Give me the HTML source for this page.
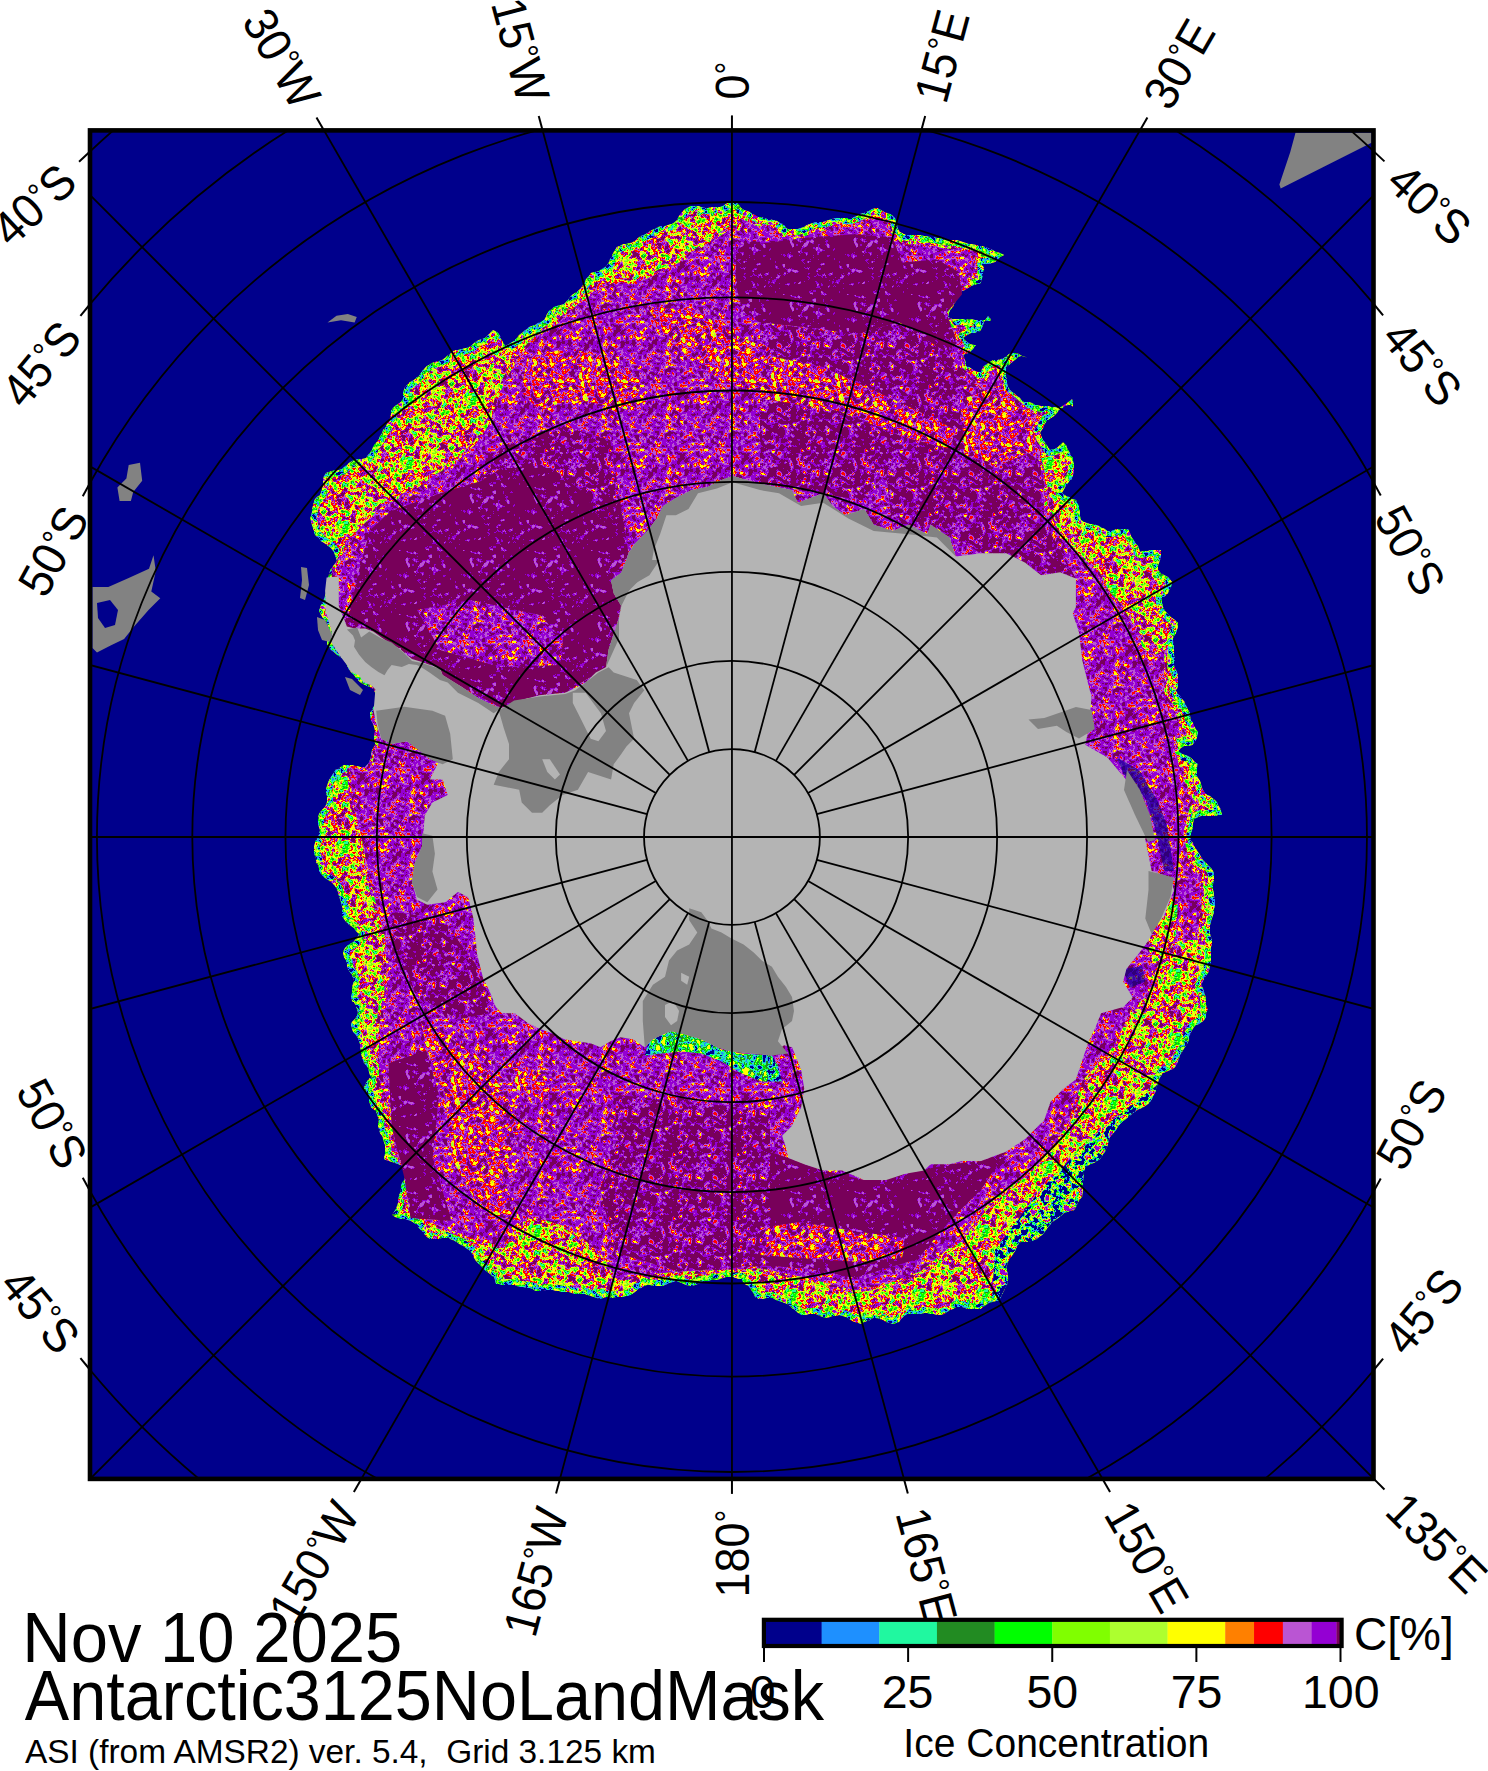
<!DOCTYPE html>
<html><head><meta charset="utf-8"><style>
html,body{margin:0;padding:0;background:#fff;}
svg{display:block;}
text{font-family:"Liberation Sans", sans-serif;}
</style></head><body>
<svg width="1488" height="1771" viewBox="0 0 1488 1771">
<defs><pattern id="tfo" width="64" height="64" patternUnits="userSpaceOnUse"><rect width="64" height="64" fill="rgb(0, 255, 0)"/><path fill="#00008c" d="M18 0h2v1h-2zM21 1h1v1h-1zM35 1h2v1h-2zM63 1h1v1h-1zM21 2h2v1h-2zM27 2h1v1h-1zM35 2h2v1h-2zM57 2h1v1h-1zM61 2h2v1h-2zM21 3h1v1h-1zM47 3h1v1h-1zM56 3h3v1h-3zM14 4h1v1h-1zM21 4h1v1h-1zM47 4h1v1h-1zM57 4h3v1h-3zM14 5h1v1h-1zM46 5h2v1h-2zM51 5h2v1h-2zM58 5h2v1h-2zM61 5h1v1h-1zM14 6h2v1h-2zM44 6h1v1h-1zM46 6h2v1h-2zM51 6h1v1h-1zM58 6h2v1h-2zM9 7h2v1h-2zM14 7h1v1h-1zM37 7h2v1h-2zM52 7h1v1h-1zM60 7h1v1h-1zM22 8h1v1h-1zM27 8h2v1h-2zM32 8h1v1h-1zM39 8h1v1h-1zM63 8h1v1h-1zM0 9h1v1h-1zM29 9h5v1h-5zM38 9h1v1h-1zM29 10h4v1h-4zM34 10h1v1h-1zM17 11h2v1h-2zM30 11h2v1h-2zM6 12h1v1h-1zM17 12h1v1h-1zM19 12h1v1h-1zM18 13h1v1h-1zM20 14h1v1h-1zM20 15h1v1h-1zM53 15h2v1h-2zM0 16h1v1h-1zM20 16h3v1h-3zM39 16h2v1h-2zM62 16h2v1h-2zM1 17h1v1h-1zM52 17h1v1h-1zM22 18h2v1h-2zM33 18h2v1h-2zM1 19h2v1h-2zM11 19h1v1h-1zM22 19h1v1h-1zM33 19h2v1h-2zM1 20h2v1h-2zM33 20h2v1h-2zM33 21h1v1h-1zM6 22h1v1h-1zM46 22h1v1h-1zM46 23h1v1h-1zM18 24h5v1h-5zM59 24h1v1h-1zM16 25h5v1h-5zM59 25h2v1h-2zM63 25h1v1h-1zM0 26h2v1h-2zM16 26h4v1h-4zM26 26h1v1h-1zM59 26h2v1h-2zM0 27h3v1h-3zM27 27h1v1h-1zM27 29h1v1h-1zM48 29h2v1h-2zM13 30h2v1h-2zM49 30h2v1h-2zM23 31h1v1h-1zM11 32h1v1h-1zM15 32h1v1h-1zM22 34h2v1h-2zM0 35h1v1h-1zM22 35h1v1h-1zM55 35h2v1h-2zM42 36h1v1h-1zM55 36h2v1h-2zM16 37h2v1h-2zM42 37h1v1h-1zM14 38h4v1h-4zM36 38h1v1h-1zM42 38h1v1h-1zM15 39h3v1h-3zM34 39h4v1h-4zM35 40h2v1h-2zM62 40h2v1h-2zM45 41h1v1h-1zM56 41h4v1h-4zM44 42h1v1h-1zM57 42h3v1h-3zM10 43h1v1h-1zM57 43h2v1h-2zM2 44h1v1h-1zM9 44h4v1h-4zM10 45h4v1h-4zM35 45h3v1h-3zM47 45h1v1h-1zM7 46h2v1h-2zM11 46h2v1h-2zM36 46h3v1h-3zM37 47h2v1h-2zM38 48h1v1h-1zM2 53h1v1h-1zM19 53h1v1h-1zM3 54h1v1h-1zM19 54h1v1h-1zM30 54h4v1h-4zM19 55h1v1h-1zM25 55h1v1h-1zM29 55h5v1h-5zM20 56h1v1h-1zM27 56h1v1h-1zM29 56h5v1h-5zM28 57h3v1h-3zM38 57h1v1h-1zM44 57h1v1h-1zM44 58h2v1h-2zM11 59h3v1h-3zM46 59h1v1h-1zM10 60h3v1h-3zM9 61h2v1h-2zM12 61h1v1h-1z"/><path fill="#1e90ff" d="M17 0h1v1h-1zM20 0h2v1h-2zM27 0h1v1h-1zM32 0h1v1h-1zM37 0h1v1h-1zM5 1h1v1h-1zM16 1h3v1h-3zM20 1h1v1h-1zM22 1h1v1h-1zM28 1h1v1h-1zM32 1h1v1h-1zM34 1h1v1h-1zM37 1h1v1h-1zM47 1h1v1h-1zM51 1h1v1h-1zM61 1h2v1h-2zM15 2h1v1h-1zM20 2h1v1h-1zM23 2h1v1h-1zM26 2h1v1h-1zM28 2h1v1h-1zM32 2h3v1h-3zM37 2h1v1h-1zM46 2h2v1h-2zM56 2h1v1h-1zM58 2h2v1h-2zM63 2h1v1h-1zM15 3h1v1h-1zM22 3h1v1h-1zM24 3h5v1h-5zM35 3h3v1h-3zM46 3h1v1h-1zM55 3h1v1h-1zM59 3h4v1h-4zM22 4h1v1h-1zM25 4h1v1h-1zM46 4h1v1h-1zM51 4h2v1h-2zM56 4h1v1h-1zM60 4h3v1h-3zM13 5h1v1h-1zM15 5h1v1h-1zM24 5h2v1h-2zM45 5h1v1h-1zM53 5h1v1h-1zM57 5h1v1h-1zM60 5h1v1h-1zM62 5h1v1h-1zM7 6h1v1h-1zM13 6h1v1h-1zM25 6h1v1h-1zM38 6h1v1h-1zM45 6h1v1h-1zM48 6h3v1h-3zM52 6h2v1h-2zM57 6h1v1h-1zM61 6h2v1h-2zM0 7h1v1h-1zM13 7h1v1h-1zM15 7h1v1h-1zM18 7h2v1h-2zM22 7h2v1h-2zM25 7h1v1h-1zM27 7h3v1h-3zM39 7h1v1h-1zM44 7h5v1h-5zM50 7h2v1h-2zM53 7h1v1h-1zM58 7h2v1h-2zM62 7h1v1h-1zM0 8h1v1h-1zM9 8h2v1h-2zM15 8h2v1h-2zM21 8h1v1h-1zM23 8h4v1h-4zM29 8h3v1h-3zM33 8h1v1h-1zM37 8h2v1h-2zM60 8h3v1h-3zM10 9h1v1h-1zM27 9h2v1h-2zM34 9h1v1h-1zM37 9h1v1h-1zM63 9h1v1h-1zM12 10h2v1h-2zM16 10h1v1h-1zM28 10h1v1h-1zM33 10h1v1h-1zM35 10h4v1h-4zM12 11h2v1h-2zM15 11h2v1h-2zM26 11h3v1h-3zM32 11h2v1h-2zM36 11h2v1h-2zM7 12h1v1h-1zM12 12h1v1h-1zM16 12h1v1h-1zM18 12h1v1h-1zM26 12h2v1h-2zM31 12h2v1h-2zM50 12h2v1h-2zM17 13h1v1h-1zM19 13h2v1h-2zM21 14h1v1h-1zM53 14h1v1h-1zM2 15h1v1h-1zM19 15h1v1h-1zM22 15h1v1h-1zM38 15h3v1h-3zM52 15h1v1h-1zM55 15h2v1h-2zM62 15h2v1h-2zM1 16h1v1h-1zM19 16h1v1h-1zM23 16h2v1h-2zM51 16h3v1h-3zM0 17h1v1h-1zM20 17h6v1h-6zM33 17h2v1h-2zM39 17h2v1h-2zM47 17h1v1h-1zM50 17h2v1h-2zM63 17h1v1h-1zM0 18h1v1h-1zM2 18h1v1h-1zM11 18h2v1h-2zM21 18h1v1h-1zM24 18h2v1h-2zM35 18h1v1h-1zM51 18h1v1h-1zM12 19h1v1h-1zM21 19h1v1h-1zM23 19h1v1h-1zM32 19h1v1h-1zM35 19h2v1h-2zM0 20h1v1h-1zM10 20h2v1h-2zM22 20h1v1h-1zM36 20h2v1h-2zM63 20h1v1h-1zM3 21h2v1h-2zM6 21h1v1h-1zM29 21h1v1h-1zM31 21h2v1h-2zM37 21h1v1h-1zM58 21h1v1h-1zM5 22h1v1h-1zM8 22h1v1h-1zM22 22h1v1h-1zM28 22h2v1h-2zM6 23h3v1h-3zM20 23h3v1h-3zM44 23h2v1h-2zM17 24h1v1h-1zM45 24h2v1h-2zM58 24h1v1h-1zM60 24h3v1h-3zM0 25h3v1h-3zM21 25h3v1h-3zM58 25h1v1h-1zM61 25h2v1h-2zM2 26h2v1h-2zM25 26h1v1h-1zM58 26h1v1h-1zM61 26h1v1h-1zM63 26h1v1h-1zM4 27h3v1h-3zM18 27h2v1h-2zM26 27h1v1h-1zM63 27h1v1h-1zM0 28h2v1h-2zM26 28h3v1h-3zM13 29h2v1h-2zM47 29h1v1h-1zM50 29h2v1h-2zM12 30h1v1h-1zM45 30h4v1h-4zM51 30h1v1h-1zM11 31h4v1h-4zM16 31h1v1h-1zM19 31h1v1h-1zM22 31h1v1h-1zM24 31h3v1h-3zM45 31h2v1h-2zM49 31h3v1h-3zM12 32h1v1h-1zM16 32h1v1h-1zM21 32h5v1h-5zM50 32h2v1h-2zM60 32h2v1h-2zM9 33h3v1h-3zM15 33h2v1h-2zM22 33h2v1h-2zM52 33h1v1h-1zM60 33h2v1h-2zM10 34h1v1h-1zM20 34h2v1h-2zM32 34h1v1h-1zM50 34h2v1h-2zM55 34h2v1h-2zM1 35h1v1h-1zM8 35h2v1h-2zM21 35h1v1h-1zM32 35h1v1h-1zM57 35h1v1h-1zM7 36h2v1h-2zM16 36h2v1h-2zM22 36h1v1h-1zM41 36h1v1h-1zM43 36h1v1h-1zM15 37h1v1h-1zM31 37h1v1h-1zM41 37h1v1h-1zM43 37h1v1h-1zM54 37h1v1h-1zM31 38h2v1h-2zM34 38h2v1h-2zM37 38h2v1h-2zM41 38h1v1h-1zM43 38h1v1h-1zM13 39h2v1h-2zM38 39h1v1h-1zM42 39h1v1h-1zM46 39h1v1h-1zM63 39h1v1h-1zM0 40h1v1h-1zM13 40h1v1h-1zM16 40h1v1h-1zM46 40h1v1h-1zM56 40h4v1h-4zM0 41h1v1h-1zM13 41h1v1h-1zM44 41h1v1h-1zM46 41h1v1h-1zM55 41h1v1h-1zM60 41h4v1h-4zM12 42h2v1h-2zM43 42h1v1h-1zM45 42h1v1h-1zM56 42h1v1h-1zM60 42h2v1h-2zM2 43h2v1h-2zM9 43h1v1h-1zM11 43h3v1h-3zM59 43h1v1h-1zM1 44h1v1h-1zM3 44h1v1h-1zM7 44h2v1h-2zM13 44h1v1h-1zM25 44h1v1h-1zM2 45h1v1h-1zM7 45h3v1h-3zM34 45h1v1h-1zM38 45h1v1h-1zM2 46h1v1h-1zM9 46h2v1h-2zM13 46h1v1h-1zM35 46h1v1h-1zM39 46h1v1h-1zM46 46h1v1h-1zM7 47h1v1h-1zM39 47h1v1h-1zM45 47h2v1h-2zM44 48h1v1h-1zM18 49h1v1h-1zM38 49h1v1h-1zM38 50h1v1h-1zM44 50h1v1h-1zM60 50h1v1h-1zM20 51h2v1h-2zM36 51h1v1h-1zM38 51h1v1h-1zM3 52h1v1h-1zM8 52h1v1h-1zM20 52h1v1h-1zM36 52h1v1h-1zM3 53h1v1h-1zM28 53h3v1h-3zM33 53h1v1h-1zM54 53h1v1h-1zM2 54h1v1h-1zM20 54h1v1h-1zM26 54h1v1h-1zM28 54h2v1h-2zM34 54h1v1h-1zM51 54h2v1h-2zM58 54h1v1h-1zM61 54h1v1h-1zM2 55h1v1h-1zM20 55h1v1h-1zM24 55h1v1h-1zM26 55h1v1h-1zM28 55h1v1h-1zM34 55h1v1h-1zM38 55h1v1h-1zM61 55h2v1h-2zM19 56h1v1h-1zM21 56h1v1h-1zM25 56h2v1h-2zM28 56h1v1h-1zM37 56h2v1h-2zM44 56h1v1h-1zM62 56h1v1h-1zM27 57h1v1h-1zM31 57h2v1h-2zM37 57h1v1h-1zM43 57h1v1h-1zM28 58h2v1h-2zM36 58h1v1h-1zM43 58h1v1h-1zM9 59h2v1h-2zM45 59h1v1h-1zM47 59h1v1h-1zM9 60h1v1h-1zM13 60h1v1h-1zM46 60h1v1h-1zM11 61h1v1h-1zM13 61h1v1h-1zM28 61h1v1h-1zM47 61h1v1h-1zM53 61h1v1h-1zM47 62h1v1h-1zM52 62h1v1h-1zM18 63h1v1h-1zM45 63h4v1h-4z"/><path fill="#20faa0" d="M4 0h2v1h-2zM16 0h1v1h-1zM26 0h1v1h-1zM28 0h1v1h-1zM31 0h1v1h-1zM36 0h1v1h-1zM44 0h4v1h-4zM62 0h2v1h-2zM0 1h1v1h-1zM4 1h1v1h-1zM8 1h1v1h-1zM19 1h1v1h-1zM26 1h2v1h-2zM30 1h2v1h-2zM33 1h1v1h-1zM38 1h1v1h-1zM46 1h1v1h-1zM52 1h1v1h-1zM59 1h2v1h-2zM0 2h1v1h-1zM9 2h1v1h-1zM16 2h2v1h-2zM25 2h1v1h-1zM29 2h1v1h-1zM31 2h1v1h-1zM38 2h1v1h-1zM55 2h1v1h-1zM60 2h1v1h-1zM14 3h1v1h-1zM16 3h1v1h-1zM20 3h1v1h-1zM23 3h1v1h-1zM29 3h1v1h-1zM34 3h1v1h-1zM48 3h1v1h-1zM53 3h1v1h-1zM63 3h1v1h-1zM15 4h1v1h-1zM20 4h1v1h-1zM23 4h2v1h-2zM26 4h1v1h-1zM29 4h1v1h-1zM45 4h1v1h-1zM48 4h1v1h-1zM53 4h1v1h-1zM21 5h1v1h-1zM44 5h1v1h-1zM50 5h1v1h-1zM8 6h5v1h-5zM16 6h1v1h-1zM21 6h2v1h-2zM24 6h1v1h-1zM29 6h1v1h-1zM36 6h2v1h-2zM60 6h1v1h-1zM7 7h2v1h-2zM11 7h2v1h-2zM16 7h2v1h-2zM21 7h1v1h-1zM24 7h1v1h-1zM26 7h1v1h-1zM30 7h1v1h-1zM40 7h1v1h-1zM43 7h1v1h-1zM49 7h1v1h-1zM61 7h1v1h-1zM63 7h1v1h-1zM1 8h1v1h-1zM8 8h1v1h-1zM11 8h3v1h-3zM17 8h3v1h-3zM34 8h1v1h-1zM40 8h1v1h-1zM48 8h1v1h-1zM52 8h2v1h-2zM59 8h1v1h-1zM1 9h1v1h-1zM9 9h1v1h-1zM11 9h1v1h-1zM14 9h3v1h-3zM18 9h1v1h-1zM23 9h2v1h-2zM35 9h2v1h-2zM39 9h2v1h-2zM52 9h1v1h-1zM61 9h2v1h-2zM1 10h1v1h-1zM11 10h1v1h-1zM14 10h1v1h-1zM17 10h2v1h-2zM52 10h1v1h-1zM7 11h1v1h-1zM11 11h1v1h-1zM14 11h1v1h-1zM19 11h1v1h-1zM25 11h1v1h-1zM29 11h1v1h-1zM34 11h2v1h-2zM49 11h4v1h-4zM11 12h1v1h-1zM13 12h3v1h-3zM20 12h1v1h-1zM25 12h1v1h-1zM28 12h1v1h-1zM30 12h1v1h-1zM35 12h2v1h-2zM49 12h1v1h-1zM52 12h1v1h-1zM2 13h1v1h-1zM6 13h3v1h-3zM11 13h3v1h-3zM16 13h1v1h-1zM26 13h2v1h-2zM31 13h1v1h-1zM36 13h2v1h-2zM50 13h2v1h-2zM53 13h1v1h-1zM62 13h1v1h-1zM2 14h2v1h-2zM12 14h1v1h-1zM17 14h3v1h-3zM22 14h1v1h-1zM36 14h1v1h-1zM51 14h2v1h-2zM54 14h1v1h-1zM62 14h1v1h-1zM0 15h2v1h-2zM12 15h1v1h-1zM21 15h1v1h-1zM37 15h1v1h-1zM51 15h1v1h-1zM61 15h1v1h-1zM3 16h2v1h-2zM25 16h1v1h-1zM32 16h1v1h-1zM38 16h1v1h-1zM41 16h1v1h-1zM47 16h1v1h-1zM54 16h2v1h-2zM61 16h1v1h-1zM19 17h1v1h-1zM46 17h1v1h-1zM53 17h1v1h-1zM1 18h1v1h-1zM3 18h1v1h-1zM20 18h1v1h-1zM26 18h1v1h-1zM36 18h1v1h-1zM46 18h2v1h-2zM52 18h1v1h-1zM0 19h1v1h-1zM3 19h1v1h-1zM20 19h1v1h-1zM24 19h3v1h-3zM37 19h1v1h-1zM47 19h2v1h-2zM3 20h1v1h-1zM12 20h1v1h-1zM21 20h1v1h-1zM25 20h1v1h-1zM32 20h1v1h-1zM35 20h1v1h-1zM38 20h1v1h-1zM58 20h1v1h-1zM1 21h2v1h-2zM5 21h1v1h-1zM7 21h6v1h-6zM20 21h3v1h-3zM26 21h2v1h-2zM30 21h1v1h-1zM34 21h1v1h-1zM46 21h2v1h-2zM62 21h1v1h-1zM2 22h1v1h-1zM4 22h1v1h-1zM7 22h1v1h-1zM21 22h1v1h-1zM33 22h1v1h-1zM45 22h1v1h-1zM47 22h1v1h-1zM58 22h1v1h-1zM63 22h1v1h-1zM4 23h2v1h-2zM13 23h1v1h-1zM47 23h1v1h-1zM0 24h1v1h-1zM6 24h2v1h-2zM16 24h1v1h-1zM44 24h1v1h-1zM56 24h1v1h-1zM63 24h1v1h-1zM4 25h2v1h-2zM7 25h1v1h-1zM15 25h1v1h-1zM37 25h1v1h-1zM4 26h4v1h-4zM9 26h1v1h-1zM20 26h1v1h-1zM24 26h1v1h-1zM27 26h2v1h-2zM35 26h3v1h-3zM56 26h2v1h-2zM62 26h1v1h-1zM3 27h1v1h-1zM7 27h3v1h-3zM25 27h1v1h-1zM28 27h2v1h-2zM36 27h1v1h-1zM38 27h2v1h-2zM56 27h1v1h-1zM61 27h1v1h-1zM2 28h1v1h-1zM4 28h2v1h-2zM13 28h1v1h-1zM38 28h1v1h-1zM40 28h1v1h-1zM45 28h6v1h-6zM63 28h1v1h-1zM12 29h1v1h-1zM26 29h1v1h-1zM28 29h2v1h-2zM45 29h2v1h-2zM11 30h1v1h-1zM18 30h1v1h-1zM23 30h2v1h-2zM26 30h3v1h-3zM52 30h1v1h-1zM15 31h1v1h-1zM17 31h2v1h-2zM20 31h2v1h-2zM27 31h1v1h-1zM47 31h2v1h-2zM52 31h1v1h-1zM60 31h1v1h-1zM13 32h1v1h-1zM17 32h3v1h-3zM26 32h1v1h-1zM45 32h1v1h-1zM52 32h1v1h-1zM59 32h1v1h-1zM17 33h1v1h-1zM21 33h1v1h-1zM24 33h2v1h-2zM32 33h2v1h-2zM50 33h2v1h-2zM53 33h1v1h-1zM59 33h1v1h-1zM63 33h1v1h-1zM0 34h1v1h-1zM8 34h2v1h-2zM11 34h1v1h-1zM15 34h2v1h-2zM24 34h1v1h-1zM31 34h1v1h-1zM33 34h1v1h-1zM35 34h1v1h-1zM52 34h3v1h-3zM57 34h1v1h-1zM59 34h1v1h-1zM61 34h1v1h-1zM63 34h1v1h-1zM18 35h2v1h-2zM23 35h1v1h-1zM31 35h1v1h-1zM33 35h1v1h-1zM42 35h2v1h-2zM1 36h1v1h-1zM6 36h1v1h-1zM9 36h1v1h-1zM15 36h1v1h-1zM18 36h1v1h-1zM23 36h1v1h-1zM29 36h4v1h-4zM54 36h1v1h-1zM57 36h1v1h-1zM0 37h1v1h-1zM8 37h1v1h-1zM18 37h1v1h-1zM28 37h3v1h-3zM32 37h1v1h-1zM44 37h3v1h-3zM55 37h1v1h-1zM0 38h1v1h-1zM13 38h1v1h-1zM18 38h1v1h-1zM29 38h2v1h-2zM33 38h1v1h-1zM63 38h1v1h-1zM0 39h1v1h-1zM18 39h1v1h-1zM33 39h1v1h-1zM41 39h1v1h-1zM43 39h1v1h-1zM45 39h1v1h-1zM62 39h1v1h-1zM14 40h1v1h-1zM17 40h1v1h-1zM34 40h1v1h-1zM37 40h1v1h-1zM45 40h1v1h-1zM47 40h1v1h-1zM55 40h1v1h-1zM60 40h2v1h-2zM12 41h1v1h-1zM47 41h1v1h-1zM0 42h1v1h-1zM4 42h2v1h-2zM11 42h1v1h-1zM46 42h2v1h-2zM55 42h1v1h-1zM0 43h2v1h-2zM4 43h1v1h-1zM8 43h1v1h-1zM14 43h1v1h-1zM31 43h1v1h-1zM45 43h2v1h-2zM56 43h1v1h-1zM60 43h1v1h-1zM14 44h3v1h-3zM31 44h1v1h-1zM36 44h2v1h-2zM54 44h1v1h-1zM58 44h1v1h-1zM1 45h1v1h-1zM3 45h1v1h-1zM14 45h1v1h-1zM24 45h3v1h-3zM31 45h1v1h-1zM39 45h1v1h-1zM46 45h1v1h-1zM3 46h4v1h-4zM29 46h2v1h-2zM33 46h2v1h-2zM45 46h1v1h-1zM47 46h2v1h-2zM63 46h1v1h-1zM4 47h1v1h-1zM6 47h1v1h-1zM8 47h4v1h-4zM30 47h1v1h-1zM36 47h1v1h-1zM44 47h1v1h-1zM48 47h1v1h-1zM51 47h2v1h-2zM3 48h1v1h-1zM7 48h1v1h-1zM18 48h1v1h-1zM26 48h1v1h-1zM28 48h1v1h-1zM37 48h1v1h-1zM45 48h1v1h-1zM51 48h1v1h-1zM26 49h4v1h-4zM43 49h3v1h-3zM20 50h1v1h-1zM26 50h1v1h-1zM28 50h1v1h-1zM37 50h1v1h-1zM39 50h2v1h-2zM43 50h1v1h-1zM45 50h1v1h-1zM61 50h1v1h-1zM22 51h1v1h-1zM28 51h1v1h-1zM33 51h3v1h-3zM37 51h1v1h-1zM1 52h2v1h-2zM4 52h1v1h-1zM7 52h1v1h-1zM19 52h1v1h-1zM28 52h2v1h-2zM34 52h2v1h-2zM37 52h1v1h-1zM39 52h1v1h-1zM4 53h2v1h-2zM7 53h1v1h-1zM20 53h1v1h-1zM27 53h1v1h-1zM31 53h1v1h-1zM35 53h3v1h-3zM45 53h1v1h-1zM51 53h1v1h-1zM58 53h2v1h-2zM61 53h2v1h-2zM4 54h1v1h-1zM18 54h1v1h-1zM24 54h2v1h-2zM35 54h1v1h-1zM37 54h1v1h-1zM53 54h2v1h-2zM59 54h2v1h-2zM62 54h1v1h-1zM3 55h1v1h-1zM18 55h1v1h-1zM27 55h1v1h-1zM35 55h3v1h-3zM44 55h2v1h-2zM52 55h2v1h-2zM17 56h1v1h-1zM24 56h1v1h-1zM36 56h1v1h-1zM53 56h1v1h-1zM61 56h1v1h-1zM12 57h1v1h-1zM19 57h3v1h-3zM39 57h1v1h-1zM45 57h1v1h-1zM47 57h1v1h-1zM53 57h1v1h-1zM62 57h1v1h-1zM10 58h2v1h-2zM21 58h1v1h-1zM27 58h1v1h-1zM30 58h1v1h-1zM37 58h1v1h-1zM40 58h1v1h-1zM46 58h2v1h-2zM53 58h2v1h-2zM14 59h1v1h-1zM27 59h2v1h-2zM44 59h1v1h-1zM53 59h1v1h-1zM26 60h3v1h-3zM47 60h1v1h-1zM53 60h1v1h-1zM59 60h1v1h-1zM5 61h1v1h-1zM7 61h1v1h-1zM27 61h1v1h-1zM46 61h1v1h-1zM52 61h1v1h-1zM5 62h2v1h-2zM27 62h2v1h-2zM39 62h1v1h-1zM45 62h2v1h-2zM48 62h1v1h-1zM51 62h1v1h-1zM4 63h1v1h-1zM6 63h1v1h-1zM17 63h1v1h-1zM19 63h1v1h-1zM27 63h1v1h-1zM31 63h2v1h-2zM37 63h3v1h-3z"/><path fill="#228b22" d="M6 0h1v1h-1zM22 0h1v1h-1zM30 0h1v1h-1zM35 0h1v1h-1zM48 0h1v1h-1zM60 0h2v1h-2zM6 1h1v1h-1zM45 1h1v1h-1zM58 1h1v1h-1zM14 2h1v1h-1zM18 2h1v1h-1zM45 2h1v1h-1zM51 2h2v1h-2zM30 3h4v1h-4zM38 3h1v1h-1zM52 3h1v1h-1zM54 3h1v1h-1zM13 4h1v1h-1zM34 4h1v1h-1zM63 4h1v1h-1zM12 5h1v1h-1zM26 5h1v1h-1zM30 5h1v1h-1zM43 5h1v1h-1zM48 5h1v1h-1zM56 5h1v1h-1zM63 5h1v1h-1zM6 6h1v1h-1zM23 6h1v1h-1zM26 6h1v1h-1zM43 6h1v1h-1zM63 6h1v1h-1zM20 7h1v1h-1zM54 7h1v1h-1zM7 8h1v1h-1zM14 8h1v1h-1zM36 8h1v1h-1zM47 8h1v1h-1zM58 8h1v1h-1zM17 9h1v1h-1zM22 9h1v1h-1zM26 9h1v1h-1zM53 9h1v1h-1zM0 10h1v1h-1zM10 10h1v1h-1zM15 10h1v1h-1zM27 10h1v1h-1zM39 10h1v1h-1zM51 10h1v1h-1zM53 10h1v1h-1zM6 11h1v1h-1zM5 12h1v1h-1zM8 12h1v1h-1zM29 12h1v1h-1zM37 12h1v1h-1zM1 13h1v1h-1zM3 13h1v1h-1zM32 13h1v1h-1zM52 13h1v1h-1zM0 14h2v1h-2zM13 14h1v1h-1zM31 14h1v1h-1zM35 14h1v1h-1zM37 14h1v1h-1zM39 14h1v1h-1zM55 14h1v1h-1zM61 14h1v1h-1zM63 14h1v1h-1zM3 15h1v1h-1zM13 15h1v1h-1zM33 15h3v1h-3zM2 16h1v1h-1zM33 16h2v1h-2zM2 17h1v1h-1zM31 17h2v1h-2zM35 17h1v1h-1zM38 17h1v1h-1zM32 18h1v1h-1zM48 18h1v1h-1zM53 18h1v1h-1zM10 19h1v1h-1zM19 20h2v1h-2zM46 20h2v1h-2zM59 20h1v1h-1zM0 21h1v1h-1zM28 21h1v1h-1zM36 21h1v1h-1zM56 21h2v1h-2zM63 21h1v1h-1zM3 22h1v1h-1zM9 22h1v1h-1zM12 22h2v1h-2zM20 22h1v1h-1zM27 22h1v1h-1zM30 22h1v1h-1zM32 22h1v1h-1zM55 22h1v1h-1zM14 23h1v1h-1zM19 23h1v1h-1zM28 23h1v1h-1zM63 23h1v1h-1zM4 24h2v1h-2zM8 24h1v1h-1zM12 24h1v1h-1zM23 24h1v1h-1zM57 24h1v1h-1zM3 25h1v1h-1zM6 25h1v1h-1zM8 25h1v1h-1zM26 25h1v1h-1zM41 25h1v1h-1zM44 25h2v1h-2zM57 25h1v1h-1zM8 26h1v1h-1zM22 26h2v1h-2zM29 26h1v1h-1zM39 26h3v1h-3zM45 26h1v1h-1zM37 27h1v1h-1zM41 27h2v1h-2zM60 27h1v1h-1zM7 28h1v1h-1zM14 28h1v1h-1zM19 28h1v1h-1zM29 28h1v1h-1zM33 29h1v1h-1zM41 29h1v1h-1zM15 30h2v1h-2zM19 30h1v1h-1zM25 30h1v1h-1zM29 30h2v1h-2zM35 31h2v1h-2zM59 31h1v1h-1zM61 31h1v1h-1zM14 32h1v1h-1zM20 32h1v1h-1zM49 32h1v1h-1zM20 33h1v1h-1zM56 33h3v1h-3zM62 33h1v1h-1zM1 34h1v1h-1zM58 34h1v1h-1zM7 35h1v1h-1zM15 35h1v1h-1zM20 35h1v1h-1zM41 35h1v1h-1zM49 35h3v1h-3zM0 36h1v1h-1zM46 36h2v1h-2zM1 37h1v1h-1zM7 37h1v1h-1zM14 37h1v1h-1zM19 37h1v1h-1zM35 37h1v1h-1zM47 37h1v1h-1zM56 37h1v1h-1zM20 38h1v1h-1zM39 38h1v1h-1zM44 38h2v1h-2zM47 38h1v1h-1zM30 39h3v1h-3zM39 39h1v1h-1zM44 39h1v1h-1zM33 40h1v1h-1zM43 40h1v1h-1zM36 41h1v1h-1zM43 41h1v1h-1zM1 42h1v1h-1zM10 42h1v1h-1zM42 42h1v1h-1zM62 42h1v1h-1zM5 43h2v1h-2zM30 43h1v1h-1zM43 43h1v1h-1zM55 43h1v1h-1zM0 44h1v1h-1zM24 44h1v1h-1zM32 44h1v1h-1zM47 44h2v1h-2zM57 44h1v1h-1zM59 44h1v1h-1zM0 45h1v1h-1zM6 45h1v1h-1zM29 45h2v1h-2zM33 45h1v1h-1zM45 45h1v1h-1zM31 46h1v1h-1zM5 47h1v1h-1zM32 47h1v1h-1zM43 47h1v1h-1zM47 47h1v1h-1zM50 47h1v1h-1zM6 48h1v1h-1zM8 48h1v1h-1zM17 48h1v1h-1zM31 48h1v1h-1zM43 48h1v1h-1zM46 48h1v1h-1zM3 49h1v1h-1zM17 49h1v1h-1zM39 49h1v1h-1zM62 49h1v1h-1zM18 50h1v1h-1zM21 50h1v1h-1zM33 50h1v1h-1zM42 50h1v1h-1zM46 50h1v1h-1zM62 50h1v1h-1zM8 51h1v1h-1zM19 51h1v1h-1zM27 51h1v1h-1zM39 51h2v1h-2zM44 51h2v1h-2zM60 51h2v1h-2zM0 52h1v1h-1zM5 52h1v1h-1zM21 52h1v1h-1zM38 52h1v1h-1zM40 52h1v1h-1zM44 52h1v1h-1zM50 52h2v1h-2zM54 52h1v1h-1zM1 53h1v1h-1zM6 53h1v1h-1zM8 53h1v1h-1zM25 53h1v1h-1zM32 53h1v1h-1zM34 53h1v1h-1zM40 53h1v1h-1zM50 53h1v1h-1zM52 53h2v1h-2zM55 53h1v1h-1zM60 53h1v1h-1zM6 54h1v1h-1zM21 54h1v1h-1zM27 54h1v1h-1zM36 54h1v1h-1zM38 54h1v1h-1zM44 54h2v1h-2zM50 54h1v1h-1zM11 55h1v1h-1zM21 55h1v1h-1zM39 55h1v1h-1zM54 55h1v1h-1zM60 55h1v1h-1zM2 56h1v1h-1zM18 56h1v1h-1zM22 56h1v1h-1zM34 56h2v1h-2zM43 56h1v1h-1zM54 56h1v1h-1zM9 58h1v1h-1zM12 58h1v1h-1zM26 58h1v1h-1zM31 58h1v1h-1zM38 58h1v1h-1zM48 58h1v1h-1zM20 59h2v1h-2zM29 59h1v1h-1zM35 59h2v1h-2zM41 59h2v1h-2zM48 59h1v1h-1zM7 60h2v1h-2zM14 60h1v1h-1zM21 60h1v1h-1zM41 60h1v1h-1zM52 60h1v1h-1zM29 61h1v1h-1zM45 61h1v1h-1zM56 61h1v1h-1zM60 61h1v1h-1zM7 62h5v1h-5zM22 62h1v1h-1zM38 62h1v1h-1zM5 63h1v1h-1zM8 63h2v1h-2zM52 63h1v1h-1z"/><path fill="#7fff00" d="M7 0h1v1h-1zM14 0h2v1h-2zM25 0h1v1h-1zM29 0h1v1h-1zM42 0h1v1h-1zM49 0h1v1h-1zM52 0h1v1h-1zM58 0h2v1h-2zM2 1h2v1h-2zM12 1h1v1h-1zM39 1h1v1h-1zM42 1h1v1h-1zM49 1h2v1h-2zM54 1h1v1h-1zM4 2h1v1h-1zM13 2h1v1h-1zM49 2h1v1h-1zM8 3h1v1h-1zM13 3h1v1h-1zM39 3h1v1h-1zM44 3h1v1h-1zM50 3h1v1h-1zM7 4h2v1h-2zM11 4h2v1h-2zM19 4h1v1h-1zM27 4h2v1h-2zM36 4h2v1h-2zM39 4h1v1h-1zM44 4h1v1h-1zM50 4h1v1h-1zM0 5h1v1h-1zM9 5h1v1h-1zM23 5h1v1h-1zM29 5h1v1h-1zM33 5h2v1h-2zM40 5h1v1h-1zM54 5h2v1h-2zM0 6h1v1h-1zM4 6h1v1h-1zM17 6h2v1h-2zM35 6h1v1h-1zM40 6h1v1h-1zM54 6h1v1h-1zM5 7h1v1h-1zM35 7h1v1h-1zM42 7h1v1h-1zM6 8h1v1h-1zM43 8h1v1h-1zM45 8h1v1h-1zM51 8h1v1h-1zM57 8h1v1h-1zM7 9h1v1h-1zM13 9h1v1h-1zM19 9h2v1h-2zM41 9h1v1h-1zM46 9h1v1h-1zM51 9h1v1h-1zM2 10h1v1h-1zM7 10h3v1h-3zM24 10h1v1h-1zM62 10h2v1h-2zM24 11h1v1h-1zM39 11h1v1h-1zM44 11h1v1h-1zM53 11h1v1h-1zM57 11h1v1h-1zM0 12h1v1h-1zM9 12h1v1h-1zM38 12h1v1h-1zM63 12h1v1h-1zM15 13h1v1h-1zM34 13h1v1h-1zM38 13h1v1h-1zM57 13h1v1h-1zM61 13h1v1h-1zM4 14h1v1h-1zM8 14h1v1h-1zM16 14h1v1h-1zM30 14h1v1h-1zM32 14h1v1h-1zM4 15h1v1h-1zM11 15h1v1h-1zM16 15h2v1h-2zM24 15h2v1h-2zM31 15h1v1h-1zM36 15h1v1h-1zM41 15h1v1h-1zM47 15h2v1h-2zM57 15h1v1h-1zM60 15h1v1h-1zM5 16h2v1h-2zM12 16h1v1h-1zM16 16h2v1h-2zM35 16h3v1h-3zM42 16h1v1h-1zM46 16h1v1h-1zM50 16h1v1h-1zM60 16h1v1h-1zM6 17h1v1h-1zM17 17h1v1h-1zM49 17h1v1h-1zM60 17h1v1h-1zM5 18h3v1h-3zM13 18h1v1h-1zM19 18h1v1h-1zM31 18h1v1h-1zM40 18h1v1h-1zM49 18h2v1h-2zM63 18h1v1h-1zM5 19h5v1h-5zM19 19h1v1h-1zM31 19h1v1h-1zM45 19h1v1h-1zM49 19h1v1h-1zM52 19h2v1h-2zM6 20h1v1h-1zM8 20h1v1h-1zM24 20h1v1h-1zM28 20h2v1h-2zM31 20h1v1h-1zM43 20h1v1h-1zM48 20h1v1h-1zM13 21h1v1h-1zM24 21h1v1h-1zM38 21h1v1h-1zM55 21h1v1h-1zM10 22h1v1h-1zM26 22h1v1h-1zM34 22h1v1h-1zM36 22h1v1h-1zM38 22h1v1h-1zM59 22h1v1h-1zM61 22h1v1h-1zM0 23h1v1h-1zM3 23h1v1h-1zM15 23h1v1h-1zM25 23h1v1h-1zM29 23h1v1h-1zM37 23h1v1h-1zM57 23h1v1h-1zM60 23h2v1h-2zM3 24h1v1h-1zM10 24h2v1h-2zM42 24h1v1h-1zM55 24h1v1h-1zM9 25h1v1h-1zM14 25h1v1h-1zM31 25h1v1h-1zM42 25h1v1h-1zM31 26h2v1h-2zM43 26h2v1h-2zM46 26h1v1h-1zM55 26h1v1h-1zM15 27h1v1h-1zM23 27h1v1h-1zM34 27h1v1h-1zM47 27h1v1h-1zM50 27h1v1h-1zM6 28h1v1h-1zM8 28h1v1h-1zM12 28h1v1h-1zM18 28h1v1h-1zM25 28h1v1h-1zM32 28h2v1h-2zM36 28h2v1h-2zM43 28h1v1h-1zM51 28h1v1h-1zM3 29h2v1h-2zM6 29h1v1h-1zM10 29h2v1h-2zM15 29h1v1h-1zM24 29h1v1h-1zM30 29h1v1h-1zM34 29h2v1h-2zM40 29h1v1h-1zM52 29h1v1h-1zM17 30h1v1h-1zM20 30h1v1h-1zM31 30h2v1h-2zM34 30h2v1h-2zM40 30h2v1h-2zM62 30h2v1h-2zM30 31h1v1h-1zM32 31h3v1h-3zM41 31h1v1h-1zM44 31h1v1h-1zM58 31h1v1h-1zM62 31h2v1h-2zM27 32h1v1h-1zM31 32h1v1h-1zM33 32h1v1h-1zM41 32h1v1h-1zM46 32h2v1h-2zM57 32h1v1h-1zM62 32h1v1h-1zM1 33h1v1h-1zM13 33h1v1h-1zM30 33h1v1h-1zM2 34h1v1h-1zM14 34h1v1h-1zM19 34h1v1h-1zM30 34h1v1h-1zM36 34h1v1h-1zM45 34h1v1h-1zM49 34h1v1h-1zM5 35h2v1h-2zM10 35h2v1h-2zM14 35h1v1h-1zM30 35h1v1h-1zM34 35h3v1h-3zM39 35h2v1h-2zM44 35h2v1h-2zM48 35h1v1h-1zM53 35h2v1h-2zM59 35h2v1h-2zM62 35h1v1h-1zM14 36h1v1h-1zM45 36h1v1h-1zM53 36h1v1h-1zM61 36h2v1h-2zM2 37h1v1h-1zM12 37h2v1h-2zM20 37h1v1h-1zM33 37h1v1h-1zM48 37h1v1h-1zM53 37h1v1h-1zM59 37h1v1h-1zM61 37h2v1h-2zM12 38h1v1h-1zM51 38h2v1h-2zM54 38h2v1h-2zM12 39h1v1h-1zM20 39h1v1h-1zM27 39h1v1h-1zM29 39h1v1h-1zM40 39h1v1h-1zM53 39h2v1h-2zM58 39h1v1h-1zM28 40h2v1h-2zM39 40h1v1h-1zM48 40h1v1h-1zM11 41h1v1h-1zM16 41h1v1h-1zM28 41h1v1h-1zM31 41h2v1h-2zM34 41h1v1h-1zM38 41h1v1h-1zM14 42h1v1h-1zM21 42h1v1h-1zM28 42h1v1h-1zM32 42h1v1h-1zM35 42h1v1h-1zM41 42h1v1h-1zM54 42h1v1h-1zM16 43h2v1h-2zM32 43h1v1h-1zM35 43h2v1h-2zM39 43h3v1h-3zM49 43h1v1h-1zM52 43h1v1h-1zM4 44h2v1h-2zM27 44h1v1h-1zM29 44h2v1h-2zM33 44h3v1h-3zM39 44h2v1h-2zM43 44h1v1h-1zM45 44h1v1h-1zM49 44h2v1h-2zM53 44h1v1h-1zM60 44h1v1h-1zM63 44h1v1h-1zM5 45h1v1h-1zM27 45h1v1h-1zM40 45h1v1h-1zM51 45h4v1h-4zM58 45h1v1h-1zM62 45h2v1h-2zM0 46h2v1h-2zM15 46h1v1h-1zM25 46h1v1h-1zM54 46h1v1h-1zM62 46h1v1h-1zM0 47h2v1h-2zM25 47h1v1h-1zM27 47h1v1h-1zM33 47h1v1h-1zM40 47h1v1h-1zM49 47h1v1h-1zM62 47h1v1h-1zM1 48h1v1h-1zM5 48h1v1h-1zM9 48h1v1h-1zM34 48h1v1h-1zM42 48h1v1h-1zM47 48h1v1h-1zM50 48h1v1h-1zM62 48h2v1h-2zM2 49h1v1h-1zM4 49h1v1h-1zM7 49h1v1h-1zM25 49h1v1h-1zM30 49h1v1h-1zM33 49h1v1h-1zM42 49h1v1h-1zM49 49h1v1h-1zM17 50h1v1h-1zM32 50h1v1h-1zM48 50h2v1h-2zM52 50h1v1h-1zM59 50h1v1h-1zM2 51h1v1h-1zM4 51h2v1h-2zM7 51h1v1h-1zM26 51h1v1h-1zM49 51h1v1h-1zM52 51h2v1h-2zM59 51h1v1h-1zM63 51h1v1h-1zM13 52h1v1h-1zM18 52h1v1h-1zM27 52h1v1h-1zM32 52h1v1h-1zM46 52h1v1h-1zM49 52h1v1h-1zM52 52h1v1h-1zM57 52h2v1h-2zM13 53h2v1h-2zM21 53h1v1h-1zM41 53h1v1h-1zM44 53h1v1h-1zM63 53h1v1h-1zM0 54h1v1h-1zM7 54h1v1h-1zM11 54h1v1h-1zM39 54h1v1h-1zM43 54h1v1h-1zM46 54h1v1h-1zM6 55h1v1h-1zM43 55h1v1h-1zM55 55h1v1h-1zM58 55h1v1h-1zM1 56h1v1h-1zM46 56h4v1h-4zM1 57h2v1h-2zM16 57h1v1h-1zM18 57h1v1h-1zM40 57h1v1h-1zM42 57h1v1h-1zM55 57h1v1h-1zM0 58h1v1h-1zM14 58h3v1h-3zM20 58h1v1h-1zM25 58h1v1h-1zM35 58h1v1h-1zM41 58h1v1h-1zM49 58h1v1h-1zM52 58h1v1h-1zM60 58h2v1h-2zM4 59h3v1h-3zM15 59h1v1h-1zM24 59h2v1h-2zM52 59h1v1h-1zM57 59h1v1h-1zM60 59h1v1h-1zM1 60h1v1h-1zM24 60h2v1h-2zM29 60h1v1h-1zM34 60h1v1h-1zM37 60h1v1h-1zM40 60h1v1h-1zM61 60h1v1h-1zM14 61h1v1h-1zM25 61h1v1h-1zM35 61h1v1h-1zM37 61h3v1h-3zM48 61h1v1h-1zM63 61h1v1h-1zM14 62h1v1h-1zM16 62h1v1h-1zM18 62h1v1h-1zM26 62h1v1h-1zM55 62h1v1h-1zM57 62h1v1h-1zM62 62h1v1h-1zM1 63h1v1h-1zM3 63h1v1h-1zM11 63h1v1h-1zM13 63h1v1h-1zM36 63h1v1h-1zM42 63h1v1h-1zM49 63h2v1h-2z"/><path fill="#adff2f" d="M10 0h1v1h-1zM12 0h1v1h-1zM34 0h1v1h-1zM43 0h1v1h-1zM53 0h1v1h-1zM55 0h3v1h-3zM7 1h1v1h-1zM24 1h1v1h-1zM55 1h1v1h-1zM1 2h3v1h-3zM6 2h2v1h-2zM10 2h3v1h-3zM40 2h1v1h-1zM4 3h1v1h-1zM6 3h2v1h-2zM9 3h1v1h-1zM18 3h1v1h-1zM40 3h4v1h-4zM0 4h1v1h-1zM9 4h2v1h-2zM17 4h1v1h-1zM40 4h1v1h-1zM43 4h1v1h-1zM49 4h1v1h-1zM16 5h1v1h-1zM20 5h1v1h-1zM28 5h1v1h-1zM32 5h1v1h-1zM42 5h1v1h-1zM19 6h1v1h-1zM27 6h1v1h-1zM31 6h2v1h-2zM34 6h1v1h-1zM55 6h1v1h-1zM1 7h1v1h-1zM4 7h1v1h-1zM33 7h1v1h-1zM41 7h1v1h-1zM56 7h1v1h-1zM2 8h1v1h-1zM42 8h1v1h-1zM49 8h2v1h-2zM2 9h1v1h-1zM6 9h1v1h-1zM21 9h1v1h-1zM45 9h1v1h-1zM50 9h1v1h-1zM58 9h1v1h-1zM6 10h1v1h-1zM23 10h1v1h-1zM44 10h1v1h-1zM47 10h1v1h-1zM58 10h1v1h-1zM0 11h2v1h-2zM8 11h2v1h-2zM43 11h1v1h-1zM45 11h1v1h-1zM47 11h1v1h-1zM54 11h1v1h-1zM58 11h1v1h-1zM61 11h3v1h-3zM1 12h3v1h-3zM10 12h1v1h-1zM43 12h1v1h-1zM46 12h1v1h-1zM54 12h5v1h-5zM61 12h1v1h-1zM9 13h1v1h-1zM23 13h1v1h-1zM28 13h2v1h-2zM33 13h1v1h-1zM39 13h1v1h-1zM48 13h1v1h-1zM56 13h1v1h-1zM58 13h1v1h-1zM9 14h1v1h-1zM14 14h1v1h-1zM24 14h3v1h-3zM29 14h1v1h-1zM40 14h1v1h-1zM48 14h1v1h-1zM57 14h1v1h-1zM59 14h2v1h-2zM7 15h1v1h-1zM14 15h1v1h-1zM29 15h1v1h-1zM49 15h1v1h-1zM58 15h2v1h-2zM13 16h2v1h-2zM29 16h1v1h-1zM57 16h3v1h-3zM7 17h1v1h-1zM16 17h1v1h-1zM29 17h1v1h-1zM36 17h1v1h-1zM42 17h1v1h-1zM44 17h1v1h-1zM55 17h1v1h-1zM59 17h1v1h-1zM61 17h1v1h-1zM10 18h1v1h-1zM17 18h2v1h-2zM27 18h1v1h-1zM30 18h1v1h-1zM41 18h1v1h-1zM44 18h1v1h-1zM59 18h2v1h-2zM62 18h1v1h-1zM13 19h1v1h-1zM28 19h1v1h-1zM30 19h1v1h-1zM39 19h1v1h-1zM57 19h1v1h-1zM59 19h1v1h-1zM63 19h1v1h-1zM30 20h1v1h-1zM44 20h1v1h-1zM60 20h2v1h-2zM18 21h1v1h-1zM25 21h1v1h-1zM44 21h1v1h-1zM60 21h1v1h-1zM0 22h2v1h-2zM15 22h1v1h-1zM35 22h1v1h-1zM60 22h1v1h-1zM10 23h1v1h-1zM16 23h1v1h-1zM18 23h1v1h-1zM24 23h1v1h-1zM26 23h1v1h-1zM30 23h5v1h-5zM36 23h1v1h-1zM38 23h1v1h-1zM24 24h2v1h-2zM29 24h2v1h-2zM33 24h1v1h-1zM38 24h1v1h-1zM40 24h2v1h-2zM10 25h3v1h-3zM29 25h2v1h-2zM32 25h1v1h-1zM34 25h2v1h-2zM43 25h1v1h-1zM47 25h1v1h-1zM11 26h1v1h-1zM33 26h1v1h-1zM54 26h1v1h-1zM10 27h1v1h-1zM12 27h2v1h-2zM30 27h2v1h-2zM33 27h1v1h-1zM49 27h1v1h-1zM51 27h1v1h-1zM55 27h1v1h-1zM10 28h1v1h-1zM15 28h2v1h-2zM20 28h1v1h-1zM24 28h1v1h-1zM30 28h1v1h-1zM34 28h2v1h-2zM58 28h1v1h-1zM62 28h1v1h-1zM0 29h3v1h-3zM5 29h1v1h-1zM7 29h1v1h-1zM9 29h1v1h-1zM17 29h1v1h-1zM20 29h1v1h-1zM31 29h1v1h-1zM36 29h3v1h-3zM42 29h2v1h-2zM53 29h1v1h-1zM63 29h1v1h-1zM5 30h1v1h-1zM10 30h1v1h-1zM21 30h1v1h-1zM36 30h1v1h-1zM42 30h2v1h-2zM59 30h1v1h-1zM61 30h1v1h-1zM6 31h1v1h-1zM10 31h1v1h-1zM29 31h1v1h-1zM31 31h1v1h-1zM43 31h1v1h-1zM0 32h1v1h-1zM28 32h2v1h-2zM43 32h1v1h-1zM48 32h1v1h-1zM54 32h1v1h-1zM56 32h1v1h-1zM2 33h1v1h-1zM29 33h1v1h-1zM34 33h1v1h-1zM37 33h1v1h-1zM46 33h1v1h-1zM49 33h1v1h-1zM3 34h2v1h-2zM7 34h1v1h-1zM13 34h1v1h-1zM25 34h1v1h-1zM29 34h1v1h-1zM37 34h2v1h-2zM40 34h1v1h-1zM42 34h1v1h-1zM44 34h1v1h-1zM12 35h2v1h-2zM24 35h1v1h-1zM47 35h1v1h-1zM3 36h1v1h-1zM5 36h1v1h-1zM24 36h1v1h-1zM27 36h1v1h-1zM33 36h5v1h-5zM39 36h1v1h-1zM50 36h1v1h-1zM59 36h1v1h-1zM3 37h1v1h-1zM10 37h1v1h-1zM23 37h1v1h-1zM27 37h1v1h-1zM52 37h1v1h-1zM58 37h1v1h-1zM1 38h1v1h-1zM8 38h3v1h-3zM21 38h1v1h-1zM48 38h1v1h-1zM56 38h1v1h-1zM58 38h1v1h-1zM61 38h1v1h-1zM1 39h1v1h-1zM19 39h1v1h-1zM28 39h1v1h-1zM48 39h1v1h-1zM51 39h2v1h-2zM57 39h1v1h-1zM59 39h2v1h-2zM5 40h1v1h-1zM32 40h1v1h-1zM38 40h1v1h-1zM53 40h1v1h-1zM3 41h1v1h-1zM10 41h1v1h-1zM14 41h2v1h-2zM37 41h1v1h-1zM40 41h2v1h-2zM15 42h3v1h-3zM22 42h1v1h-1zM26 42h2v1h-2zM33 42h1v1h-1zM36 42h1v1h-1zM39 42h2v1h-2zM49 42h1v1h-1zM53 42h1v1h-1zM21 43h1v1h-1zM23 43h2v1h-2zM27 43h3v1h-3zM34 43h1v1h-1zM51 43h1v1h-1zM23 44h1v1h-1zM28 44h1v1h-1zM41 44h1v1h-1zM44 44h1v1h-1zM61 44h2v1h-2zM17 45h1v1h-1zM23 45h1v1h-1zM28 45h1v1h-1zM42 45h3v1h-3zM56 45h2v1h-2zM59 45h1v1h-1zM61 45h1v1h-1zM16 46h1v1h-1zM26 46h2v1h-2zM41 46h1v1h-1zM53 46h1v1h-1zM55 46h1v1h-1zM57 46h1v1h-1zM16 47h1v1h-1zM18 47h1v1h-1zM24 47h1v1h-1zM41 47h2v1h-2zM53 47h1v1h-1zM55 47h1v1h-1zM57 47h1v1h-1zM11 48h1v1h-1zM16 48h1v1h-1zM33 48h1v1h-1zM35 48h1v1h-1zM40 48h1v1h-1zM49 48h1v1h-1zM61 48h1v1h-1zM5 49h2v1h-2zM9 49h1v1h-1zM16 49h1v1h-1zM20 49h3v1h-3zM31 49h1v1h-1zM34 49h1v1h-1zM36 49h1v1h-1zM40 49h2v1h-2zM48 49h1v1h-1zM50 49h3v1h-3zM60 49h1v1h-1zM63 49h1v1h-1zM4 50h1v1h-1zM7 50h3v1h-3zM23 50h1v1h-1zM25 50h1v1h-1zM31 50h1v1h-1zM51 50h1v1h-1zM56 50h1v1h-1zM63 50h1v1h-1zM6 51h1v1h-1zM15 51h1v1h-1zM18 51h1v1h-1zM23 51h1v1h-1zM25 51h1v1h-1zM30 51h1v1h-1zM47 51h2v1h-2zM54 51h1v1h-1zM57 51h2v1h-2zM10 52h1v1h-1zM12 52h1v1h-1zM14 52h1v1h-1zM22 52h1v1h-1zM25 52h1v1h-1zM42 52h1v1h-1zM56 52h1v1h-1zM10 53h3v1h-3zM24 53h1v1h-1zM46 53h1v1h-1zM49 53h1v1h-1zM56 53h1v1h-1zM8 54h3v1h-3zM12 54h5v1h-5zM23 54h1v1h-1zM0 55h1v1h-1zM7 55h1v1h-1zM12 55h1v1h-1zM46 55h1v1h-1zM49 55h2v1h-2zM56 55h1v1h-1zM0 56h1v1h-1zM6 56h2v1h-2zM23 56h1v1h-1zM40 56h1v1h-1zM42 56h1v1h-1zM51 56h1v1h-1zM55 56h1v1h-1zM0 57h1v1h-1zM3 57h1v1h-1zM7 57h2v1h-2zM13 57h1v1h-1zM15 57h1v1h-1zM34 57h2v1h-2zM50 57h1v1h-1zM17 58h2v1h-2zM23 58h1v1h-1zM33 58h1v1h-1zM62 58h2v1h-2zM34 59h1v1h-1zM38 59h1v1h-1zM49 59h1v1h-1zM56 59h1v1h-1zM58 59h1v1h-1zM61 59h1v1h-1zM0 60h1v1h-1zM4 60h1v1h-1zM15 60h1v1h-1zM39 60h1v1h-1zM42 60h1v1h-1zM44 60h1v1h-1zM49 60h1v1h-1zM51 60h1v1h-1zM56 60h1v1h-1zM62 60h2v1h-2zM1 61h3v1h-3zM15 61h1v1h-1zM23 61h1v1h-1zM30 61h1v1h-1zM34 61h1v1h-1zM44 61h1v1h-1zM49 61h1v1h-1zM61 61h2v1h-2zM1 62h4v1h-4zM15 62h1v1h-1zM19 62h2v1h-2zM23 62h1v1h-1zM30 62h2v1h-2zM35 62h2v1h-2zM41 62h2v1h-2zM44 62h1v1h-1zM50 62h1v1h-1zM58 62h1v1h-1zM60 62h2v1h-2zM2 63h1v1h-1zM12 63h1v1h-1zM14 63h2v1h-2zM20 63h1v1h-1zM23 63h1v1h-1zM25 63h1v1h-1zM35 63h1v1h-1zM43 63h1v1h-1zM53 63h5v1h-5zM60 63h3v1h-3z"/><path fill="#ffff00" d="M11 0h1v1h-1zM24 0h1v1h-1zM54 0h1v1h-1zM10 1h2v1h-2zM1 3h3v1h-3zM5 3h1v1h-1zM10 3h2v1h-2zM1 4h1v1h-1zM3 4h4v1h-4zM18 4h1v1h-1zM41 4h2v1h-2zM1 5h1v1h-1zM3 5h1v1h-1zM17 5h3v1h-3zM27 5h1v1h-1zM35 5h1v1h-1zM3 6h1v1h-1zM33 6h1v1h-1zM41 6h1v1h-1zM55 7h1v1h-1zM5 8h1v1h-1zM42 9h3v1h-3zM54 9h1v1h-1zM57 9h1v1h-1zM5 10h1v1h-1zM20 10h3v1h-3zM40 10h1v1h-1zM42 10h2v1h-2zM45 10h2v1h-2zM59 10h3v1h-3zM2 11h3v1h-3zM22 11h2v1h-2zM42 11h1v1h-1zM46 11h1v1h-1zM59 11h1v1h-1zM21 12h1v1h-1zM39 12h1v1h-1zM42 12h1v1h-1zM44 12h2v1h-2zM47 12h1v1h-1zM59 12h1v1h-1zM22 13h1v1h-1zM24 13h1v1h-1zM40 13h1v1h-1zM42 13h2v1h-2zM47 13h1v1h-1zM59 13h2v1h-2zM6 14h1v1h-1zM10 14h1v1h-1zM15 14h1v1h-1zM27 14h2v1h-2zM41 14h2v1h-2zM47 14h1v1h-1zM58 14h1v1h-1zM8 15h1v1h-1zM15 15h1v1h-1zM26 15h1v1h-1zM28 15h1v1h-1zM42 15h1v1h-1zM7 16h2v1h-2zM15 16h1v1h-1zM26 16h1v1h-1zM28 16h1v1h-1zM45 16h1v1h-1zM13 17h3v1h-3zM27 17h1v1h-1zM43 17h1v1h-1zM57 17h1v1h-1zM8 18h1v1h-1zM16 18h1v1h-1zM28 18h2v1h-2zM42 18h2v1h-2zM54 18h1v1h-1zM58 18h1v1h-1zM61 18h1v1h-1zM18 19h1v1h-1zM29 19h1v1h-1zM40 19h1v1h-1zM43 19h2v1h-2zM51 19h1v1h-1zM60 19h3v1h-3zM18 20h1v1h-1zM39 20h1v1h-1zM42 20h1v1h-1zM45 20h1v1h-1zM54 20h2v1h-2zM43 21h1v1h-1zM48 21h1v1h-1zM54 21h1v1h-1zM16 22h1v1h-1zM18 22h1v1h-1zM24 22h2v1h-2zM43 22h1v1h-1zM54 22h1v1h-1zM1 23h1v1h-1zM17 23h1v1h-1zM35 23h1v1h-1zM42 23h1v1h-1zM48 23h1v1h-1zM54 23h1v1h-1zM31 24h2v1h-2zM34 24h3v1h-3zM39 24h1v1h-1zM48 24h1v1h-1zM54 24h1v1h-1zM33 25h1v1h-1zM54 25h1v1h-1zM12 26h1v1h-1zM53 26h1v1h-1zM11 27h1v1h-1zM21 27h1v1h-1zM48 27h1v1h-1zM54 27h1v1h-1zM11 28h1v1h-1zM17 28h1v1h-1zM31 28h1v1h-1zM52 28h2v1h-2zM55 28h3v1h-3zM59 28h3v1h-3zM8 29h1v1h-1zM16 29h1v1h-1zM59 29h1v1h-1zM61 29h2v1h-2zM4 30h1v1h-1zM7 30h1v1h-1zM39 30h1v1h-1zM55 30h1v1h-1zM58 30h1v1h-1zM60 30h1v1h-1zM5 31h1v1h-1zM7 31h1v1h-1zM42 31h1v1h-1zM54 31h1v1h-1zM57 31h1v1h-1zM30 32h1v1h-1zM37 32h1v1h-1zM40 32h1v1h-1zM42 32h1v1h-1zM55 32h1v1h-1zM3 33h2v1h-2zM7 33h1v1h-1zM27 33h2v1h-2zM38 33h1v1h-1zM40 33h2v1h-2zM43 33h2v1h-2zM6 34h1v1h-1zM28 34h1v1h-1zM39 34h1v1h-1zM43 34h1v1h-1zM48 34h1v1h-1zM3 35h1v1h-1zM37 35h2v1h-2zM46 35h1v1h-1zM11 36h3v1h-3zM38 36h1v1h-1zM51 36h1v1h-1zM60 36h1v1h-1zM6 37h1v1h-1zM11 37h1v1h-1zM25 37h2v1h-2zM50 37h2v1h-2zM60 37h1v1h-1zM2 38h2v1h-2zM11 38h1v1h-1zM22 38h1v1h-1zM26 38h2v1h-2zM49 38h2v1h-2zM57 38h1v1h-1zM59 38h2v1h-2zM2 39h1v1h-1zM9 39h1v1h-1zM26 39h1v1h-1zM50 39h1v1h-1zM2 40h3v1h-3zM11 40h1v1h-1zM20 40h1v1h-1zM26 40h2v1h-2zM40 40h2v1h-2zM49 40h1v1h-1zM52 40h1v1h-1zM2 41h1v1h-1zM6 41h1v1h-1zM18 41h1v1h-1zM21 41h2v1h-2zM26 41h2v1h-2zM33 41h1v1h-1zM39 41h1v1h-1zM49 41h1v1h-1zM7 42h2v1h-2zM20 42h1v1h-1zM23 42h1v1h-1zM34 42h1v1h-1zM37 42h2v1h-2zM52 42h1v1h-1zM22 43h1v1h-1zM33 43h1v1h-1zM37 43h2v1h-2zM18 44h1v1h-1zM51 44h1v1h-1zM22 45h1v1h-1zM41 45h1v1h-1zM60 45h1v1h-1zM17 46h1v1h-1zM22 46h2v1h-2zM42 46h1v1h-1zM56 46h1v1h-1zM58 46h4v1h-4zM20 47h1v1h-1zM56 47h1v1h-1zM58 47h1v1h-1zM10 48h1v1h-1zM12 48h1v1h-1zM20 48h1v1h-1zM24 48h1v1h-1zM41 48h1v1h-1zM48 48h1v1h-1zM53 48h1v1h-1zM56 48h2v1h-2zM60 48h1v1h-1zM0 49h2v1h-2zM8 49h1v1h-1zM23 49h2v1h-2zM35 49h1v1h-1zM53 49h2v1h-2zM56 49h2v1h-2zM59 49h1v1h-1zM0 50h4v1h-4zM5 50h2v1h-2zM16 50h1v1h-1zM24 50h1v1h-1zM30 50h1v1h-1zM50 50h1v1h-1zM53 50h1v1h-1zM57 50h2v1h-2zM10 51h1v1h-1zM13 51h2v1h-2zM24 51h1v1h-1zM31 51h1v1h-1zM55 51h1v1h-1zM11 52h1v1h-1zM15 52h1v1h-1zM17 52h1v1h-1zM24 52h1v1h-1zM31 52h1v1h-1zM43 52h1v1h-1zM47 52h2v1h-2zM15 53h1v1h-1zM17 53h1v1h-1zM42 53h1v1h-1zM22 54h1v1h-1zM40 54h3v1h-3zM49 54h1v1h-1zM5 55h1v1h-1zM8 55h1v1h-1zM10 55h1v1h-1zM13 55h3v1h-3zM40 55h1v1h-1zM42 55h1v1h-1zM57 55h1v1h-1zM4 56h2v1h-2zM10 56h1v1h-1zM13 56h1v1h-1zM15 56h1v1h-1zM4 57h3v1h-3zM10 57h1v1h-1zM14 57h1v1h-1zM23 57h2v1h-2zM41 57h1v1h-1zM51 57h1v1h-1zM56 57h1v1h-1zM60 57h1v1h-1zM1 58h1v1h-1zM6 58h1v1h-1zM24 58h1v1h-1zM34 58h1v1h-1zM51 58h1v1h-1zM56 58h3v1h-3zM1 59h1v1h-1zM16 59h2v1h-2zM19 59h1v1h-1zM30 59h2v1h-2zM33 59h1v1h-1zM39 59h1v1h-1zM51 59h1v1h-1zM62 59h2v1h-2zM2 60h2v1h-2zM16 60h1v1h-1zM20 60h1v1h-1zM30 60h1v1h-1zM33 60h1v1h-1zM38 60h1v1h-1zM43 60h1v1h-1zM16 61h2v1h-2zM20 61h1v1h-1zM24 61h1v1h-1zM31 61h3v1h-3zM42 61h2v1h-2zM50 61h1v1h-1zM24 62h2v1h-2zM32 62h3v1h-3zM43 62h1v1h-1zM59 62h1v1h-1zM33 63h2v1h-2zM58 63h2v1h-2z"/><path fill="#ff0000" d="M12 3h1v1h-1zM2 4h1v1h-1zM41 5h1v1h-1zM1 6h1v1h-1zM2 7h2v1h-2zM3 9h1v1h-1zM3 10h2v1h-2zM54 10h1v1h-1zM21 11h1v1h-1zM55 11h2v1h-2zM60 11h1v1h-1zM23 12h1v1h-1zM60 12h1v1h-1zM44 13h1v1h-1zM5 14h1v1h-1zM46 14h1v1h-1zM5 15h2v1h-2zM43 15h1v1h-1zM46 15h1v1h-1zM11 16h1v1h-1zM43 16h2v1h-2zM8 17h1v1h-1zM28 17h1v1h-1zM56 17h1v1h-1zM58 17h1v1h-1zM14 18h2v1h-2zM41 19h2v1h-2zM50 19h1v1h-1zM54 19h1v1h-1zM14 20h1v1h-1zM49 20h1v1h-1zM53 20h1v1h-1zM15 21h1v1h-1zM39 21h1v1h-1zM53 21h1v1h-1zM48 22h1v1h-1zM53 22h1v1h-1zM50 23h2v1h-2zM48 25h1v1h-1zM47 26h1v1h-1zM51 26h2v1h-2zM22 27h1v1h-1zM52 27h1v1h-1zM21 28h1v1h-1zM23 28h1v1h-1zM54 28h1v1h-1zM21 29h2v1h-2zM54 29h1v1h-1zM58 29h1v1h-1zM6 30h1v1h-1zM54 30h1v1h-1zM57 30h1v1h-1zM0 31h1v1h-1zM8 31h2v1h-2zM37 31h1v1h-1zM40 31h1v1h-1zM55 31h2v1h-2zM6 32h1v1h-1zM8 32h1v1h-1zM5 33h2v1h-2zM42 33h1v1h-1zM47 33h2v1h-2zM5 34h1v1h-1zM26 34h2v1h-2zM41 34h1v1h-1zM46 34h1v1h-1zM4 35h1v1h-1zM25 35h1v1h-1zM4 36h1v1h-1zM52 36h1v1h-1zM4 37h1v1h-1zM24 37h1v1h-1zM49 37h1v1h-1zM4 38h1v1h-1zM23 38h1v1h-1zM5 39h1v1h-1zM8 39h1v1h-1zM10 39h2v1h-2zM21 39h1v1h-1zM49 39h1v1h-1zM10 40h1v1h-1zM19 40h1v1h-1zM21 40h2v1h-2zM25 40h1v1h-1zM50 40h2v1h-2zM8 41h2v1h-2zM19 41h2v1h-2zM53 41h1v1h-1zM18 42h1v1h-1zM24 42h2v1h-2zM50 42h1v1h-1zM18 43h1v1h-1zM20 43h1v1h-1zM20 44h3v1h-3zM14 47h2v1h-2zM19 47h1v1h-1zM23 47h1v1h-1zM54 47h1v1h-1zM59 47h1v1h-1zM61 47h1v1h-1zM0 48h1v1h-1zM54 48h2v1h-2zM58 48h1v1h-1zM10 49h1v1h-1zM58 49h1v1h-1zM10 50h1v1h-1zM15 50h1v1h-1zM54 50h2v1h-2zM11 51h2v1h-2zM16 51h2v1h-2zM56 51h1v1h-1zM16 52h1v1h-1zM23 52h1v1h-1zM16 53h1v1h-1zM22 53h2v1h-2zM43 53h1v1h-1zM47 54h1v1h-1zM47 55h2v1h-2zM56 56h4v1h-4zM9 57h1v1h-1zM57 57h1v1h-1zM2 58h3v1h-3zM50 58h1v1h-1zM59 58h1v1h-1zM32 59h1v1h-1zM50 59h1v1h-1zM50 60h1v1h-1zM18 61h1v1h-1zM24 63h1v1h-1z"/><path fill="#ba55d3" d="M2 5h1v1h-1zM2 6h1v1h-1zM3 8h2v1h-2zM55 8h2v1h-2zM4 9h2v1h-2zM41 10h1v1h-1zM55 10h1v1h-1zM57 10h1v1h-1zM40 11h1v1h-1zM22 12h1v1h-1zM40 12h1v1h-1zM41 13h1v1h-1zM45 13h2v1h-2zM43 14h1v1h-1zM9 15h2v1h-2zM27 15h1v1h-1zM10 16h1v1h-1zM27 16h1v1h-1zM10 17h1v1h-1zM9 18h1v1h-1zM56 18h2v1h-2zM14 19h4v1h-4zM55 19h2v1h-2zM52 20h1v1h-1zM17 21h1v1h-1zM42 21h1v1h-1zM50 21h1v1h-1zM17 22h1v1h-1zM42 22h1v1h-1zM49 22h1v1h-1zM51 22h1v1h-1zM39 23h3v1h-3zM48 26h1v1h-1zM50 26h1v1h-1zM53 27h1v1h-1zM55 29h3v1h-3zM60 29h1v1h-1zM0 30h1v1h-1zM3 30h1v1h-1zM8 30h2v1h-2zM37 30h2v1h-2zM56 30h1v1h-1zM4 31h1v1h-1zM1 32h1v1h-1zM3 32h3v1h-3zM7 32h1v1h-1zM39 33h1v1h-1zM47 34h1v1h-1zM26 35h2v1h-2zM25 36h2v1h-2zM5 37h1v1h-1zM5 38h1v1h-1zM7 38h1v1h-1zM24 38h2v1h-2zM3 39h2v1h-2zM7 39h1v1h-1zM6 40h1v1h-1zM9 40h1v1h-1zM23 41h1v1h-1zM25 41h1v1h-1zM50 41h1v1h-1zM52 41h1v1h-1zM19 42h1v1h-1zM51 42h1v1h-1zM19 43h1v1h-1zM18 45h1v1h-1zM21 45h1v1h-1zM18 46h2v1h-2zM21 46h1v1h-1zM21 47h2v1h-2zM60 47h1v1h-1zM14 48h2v1h-2zM21 48h3v1h-3zM59 48h1v1h-1zM12 49h1v1h-1zM15 49h1v1h-1zM55 49h1v1h-1zM12 50h1v1h-1zM14 50h1v1h-1zM47 53h2v1h-2zM48 54h1v1h-1zM41 55h1v1h-1zM8 56h2v1h-2zM14 56h1v1h-1zM41 56h1v1h-1zM58 57h1v1h-1zM5 58h1v1h-1zM2 59h2v1h-2zM18 59h1v1h-1zM17 60h2v1h-2zM32 60h1v1h-1zM19 61h1v1h-1z"/><path fill="#9400d3" d="M55 9h2v1h-2zM56 10h1v1h-1zM41 11h1v1h-1zM41 12h1v1h-1zM44 14h2v1h-2zM44 15h2v1h-2zM9 16h1v1h-1zM9 17h1v1h-1zM55 18h1v1h-1zM15 20h3v1h-3zM40 20h2v1h-2zM50 20h2v1h-2zM16 21h1v1h-1zM40 21h2v1h-2zM49 21h1v1h-1zM51 21h2v1h-2zM39 22h3v1h-3zM50 22h1v1h-1zM52 22h1v1h-1zM49 23h1v1h-1zM52 23h2v1h-2zM49 24h5v1h-5zM49 25h5v1h-5zM49 26h1v1h-1zM22 28h1v1h-1zM1 30h2v1h-2zM1 31h3v1h-3zM38 31h2v1h-2zM2 32h1v1h-1zM38 32h2v1h-2zM6 38h1v1h-1zM6 39h1v1h-1zM22 39h4v1h-4zM7 40h2v1h-2zM23 40h2v1h-2zM7 41h1v1h-1zM24 41h1v1h-1zM51 41h1v1h-1zM19 44h1v1h-1zM19 45h2v1h-2zM20 46h1v1h-1zM13 48h1v1h-1zM11 49h1v1h-1zM13 49h2v1h-2zM11 50h1v1h-1zM13 50h1v1h-1zM9 55h1v1h-1zM59 57h1v1h-1zM19 60h1v1h-1zM31 60h1v1h-1z"/></pattern>
<pattern id="tfy" width="64" height="64" patternUnits="userSpaceOnUse"><rect width="64" height="64" fill="rgb(255, 255, 0)"/><path fill="#20faa0" d="M38 0h1v1h-1zM27 1h1v1h-1zM27 2h1v1h-1zM14 3h1v1h-1zM27 3h1v1h-1zM19 8h1v1h-1zM18 9h2v1h-2zM26 9h2v1h-2zM18 10h2v1h-2zM24 10h4v1h-4zM18 11h1v1h-1zM24 11h4v1h-4zM24 14h1v1h-1zM3 15h1v1h-1zM23 15h2v1h-2zM23 17h1v1h-1zM60 19h2v1h-2zM59 20h3v1h-3zM8 21h1v1h-1zM59 21h2v1h-2zM8 22h1v1h-1zM20 22h3v1h-3zM58 22h2v1h-2zM21 23h1v1h-1zM14 27h1v1h-1zM49 32h1v1h-1zM47 33h3v1h-3zM32 34h1v1h-1zM48 34h1v1h-1zM23 35h2v1h-2zM32 35h2v1h-2zM23 36h4v1h-4zM33 36h1v1h-1zM23 37h1v1h-1zM25 37h2v1h-2zM15 39h1v1h-1zM44 45h1v1h-1zM28 47h1v1h-1zM28 48h3v1h-3zM29 49h3v1h-3zM47 55h1v1h-1zM53 55h2v1h-2zM47 56h2v1h-2zM54 56h3v1h-3zM8 57h1v1h-1zM55 57h1v1h-1zM42 60h1v1h-1zM4 62h1v1h-1zM3 63h1v1h-1z"/><path fill="#228b22" d="M1 0h2v1h-2zM4 0h1v1h-1zM3 1h1v1h-1zM46 2h1v1h-1zM28 3h1v1h-1zM28 10h1v1h-1zM17 11h1v1h-1zM28 11h1v1h-1zM17 12h1v1h-1zM25 12h3v1h-3zM34 12h1v1h-1zM33 13h2v1h-2zM1 16h2v1h-2zM23 16h2v1h-2zM23 18h1v1h-1zM24 19h1v1h-1zM26 19h1v1h-1zM8 20h1v1h-1zM23 20h1v1h-1zM9 21h1v1h-1zM21 21h1v1h-1zM58 21h1v1h-1zM61 21h1v1h-1zM7 22h1v1h-1zM8 23h1v1h-1zM16 23h2v1h-2zM19 23h1v1h-1zM22 23h1v1h-1zM58 23h1v1h-1zM12 26h1v1h-1zM59 26h1v1h-1zM12 27h2v1h-2zM59 29h1v1h-1zM62 29h1v1h-1zM58 30h2v1h-2zM44 31h1v1h-1zM48 32h1v1h-1zM31 33h1v1h-1zM46 33h1v1h-1zM31 34h1v1h-1zM33 34h1v1h-1zM47 34h1v1h-1zM12 35h1v1h-1zM25 35h1v1h-1zM31 35h1v1h-1zM22 36h1v1h-1zM27 36h1v1h-1zM34 36h1v1h-1zM22 37h1v1h-1zM24 37h1v1h-1zM27 37h1v1h-1zM55 37h1v1h-1zM22 38h1v1h-1zM55 38h1v1h-1zM43 44h2v1h-2zM29 47h1v1h-1zM36 54h1v1h-1zM46 55h1v1h-1zM55 55h1v1h-1zM53 56h1v1h-1zM9 57h1v1h-1zM41 60h1v1h-1zM54 61h1v1h-1zM22 62h1v1h-1zM53 62h2v1h-2zM2 63h1v1h-1zM4 63h1v1h-1zM21 63h4v1h-4z"/><path fill="#00ff00" d="M3 0h1v1h-1zM5 0h1v1h-1zM22 0h2v1h-2zM26 0h3v1h-3zM51 0h1v1h-1zM2 1h1v1h-1zM4 1h1v1h-1zM28 1h2v1h-2zM37 1h2v1h-2zM46 1h1v1h-1zM14 2h2v1h-2zM26 2h1v1h-1zM28 2h1v1h-1zM13 3h1v1h-1zM15 3h1v1h-1zM26 3h1v1h-1zM12 4h2v1h-2zM7 5h1v1h-1zM7 6h2v1h-2zM20 6h1v1h-1zM7 7h2v1h-2zM56 7h1v1h-1zM53 8h2v1h-2zM20 9h1v1h-1zM23 9h3v1h-3zM59 9h1v1h-1zM17 10h1v1h-1zM20 10h1v1h-1zM22 10h2v1h-2zM19 11h2v1h-2zM16 12h1v1h-1zM18 12h1v1h-1zM24 12h1v1h-1zM28 12h2v1h-2zM33 12h1v1h-1zM50 12h1v1h-1zM18 13h1v1h-1zM24 13h2v1h-2zM27 13h2v1h-2zM44 13h1v1h-1zM50 13h1v1h-1zM53 13h2v1h-2zM2 14h1v1h-1zM23 14h1v1h-1zM25 14h3v1h-3zM35 14h1v1h-1zM54 14h2v1h-2zM1 15h2v1h-2zM10 15h1v1h-1zM18 15h1v1h-1zM22 15h1v1h-1zM25 15h3v1h-3zM10 16h1v1h-1zM22 16h1v1h-1zM25 16h4v1h-4zM35 16h1v1h-1zM1 17h2v1h-2zM26 17h2v1h-2zM35 17h1v1h-1zM60 17h1v1h-1zM22 18h1v1h-1zM24 18h3v1h-3zM36 18h1v1h-1zM60 18h1v1h-1zM8 19h1v1h-1zM23 19h1v1h-1zM25 19h1v1h-1zM27 19h1v1h-1zM7 20h1v1h-1zM9 20h1v1h-1zM22 20h1v1h-1zM24 20h3v1h-3zM62 20h1v1h-1zM7 21h1v1h-1zM20 21h1v1h-1zM22 21h1v1h-1zM9 22h1v1h-1zM14 22h1v1h-1zM19 22h1v1h-1zM30 22h3v1h-3zM60 22h1v1h-1zM7 23h1v1h-1zM15 23h1v1h-1zM20 23h1v1h-1zM31 23h3v1h-3zM15 24h2v1h-2zM11 25h1v1h-1zM55 25h1v1h-1zM11 26h1v1h-1zM13 26h1v1h-1zM60 26h1v1h-1zM0 27h1v1h-1zM10 27h2v1h-2zM60 27h1v1h-1zM63 27h1v1h-1zM0 28h1v1h-1zM12 28h1v1h-1zM58 28h3v1h-3zM62 28h2v1h-2zM10 29h2v1h-2zM57 29h2v1h-2zM63 29h1v1h-1zM11 30h1v1h-1zM43 30h2v1h-2zM57 30h1v1h-1zM45 31h1v1h-1zM50 31h1v1h-1zM58 31h1v1h-1zM45 32h2v1h-2zM50 32h1v1h-1zM32 33h2v1h-2zM45 33h1v1h-1zM12 34h1v1h-1zM23 34h2v1h-2zM49 34h1v1h-1zM11 35h1v1h-1zM26 35h1v1h-1zM28 35h1v1h-1zM8 36h1v1h-1zM12 36h1v1h-1zM15 36h1v1h-1zM14 37h2v1h-2zM54 37h1v1h-1zM56 37h1v1h-1zM14 38h2v1h-2zM23 38h2v1h-2zM27 38h1v1h-1zM56 38h1v1h-1zM16 39h1v1h-1zM22 39h1v1h-1zM56 39h1v1h-1zM14 40h2v1h-2zM15 41h1v1h-1zM6 42h1v1h-1zM5 43h2v1h-2zM3 44h1v1h-1zM5 44h2v1h-2zM45 44h1v1h-1zM43 45h1v1h-1zM43 46h2v1h-2zM31 48h1v1h-1zM42 48h1v1h-1zM32 49h1v1h-1zM42 49h2v1h-2zM30 50h3v1h-3zM41 50h3v1h-3zM32 51h1v1h-1zM31 52h1v1h-1zM1 53h1v1h-1zM9 53h1v1h-1zM51 53h1v1h-1zM62 53h1v1h-1zM35 54h1v1h-1zM37 54h1v1h-1zM46 54h2v1h-2zM52 54h2v1h-2zM62 54h2v1h-2zM36 55h3v1h-3zM48 55h1v1h-1zM52 55h1v1h-1zM56 55h1v1h-1zM63 55h1v1h-1zM8 56h2v1h-2zM46 56h1v1h-1zM54 57h1v1h-1zM56 57h1v1h-1zM9 58h1v1h-1zM48 58h1v1h-1zM41 61h1v1h-1zM3 62h1v1h-1zM5 62h1v1h-1zM21 62h1v1h-1zM37 62h1v1h-1zM1 63h1v1h-1zM5 63h1v1h-1zM25 63h3v1h-3zM37 63h1v1h-1zM53 63h1v1h-1z"/><path fill="#7fff00" d="M21 0h1v1h-1zM24 0h2v1h-2zM37 0h1v1h-1zM39 0h1v1h-1zM42 0h1v1h-1zM50 0h1v1h-1zM52 0h1v1h-1zM39 1h1v1h-1zM50 1h2v1h-2zM38 2h1v1h-1zM45 2h1v1h-1zM50 2h1v1h-1zM59 2h1v1h-1zM16 3h1v1h-1zM46 3h1v1h-1zM51 3h1v1h-1zM58 3h2v1h-2zM37 4h1v1h-1zM51 4h2v1h-2zM6 5h1v1h-1zM13 5h1v1h-1zM20 5h1v1h-1zM37 5h1v1h-1zM48 5h4v1h-4zM9 6h1v1h-1zM19 6h1v1h-1zM56 6h1v1h-1zM6 7h1v1h-1zM19 7h2v1h-2zM50 7h1v1h-1zM54 7h1v1h-1zM57 7h1v1h-1zM9 8h1v1h-1zM20 8h1v1h-1zM36 8h1v1h-1zM49 8h1v1h-1zM55 8h2v1h-2zM21 9h1v1h-1zM48 9h1v1h-1zM54 9h1v1h-1zM58 9h1v1h-1zM60 9h1v1h-1zM21 10h1v1h-1zM36 10h1v1h-1zM40 10h1v1h-1zM16 11h1v1h-1zM21 11h2v1h-2zM29 11h1v1h-1zM47 11h1v1h-1zM30 12h1v1h-1zM32 12h1v1h-1zM35 12h2v1h-2zM49 12h1v1h-1zM51 12h2v1h-2zM54 12h2v1h-2zM16 13h2v1h-2zM19 13h1v1h-1zM23 13h1v1h-1zM26 13h1v1h-1zM29 13h1v1h-1zM35 13h1v1h-1zM45 13h2v1h-2zM55 13h1v1h-1zM3 14h1v1h-1zM16 14h3v1h-3zM28 14h1v1h-1zM33 14h2v1h-2zM44 14h1v1h-1zM4 15h1v1h-1zM9 15h1v1h-1zM11 15h1v1h-1zM17 15h1v1h-1zM29 15h1v1h-1zM35 15h1v1h-1zM54 15h2v1h-2zM0 16h1v1h-1zM3 16h2v1h-2zM11 16h1v1h-1zM17 16h3v1h-3zM29 16h1v1h-1zM59 16h1v1h-1zM10 17h1v1h-1zM19 17h2v1h-2zM22 17h1v1h-1zM24 17h1v1h-1zM34 17h1v1h-1zM40 17h1v1h-1zM10 18h1v1h-1zM19 18h1v1h-1zM21 18h1v1h-1zM27 18h1v1h-1zM34 18h2v1h-2zM6 19h1v1h-1zM9 19h2v1h-2zM21 19h2v1h-2zM35 19h1v1h-1zM37 19h1v1h-1zM59 19h1v1h-1zM62 19h1v1h-1zM6 20h1v1h-1zM10 20h1v1h-1zM20 20h1v1h-1zM27 20h1v1h-1zM47 20h1v1h-1zM13 21h3v1h-3zM23 21h1v1h-1zM31 21h1v1h-1zM36 21h1v1h-1zM57 21h1v1h-1zM62 21h1v1h-1zM23 22h1v1h-1zM37 22h1v1h-1zM57 22h1v1h-1zM9 23h1v1h-1zM14 23h1v1h-1zM38 23h1v1h-1zM59 23h1v1h-1zM17 24h1v1h-1zM19 24h3v1h-3zM31 24h2v1h-2zM12 25h1v1h-1zM16 25h1v1h-1zM54 25h1v1h-1zM59 25h1v1h-1zM61 26h1v1h-1zM1 27h1v1h-1zM15 27h1v1h-1zM48 27h1v1h-1zM59 27h1v1h-1zM61 27h2v1h-2zM10 28h1v1h-1zM13 28h4v1h-4zM48 28h1v1h-1zM61 28h1v1h-1zM0 29h1v1h-1zM9 29h1v1h-1zM12 29h1v1h-1zM32 29h1v1h-1zM43 29h1v1h-1zM48 29h1v1h-1zM56 29h1v1h-1zM60 29h2v1h-2zM0 30h1v1h-1zM10 30h1v1h-1zM42 30h1v1h-1zM47 30h1v1h-1zM60 30h2v1h-2zM10 31h1v1h-1zM33 31h2v1h-2zM46 31h4v1h-4zM51 31h1v1h-1zM57 31h1v1h-1zM11 32h1v1h-1zM32 32h2v1h-2zM37 32h2v1h-2zM44 32h1v1h-1zM47 32h1v1h-1zM51 32h1v1h-1zM30 33h1v1h-1zM8 34h1v1h-1zM13 34h1v1h-1zM30 34h1v1h-1zM46 34h1v1h-1zM7 35h2v1h-2zM13 35h2v1h-2zM22 35h1v1h-1zM27 35h1v1h-1zM30 35h1v1h-1zM34 35h2v1h-2zM48 35h1v1h-1zM11 36h1v1h-1zM13 36h2v1h-2zM28 36h1v1h-1zM32 36h1v1h-1zM35 36h1v1h-1zM54 36h2v1h-2zM62 36h1v1h-1zM28 37h1v1h-1zM33 37h3v1h-3zM53 37h1v1h-1zM25 38h2v1h-2zM57 38h1v1h-1zM14 39h1v1h-1zM21 39h1v1h-1zM16 40h1v1h-1zM22 40h1v1h-1zM14 41h1v1h-1zM16 41h1v1h-1zM37 41h1v1h-1zM57 41h1v1h-1zM2 42h2v1h-2zM5 42h1v1h-1zM7 42h1v1h-1zM16 42h1v1h-1zM31 42h1v1h-1zM35 42h1v1h-1zM49 42h1v1h-1zM58 42h2v1h-2zM2 43h1v1h-1zM7 43h1v1h-1zM49 43h1v1h-1zM1 45h2v1h-2zM1 46h1v1h-1zM28 46h1v1h-1zM1 47h2v1h-2zM30 47h1v1h-1zM35 47h1v1h-1zM42 47h2v1h-2zM27 48h1v1h-1zM32 48h1v1h-1zM41 48h1v1h-1zM43 48h1v1h-1zM28 49h1v1h-1zM41 49h1v1h-1zM47 49h1v1h-1zM29 50h1v1h-1zM50 50h1v1h-1zM0 51h1v1h-1zM30 51h2v1h-2zM0 52h2v1h-2zM59 52h5v1h-5zM0 53h1v1h-1zM36 53h2v1h-2zM50 53h1v1h-1zM0 54h1v1h-1zM9 54h1v1h-1zM38 54h1v1h-1zM45 54h1v1h-1zM48 54h1v1h-1zM51 54h1v1h-1zM54 54h1v1h-1zM57 54h1v1h-1zM61 54h1v1h-1zM35 55h1v1h-1zM57 55h1v1h-1zM57 56h1v1h-1zM7 57h1v1h-1zM10 57h1v1h-1zM46 57h4v1h-4zM53 57h1v1h-1zM8 58h1v1h-1zM17 58h1v1h-1zM22 58h1v1h-1zM49 58h1v1h-1zM53 58h2v1h-2zM41 59h2v1h-2zM11 60h1v1h-1zM43 60h1v1h-1zM54 60h1v1h-1zM4 61h1v1h-1zM42 61h1v1h-1zM53 61h1v1h-1zM2 62h1v1h-1zM23 62h1v1h-1zM25 62h1v1h-1zM27 62h1v1h-1zM6 63h1v1h-1zM28 63h1v1h-1zM38 63h1v1h-1zM52 63h1v1h-1z"/><path fill="#adff2f" d="M29 0h2v1h-2zM43 0h2v1h-2zM46 0h1v1h-1zM1 1h1v1h-1zM15 1h1v1h-1zM26 1h1v1h-1zM30 1h1v1h-1zM45 1h1v1h-1zM49 1h1v1h-1zM2 2h3v1h-3zM16 2h1v1h-1zM29 2h1v1h-1zM37 2h1v1h-1zM39 2h1v1h-1zM44 2h1v1h-1zM48 2h2v1h-2zM51 2h1v1h-1zM3 3h2v1h-2zM11 3h2v1h-2zM25 3h1v1h-1zM45 3h1v1h-1zM50 3h1v1h-1zM52 3h2v1h-2zM57 3h1v1h-1zM60 3h1v1h-1zM11 4h1v1h-1zM14 4h1v1h-1zM26 4h1v1h-1zM43 4h2v1h-2zM46 4h1v1h-1zM48 4h3v1h-3zM53 4h2v1h-2zM56 4h1v1h-1zM5 5h1v1h-1zM9 5h1v1h-1zM12 5h1v1h-1zM19 5h1v1h-1zM21 5h1v1h-1zM36 5h1v1h-1zM55 5h1v1h-1zM5 6h2v1h-2zM36 6h1v1h-1zM38 6h1v1h-1zM49 6h1v1h-1zM55 6h1v1h-1zM9 7h1v1h-1zM36 7h1v1h-1zM48 7h2v1h-2zM58 7h1v1h-1zM6 8h1v1h-1zM8 8h1v1h-1zM18 8h1v1h-1zM25 8h1v1h-1zM27 8h2v1h-2zM48 8h1v1h-1zM50 8h3v1h-3zM57 8h4v1h-4zM17 9h1v1h-1zM22 9h1v1h-1zM28 9h1v1h-1zM40 9h1v1h-1zM49 9h2v1h-2zM53 9h1v1h-1zM55 9h2v1h-2zM12 10h1v1h-1zM16 10h1v1h-1zM29 10h1v1h-1zM41 10h1v1h-1zM49 10h1v1h-1zM55 10h1v1h-1zM23 11h1v1h-1zM31 11h1v1h-1zM33 11h1v1h-1zM36 11h3v1h-3zM40 11h1v1h-1zM46 11h1v1h-1zM49 11h2v1h-2zM54 11h2v1h-2zM19 12h1v1h-1zM23 12h1v1h-1zM37 12h1v1h-1zM40 12h1v1h-1zM45 12h2v1h-2zM48 12h1v1h-1zM53 12h1v1h-1zM56 12h1v1h-1zM7 13h1v1h-1zM20 13h1v1h-1zM22 13h1v1h-1zM32 13h1v1h-1zM36 13h1v1h-1zM43 13h1v1h-1zM48 13h2v1h-2zM51 13h2v1h-2zM56 13h1v1h-1zM1 14h1v1h-1zM4 14h1v1h-1zM7 14h2v1h-2zM10 14h2v1h-2zM22 14h1v1h-1zM29 14h1v1h-1zM36 14h1v1h-1zM43 14h1v1h-1zM49 14h1v1h-1zM53 14h1v1h-1zM7 15h2v1h-2zM13 15h1v1h-1zM28 15h1v1h-1zM34 15h1v1h-1zM36 15h1v1h-1zM53 15h1v1h-1zM58 15h3v1h-3zM9 16h1v1h-1zM21 16h1v1h-1zM30 16h1v1h-1zM36 16h1v1h-1zM54 16h2v1h-2zM60 16h1v1h-1zM0 17h1v1h-1zM18 17h1v1h-1zM21 17h1v1h-1zM25 17h1v1h-1zM28 17h1v1h-1zM36 17h1v1h-1zM39 17h1v1h-1zM41 17h1v1h-1zM56 17h1v1h-1zM59 17h1v1h-1zM2 18h3v1h-3zM9 18h1v1h-1zM15 18h1v1h-1zM18 18h1v1h-1zM20 18h1v1h-1zM45 18h1v1h-1zM47 18h1v1h-1zM61 18h1v1h-1zM1 19h1v1h-1zM7 19h1v1h-1zM11 19h1v1h-1zM19 19h1v1h-1zM28 19h1v1h-1zM34 19h1v1h-1zM46 19h2v1h-2zM13 20h2v1h-2zM21 20h1v1h-1zM36 20h1v1h-1zM48 20h1v1h-1zM51 20h2v1h-2zM10 21h1v1h-1zM27 21h1v1h-1zM29 21h2v1h-2zM32 21h1v1h-1zM37 21h1v1h-1zM46 21h2v1h-2zM51 21h2v1h-2zM13 22h1v1h-1zM15 22h3v1h-3zM33 22h1v1h-1zM36 22h1v1h-1zM18 23h1v1h-1zM23 23h1v1h-1zM30 23h1v1h-1zM35 23h3v1h-3zM57 23h1v1h-1zM6 24h1v1h-1zM8 24h1v1h-1zM11 24h2v1h-2zM18 24h1v1h-1zM58 24h1v1h-1zM56 25h1v1h-1zM0 26h1v1h-1zM10 26h1v1h-1zM14 26h2v1h-2zM49 26h1v1h-1zM55 26h2v1h-2zM58 26h1v1h-1zM62 26h2v1h-2zM16 27h2v1h-2zM49 27h1v1h-1zM55 27h2v1h-2zM1 28h2v1h-2zM11 28h1v1h-1zM17 28h1v1h-1zM24 28h1v1h-1zM43 28h1v1h-1zM47 28h1v1h-1zM49 28h1v1h-1zM56 28h2v1h-2zM44 29h1v1h-1zM47 29h1v1h-1zM9 30h1v1h-1zM33 30h2v1h-2zM45 30h2v1h-2zM56 30h1v1h-1zM62 30h2v1h-2zM11 31h1v1h-1zM35 31h3v1h-3zM43 31h1v1h-1zM52 31h1v1h-1zM10 32h1v1h-1zM31 32h1v1h-1zM34 32h3v1h-3zM43 32h1v1h-1zM53 32h1v1h-1zM58 32h1v1h-1zM8 33h1v1h-1zM11 33h1v1h-1zM24 33h1v1h-1zM34 33h1v1h-1zM44 33h1v1h-1zM50 33h1v1h-1zM62 33h1v1h-1zM7 34h1v1h-1zM11 34h1v1h-1zM26 34h2v1h-2zM29 34h1v1h-1zM34 34h1v1h-1zM45 34h1v1h-1zM15 35h1v1h-1zM29 35h1v1h-1zM49 35h1v1h-1zM55 35h1v1h-1zM62 35h1v1h-1zM7 36h1v1h-1zM9 36h1v1h-1zM31 36h1v1h-1zM49 36h5v1h-5zM7 37h2v1h-2zM12 37h2v1h-2zM16 37h1v1h-1zM51 37h2v1h-2zM57 37h1v1h-1zM61 37h2v1h-2zM6 38h1v1h-1zM13 38h1v1h-1zM16 38h2v1h-2zM21 38h1v1h-1zM28 38h2v1h-2zM34 38h1v1h-1zM54 38h1v1h-1zM62 38h1v1h-1zM8 39h1v1h-1zM17 39h1v1h-1zM23 39h1v1h-1zM27 39h2v1h-2zM34 39h1v1h-1zM44 39h1v1h-1zM57 39h1v1h-1zM2 40h1v1h-1zM17 40h1v1h-1zM37 40h3v1h-3zM61 40h1v1h-1zM3 41h1v1h-1zM17 41h1v1h-1zM28 41h1v1h-1zM35 41h1v1h-1zM38 41h3v1h-3zM58 41h3v1h-3zM4 42h1v1h-1zM28 42h3v1h-3zM32 42h3v1h-3zM36 42h1v1h-1zM50 42h1v1h-1zM60 42h1v1h-1zM3 43h2v1h-2zM31 43h1v1h-1zM44 43h2v1h-2zM48 43h1v1h-1zM50 43h1v1h-1zM62 43h2v1h-2zM2 44h1v1h-1zM4 44h1v1h-1zM49 44h1v1h-1zM54 44h1v1h-1zM3 45h1v1h-1zM42 45h1v1h-1zM45 45h1v1h-1zM54 45h1v1h-1zM0 46h1v1h-1zM2 46h3v1h-3zM27 46h1v1h-1zM29 46h1v1h-1zM42 46h1v1h-1zM3 47h1v1h-1zM26 47h2v1h-2zM31 47h1v1h-1zM44 47h1v1h-1zM3 48h1v1h-1zM33 48h1v1h-1zM35 48h3v1h-3zM44 49h1v1h-1zM46 49h1v1h-1zM15 50h1v1h-1zM38 50h1v1h-1zM48 50h2v1h-2zM51 50h1v1h-1zM1 51h1v1h-1zM29 51h1v1h-1zM33 51h1v1h-1zM42 51h1v1h-1zM49 51h3v1h-3zM62 51h2v1h-2zM9 52h1v1h-1zM30 52h1v1h-1zM32 52h1v1h-1zM40 52h1v1h-1zM42 52h1v1h-1zM49 52h3v1h-3zM58 52h1v1h-1zM8 53h1v1h-1zM30 53h1v1h-1zM35 53h1v1h-1zM43 53h1v1h-1zM49 53h1v1h-1zM52 53h1v1h-1zM59 53h3v1h-3zM63 53h1v1h-1zM10 54h1v1h-1zM39 54h2v1h-2zM44 54h1v1h-1zM55 54h2v1h-2zM58 54h3v1h-3zM0 55h1v1h-1zM8 55h2v1h-2zM34 55h1v1h-1zM39 55h1v1h-1zM42 55h1v1h-1zM44 55h2v1h-2zM49 55h1v1h-1zM58 55h1v1h-1zM61 55h2v1h-2zM38 56h1v1h-1zM45 56h1v1h-1zM49 56h1v1h-1zM52 56h1v1h-1zM22 57h1v1h-1zM7 58h1v1h-1zM10 58h2v1h-2zM23 58h1v1h-1zM44 58h1v1h-1zM47 58h1v1h-1zM50 58h1v1h-1zM55 58h1v1h-1zM1 59h1v1h-1zM43 59h1v1h-1zM49 59h1v1h-1zM52 59h3v1h-3zM0 60h5v1h-5zM10 60h1v1h-1zM12 60h1v1h-1zM33 60h1v1h-1zM40 60h1v1h-1zM52 60h2v1h-2zM2 61h2v1h-2zM5 61h1v1h-1zM11 61h1v1h-1zM23 61h1v1h-1zM30 61h1v1h-1zM33 61h1v1h-1zM43 61h1v1h-1zM55 61h1v1h-1zM11 62h1v1h-1zM24 62h1v1h-1zM26 62h1v1h-1zM30 62h1v1h-1zM42 62h2v1h-2zM52 62h1v1h-1zM20 63h1v1h-1zM42 63h4v1h-4zM51 63h1v1h-1zM54 63h1v1h-1z"/><path fill="#ff8000" d="M18 0h1v1h-1zM36 0h1v1h-1zM16 1h1v1h-1zM20 1h2v1h-2zM59 1h1v1h-1zM5 2h1v1h-1zM5 3h1v1h-1zM43 3h1v1h-1zM61 3h1v1h-1zM4 4h1v1h-1zM9 4h1v1h-1zM16 4h1v1h-1zM25 4h1v1h-1zM45 4h1v1h-1zM35 5h1v1h-1zM39 5h1v1h-1zM53 5h1v1h-1zM60 5h1v1h-1zM13 6h1v1h-1zM29 6h1v1h-1zM39 6h1v1h-1zM5 7h1v1h-1zM10 7h1v1h-1zM59 7h1v1h-1zM17 8h1v1h-1zM24 8h1v1h-1zM6 9h1v1h-1zM29 9h1v1h-1zM42 9h1v1h-1zM47 9h1v1h-1zM61 9h1v1h-1zM2 10h1v1h-1zM38 10h1v1h-1zM47 10h1v1h-1zM14 11h1v1h-1zM52 11h1v1h-1zM1 12h1v1h-1zM6 13h1v1h-1zM15 13h1v1h-1zM21 13h1v1h-1zM40 13h1v1h-1zM0 14h1v1h-1zM6 14h1v1h-1zM20 14h2v1h-2zM32 14h1v1h-1zM42 14h1v1h-1zM46 14h1v1h-1zM51 14h1v1h-1zM44 15h1v1h-1zM31 16h1v1h-1zM56 16h1v1h-1zM5 17h1v1h-1zM16 17h2v1h-2zM43 17h2v1h-2zM55 17h1v1h-1zM57 17h1v1h-1zM62 17h1v1h-1zM0 18h1v1h-1zM6 18h1v1h-1zM48 18h1v1h-1zM62 18h1v1h-1zM29 19h1v1h-1zM48 19h1v1h-1zM50 19h1v1h-1zM29 20h1v1h-1zM63 20h1v1h-1zM49 21h2v1h-2zM3 22h2v1h-2zM29 22h1v1h-1zM61 22h1v1h-1zM10 23h1v1h-1zM12 23h1v1h-1zM18 25h1v1h-1zM21 25h1v1h-1zM27 25h1v1h-1zM8 26h1v1h-1zM25 26h1v1h-1zM36 26h1v1h-1zM2 27h1v1h-1zM8 27h1v1h-1zM25 27h1v1h-1zM45 27h1v1h-1zM8 28h1v1h-1zM25 28h1v1h-1zM30 28h1v1h-1zM32 28h1v1h-1zM34 28h2v1h-2zM38 28h1v1h-1zM45 28h1v1h-1zM55 28h1v1h-1zM3 29h1v1h-1zM23 29h1v1h-1zM36 30h1v1h-1zM52 30h1v1h-1zM23 31h1v1h-1zM28 31h1v1h-1zM31 31h1v1h-1zM9 32h1v1h-1zM12 32h1v1h-1zM22 32h1v1h-1zM52 32h1v1h-1zM62 32h2v1h-2zM12 33h1v1h-1zM27 33h2v1h-2zM39 33h1v1h-1zM56 33h1v1h-1zM44 34h1v1h-1zM62 34h1v1h-1zM5 35h1v1h-1zM6 36h1v1h-1zM5 37h2v1h-2zM9 37h1v1h-1zM8 38h1v1h-1zM32 38h1v1h-1zM51 38h1v1h-1zM3 39h1v1h-1zM11 39h1v1h-1zM20 39h1v1h-1zM38 39h1v1h-1zM42 39h1v1h-1zM3 40h1v1h-1zM7 40h1v1h-1zM9 40h1v1h-1zM19 40h1v1h-1zM35 40h2v1h-2zM43 40h1v1h-1zM56 40h1v1h-1zM58 40h2v1h-2zM29 41h1v1h-1zM31 41h1v1h-1zM33 41h1v1h-1zM49 41h1v1h-1zM16 43h2v1h-2zM21 43h1v1h-1zM32 43h1v1h-1zM40 43h1v1h-1zM10 44h1v1h-1zM27 44h1v1h-1zM10 45h1v1h-1zM62 45h1v1h-1zM9 46h1v1h-1zM12 46h1v1h-1zM10 47h1v1h-1zM25 47h1v1h-1zM37 47h1v1h-1zM45 47h1v1h-1zM1 48h1v1h-1zM5 48h1v1h-1zM8 48h1v1h-1zM25 48h1v1h-1zM44 48h1v1h-1zM47 48h1v1h-1zM39 49h1v1h-1zM52 49h1v1h-1zM0 50h1v1h-1zM14 50h1v1h-1zM28 50h1v1h-1zM37 50h1v1h-1zM45 50h1v1h-1zM15 51h1v1h-1zM44 51h1v1h-1zM13 53h1v1h-1zM46 53h1v1h-1zM53 53h1v1h-1zM56 53h2v1h-2zM2 54h1v1h-1zM22 54h1v1h-1zM5 55h1v1h-1zM43 55h1v1h-1zM50 55h1v1h-1zM34 56h2v1h-2zM63 56h1v1h-1zM34 57h1v1h-1zM38 57h2v1h-2zM41 57h1v1h-1zM50 57h1v1h-1zM58 57h1v1h-1zM15 58h1v1h-1zM34 58h1v1h-1zM46 58h1v1h-1zM61 58h1v1h-1zM17 59h1v1h-1zM23 60h1v1h-1zM44 61h1v1h-1zM12 62h1v1h-1zM35 62h1v1h-1zM29 63h1v1h-1zM41 63h1v1h-1zM46 63h1v1h-1z"/><path fill="#ff0000" d="M15 0h1v1h-1zM47 0h2v1h-2zM0 1h1v1h-1zM6 1h1v1h-1zM18 1h2v1h-2zM22 1h1v1h-1zM24 1h1v1h-1zM36 1h1v1h-1zM41 1h1v1h-1zM43 1h1v1h-1zM53 1h1v1h-1zM58 1h1v1h-1zM1 2h1v1h-1zM12 2h1v1h-1zM17 2h1v1h-1zM20 2h1v1h-1zM22 2h3v1h-3zM36 2h1v1h-1zM40 2h2v1h-2zM60 2h1v1h-1zM6 3h1v1h-1zM20 3h1v1h-1zM35 3h1v1h-1zM41 3h1v1h-1zM3 4h1v1h-1zM17 4h1v1h-1zM20 4h3v1h-3zM29 4h1v1h-1zM35 4h1v1h-1zM62 4h1v1h-1zM4 5h1v1h-1zM14 5h3v1h-3zM18 5h1v1h-1zM22 5h1v1h-1zM29 5h1v1h-1zM42 5h1v1h-1zM58 5h1v1h-1zM10 6h2v1h-2zM14 6h1v1h-1zM17 6h1v1h-1zM35 6h1v1h-1zM41 6h1v1h-1zM43 6h1v1h-1zM53 6h2v1h-2zM58 6h1v1h-1zM60 6h1v1h-1zM13 7h2v1h-2zM28 7h2v1h-2zM38 7h6v1h-6zM60 7h1v1h-1zM2 8h2v1h-2zM5 8h1v1h-1zM10 8h1v1h-1zM14 8h1v1h-1zM22 8h2v1h-2zM35 8h1v1h-1zM39 8h2v1h-2zM42 8h1v1h-1zM61 8h1v1h-1zM1 9h3v1h-3zM8 9h2v1h-2zM12 9h3v1h-3zM16 9h1v1h-1zM35 9h1v1h-1zM39 9h1v1h-1zM51 9h1v1h-1zM1 10h1v1h-1zM3 10h1v1h-1zM6 10h3v1h-3zM11 10h1v1h-1zM14 10h1v1h-1zM30 10h2v1h-2zM35 10h1v1h-1zM46 10h1v1h-1zM50 10h1v1h-1zM1 11h1v1h-1zM11 11h1v1h-1zM41 11h1v1h-1zM45 11h1v1h-1zM53 11h1v1h-1zM57 11h1v1h-1zM59 11h1v1h-1zM0 12h1v1h-1zM2 12h1v1h-1zM6 12h1v1h-1zM8 12h3v1h-3zM12 12h1v1h-1zM43 12h1v1h-1zM57 12h1v1h-1zM0 13h2v1h-2zM9 13h1v1h-1zM31 13h1v1h-1zM38 13h1v1h-1zM41 13h2v1h-2zM57 13h2v1h-2zM12 14h1v1h-1zM14 14h1v1h-1zM30 14h2v1h-2zM37 14h1v1h-1zM47 14h1v1h-1zM60 14h1v1h-1zM21 15h1v1h-1zM31 15h2v1h-2zM37 15h1v1h-1zM43 15h1v1h-1zM49 15h1v1h-1zM52 15h1v1h-1zM56 15h1v1h-1zM63 15h1v1h-1zM5 16h3v1h-3zM38 16h2v1h-2zM41 16h1v1h-1zM44 16h1v1h-1zM49 16h2v1h-2zM53 16h1v1h-1zM62 16h2v1h-2zM14 17h1v1h-1zM31 17h2v1h-2zM42 17h1v1h-1zM47 17h1v1h-1zM50 17h1v1h-1zM52 17h3v1h-3zM63 17h1v1h-1zM8 18h1v1h-1zM11 18h1v1h-1zM14 18h1v1h-1zM29 18h3v1h-3zM44 18h1v1h-1zM50 18h1v1h-1zM52 18h1v1h-1zM55 18h2v1h-2zM63 18h1v1h-1zM4 19h1v1h-1zM14 19h1v1h-1zM17 19h1v1h-1zM39 19h2v1h-2zM45 19h1v1h-1zM52 19h2v1h-2zM0 20h1v1h-1zM2 20h1v1h-1zM5 20h1v1h-1zM12 20h1v1h-1zM32 20h4v1h-4zM38 20h1v1h-1zM49 20h1v1h-1zM53 20h1v1h-1zM2 21h1v1h-1zM5 21h1v1h-1zM12 21h1v1h-1zM16 21h2v1h-2zM33 21h2v1h-2zM38 21h1v1h-1zM43 21h1v1h-1zM53 21h1v1h-1zM63 21h1v1h-1zM2 22h1v1h-1zM10 22h1v1h-1zM12 22h1v1h-1zM24 22h2v1h-2zM28 22h1v1h-1zM39 22h1v1h-1zM42 22h5v1h-5zM51 22h2v1h-2zM62 22h1v1h-1zM3 23h2v1h-2zM11 23h1v1h-1zM29 23h1v1h-1zM34 23h1v1h-1zM40 23h2v1h-2zM43 23h1v1h-1zM56 23h1v1h-1zM63 23h1v1h-1zM5 24h1v1h-1zM34 24h2v1h-2zM37 24h2v1h-2zM40 24h1v1h-1zM54 24h1v1h-1zM5 25h1v1h-1zM20 25h1v1h-1zM22 25h2v1h-2zM25 25h1v1h-1zM30 25h1v1h-1zM33 25h1v1h-1zM35 25h2v1h-2zM48 25h1v1h-1zM53 25h1v1h-1zM57 25h1v1h-1zM61 25h3v1h-3zM5 26h1v1h-1zM9 26h1v1h-1zM18 26h1v1h-1zM30 26h4v1h-4zM37 26h1v1h-1zM46 26h2v1h-2zM57 26h1v1h-1zM3 27h3v1h-3zM23 27h2v1h-2zM26 27h3v1h-3zM34 27h2v1h-2zM37 27h2v1h-2zM44 27h1v1h-1zM46 27h1v1h-1zM50 27h1v1h-1zM54 27h1v1h-1zM4 28h1v1h-1zM7 28h1v1h-1zM22 28h2v1h-2zM29 28h1v1h-1zM33 28h1v1h-1zM36 28h2v1h-2zM39 28h2v1h-2zM42 28h1v1h-1zM46 28h1v1h-1zM6 29h2v1h-2zM13 29h3v1h-3zM22 29h1v1h-1zM25 29h1v1h-1zM29 29h2v1h-2zM37 29h1v1h-1zM39 29h1v1h-1zM1 30h1v1h-1zM4 30h1v1h-1zM8 30h1v1h-1zM12 30h1v1h-1zM15 30h1v1h-1zM17 30h1v1h-1zM21 30h2v1h-2zM24 30h1v1h-1zM31 30h1v1h-1zM37 30h1v1h-1zM53 30h2v1h-2zM3 31h2v1h-2zM8 31h2v1h-2zM12 31h1v1h-1zM16 31h1v1h-1zM21 31h2v1h-2zM27 31h1v1h-1zM30 31h1v1h-1zM39 31h1v1h-1zM41 31h1v1h-1zM56 31h1v1h-1zM62 31h1v1h-1zM0 32h1v1h-1zM7 32h1v1h-1zM23 32h2v1h-2zM28 32h1v1h-1zM54 32h1v1h-1zM56 32h1v1h-1zM61 32h1v1h-1zM0 33h4v1h-4zM17 33h2v1h-2zM21 33h2v1h-2zM25 33h1v1h-1zM35 33h2v1h-2zM42 33h2v1h-2zM51 33h2v1h-2zM55 33h1v1h-1zM59 33h1v1h-1zM61 33h1v1h-1zM0 34h1v1h-1zM6 34h1v1h-1zM17 34h3v1h-3zM37 34h1v1h-1zM42 34h2v1h-2zM54 34h1v1h-1zM58 34h4v1h-4zM63 34h1v1h-1zM2 35h1v1h-1zM6 35h1v1h-1zM16 35h3v1h-3zM43 35h1v1h-1zM46 35h1v1h-1zM51 35h1v1h-1zM56 35h1v1h-1zM3 36h1v1h-1zM19 36h1v1h-1zM63 36h1v1h-1zM4 37h1v1h-1zM10 37h1v1h-1zM19 37h2v1h-2zM30 37h2v1h-2zM36 37h1v1h-1zM42 37h2v1h-2zM45 37h1v1h-1zM49 37h1v1h-1zM58 37h1v1h-1zM60 37h1v1h-1zM63 37h1v1h-1zM4 38h1v1h-1zM9 38h3v1h-3zM19 38h2v1h-2zM30 38h1v1h-1zM41 38h1v1h-1zM45 38h1v1h-1zM52 38h1v1h-1zM0 39h3v1h-3zM4 39h1v1h-1zM6 39h1v1h-1zM10 39h1v1h-1zM24 39h1v1h-1zM30 39h3v1h-3zM37 39h1v1h-1zM39 39h3v1h-3zM49 39h1v1h-1zM51 39h1v1h-1zM58 39h1v1h-1zM60 39h1v1h-1zM62 39h1v1h-1zM0 40h1v1h-1zM5 40h2v1h-2zM10 40h1v1h-1zM18 40h1v1h-1zM20 40h1v1h-1zM27 40h1v1h-1zM31 40h2v1h-2zM34 40h1v1h-1zM49 40h1v1h-1zM51 40h1v1h-1zM1 41h1v1h-1zM4 41h1v1h-1zM7 41h3v1h-3zM12 41h2v1h-2zM20 41h4v1h-4zM42 41h1v1h-1zM44 41h1v1h-1zM48 41h1v1h-1zM1 42h1v1h-1zM13 42h1v1h-1zM19 42h1v1h-1zM22 42h1v1h-1zM41 42h1v1h-1zM52 42h1v1h-1zM62 42h1v1h-1zM0 43h1v1h-1zM9 43h1v1h-1zM14 43h1v1h-1zM18 43h1v1h-1zM28 43h2v1h-2zM37 43h2v1h-2zM42 43h2v1h-2zM47 43h1v1h-1zM51 43h3v1h-3zM57 43h1v1h-1zM0 44h1v1h-1zM8 44h2v1h-2zM26 44h1v1h-1zM28 44h2v1h-2zM31 44h1v1h-1zM34 44h1v1h-1zM41 44h1v1h-1zM46 44h1v1h-1zM48 44h1v1h-1zM58 44h1v1h-1zM60 44h1v1h-1zM62 44h1v1h-1zM17 45h1v1h-1zM20 45h1v1h-1zM25 45h1v1h-1zM28 45h2v1h-2zM32 45h1v1h-1zM41 45h1v1h-1zM50 45h1v1h-1zM61 45h1v1h-1zM13 46h4v1h-4zM30 46h1v1h-1zM33 46h1v1h-1zM35 46h1v1h-1zM41 46h1v1h-1zM46 46h1v1h-1zM53 46h2v1h-2zM60 46h1v1h-1zM62 46h2v1h-2zM11 47h3v1h-3zM58 47h1v1h-1zM60 47h1v1h-1zM0 48h1v1h-1zM7 48h1v1h-1zM9 48h1v1h-1zM13 48h1v1h-1zM16 48h1v1h-1zM22 48h1v1h-1zM38 48h1v1h-1zM40 48h1v1h-1zM58 48h2v1h-2zM3 49h1v1h-1zM5 49h1v1h-1zM7 49h2v1h-2zM13 49h1v1h-1zM15 49h2v1h-2zM20 49h2v1h-2zM34 49h1v1h-1zM4 50h2v1h-2zM13 50h1v1h-1zM16 50h1v1h-1zM34 50h2v1h-2zM46 50h1v1h-1zM63 50h1v1h-1zM9 51h2v1h-2zM13 51h1v1h-1zM24 51h1v1h-1zM35 51h1v1h-1zM37 51h1v1h-1zM39 51h1v1h-1zM58 51h1v1h-1zM6 52h2v1h-2zM15 52h1v1h-1zM33 52h1v1h-1zM35 52h1v1h-1zM48 52h1v1h-1zM53 52h1v1h-1zM7 53h1v1h-1zM12 53h1v1h-1zM15 53h2v1h-2zM22 53h1v1h-1zM29 53h1v1h-1zM32 53h1v1h-1zM34 53h1v1h-1zM39 53h1v1h-1zM45 53h1v1h-1zM54 53h2v1h-2zM3 54h2v1h-2zM11 54h1v1h-1zM17 54h1v1h-1zM23 54h1v1h-1zM29 54h1v1h-1zM31 54h1v1h-1zM43 54h1v1h-1zM1 55h3v1h-3zM6 55h2v1h-2zM11 55h3v1h-3zM15 55h2v1h-2zM22 55h2v1h-2zM29 55h1v1h-1zM60 55h1v1h-1zM3 56h1v1h-1zM11 56h2v1h-2zM15 56h2v1h-2zM21 56h1v1h-1zM23 56h1v1h-1zM30 56h3v1h-3zM50 56h1v1h-1zM59 56h2v1h-2zM3 57h1v1h-1zM12 57h4v1h-4zM21 57h1v1h-1zM30 57h2v1h-2zM40 57h1v1h-1zM42 57h1v1h-1zM44 57h1v1h-1zM62 57h1v1h-1zM3 58h4v1h-4zM13 58h2v1h-2zM18 58h2v1h-2zM30 58h1v1h-1zM38 58h5v1h-5zM51 58h1v1h-1zM58 58h3v1h-3zM4 59h2v1h-2zM13 59h4v1h-4zM24 59h1v1h-1zM30 59h1v1h-1zM39 59h2v1h-2zM47 59h1v1h-1zM55 59h1v1h-1zM59 59h5v1h-5zM9 60h1v1h-1zM14 60h1v1h-1zM17 60h1v1h-1zM19 60h1v1h-1zM22 60h1v1h-1zM24 60h1v1h-1zM49 60h3v1h-3zM55 60h1v1h-1zM62 60h1v1h-1zM6 61h1v1h-1zM14 61h2v1h-2zM17 61h1v1h-1zM19 61h1v1h-1zM26 61h2v1h-2zM29 61h1v1h-1zM36 61h3v1h-3zM48 61h1v1h-1zM51 61h1v1h-1zM13 62h2v1h-2zM17 62h1v1h-1zM28 62h1v1h-1zM32 62h1v1h-1zM39 62h2v1h-2zM45 62h3v1h-3zM51 62h1v1h-1zM63 62h1v1h-1zM11 63h1v1h-1zM36 63h1v1h-1zM40 63h1v1h-1zM49 63h1v1h-1zM55 63h1v1h-1z"/><path fill="#ba55d3" d="M35 0h1v1h-1zM54 0h1v1h-1zM17 1h1v1h-1zM33 1h1v1h-1zM35 1h1v1h-1zM60 1h1v1h-1zM6 2h1v1h-1zM11 2h1v1h-1zM21 2h1v1h-1zM42 2h1v1h-1zM53 2h2v1h-2zM7 3h1v1h-1zM21 3h1v1h-1zM23 3h2v1h-2zM30 3h1v1h-1zM33 3h1v1h-1zM0 4h3v1h-3zM63 4h1v1h-1zM1 5h1v1h-1zM3 5h1v1h-1zM26 5h1v1h-1zM30 5h1v1h-1zM43 5h1v1h-1zM45 5h1v1h-1zM59 5h1v1h-1zM61 5h3v1h-3zM0 6h1v1h-1zM12 6h1v1h-1zM15 6h2v1h-2zM40 6h1v1h-1zM42 6h1v1h-1zM44 6h3v1h-3zM59 6h1v1h-1zM0 7h3v1h-3zM4 7h1v1h-1zM15 7h1v1h-1zM17 7h1v1h-1zM21 7h1v1h-1zM25 7h1v1h-1zM35 7h1v1h-1zM44 7h1v1h-1zM46 7h1v1h-1zM61 7h1v1h-1zM1 8h1v1h-1zM11 8h2v1h-2zM38 8h1v1h-1zM0 9h1v1h-1zM5 9h1v1h-1zM10 9h1v1h-1zM15 9h1v1h-1zM30 9h1v1h-1zM38 9h1v1h-1zM63 9h1v1h-1zM0 10h1v1h-1zM32 10h1v1h-1zM51 10h1v1h-1zM53 10h1v1h-1zM0 11h1v1h-1zM3 11h1v1h-1zM6 11h1v1h-1zM60 11h1v1h-1zM3 12h1v1h-1zM59 12h1v1h-1zM12 13h1v1h-1zM14 13h1v1h-1zM37 13h1v1h-1zM59 13h1v1h-1zM63 13h1v1h-1zM13 14h1v1h-1zM57 14h1v1h-1zM62 14h2v1h-2zM20 15h1v1h-1zM38 15h1v1h-1zM40 15h3v1h-3zM46 15h1v1h-1zM48 15h1v1h-1zM51 15h1v1h-1zM62 15h1v1h-1zM13 16h1v1h-1zM48 16h1v1h-1zM51 16h2v1h-2zM38 17h1v1h-1zM48 17h1v1h-1zM51 17h1v1h-1zM49 18h1v1h-1zM53 18h2v1h-2zM12 19h2v1h-2zM4 20h1v1h-1zM17 20h2v1h-2zM43 20h1v1h-1zM45 20h1v1h-1zM57 20h1v1h-1zM3 21h1v1h-1zM11 21h1v1h-1zM39 21h1v1h-1zM44 21h2v1h-2zM56 21h1v1h-1zM5 22h1v1h-1zM11 22h1v1h-1zM26 22h2v1h-2zM47 22h4v1h-4zM56 22h1v1h-1zM2 23h1v1h-1zM5 23h1v1h-1zM24 23h3v1h-3zM42 23h1v1h-1zM47 23h1v1h-1zM60 23h1v1h-1zM62 23h1v1h-1zM25 24h2v1h-2zM29 24h1v1h-1zM41 24h1v1h-1zM49 24h1v1h-1zM51 24h1v1h-1zM60 24h1v1h-1zM63 24h1v1h-1zM34 25h1v1h-1zM37 25h1v1h-1zM47 25h1v1h-1zM50 25h3v1h-3zM2 26h1v1h-1zM22 26h1v1h-1zM28 26h1v1h-1zM34 26h1v1h-1zM45 26h1v1h-1zM51 26h1v1h-1zM22 27h1v1h-1zM29 27h2v1h-2zM33 27h1v1h-1zM39 27h1v1h-1zM21 28h1v1h-1zM26 28h1v1h-1zM41 28h1v1h-1zM5 29h1v1h-1zM27 29h2v1h-2zM36 29h1v1h-1zM40 29h1v1h-1zM53 29h1v1h-1zM5 30h1v1h-1zM7 30h1v1h-1zM23 30h1v1h-1zM26 30h2v1h-2zM30 30h1v1h-1zM55 30h1v1h-1zM1 31h2v1h-2zM7 31h1v1h-1zM20 31h1v1h-1zM26 31h1v1h-1zM29 31h1v1h-1zM40 31h1v1h-1zM55 31h1v1h-1zM1 32h1v1h-1zM17 32h3v1h-3zM26 32h1v1h-1zM40 32h3v1h-3zM55 32h1v1h-1zM60 32h1v1h-1zM13 33h1v1h-1zM40 33h2v1h-2zM53 33h1v1h-1zM60 33h1v1h-1zM1 34h1v1h-1zM4 34h1v1h-1zM16 34h1v1h-1zM20 34h2v1h-2zM35 34h1v1h-1zM41 34h1v1h-1zM51 34h1v1h-1zM53 34h1v1h-1zM1 35h1v1h-1zM19 35h1v1h-1zM21 35h1v1h-1zM37 35h1v1h-1zM41 35h2v1h-2zM44 35h2v1h-2zM52 35h2v1h-2zM58 35h3v1h-3zM20 36h1v1h-1zM37 36h1v1h-1zM43 36h1v1h-1zM47 36h1v1h-1zM58 36h1v1h-1zM60 36h1v1h-1zM48 37h1v1h-1zM59 37h1v1h-1zM0 38h2v1h-2zM5 38h1v1h-1zM31 38h1v1h-1zM36 38h1v1h-1zM42 38h1v1h-1zM59 38h2v1h-2zM63 38h1v1h-1zM5 39h1v1h-1zM12 39h1v1h-1zM36 39h1v1h-1zM54 39h1v1h-1zM4 40h1v1h-1zM30 40h1v1h-1zM33 40h1v1h-1zM41 40h2v1h-2zM45 40h2v1h-2zM50 40h1v1h-1zM18 41h1v1h-1zM27 41h1v1h-1zM41 41h1v1h-1zM43 41h1v1h-1zM45 41h1v1h-1zM52 41h1v1h-1zM56 41h1v1h-1zM0 42h1v1h-1zM9 42h1v1h-1zM27 42h1v1h-1zM42 42h1v1h-1zM45 42h1v1h-1zM10 43h1v1h-1zM46 43h1v1h-1zM15 44h1v1h-1zM25 44h1v1h-1zM30 44h1v1h-1zM32 44h2v1h-2zM39 44h2v1h-2zM47 44h1v1h-1zM51 44h2v1h-2zM55 44h1v1h-1zM57 44h1v1h-1zM7 45h1v1h-1zM9 45h1v1h-1zM11 45h1v1h-1zM16 45h1v1h-1zM46 45h1v1h-1zM49 45h1v1h-1zM55 45h1v1h-1zM8 46h1v1h-1zM17 46h2v1h-2zM34 46h1v1h-1zM36 46h1v1h-1zM58 46h1v1h-1zM61 46h1v1h-1zM5 47h1v1h-1zM24 47h1v1h-1zM61 47h1v1h-1zM63 47h1v1h-1zM6 48h1v1h-1zM10 48h1v1h-1zM21 48h1v1h-1zM24 48h1v1h-1zM39 48h1v1h-1zM48 48h3v1h-3zM52 48h1v1h-1zM60 48h1v1h-1zM6 49h1v1h-1zM19 49h1v1h-1zM22 49h5v1h-5zM1 50h1v1h-1zM6 50h1v1h-1zM8 50h1v1h-1zM19 50h3v1h-3zM23 50h1v1h-1zM25 50h1v1h-1zM53 50h1v1h-1zM62 50h1v1h-1zM6 51h3v1h-3zM11 51h1v1h-1zM14 51h1v1h-1zM16 51h1v1h-1zM25 51h1v1h-1zM28 51h1v1h-1zM36 51h1v1h-1zM45 51h1v1h-1zM48 51h1v1h-1zM53 51h2v1h-2zM11 52h1v1h-1zM24 52h1v1h-1zM34 52h1v1h-1zM39 52h1v1h-1zM45 52h1v1h-1zM55 52h1v1h-1zM57 52h1v1h-1zM3 53h1v1h-1zM6 53h1v1h-1zM11 53h1v1h-1zM17 53h1v1h-1zM23 53h2v1h-2zM47 53h1v1h-1zM5 54h3v1h-3zM12 54h2v1h-2zM16 54h1v1h-1zM21 54h1v1h-1zM24 54h1v1h-1zM32 54h2v1h-2zM14 55h1v1h-1zM21 55h1v1h-1zM24 55h1v1h-1zM30 55h2v1h-2zM13 56h2v1h-2zM17 56h1v1h-1zM29 56h1v1h-1zM51 56h1v1h-1zM61 56h1v1h-1zM19 57h2v1h-2zM37 57h1v1h-1zM59 57h3v1h-3zM63 57h1v1h-1zM1 58h1v1h-1zM20 58h1v1h-1zM24 58h1v1h-1zM31 58h1v1h-1zM57 58h1v1h-1zM62 58h2v1h-2zM6 59h1v1h-1zM19 59h1v1h-1zM46 59h1v1h-1zM15 60h1v1h-1zM25 60h1v1h-1zM29 60h1v1h-1zM39 60h1v1h-1zM44 60h1v1h-1zM48 60h1v1h-1zM61 60h1v1h-1zM63 60h1v1h-1zM20 61h1v1h-1zM28 61h1v1h-1zM39 61h1v1h-1zM63 61h1v1h-1zM7 62h1v1h-1zM15 62h1v1h-1zM33 62h2v1h-2zM48 62h1v1h-1zM56 62h1v1h-1zM12 63h2v1h-2zM15 63h2v1h-2zM47 63h1v1h-1zM63 63h1v1h-1z"/><path fill="#9400d3" d="M7 0h1v1h-1zM11 0h1v1h-1zM13 0h2v1h-2zM16 0h2v1h-2zM32 0h1v1h-1zM55 0h1v1h-1zM60 0h1v1h-1zM63 0h1v1h-1zM7 1h1v1h-1zM12 1h2v1h-2zM32 1h1v1h-1zM34 1h1v1h-1zM55 1h1v1h-1zM57 1h1v1h-1zM62 1h1v1h-1zM0 2h1v1h-1zM10 2h1v1h-1zM31 2h5v1h-5zM55 2h1v1h-1zM61 2h1v1h-1zM0 3h2v1h-2zM8 3h3v1h-3zM22 3h1v1h-1zM31 3h1v1h-1zM34 3h1v1h-1zM62 3h2v1h-2zM23 4h2v1h-2zM30 4h1v1h-1zM33 4h2v1h-2zM0 5h1v1h-1zM2 5h1v1h-1zM17 5h1v1h-1zM25 5h1v1h-1zM28 5h1v1h-1zM31 5h1v1h-1zM34 5h1v1h-1zM1 6h2v1h-2zM4 6h1v1h-1zM22 6h1v1h-1zM34 6h1v1h-1zM61 6h3v1h-3zM3 7h1v1h-1zM11 7h2v1h-2zM16 7h1v1h-1zM23 7h2v1h-2zM26 7h2v1h-2zM30 7h1v1h-1zM45 7h1v1h-1zM62 7h2v1h-2zM0 8h1v1h-1zM4 8h1v1h-1zM15 8h2v1h-2zM21 8h1v1h-1zM30 8h1v1h-1zM43 8h2v1h-2zM46 8h1v1h-1zM62 8h2v1h-2zM31 9h1v1h-1zM43 9h1v1h-1zM46 9h1v1h-1zM62 9h1v1h-1zM4 10h2v1h-2zM9 10h2v1h-2zM33 10h1v1h-1zM42 10h1v1h-1zM45 10h1v1h-1zM52 10h1v1h-1zM61 10h3v1h-3zM2 11h1v1h-1zM8 11h3v1h-3zM42 11h1v1h-1zM44 11h1v1h-1zM58 11h1v1h-1zM13 12h1v1h-1zM41 12h2v1h-2zM58 12h1v1h-1zM60 12h1v1h-1zM4 13h2v1h-2zM13 13h1v1h-1zM60 13h3v1h-3zM38 14h4v1h-4zM61 14h1v1h-1zM39 15h1v1h-1zM47 15h1v1h-1zM32 16h1v1h-1zM46 16h2v1h-2zM6 17h3v1h-3zM12 17h2v1h-2zM49 17h1v1h-1zM7 18h1v1h-1zM12 18h2v1h-2zM41 18h3v1h-3zM57 18h1v1h-1zM43 19h2v1h-2zM49 19h1v1h-1zM54 19h1v1h-1zM57 19h1v1h-1zM16 20h1v1h-1zM39 20h3v1h-3zM44 20h1v1h-1zM0 21h2v1h-2zM4 21h1v1h-1zM40 21h3v1h-3zM0 22h2v1h-2zM53 22h1v1h-1zM63 22h1v1h-1zM0 23h1v1h-1zM27 23h2v1h-2zM44 23h3v1h-3zM48 23h1v1h-1zM55 23h1v1h-1zM0 24h4v1h-4zM24 24h1v1h-1zM27 24h2v1h-2zM43 24h6v1h-6zM50 24h1v1h-1zM52 24h2v1h-2zM1 25h2v1h-2zM24 25h1v1h-1zM38 25h3v1h-3zM43 25h1v1h-1zM45 25h2v1h-2zM4 26h1v1h-1zM19 26h1v1h-1zM21 26h1v1h-1zM23 26h2v1h-2zM29 26h1v1h-1zM38 26h3v1h-3zM42 26h3v1h-3zM53 26h1v1h-1zM18 27h1v1h-1zM42 27h2v1h-2zM51 27h1v1h-1zM5 28h1v1h-1zM18 28h1v1h-1zM27 28h2v1h-2zM50 28h1v1h-1zM53 28h2v1h-2zM18 29h1v1h-1zM21 29h1v1h-1zM24 29h1v1h-1zM26 29h1v1h-1zM50 29h3v1h-3zM54 29h1v1h-1zM13 30h2v1h-2zM20 30h1v1h-1zM25 30h1v1h-1zM28 30h2v1h-2zM5 31h2v1h-2zM17 31h2v1h-2zM25 31h1v1h-1zM2 32h5v1h-5zM16 32h1v1h-1zM25 32h1v1h-1zM27 32h1v1h-1zM4 33h3v1h-3zM14 33h3v1h-3zM26 33h1v1h-1zM5 34h1v1h-1zM36 34h1v1h-1zM39 34h2v1h-2zM57 34h1v1h-1zM0 35h1v1h-1zM20 35h1v1h-1zM38 35h2v1h-2zM0 36h1v1h-1zM2 36h1v1h-1zM38 36h1v1h-1zM41 36h2v1h-2zM44 36h3v1h-3zM59 36h1v1h-1zM3 37h1v1h-1zM37 37h1v1h-1zM41 37h1v1h-1zM46 37h2v1h-2zM2 38h2v1h-2zM37 38h4v1h-4zM46 38h1v1h-1zM49 38h2v1h-2zM25 39h1v1h-1zM46 39h1v1h-1zM48 39h1v1h-1zM50 39h1v1h-1zM52 39h1v1h-1zM59 39h1v1h-1zM63 39h1v1h-1zM11 40h2v1h-2zM26 40h1v1h-1zM48 40h1v1h-1zM52 40h1v1h-1zM62 40h1v1h-1zM0 41h1v1h-1zM10 41h2v1h-2zM47 41h1v1h-1zM62 41h1v1h-1zM10 42h1v1h-1zM12 42h1v1h-1zM23 42h1v1h-1zM43 42h2v1h-2zM46 42h2v1h-2zM53 42h1v1h-1zM56 42h1v1h-1zM63 42h1v1h-1zM11 43h1v1h-1zM22 43h6v1h-6zM54 43h1v1h-1zM11 44h1v1h-1zM14 44h1v1h-1zM16 44h1v1h-1zM21 44h1v1h-1zM23 44h1v1h-1zM35 44h1v1h-1zM56 44h1v1h-1zM8 45h1v1h-1zM13 45h2v1h-2zM30 45h2v1h-2zM33 45h2v1h-2zM40 45h1v1h-1zM47 45h2v1h-2zM51 45h2v1h-2zM56 45h1v1h-1zM58 45h1v1h-1zM5 46h1v1h-1zM7 46h1v1h-1zM19 46h2v1h-2zM24 46h1v1h-1zM31 46h2v1h-2zM39 46h1v1h-1zM47 46h1v1h-1zM49 46h2v1h-2zM52 46h1v1h-1zM55 46h2v1h-2zM6 47h2v1h-2zM16 47h1v1h-1zM38 47h3v1h-3zM46 47h5v1h-5zM52 47h2v1h-2zM55 47h1v1h-1zM57 47h1v1h-1zM62 47h1v1h-1zM11 48h2v1h-2zM20 48h1v1h-1zM23 48h1v1h-1zM51 48h1v1h-1zM53 48h2v1h-2zM57 48h1v1h-1zM61 48h1v1h-1zM0 49h3v1h-3zM9 49h1v1h-1zM11 49h2v1h-2zM38 49h1v1h-1zM53 49h1v1h-1zM58 49h1v1h-1zM63 49h1v1h-1zM2 50h2v1h-2zM7 50h1v1h-1zM9 50h4v1h-4zM17 50h2v1h-2zM22 50h1v1h-1zM24 50h1v1h-1zM26 50h2v1h-2zM54 50h1v1h-1zM58 50h4v1h-4zM3 51h1v1h-1zM5 51h1v1h-1zM12 51h1v1h-1zM21 51h3v1h-3zM26 51h1v1h-1zM47 51h1v1h-1zM57 51h1v1h-1zM3 52h1v1h-1zM12 52h3v1h-3zM22 52h2v1h-2zM25 52h2v1h-2zM28 52h1v1h-1zM54 52h1v1h-1zM56 52h1v1h-1zM4 53h2v1h-2zM14 53h1v1h-1zM21 53h1v1h-1zM25 53h2v1h-2zM28 53h1v1h-1zM33 53h1v1h-1zM14 54h1v1h-1zM18 54h1v1h-1zM17 55h1v1h-1zM28 55h1v1h-1zM32 55h1v1h-1zM0 56h1v1h-1zM2 56h1v1h-1zM18 56h1v1h-1zM24 56h1v1h-1zM28 56h1v1h-1zM2 57h1v1h-1zM18 57h1v1h-1zM24 57h1v1h-1zM26 57h2v1h-2zM29 57h1v1h-1zM51 57h1v1h-1zM0 58h1v1h-1zM2 58h1v1h-1zM25 58h2v1h-2zM37 58h1v1h-1zM7 59h1v1h-1zM20 59h2v1h-2zM25 59h1v1h-1zM35 59h1v1h-1zM38 59h1v1h-1zM45 59h1v1h-1zM56 59h1v1h-1zM6 60h3v1h-3zM16 60h1v1h-1zM21 60h1v1h-1zM26 60h1v1h-1zM35 60h1v1h-1zM38 60h1v1h-1zM45 60h1v1h-1zM47 60h1v1h-1zM60 60h1v1h-1zM7 61h1v1h-1zM9 61h1v1h-1zM45 61h3v1h-3zM49 61h2v1h-2zM56 61h1v1h-1zM62 61h1v1h-1zM9 62h1v1h-1zM16 62h1v1h-1zM50 62h1v1h-1zM10 63h1v1h-1zM14 63h1v1h-1zM17 63h1v1h-1zM32 63h1v1h-1zM35 63h1v1h-1zM48 63h1v1h-1zM56 63h1v1h-1z"/><path fill="#78005a" d="M8 0h3v1h-3zM12 0h1v1h-1zM33 0h2v1h-2zM56 0h4v1h-4zM61 0h2v1h-2zM8 1h4v1h-4zM54 1h1v1h-1zM56 1h1v1h-1zM61 1h1v1h-1zM63 1h1v1h-1zM7 2h3v1h-3zM62 2h2v1h-2zM32 3h1v1h-1zM31 4h2v1h-2zM23 5h2v1h-2zM27 5h1v1h-1zM32 5h2v1h-2zM3 6h1v1h-1zM23 6h6v1h-6zM31 6h3v1h-3zM22 7h1v1h-1zM31 7h4v1h-4zM31 8h4v1h-4zM45 8h1v1h-1zM32 9h3v1h-3zM44 9h2v1h-2zM34 10h1v1h-1zM43 10h2v1h-2zM4 11h2v1h-2zM43 11h1v1h-1zM61 11h3v1h-3zM4 12h2v1h-2zM61 12h3v1h-3zM41 19h2v1h-2zM55 19h2v1h-2zM42 20h1v1h-1zM54 20h3v1h-3zM54 21h2v1h-2zM40 22h2v1h-2zM54 22h2v1h-2zM1 23h1v1h-1zM49 23h6v1h-6zM61 23h1v1h-1zM4 24h1v1h-1zM42 24h1v1h-1zM61 24h2v1h-2zM3 25h2v1h-2zM28 25h2v1h-2zM41 25h2v1h-2zM44 25h1v1h-1zM3 26h1v1h-1zM20 26h1v1h-1zM41 26h1v1h-1zM52 26h1v1h-1zM19 27h3v1h-3zM40 27h2v1h-2zM52 27h2v1h-2zM19 28h2v1h-2zM51 28h2v1h-2zM19 29h2v1h-2zM6 30h1v1h-1zM18 30h2v1h-2zM13 31h3v1h-3zM19 31h1v1h-1zM13 32h3v1h-3zM52 34h1v1h-1zM40 35h1v1h-1zM1 36h1v1h-1zM39 36h2v1h-2zM0 37h3v1h-3zM38 37h3v1h-3zM47 38h2v1h-2zM47 39h1v1h-1zM53 39h1v1h-1zM24 40h2v1h-2zM47 40h1v1h-1zM53 40h3v1h-3zM63 40h1v1h-1zM24 41h3v1h-3zM46 41h1v1h-1zM53 41h3v1h-3zM63 41h1v1h-1zM11 42h1v1h-1zM24 42h3v1h-3zM54 42h2v1h-2zM12 43h2v1h-2zM55 43h2v1h-2zM12 44h2v1h-2zM22 44h1v1h-1zM24 44h1v1h-1zM36 44h3v1h-3zM12 45h1v1h-1zM15 45h1v1h-1zM21 45h4v1h-4zM35 45h5v1h-5zM57 45h1v1h-1zM6 46h1v1h-1zM21 46h3v1h-3zM37 46h2v1h-2zM40 46h1v1h-1zM48 46h1v1h-1zM51 46h1v1h-1zM57 46h1v1h-1zM17 47h7v1h-7zM51 47h1v1h-1zM54 47h1v1h-1zM56 47h1v1h-1zM17 48h3v1h-3zM55 48h2v1h-2zM62 48h2v1h-2zM10 49h1v1h-1zM17 49h2v1h-2zM54 49h4v1h-4zM59 49h4v1h-4zM55 50h3v1h-3zM4 51h1v1h-1zM17 51h4v1h-4zM27 51h1v1h-1zM46 51h1v1h-1zM55 51h2v1h-2zM4 52h2v1h-2zM16 52h6v1h-6zM27 52h1v1h-1zM46 52h2v1h-2zM18 53h3v1h-3zM27 53h1v1h-1zM19 54h2v1h-2zM25 54h4v1h-4zM18 55h3v1h-3zM25 55h3v1h-3zM1 56h1v1h-1zM19 56h2v1h-2zM25 56h3v1h-3zM0 57h2v1h-2zM25 57h1v1h-1zM28 57h1v1h-1zM35 57h2v1h-2zM27 58h3v1h-3zM35 58h2v1h-2zM26 59h4v1h-4zM36 59h2v1h-2zM57 59h2v1h-2zM20 60h1v1h-1zM27 60h2v1h-2zM36 60h2v1h-2zM46 60h1v1h-1zM56 60h4v1h-4zM8 61h1v1h-1zM16 61h1v1h-1zM57 61h5v1h-5zM8 62h1v1h-1zM49 62h1v1h-1zM57 62h6v1h-6zM8 63h2v1h-2zM33 63h2v1h-2zM57 63h6v1h-6z"/></pattern>
<pattern id="tfi" width="64" height="64" patternUnits="userSpaceOnUse"><rect width="64" height="64" fill="rgb(255, 0, 0)"/><path fill="#00ff00" d="M9 1h1v1h-1zM52 1h2v1h-2zM52 2h3v1h-3zM60 2h3v1h-3zM52 3h3v1h-3zM60 3h3v1h-3zM22 4h1v1h-1zM35 4h3v1h-3zM53 4h3v1h-3zM35 5h3v1h-3zM54 5h3v1h-3zM12 6h1v1h-1zM18 6h1v1h-1zM36 6h1v1h-1zM55 6h3v1h-3zM21 10h2v1h-2zM33 12h3v1h-3zM5 13h1v1h-1zM33 13h4v1h-4zM5 14h1v1h-1zM34 14h3v1h-3zM11 15h1v1h-1zM36 15h1v1h-1zM11 16h2v1h-2zM63 16h1v1h-1zM0 17h1v1h-1zM12 17h1v1h-1zM36 17h1v1h-1zM41 17h2v1h-2zM63 17h1v1h-1zM58 22h1v1h-1zM35 23h1v1h-1zM53 23h1v1h-1zM23 24h2v1h-2zM36 24h1v1h-1zM22 25h4v1h-4zM36 25h1v1h-1zM52 25h1v1h-1zM24 26h2v1h-2zM41 27h2v1h-2zM4 28h1v1h-1zM41 28h2v1h-2zM4 29h2v1h-2zM41 30h1v1h-1zM52 33h1v1h-1zM48 34h1v1h-1zM51 34h1v1h-1zM38 38h1v1h-1zM61 39h3v1h-3zM37 40h1v1h-1zM62 40h1v1h-1zM7 41h1v1h-1zM20 41h2v1h-2zM36 41h3v1h-3zM58 41h3v1h-3zM7 42h2v1h-2zM16 42h1v1h-1zM36 42h3v1h-3zM58 42h3v1h-3zM8 43h1v1h-1zM37 43h4v1h-4zM44 43h1v1h-1zM59 43h1v1h-1zM38 44h3v1h-3zM15 45h1v1h-1zM40 45h1v1h-1zM59 45h1v1h-1zM28 46h2v1h-2zM58 46h4v1h-4zM58 47h4v1h-4zM5 48h1v1h-1zM23 48h5v1h-5zM58 48h2v1h-2zM61 48h1v1h-1zM5 49h1v1h-1zM13 49h1v1h-1zM23 49h5v1h-5zM32 49h1v1h-1zM58 49h2v1h-2zM62 49h1v1h-1zM13 50h1v1h-1zM26 50h1v1h-1zM57 50h1v1h-1zM13 51h1v1h-1zM43 53h1v1h-1zM7 54h1v1h-1zM14 54h1v1h-1zM22 54h1v1h-1zM21 55h2v1h-2zM35 55h1v1h-1zM21 56h1v1h-1zM53 56h1v1h-1z"/><path fill="#7fff00" d="M51 1h1v1h-1zM51 2h1v1h-1zM59 2h1v1h-1zM35 3h1v1h-1zM56 4h1v1h-1zM57 5h1v1h-1zM37 6h2v1h-2zM12 7h1v1h-1zM56 7h2v1h-2zM45 8h1v1h-1zM22 9h1v1h-1zM50 9h1v1h-1zM26 10h1v1h-1zM45 10h1v1h-1zM21 11h2v1h-2zM25 11h1v1h-1zM33 11h1v1h-1zM4 13h1v1h-1zM6 14h1v1h-1zM33 14h1v1h-1zM5 15h1v1h-1zM10 15h1v1h-1zM34 15h2v1h-2zM37 15h1v1h-1zM0 16h1v1h-1zM13 16h1v1h-1zM36 16h1v1h-1zM41 16h1v1h-1zM11 17h1v1h-1zM37 17h1v1h-1zM40 17h1v1h-1zM35 18h1v1h-1zM41 18h1v1h-1zM8 20h1v1h-1zM7 21h1v1h-1zM58 21h1v1h-1zM8 22h1v1h-1zM23 23h2v1h-2zM52 23h1v1h-1zM58 23h1v1h-1zM22 24h1v1h-1zM53 24h1v1h-1zM53 25h1v1h-1zM21 26h1v1h-1zM23 26h1v1h-1zM26 26h1v1h-1zM42 26h1v1h-1zM52 26h1v1h-1zM43 27h1v1h-1zM11 28h1v1h-1zM3 29h1v1h-1zM41 29h2v1h-2zM61 29h1v1h-1zM42 30h1v1h-1zM41 31h1v1h-1zM56 32h1v1h-1zM51 33h1v1h-1zM54 33h2v1h-2zM49 34h2v1h-2zM52 34h1v1h-1zM35 36h1v1h-1zM34 37h2v1h-2zM38 37h2v1h-2zM54 38h2v1h-2zM12 39h1v1h-1zM38 39h1v1h-1zM56 39h1v1h-1zM6 40h1v1h-1zM26 40h3v1h-3zM36 40h1v1h-1zM38 40h1v1h-1zM57 40h2v1h-2zM60 40h2v1h-2zM63 40h1v1h-1zM6 41h1v1h-1zM8 41h1v1h-1zM57 41h1v1h-1zM63 41h1v1h-1zM6 42h1v1h-1zM9 42h1v1h-1zM17 42h1v1h-1zM52 42h1v1h-1zM16 43h2v1h-2zM36 43h1v1h-1zM51 43h1v1h-1zM58 43h1v1h-1zM15 44h1v1h-1zM36 44h2v1h-2zM44 44h1v1h-1zM51 44h1v1h-1zM14 45h1v1h-1zM39 45h1v1h-1zM27 46h1v1h-1zM45 46h1v1h-1zM5 47h1v1h-1zM25 47h4v1h-4zM43 47h2v1h-2zM56 47h2v1h-2zM4 48h1v1h-1zM13 48h1v1h-1zM57 48h1v1h-1zM60 48h1v1h-1zM0 49h1v1h-1zM31 49h1v1h-1zM57 49h1v1h-1zM18 50h2v1h-2zM25 50h1v1h-1zM27 50h1v1h-1zM58 50h1v1h-1zM63 50h1v1h-1zM18 51h1v1h-1zM53 52h3v1h-3zM7 53h1v1h-1zM44 53h1v1h-1zM53 53h3v1h-3zM62 53h1v1h-1zM6 54h1v1h-1zM21 54h1v1h-1zM23 54h1v1h-1zM27 54h1v1h-1zM43 54h2v1h-2zM28 55h1v1h-1zM44 55h1v1h-1zM46 55h1v1h-1zM51 55h2v1h-2zM22 56h2v1h-2zM45 56h1v1h-1zM24 57h3v1h-3zM45 57h1v1h-1zM25 58h1v1h-1zM43 58h1v1h-1zM0 62h1v1h-1z"/><path fill="#adff2f" d="M8 0h2v1h-2zM57 0h1v1h-1zM59 0h1v1h-1zM8 1h1v1h-1zM10 1h1v1h-1zM44 1h1v1h-1zM54 1h1v1h-1zM59 1h3v1h-3zM44 2h2v1h-2zM23 3h1v1h-1zM36 3h2v1h-2zM45 3h1v1h-1zM55 3h1v1h-1zM23 4h1v1h-1zM34 4h1v1h-1zM38 4h1v1h-1zM52 4h1v1h-1zM58 4h1v1h-1zM20 5h1v1h-1zM38 5h1v1h-1zM49 5h1v1h-1zM53 5h1v1h-1zM58 5h1v1h-1zM17 6h1v1h-1zM30 6h1v1h-1zM35 6h1v1h-1zM54 6h1v1h-1zM11 7h1v1h-1zM17 7h2v1h-2zM38 7h1v1h-1zM55 7h1v1h-1zM11 8h2v1h-2zM44 8h1v1h-1zM6 9h1v1h-1zM21 9h1v1h-1zM41 9h1v1h-1zM44 9h3v1h-3zM20 10h1v1h-1zM25 10h1v1h-1zM27 10h1v1h-1zM41 10h2v1h-2zM44 10h1v1h-1zM46 10h1v1h-1zM50 10h1v1h-1zM8 11h1v1h-1zM23 11h1v1h-1zM26 11h2v1h-2zM34 11h2v1h-2zM41 11h1v1h-1zM45 11h1v1h-1zM49 11h2v1h-2zM5 12h1v1h-1zM32 12h1v1h-1zM36 12h1v1h-1zM49 12h2v1h-2zM30 13h1v1h-1zM4 14h1v1h-1zM11 14h1v1h-1zM43 14h2v1h-2zM6 15h1v1h-1zM12 15h1v1h-1zM43 15h2v1h-2zM55 15h2v1h-2zM63 15h1v1h-1zM10 16h1v1h-1zM35 16h1v1h-1zM40 16h1v1h-1zM42 16h1v1h-1zM13 17h1v1h-1zM17 17h1v1h-1zM0 18h1v1h-1zM12 18h1v1h-1zM17 18h1v1h-1zM28 18h1v1h-1zM36 18h2v1h-2zM40 18h1v1h-1zM42 18h1v1h-1zM34 19h3v1h-3zM39 19h1v1h-1zM41 19h1v1h-1zM6 20h2v1h-2zM8 21h1v1h-1zM31 21h2v1h-2zM54 21h1v1h-1zM57 21h1v1h-1zM7 22h1v1h-1zM31 22h2v1h-2zM52 22h2v1h-2zM57 22h1v1h-1zM30 23h2v1h-2zM36 23h1v1h-1zM51 23h1v1h-1zM56 23h2v1h-2zM25 24h1v1h-1zM35 24h1v1h-1zM45 24h1v1h-1zM51 24h2v1h-2zM57 24h1v1h-1zM26 25h1v1h-1zM37 25h1v1h-1zM51 25h1v1h-1zM56 25h1v1h-1zM22 26h1v1h-1zM36 26h1v1h-1zM41 26h1v1h-1zM43 26h1v1h-1zM51 26h1v1h-1zM53 26h1v1h-1zM11 27h1v1h-1zM23 27h1v1h-1zM25 27h1v1h-1zM56 27h1v1h-1zM5 28h1v1h-1zM22 28h1v1h-1zM43 28h1v1h-1zM6 29h1v1h-1zM43 29h1v1h-1zM60 29h1v1h-1zM5 30h1v1h-1zM7 30h1v1h-1zM61 30h1v1h-1zM10 31h1v1h-1zM37 31h2v1h-2zM42 31h1v1h-1zM37 32h1v1h-1zM41 32h2v1h-2zM52 32h1v1h-1zM54 32h2v1h-2zM42 33h1v1h-1zM47 33h1v1h-1zM50 33h1v1h-1zM53 33h1v1h-1zM56 33h1v1h-1zM16 34h1v1h-1zM11 35h1v1h-1zM48 35h1v1h-1zM50 35h1v1h-1zM34 36h1v1h-1zM42 36h1v1h-1zM36 37h2v1h-2zM42 37h1v1h-1zM54 37h2v1h-2zM37 38h1v1h-1zM39 38h1v1h-1zM53 38h1v1h-1zM56 38h1v1h-1zM0 39h1v1h-1zM11 39h1v1h-1zM26 39h3v1h-3zM37 39h1v1h-1zM39 39h1v1h-1zM53 39h1v1h-1zM55 39h1v1h-1zM57 39h1v1h-1zM7 40h1v1h-1zM52 40h1v1h-1zM56 40h1v1h-1zM17 41h1v1h-1zM26 41h1v1h-1zM35 41h1v1h-1zM39 41h1v1h-1zM61 41h2v1h-2zM15 42h1v1h-1zM21 42h1v1h-1zM35 42h1v1h-1zM39 42h1v1h-1zM51 42h1v1h-1zM1 43h1v1h-1zM6 43h2v1h-2zM15 43h1v1h-1zM35 43h1v1h-1zM41 43h1v1h-1zM45 43h1v1h-1zM60 43h1v1h-1zM16 44h1v1h-1zM45 44h1v1h-1zM52 44h1v1h-1zM59 44h1v1h-1zM7 45h1v1h-1zM27 45h3v1h-3zM37 45h1v1h-1zM41 45h1v1h-1zM44 45h1v1h-1zM51 45h1v1h-1zM4 46h1v1h-1zM14 46h2v1h-2zM40 46h3v1h-3zM44 46h1v1h-1zM51 46h1v1h-1zM57 46h1v1h-1zM2 47h1v1h-1zM4 47h1v1h-1zM24 47h1v1h-1zM29 47h1v1h-1zM42 47h1v1h-1zM45 47h1v1h-1zM3 48h1v1h-1zM12 48h1v1h-1zM14 48h1v1h-1zM19 48h1v1h-1zM28 48h1v1h-1zM62 48h1v1h-1zM4 49h1v1h-1zM14 49h1v1h-1zM18 49h1v1h-1zM33 49h1v1h-1zM36 49h1v1h-1zM42 49h1v1h-1zM60 49h2v1h-2zM63 49h1v1h-1zM0 50h1v1h-1zM12 50h1v1h-1zM28 50h1v1h-1zM36 50h1v1h-1zM62 50h1v1h-1zM14 51h1v1h-1zM57 51h1v1h-1zM62 51h1v1h-1zM43 52h2v1h-2zM6 53h1v1h-1zM8 53h1v1h-1zM14 53h1v1h-1zM22 53h2v1h-2zM42 53h1v1h-1zM45 53h1v1h-1zM60 53h2v1h-2zM8 54h1v1h-1zM15 54h1v1h-1zM24 54h1v1h-1zM28 54h1v1h-1zM34 54h2v1h-2zM52 54h3v1h-3zM60 54h1v1h-1zM62 54h2v1h-2zM23 55h2v1h-2zM29 55h1v1h-1zM45 55h1v1h-1zM53 55h1v1h-1zM61 55h1v1h-1zM6 56h1v1h-1zM17 56h4v1h-4zM24 56h2v1h-2zM29 56h1v1h-1zM35 56h1v1h-1zM43 56h2v1h-2zM46 56h1v1h-1zM51 56h2v1h-2zM9 57h1v1h-1zM18 57h4v1h-4zM27 57h1v1h-1zM44 57h1v1h-1zM46 57h1v1h-1zM52 57h1v1h-1zM32 59h1v1h-1zM62 59h1v1h-1zM29 60h2v1h-2zM32 60h2v1h-2zM28 61h2v1h-2zM31 61h1v1h-1zM4 62h1v1h-1zM25 62h1v1h-1zM28 62h2v1h-2zM23 63h1v1h-1zM28 63h1v1h-1zM38 63h1v1h-1z"/><path fill="#ffff00" d="M1 0h2v1h-2zM39 0h1v1h-1zM52 0h3v1h-3zM58 0h1v1h-1zM2 1h1v1h-1zM23 1h1v1h-1zM32 1h1v1h-1zM43 1h1v1h-1zM50 1h1v1h-1zM9 2h2v1h-2zM22 2h2v1h-2zM40 2h1v1h-1zM50 2h1v1h-1zM55 2h1v1h-1zM58 2h1v1h-1zM63 2h1v1h-1zM22 3h1v1h-1zM32 3h2v1h-2zM40 3h1v1h-1zM44 3h1v1h-1zM51 3h1v1h-1zM57 3h1v1h-1zM59 3h1v1h-1zM21 4h1v1h-1zM24 4h1v1h-1zM44 4h2v1h-2zM49 4h1v1h-1zM51 4h1v1h-1zM57 4h1v1h-1zM60 4h2v1h-2zM17 5h3v1h-3zM21 5h3v1h-3zM30 5h2v1h-2zM34 5h1v1h-1zM39 5h1v1h-1zM52 5h1v1h-1zM11 6h1v1h-1zM19 6h4v1h-4zM31 6h1v1h-1zM34 6h1v1h-1zM39 6h1v1h-1zM48 6h3v1h-3zM58 6h2v1h-2zM5 7h1v1h-1zM19 7h1v1h-1zM21 7h1v1h-1zM33 7h1v1h-1zM36 7h2v1h-2zM47 7h3v1h-3zM58 7h2v1h-2zM5 8h2v1h-2zM13 8h1v1h-1zM18 8h2v1h-2zM21 8h1v1h-1zM31 8h3v1h-3zM46 8h1v1h-1zM56 8h2v1h-2zM59 8h1v1h-1zM5 9h1v1h-1zM11 9h2v1h-2zM20 9h1v1h-1zM26 9h1v1h-1zM42 9h2v1h-2zM49 9h1v1h-1zM61 9h2v1h-2zM6 10h3v1h-3zM23 10h2v1h-2zM28 10h1v1h-1zM43 10h1v1h-1zM47 10h1v1h-1zM49 10h1v1h-1zM51 10h1v1h-1zM5 11h1v1h-1zM9 11h1v1h-1zM20 11h1v1h-1zM24 11h1v1h-1zM28 11h1v1h-1zM43 11h1v1h-1zM46 11h1v1h-1zM48 11h1v1h-1zM51 11h1v1h-1zM3 12h2v1h-2zM15 12h1v1h-1zM21 12h1v1h-1zM25 12h2v1h-2zM30 12h1v1h-1zM51 12h1v1h-1zM3 13h1v1h-1zM6 13h1v1h-1zM29 13h1v1h-1zM32 13h1v1h-1zM41 13h1v1h-1zM43 13h1v1h-1zM50 13h1v1h-1zM10 14h1v1h-1zM12 14h1v1h-1zM31 14h2v1h-2zM37 14h1v1h-1zM41 14h1v1h-1zM45 14h1v1h-1zM60 14h1v1h-1zM0 15h1v1h-1zM4 15h1v1h-1zM33 15h1v1h-1zM38 15h1v1h-1zM42 15h1v1h-1zM59 15h1v1h-1zM1 16h1v1h-1zM5 16h2v1h-2zM37 16h2v1h-2zM43 16h1v1h-1zM62 16h1v1h-1zM1 17h1v1h-1zM10 17h1v1h-1zM28 17h1v1h-1zM35 17h1v1h-1zM38 17h1v1h-1zM1 18h1v1h-1zM13 18h1v1h-1zM16 18h1v1h-1zM27 18h1v1h-1zM33 18h2v1h-2zM39 18h1v1h-1zM63 18h1v1h-1zM1 19h3v1h-3zM5 19h2v1h-2zM12 19h2v1h-2zM33 19h1v1h-1zM38 19h1v1h-1zM59 19h1v1h-1zM2 20h1v1h-1zM9 20h1v1h-1zM12 20h1v1h-1zM17 20h1v1h-1zM31 20h1v1h-1zM38 20h3v1h-3zM58 20h1v1h-1zM6 21h1v1h-1zM12 21h2v1h-2zM17 21h1v1h-1zM30 21h1v1h-1zM39 21h2v1h-2zM52 21h2v1h-2zM6 22h1v1h-1zM9 22h1v1h-1zM30 22h1v1h-1zM40 22h3v1h-3zM44 22h1v1h-1zM54 22h2v1h-2zM59 22h1v1h-1zM7 23h1v1h-1zM22 23h1v1h-1zM37 23h2v1h-2zM40 23h8v1h-8zM54 23h1v1h-1zM59 23h1v1h-1zM4 24h1v1h-1zM6 24h1v1h-1zM9 24h1v1h-1zM26 24h1v1h-1zM37 24h1v1h-1zM41 24h1v1h-1zM44 24h1v1h-1zM46 24h2v1h-2zM50 24h1v1h-1zM54 24h3v1h-3zM58 24h1v1h-1zM10 25h1v1h-1zM21 25h1v1h-1zM35 25h1v1h-1zM41 25h2v1h-2zM48 25h3v1h-3zM54 25h2v1h-2zM57 25h1v1h-1zM9 26h3v1h-3zM27 26h1v1h-1zM35 26h1v1h-1zM40 26h1v1h-1zM56 26h1v1h-1zM3 27h2v1h-2zM10 27h1v1h-1zM21 27h2v1h-2zM24 27h1v1h-1zM34 27h1v1h-1zM40 27h1v1h-1zM51 27h2v1h-2zM2 28h2v1h-2zM10 28h1v1h-1zM12 28h1v1h-1zM25 28h1v1h-1zM40 28h1v1h-1zM51 28h2v1h-2zM7 29h1v1h-1zM11 29h1v1h-1zM21 29h2v1h-2zM40 29h1v1h-1zM62 29h1v1h-1zM3 30h2v1h-2zM6 30h1v1h-1zM11 30h2v1h-2zM19 30h1v1h-1zM21 30h2v1h-2zM38 30h1v1h-1zM40 30h1v1h-1zM43 30h1v1h-1zM60 30h1v1h-1zM6 31h1v1h-1zM8 31h1v1h-1zM11 31h2v1h-2zM30 31h1v1h-1zM43 31h1v1h-1zM47 31h1v1h-1zM11 32h2v1h-2zM16 32h1v1h-1zM36 32h1v1h-1zM43 32h1v1h-1zM47 32h1v1h-1zM51 32h1v1h-1zM53 32h1v1h-1zM11 33h1v1h-1zM13 33h1v1h-1zM15 33h1v1h-1zM22 33h1v1h-1zM35 33h1v1h-1zM43 33h1v1h-1zM48 33h2v1h-2zM22 34h1v1h-1zM35 34h1v1h-1zM47 34h1v1h-1zM53 34h3v1h-3zM5 35h1v1h-1zM16 35h1v1h-1zM22 35h1v1h-1zM34 35h2v1h-2zM42 35h1v1h-1zM47 35h1v1h-1zM49 35h1v1h-1zM51 35h1v1h-1zM10 36h3v1h-3zM36 36h1v1h-1zM38 36h2v1h-2zM43 36h1v1h-1zM48 36h1v1h-1zM51 36h1v1h-1zM53 36h1v1h-1zM10 37h1v1h-1zM27 37h2v1h-2zM33 37h1v1h-1zM40 37h2v1h-2zM47 37h1v1h-1zM51 37h3v1h-3zM0 38h2v1h-2zM10 38h4v1h-4zM27 38h2v1h-2zM34 38h3v1h-3zM40 38h1v1h-1zM46 38h1v1h-1zM52 38h1v1h-1zM62 38h2v1h-2zM6 39h1v1h-1zM13 39h1v1h-1zM24 39h2v1h-2zM33 39h1v1h-1zM35 39h2v1h-2zM40 39h1v1h-1zM44 39h3v1h-3zM54 39h1v1h-1zM0 40h1v1h-1zM5 40h1v1h-1zM11 40h2v1h-2zM20 40h3v1h-3zM25 40h1v1h-1zM35 40h1v1h-1zM39 40h1v1h-1zM45 40h1v1h-1zM53 40h1v1h-1zM59 40h1v1h-1zM5 41h1v1h-1zM9 41h1v1h-1zM15 41h2v1h-2zM18 41h2v1h-2zM25 41h1v1h-1zM27 41h1v1h-1zM45 41h1v1h-1zM52 41h2v1h-2zM0 42h2v1h-2zM19 42h2v1h-2zM40 42h1v1h-1zM44 42h3v1h-3zM53 42h1v1h-1zM57 42h1v1h-1zM61 42h1v1h-1zM9 43h1v1h-1zM43 43h1v1h-1zM52 43h1v1h-1zM1 44h2v1h-2zM7 44h2v1h-2zM14 44h1v1h-1zM29 44h1v1h-1zM41 44h1v1h-1zM43 44h1v1h-1zM58 44h1v1h-1zM60 44h1v1h-1zM1 45h2v1h-2zM8 45h1v1h-1zM26 45h1v1h-1zM35 45h2v1h-2zM38 45h1v1h-1zM43 45h1v1h-1zM45 45h1v1h-1zM50 45h1v1h-1zM52 45h1v1h-1zM58 45h1v1h-1zM60 45h1v1h-1zM1 46h3v1h-3zM5 46h3v1h-3zM25 46h2v1h-2zM30 46h1v1h-1zM36 46h1v1h-1zM39 46h1v1h-1zM43 46h1v1h-1zM50 46h1v1h-1zM56 46h1v1h-1zM3 47h1v1h-1zM6 47h1v1h-1zM14 47h1v1h-1zM23 47h1v1h-1zM30 47h1v1h-1zM41 47h1v1h-1zM62 47h1v1h-1zM0 48h1v1h-1zM6 48h1v1h-1zM20 48h1v1h-1zM29 48h2v1h-2zM32 48h2v1h-2zM42 48h3v1h-3zM56 48h1v1h-1zM1 49h1v1h-1zM3 49h1v1h-1zM12 49h1v1h-1zM19 49h1v1h-1zM22 49h1v1h-1zM28 49h3v1h-3zM34 49h2v1h-2zM37 49h2v1h-2zM41 49h1v1h-1zM50 49h1v1h-1zM14 50h1v1h-1zM23 50h2v1h-2zM29 50h3v1h-3zM34 50h2v1h-2zM37 50h2v1h-2zM41 50h2v1h-2zM48 50h1v1h-1zM61 50h1v1h-1zM12 51h1v1h-1zM17 51h1v1h-1zM19 51h1v1h-1zM27 51h2v1h-2zM35 51h1v1h-1zM37 51h2v1h-2zM42 51h1v1h-1zM53 51h1v1h-1zM55 51h2v1h-2zM58 51h2v1h-2zM63 51h1v1h-1zM7 52h1v1h-1zM13 52h1v1h-1zM38 52h2v1h-2zM42 52h1v1h-1zM56 52h1v1h-1zM61 52h3v1h-3zM13 53h1v1h-1zM15 53h1v1h-1zM24 53h1v1h-1zM27 53h1v1h-1zM34 53h1v1h-1zM63 53h1v1h-1zM9 54h1v1h-1zM16 54h1v1h-1zM25 54h2v1h-2zM29 54h1v1h-1zM42 54h1v1h-1zM45 54h3v1h-3zM61 54h1v1h-1zM5 55h4v1h-4zM15 55h6v1h-6zM27 55h1v1h-1zM34 55h1v1h-1zM36 55h1v1h-1zM43 55h1v1h-1zM47 55h2v1h-2zM54 55h1v1h-1zM5 56h1v1h-1zM26 56h3v1h-3zM36 56h1v1h-1zM47 56h1v1h-1zM2 57h1v1h-1zM4 57h1v1h-1zM17 57h1v1h-1zM23 57h1v1h-1zM31 57h1v1h-1zM43 57h1v1h-1zM53 57h1v1h-1zM17 58h2v1h-2zM26 58h1v1h-1zM31 58h1v1h-1zM33 58h1v1h-1zM42 58h1v1h-1zM46 58h1v1h-1zM25 59h1v1h-1zM30 59h1v1h-1zM33 59h2v1h-2zM42 59h1v1h-1zM46 59h1v1h-1zM61 59h1v1h-1zM1 60h1v1h-1zM26 60h1v1h-1zM31 60h1v1h-1zM34 60h2v1h-2zM61 60h3v1h-3zM1 61h4v1h-4zM24 61h4v1h-4zM30 61h1v1h-1zM32 61h2v1h-2zM63 61h1v1h-1zM1 62h2v1h-2zM5 62h1v1h-1zM23 62h2v1h-2zM27 62h1v1h-1zM37 62h3v1h-3zM63 62h1v1h-1zM0 63h2v1h-2zM4 63h1v1h-1zM22 63h1v1h-1zM24 63h1v1h-1zM26 63h2v1h-2zM39 63h2v1h-2z"/><path fill="#ff8000" d="M22 0h1v1h-1zM24 0h1v1h-1zM32 0h1v1h-1zM38 0h1v1h-1zM43 0h2v1h-2zM55 1h1v1h-1zM16 2h1v1h-1zM33 2h1v1h-1zM48 2h2v1h-2zM57 2h1v1h-1zM34 3h1v1h-1zM46 3h1v1h-1zM56 3h1v1h-1zM58 3h1v1h-1zM63 3h1v1h-1zM20 4h1v1h-1zM30 4h1v1h-1zM33 4h1v1h-1zM39 4h1v1h-1zM59 4h1v1h-1zM62 4h1v1h-1zM12 5h1v1h-1zM16 5h1v1h-1zM47 5h2v1h-2zM59 5h1v1h-1zM13 6h1v1h-1zM60 6h1v1h-1zM13 7h1v1h-1zM20 7h1v1h-1zM30 7h2v1h-2zM35 7h1v1h-1zM45 7h2v1h-2zM54 7h1v1h-1zM60 7h1v1h-1zM16 8h1v1h-1zM20 8h1v1h-1zM47 8h1v1h-1zM50 8h1v1h-1zM7 9h1v1h-1zM17 9h1v1h-1zM27 9h1v1h-1zM47 9h2v1h-2zM51 9h1v1h-1zM4 10h2v1h-2zM32 11h1v1h-1zM36 11h1v1h-1zM42 11h1v1h-1zM44 11h1v1h-1zM6 12h1v1h-1zM16 12h1v1h-1zM27 12h1v1h-1zM37 12h1v1h-1zM41 12h1v1h-1zM45 12h1v1h-1zM48 12h1v1h-1zM25 13h1v1h-1zM31 13h1v1h-1zM42 13h1v1h-1zM44 13h2v1h-2zM51 13h1v1h-1zM26 14h1v1h-1zM42 14h1v1h-1zM7 15h1v1h-1zM13 15h1v1h-1zM32 15h1v1h-1zM41 15h1v1h-1zM60 15h3v1h-3zM39 16h1v1h-1zM56 16h1v1h-1zM58 16h2v1h-2zM27 17h1v1h-1zM39 17h1v1h-1zM62 17h1v1h-1zM2 18h1v1h-1zM11 18h1v1h-1zM31 18h1v1h-1zM0 19h1v1h-1zM17 19h1v1h-1zM28 19h1v1h-1zM37 19h1v1h-1zM40 19h1v1h-1zM5 20h1v1h-1zM13 20h1v1h-1zM18 20h1v1h-1zM21 20h1v1h-1zM30 20h1v1h-1zM32 20h2v1h-2zM59 20h1v1h-1zM18 21h1v1h-1zM20 22h1v1h-1zM35 22h1v1h-1zM56 22h1v1h-1zM5 23h2v1h-2zM9 23h1v1h-1zM34 23h1v1h-1zM39 23h1v1h-1zM55 23h1v1h-1zM10 24h1v1h-1zM38 24h1v1h-1zM42 24h1v1h-1zM48 24h1v1h-1zM5 25h1v1h-1zM11 25h1v1h-1zM19 25h1v1h-1zM27 25h1v1h-1zM38 25h1v1h-1zM20 26h1v1h-1zM57 26h1v1h-1zM26 27h1v1h-1zM53 27h1v1h-1zM21 28h1v1h-1zM62 28h1v1h-1zM2 29h1v1h-1zM9 29h1v1h-1zM59 29h1v1h-1zM20 30h1v1h-1zM29 30h1v1h-1zM7 31h1v1h-1zM22 31h1v1h-1zM31 31h1v1h-1zM36 31h1v1h-1zM40 31h1v1h-1zM13 32h1v1h-1zM17 32h1v1h-1zM35 32h1v1h-1zM38 32h1v1h-1zM46 32h1v1h-1zM21 33h1v1h-1zM37 33h1v1h-1zM46 33h1v1h-1zM57 33h1v1h-1zM4 34h1v1h-1zM10 34h1v1h-1zM12 34h1v1h-1zM14 34h1v1h-1zM17 34h1v1h-1zM10 35h1v1h-1zM15 35h1v1h-1zM36 35h1v1h-1zM25 36h2v1h-2zM47 36h1v1h-1zM55 36h1v1h-1zM33 38h1v1h-1zM5 39h1v1h-1zM10 39h1v1h-1zM52 39h1v1h-1zM60 39h1v1h-1zM19 40h1v1h-1zM40 40h1v1h-1zM22 41h1v1h-1zM46 41h1v1h-1zM18 42h1v1h-1zM27 42h1v1h-1zM43 42h1v1h-1zM2 43h1v1h-1zM6 44h1v1h-1zM28 44h1v1h-1zM42 44h1v1h-1zM3 45h1v1h-1zM6 45h1v1h-1zM16 45h1v1h-1zM30 45h1v1h-1zM42 45h1v1h-1zM15 47h1v1h-1zM2 48h1v1h-1zM18 48h1v1h-1zM31 48h1v1h-1zM37 48h1v1h-1zM41 48h1v1h-1zM49 49h1v1h-1zM5 50h1v1h-1zM43 50h1v1h-1zM50 50h1v1h-1zM59 50h1v1h-1zM0 51h1v1h-1zM36 51h1v1h-1zM41 51h1v1h-1zM52 51h1v1h-1zM54 51h1v1h-1zM12 52h1v1h-1zM14 52h1v1h-1zM23 52h1v1h-1zM59 52h2v1h-2zM9 53h1v1h-1zM12 53h1v1h-1zM25 53h2v1h-2zM28 53h1v1h-1zM35 53h1v1h-1zM37 53h1v1h-1zM39 53h1v1h-1zM46 53h1v1h-1zM56 53h1v1h-1zM13 54h1v1h-1zM20 54h1v1h-1zM33 54h1v1h-1zM1 55h1v1h-1zM25 55h1v1h-1zM30 55h1v1h-1zM42 55h1v1h-1zM2 56h3v1h-3zM10 56h1v1h-1zM16 56h1v1h-1zM30 56h1v1h-1zM54 56h1v1h-1zM8 57h1v1h-1zM10 57h1v1h-1zM29 57h1v1h-1zM1 58h1v1h-1zM24 58h1v1h-1zM32 58h1v1h-1zM41 58h1v1h-1zM53 58h1v1h-1zM2 59h1v1h-1zM26 59h1v1h-1zM31 59h1v1h-1zM43 59h1v1h-1zM2 60h1v1h-1zM28 60h1v1h-1zM62 61h1v1h-1zM3 62h1v1h-1zM6 62h1v1h-1zM26 62h1v1h-1zM30 62h1v1h-1zM40 62h1v1h-1zM5 63h1v1h-1zM29 63h1v1h-1zM35 63h1v1h-1zM37 63h1v1h-1z"/><path fill="#ba55d3" d="M3 0h2v1h-2zM6 0h1v1h-1zM19 0h2v1h-2zM25 0h1v1h-1zM29 0h1v1h-1zM31 0h1v1h-1zM35 0h3v1h-3zM41 0h2v1h-2zM49 0h1v1h-1zM51 0h1v1h-1zM55 0h1v1h-1zM61 0h3v1h-3zM7 1h1v1h-1zM11 1h1v1h-1zM16 1h2v1h-2zM20 1h1v1h-1zM24 1h1v1h-1zM31 1h1v1h-1zM33 1h1v1h-1zM37 1h4v1h-4zM48 1h1v1h-1zM0 2h2v1h-2zM14 2h1v1h-1zM17 2h1v1h-1zM21 2h1v1h-1zM24 2h2v1h-2zM31 2h1v1h-1zM38 2h1v1h-1zM41 2h1v1h-1zM47 2h1v1h-1zM9 3h3v1h-3zM13 3h2v1h-2zM16 3h2v1h-2zM29 3h2v1h-2zM41 3h1v1h-1zM47 3h1v1h-1zM15 4h1v1h-1zM18 4h1v1h-1zM40 4h3v1h-3zM11 5h1v1h-1zM13 5h1v1h-1zM15 5h1v1h-1zM25 5h1v1h-1zM32 5h2v1h-2zM42 5h1v1h-1zM45 5h2v1h-2zM50 5h1v1h-1zM60 5h1v1h-1zM5 6h2v1h-2zM15 6h1v1h-1zM25 6h1v1h-1zM46 6h1v1h-1zM52 6h1v1h-1zM1 7h1v1h-1zM22 7h4v1h-4zM41 7h1v1h-1zM43 7h1v1h-1zM51 7h1v1h-1zM61 7h1v1h-1zM1 8h1v1h-1zM7 8h1v1h-1zM15 8h1v1h-1zM25 8h1v1h-1zM36 8h1v1h-1zM38 8h1v1h-1zM61 8h1v1h-1zM15 9h1v1h-1zM24 9h1v1h-1zM28 9h1v1h-1zM32 9h2v1h-2zM38 9h2v1h-2zM57 9h1v1h-1zM63 9h1v1h-1zM10 10h2v1h-2zM13 10h4v1h-4zM18 10h1v1h-1zM33 10h1v1h-1zM37 10h2v1h-2zM56 10h3v1h-3zM3 11h1v1h-1zM10 11h1v1h-1zM12 11h4v1h-4zM19 11h1v1h-1zM29 11h1v1h-1zM31 11h1v1h-1zM37 11h1v1h-1zM52 11h1v1h-1zM58 11h1v1h-1zM62 11h1v1h-1zM7 12h3v1h-3zM11 12h4v1h-4zM17 12h2v1h-2zM20 12h1v1h-1zM39 12h1v1h-1zM47 12h1v1h-1zM57 12h2v1h-2zM1 13h1v1h-1zM8 13h3v1h-3zM12 13h1v1h-1zM28 13h1v1h-1zM40 13h1v1h-1zM55 13h1v1h-1zM57 13h1v1h-1zM60 13h1v1h-1zM62 13h1v1h-1zM1 14h2v1h-2zM8 14h2v1h-2zM13 14h1v1h-1zM27 14h1v1h-1zM29 14h1v1h-1zM38 14h1v1h-1zM54 14h1v1h-1zM57 14h2v1h-2zM61 14h1v1h-1zM63 14h1v1h-1zM2 15h2v1h-2zM8 15h1v1h-1zM20 15h1v1h-1zM25 15h3v1h-3zM31 15h1v1h-1zM54 15h1v1h-1zM2 16h2v1h-2zM7 16h1v1h-1zM14 16h1v1h-1zM18 16h2v1h-2zM21 16h1v1h-1zM23 16h1v1h-1zM25 16h1v1h-1zM32 16h1v1h-1zM50 16h2v1h-2zM54 16h1v1h-1zM61 16h1v1h-1zM2 17h1v1h-1zM5 17h2v1h-2zM9 17h1v1h-1zM26 17h1v1h-1zM61 17h1v1h-1zM3 18h2v1h-2zM9 18h1v1h-1zM15 18h1v1h-1zM21 18h1v1h-1zM60 18h1v1h-1zM4 19h1v1h-1zM29 19h1v1h-1zM53 19h1v1h-1zM58 19h1v1h-1zM60 19h1v1h-1zM0 20h1v1h-1zM4 20h1v1h-1zM14 20h1v1h-1zM16 20h1v1h-1zM19 20h1v1h-1zM23 20h1v1h-1zM26 20h1v1h-1zM53 20h1v1h-1zM55 20h1v1h-1zM60 20h1v1h-1zM3 21h1v1h-1zM11 21h1v1h-1zM16 21h1v1h-1zM24 21h1v1h-1zM33 21h1v1h-1zM35 21h3v1h-3zM43 21h3v1h-3zM51 21h1v1h-1zM3 22h1v1h-1zM5 22h1v1h-1zM10 22h2v1h-2zM17 22h2v1h-2zM27 22h2v1h-2zM38 22h1v1h-1zM50 22h1v1h-1zM0 23h1v1h-1zM2 23h3v1h-3zM20 23h1v1h-1zM26 23h1v1h-1zM1 24h3v1h-3zM7 24h1v1h-1zM11 24h1v1h-1zM20 24h1v1h-1zM28 24h1v1h-1zM32 24h2v1h-2zM60 24h1v1h-1zM6 25h2v1h-2zM28 25h1v1h-1zM3 26h2v1h-2zM6 26h1v1h-1zM8 26h1v1h-1zM19 26h1v1h-1zM39 26h1v1h-1zM44 26h1v1h-1zM1 27h1v1h-1zM6 27h1v1h-1zM9 27h1v1h-1zM33 27h1v1h-1zM36 27h2v1h-2zM39 27h1v1h-1zM45 27h1v1h-1zM47 27h4v1h-4zM55 27h1v1h-1zM58 27h1v1h-1zM61 27h3v1h-3zM0 28h1v1h-1zM8 28h2v1h-2zM28 28h2v1h-2zM39 28h1v1h-1zM45 28h1v1h-1zM56 28h1v1h-1zM58 28h2v1h-2zM63 28h1v1h-1zM18 29h1v1h-1zM26 29h1v1h-1zM29 29h2v1h-2zM45 29h1v1h-1zM51 29h1v1h-1zM17 30h2v1h-2zM23 30h1v1h-1zM28 30h1v1h-1zM31 30h1v1h-1zM33 30h1v1h-1zM35 30h1v1h-1zM39 30h1v1h-1zM45 30h2v1h-2zM51 30h2v1h-2zM56 30h1v1h-1zM4 31h2v1h-2zM13 31h1v1h-1zM15 31h1v1h-1zM20 31h1v1h-1zM24 31h3v1h-3zM28 31h1v1h-1zM32 31h1v1h-1zM34 31h1v1h-1zM44 31h3v1h-3zM48 31h1v1h-1zM52 31h1v1h-1zM55 31h1v1h-1zM58 31h2v1h-2zM61 31h1v1h-1zM7 32h1v1h-1zM10 32h1v1h-1zM14 32h1v1h-1zM18 32h3v1h-3zM23 32h1v1h-1zM25 32h1v1h-1zM28 32h2v1h-2zM31 32h1v1h-1zM33 32h1v1h-1zM39 32h1v1h-1zM44 32h2v1h-2zM49 32h2v1h-2zM59 32h1v1h-1zM61 32h3v1h-3zM7 33h2v1h-2zM19 33h2v1h-2zM23 33h2v1h-2zM45 33h1v1h-1zM58 33h1v1h-1zM62 33h1v1h-1zM2 34h1v1h-1zM6 34h3v1h-3zM19 34h1v1h-1zM23 34h1v1h-1zM36 34h1v1h-1zM44 34h1v1h-1zM46 34h1v1h-1zM56 34h2v1h-2zM61 34h1v1h-1zM14 35h1v1h-1zM17 35h1v1h-1zM39 35h1v1h-1zM41 35h1v1h-1zM44 35h1v1h-1zM46 35h1v1h-1zM57 35h1v1h-1zM1 36h1v1h-1zM9 36h1v1h-1zM15 36h2v1h-2zM28 36h1v1h-1zM45 36h1v1h-1zM56 36h1v1h-1zM1 37h1v1h-1zM13 37h2v1h-2zM22 37h2v1h-2zM32 37h1v1h-1zM45 37h2v1h-2zM50 37h1v1h-1zM57 37h1v1h-1zM7 38h1v1h-1zM9 38h1v1h-1zM17 38h1v1h-1zM21 38h1v1h-1zM23 38h1v1h-1zM25 38h1v1h-1zM29 38h1v1h-1zM42 38h1v1h-1zM44 38h1v1h-1zM47 38h1v1h-1zM51 38h1v1h-1zM60 38h1v1h-1zM4 39h1v1h-1zM18 39h3v1h-3zM22 39h2v1h-2zM29 39h1v1h-1zM41 39h2v1h-2zM51 39h1v1h-1zM59 39h1v1h-1zM1 40h1v1h-1zM4 40h1v1h-1zM9 40h1v1h-1zM13 40h1v1h-1zM15 40h4v1h-4zM24 40h1v1h-1zM42 40h1v1h-1zM14 41h1v1h-1zM23 41h1v1h-1zM41 41h3v1h-3zM47 41h1v1h-1zM3 42h1v1h-1zM14 42h1v1h-1zM23 42h1v1h-1zM42 42h1v1h-1zM54 42h1v1h-1zM56 42h1v1h-1zM10 43h1v1h-1zM18 43h2v1h-2zM22 43h2v1h-2zM27 43h3v1h-3zM57 43h1v1h-1zM3 44h1v1h-1zM5 44h1v1h-1zM10 44h1v1h-1zM21 44h2v1h-2zM25 44h1v1h-1zM27 44h1v1h-1zM30 44h2v1h-2zM54 44h2v1h-2zM57 44h1v1h-1zM61 44h1v1h-1zM0 45h1v1h-1zM23 45h3v1h-3zM31 45h1v1h-1zM47 45h1v1h-1zM55 45h2v1h-2zM61 45h1v1h-1zM0 46h1v1h-1zM9 46h1v1h-1zM19 46h1v1h-1zM31 46h2v1h-2zM55 46h1v1h-1zM7 47h1v1h-1zM12 47h1v1h-1zM18 47h2v1h-2zM21 47h2v1h-2zM36 47h1v1h-1zM40 47h1v1h-1zM46 47h1v1h-1zM49 47h1v1h-1zM52 47h1v1h-1zM55 47h1v1h-1zM11 48h1v1h-1zM15 48h1v1h-1zM34 48h1v1h-1zM36 48h1v1h-1zM40 48h1v1h-1zM46 48h1v1h-1zM2 49h1v1h-1zM15 49h1v1h-1zM20 49h1v1h-1zM39 49h1v1h-1zM45 49h1v1h-1zM47 49h1v1h-1zM51 49h2v1h-2zM6 50h1v1h-1zM11 50h1v1h-1zM20 50h1v1h-1zM51 50h3v1h-3zM55 50h1v1h-1zM3 51h1v1h-1zM10 51h1v1h-1zM15 51h1v1h-1zM20 51h1v1h-1zM24 51h1v1h-1zM44 51h1v1h-1zM48 51h1v1h-1zM1 52h1v1h-1zM3 52h2v1h-2zM15 52h1v1h-1zM24 52h3v1h-3zM28 52h1v1h-1zM34 52h1v1h-1zM40 52h1v1h-1zM46 52h1v1h-1zM48 52h1v1h-1zM0 53h1v1h-1zM2 53h2v1h-2zM5 53h1v1h-1zM19 53h1v1h-1zM29 53h1v1h-1zM33 53h1v1h-1zM36 53h1v1h-1zM40 53h1v1h-1zM47 53h1v1h-1zM57 53h2v1h-2zM0 54h1v1h-1zM19 54h1v1h-1zM38 54h4v1h-4zM0 55h1v1h-1zM3 55h1v1h-1zM9 55h1v1h-1zM31 55h1v1h-1zM37 55h1v1h-1zM49 55h2v1h-2zM59 55h1v1h-1zM8 56h1v1h-1zM11 56h1v1h-1zM15 56h1v1h-1zM34 56h1v1h-1zM37 56h2v1h-2zM62 56h1v1h-1zM1 57h1v1h-1zM11 57h1v1h-1zM33 57h2v1h-2zM38 57h1v1h-1zM40 57h1v1h-1zM50 57h1v1h-1zM62 57h1v1h-1zM4 58h1v1h-1zM10 58h1v1h-1zM20 58h1v1h-1zM22 58h1v1h-1zM37 58h2v1h-2zM48 58h1v1h-1zM54 58h1v1h-1zM63 58h1v1h-1zM3 59h1v1h-1zM19 59h3v1h-3zM35 59h5v1h-5zM44 59h2v1h-2zM53 59h1v1h-1zM7 60h1v1h-1zM37 60h1v1h-1zM41 60h1v1h-1zM47 60h1v1h-1zM51 60h2v1h-2zM54 60h1v1h-1zM36 61h1v1h-1zM39 61h1v1h-1zM46 61h2v1h-2zM52 61h1v1h-1zM46 62h1v1h-1zM56 62h1v1h-1zM7 63h1v1h-1zM30 63h1v1h-1zM43 63h1v1h-1zM45 63h1v1h-1zM52 63h1v1h-1zM54 63h2v1h-2zM59 63h1v1h-1z"/><path fill="#9400d3" d="M5 0h1v1h-1zM11 0h1v1h-1zM15 0h4v1h-4zM26 0h3v1h-3zM30 0h1v1h-1zM46 0h1v1h-1zM48 0h1v1h-1zM4 1h1v1h-1zM12 1h1v1h-1zM14 1h1v1h-1zM18 1h1v1h-1zM25 1h2v1h-2zM29 1h2v1h-2zM35 1h2v1h-2zM41 1h2v1h-2zM46 1h2v1h-2zM3 2h1v1h-1zM7 2h1v1h-1zM12 2h2v1h-2zM19 2h2v1h-2zM29 2h2v1h-2zM42 2h1v1h-1zM0 3h1v1h-1zM2 3h1v1h-1zM8 3h1v1h-1zM12 3h1v1h-1zM18 3h2v1h-2zM25 3h1v1h-1zM42 3h1v1h-1zM8 4h1v1h-1zM11 4h4v1h-4zM17 4h1v1h-1zM25 4h3v1h-3zM63 4h1v1h-1zM5 5h1v1h-1zM7 5h1v1h-1zM10 5h1v1h-1zM41 5h1v1h-1zM7 6h1v1h-1zM10 6h1v1h-1zM26 6h1v1h-1zM29 6h1v1h-1zM41 6h1v1h-1zM61 6h1v1h-1zM0 7h1v1h-1zM2 7h3v1h-3zM10 7h1v1h-1zM14 7h2v1h-2zM26 7h1v1h-1zM52 7h1v1h-1zM62 7h2v1h-2zM0 8h1v1h-1zM2 8h2v1h-2zM10 8h1v1h-1zM14 8h1v1h-1zM23 8h2v1h-2zM26 8h1v1h-1zM29 8h2v1h-2zM35 8h1v1h-1zM40 8h1v1h-1zM52 8h1v1h-1zM54 8h1v1h-1zM63 8h1v1h-1zM2 9h1v1h-1zM9 9h2v1h-2zM14 9h1v1h-1zM29 9h3v1h-3zM34 9h1v1h-1zM37 9h1v1h-1zM52 9h1v1h-1zM55 9h1v1h-1zM3 10h1v1h-1zM17 10h1v1h-1zM29 10h4v1h-4zM35 10h2v1h-2zM39 10h1v1h-1zM55 10h1v1h-1zM63 10h1v1h-1zM11 11h1v1h-1zM18 11h1v1h-1zM53 11h1v1h-1zM57 11h1v1h-1zM2 12h1v1h-1zM19 12h1v1h-1zM38 12h1v1h-1zM54 12h3v1h-3zM60 12h4v1h-4zM0 13h1v1h-1zM13 13h3v1h-3zM17 13h1v1h-1zM21 13h4v1h-4zM38 13h2v1h-2zM54 13h1v1h-1zM56 13h1v1h-1zM61 13h1v1h-1zM63 13h1v1h-1zM14 14h3v1h-3zM21 14h1v1h-1zM28 14h1v1h-1zM40 14h1v1h-1zM47 14h2v1h-2zM52 14h2v1h-2zM14 15h1v1h-1zM17 15h3v1h-3zM21 15h4v1h-4zM28 15h1v1h-1zM30 15h1v1h-1zM46 15h1v1h-1zM48 15h2v1h-2zM52 15h2v1h-2zM8 16h1v1h-1zM15 16h2v1h-2zM20 16h1v1h-1zM24 16h1v1h-1zM26 16h1v1h-1zM28 16h1v1h-1zM31 16h1v1h-1zM49 16h1v1h-1zM52 16h2v1h-2zM3 17h2v1h-2zM7 17h2v1h-2zM19 17h1v1h-1zM21 17h1v1h-1zM24 17h2v1h-2zM30 17h2v1h-2zM33 17h1v1h-1zM50 17h6v1h-6zM60 17h1v1h-1zM6 18h1v1h-1zM8 18h1v1h-1zM18 18h1v1h-1zM24 18h1v1h-1zM51 18h2v1h-2zM54 18h1v1h-1zM56 18h3v1h-3zM61 18h1v1h-1zM15 19h1v1h-1zM18 19h1v1h-1zM20 19h1v1h-1zM24 19h2v1h-2zM43 19h1v1h-1zM52 19h1v1h-1zM54 19h4v1h-4zM61 19h2v1h-2zM10 20h1v1h-1zM15 20h1v1h-1zM20 20h1v1h-1zM24 20h2v1h-2zM27 20h3v1h-3zM51 20h1v1h-1zM54 20h1v1h-1zM56 20h1v1h-1zM61 20h1v1h-1zM63 20h1v1h-1zM0 21h1v1h-1zM4 21h1v1h-1zM10 21h1v1h-1zM25 21h3v1h-3zM29 21h1v1h-1zM46 21h1v1h-1zM48 21h1v1h-1zM50 21h1v1h-1zM60 21h1v1h-1zM63 21h1v1h-1zM4 22h1v1h-1zM12 22h1v1h-1zM16 22h1v1h-1zM19 22h1v1h-1zM26 22h1v1h-1zM29 22h1v1h-1zM47 22h1v1h-1zM60 22h1v1h-1zM63 22h1v1h-1zM11 23h2v1h-2zM18 23h2v1h-2zM28 23h1v1h-1zM50 23h1v1h-1zM61 23h3v1h-3zM12 24h1v1h-1zM18 24h2v1h-2zM61 24h2v1h-2zM0 25h4v1h-4zM12 25h1v1h-1zM29 25h5v1h-5zM60 25h4v1h-4zM1 26h2v1h-2zM7 26h1v1h-1zM12 26h1v1h-1zM17 26h1v1h-1zM29 26h1v1h-1zM32 26h2v1h-2zM45 26h2v1h-2zM48 26h1v1h-1zM61 26h3v1h-3zM0 27h1v1h-1zM7 27h1v1h-1zM13 27h1v1h-1zM17 27h3v1h-3zM29 27h2v1h-2zM32 27h1v1h-1zM38 27h1v1h-1zM1 28h1v1h-1zM13 28h1v1h-1zM17 28h3v1h-3zM27 28h1v1h-1zM30 28h1v1h-1zM33 28h1v1h-1zM36 28h1v1h-1zM48 28h1v1h-1zM50 28h1v1h-1zM53 28h3v1h-3zM57 28h1v1h-1zM0 29h2v1h-2zM13 29h1v1h-1zM16 29h2v1h-2zM27 29h2v1h-2zM31 29h1v1h-1zM33 29h5v1h-5zM48 29h1v1h-1zM53 29h3v1h-3zM57 29h1v1h-1zM1 30h2v1h-2zM13 30h1v1h-1zM16 30h1v1h-1zM27 30h1v1h-1zM32 30h1v1h-1zM34 30h1v1h-1zM36 30h1v1h-1zM48 30h2v1h-2zM53 30h3v1h-3zM57 30h1v1h-1zM63 30h1v1h-1zM2 31h1v1h-1zM14 31h1v1h-1zM23 31h1v1h-1zM27 31h1v1h-1zM51 31h1v1h-1zM54 31h1v1h-1zM62 31h1v1h-1zM0 32h3v1h-3zM5 32h2v1h-2zM24 32h1v1h-1zM26 32h2v1h-2zM32 32h1v1h-1zM58 32h1v1h-1zM60 32h1v1h-1zM0 33h2v1h-2zM5 33h2v1h-2zM25 33h1v1h-1zM28 33h2v1h-2zM32 33h2v1h-2zM38 33h3v1h-3zM59 33h2v1h-2zM0 34h2v1h-2zM20 34h1v1h-1zM25 34h2v1h-2zM38 34h1v1h-1zM40 34h2v1h-2zM45 34h1v1h-1zM59 34h2v1h-2zM62 34h1v1h-1zM0 35h4v1h-4zM7 35h2v1h-2zM18 35h1v1h-1zM20 35h1v1h-1zM26 35h1v1h-1zM32 35h1v1h-1zM40 35h1v1h-1zM45 35h1v1h-1zM56 35h1v1h-1zM60 35h1v1h-1zM2 36h1v1h-1zM4 36h2v1h-2zM8 36h1v1h-1zM17 36h2v1h-2zM20 36h2v1h-2zM29 36h4v1h-4zM57 36h1v1h-1zM59 36h2v1h-2zM0 37h1v1h-1zM2 37h1v1h-1zM8 37h1v1h-1zM16 37h2v1h-2zM19 37h1v1h-1zM21 37h1v1h-1zM31 37h1v1h-1zM49 37h1v1h-1zM58 37h1v1h-1zM61 37h1v1h-1zM3 38h1v1h-1zM5 38h1v1h-1zM8 38h1v1h-1zM14 38h3v1h-3zM18 38h3v1h-3zM30 38h2v1h-2zM48 38h3v1h-3zM58 38h1v1h-1zM2 39h2v1h-2zM8 39h2v1h-2zM16 39h2v1h-2zM30 39h1v1h-1zM32 39h1v1h-1zM47 39h1v1h-1zM50 39h1v1h-1zM2 40h1v1h-1zM14 40h1v1h-1zM33 40h1v1h-1zM41 40h1v1h-1zM2 41h3v1h-3zM12 41h2v1h-2zM24 41h1v1h-1zM29 41h2v1h-2zM33 41h1v1h-1zM48 41h1v1h-1zM50 41h1v1h-1zM55 41h1v1h-1zM4 42h1v1h-1zM11 42h1v1h-1zM28 42h4v1h-4zM34 42h1v1h-1zM47 42h1v1h-1zM49 42h1v1h-1zM55 42h1v1h-1zM3 43h3v1h-3zM13 43h1v1h-1zM24 43h1v1h-1zM30 43h2v1h-2zM34 43h1v1h-1zM55 43h2v1h-2zM62 43h2v1h-2zM4 44h1v1h-1zM11 44h3v1h-3zM18 44h3v1h-3zM26 44h1v1h-1zM32 44h1v1h-1zM47 44h1v1h-1zM49 44h1v1h-1zM56 44h1v1h-1zM63 44h1v1h-1zM10 45h3v1h-3zM17 45h1v1h-1zM19 45h4v1h-4zM32 45h3v1h-3zM48 45h1v1h-1zM63 45h1v1h-1zM10 46h3v1h-3zM17 46h2v1h-2zM20 46h3v1h-3zM47 46h2v1h-2zM53 46h2v1h-2zM63 46h1v1h-1zM8 47h1v1h-1zM11 47h1v1h-1zM16 47h2v1h-2zM32 47h1v1h-1zM37 47h3v1h-3zM47 47h2v1h-2zM7 48h1v1h-1zM16 48h2v1h-2zM38 48h2v1h-2zM47 48h3v1h-3zM52 48h1v1h-1zM16 49h1v1h-1zM44 49h1v1h-1zM46 49h1v1h-1zM7 50h1v1h-1zM10 50h1v1h-1zM15 50h2v1h-2zM21 50h1v1h-1zM44 50h1v1h-1zM46 50h1v1h-1zM54 50h1v1h-1zM6 51h3v1h-3zM16 51h1v1h-1zM21 51h3v1h-3zM29 51h5v1h-5zM45 51h2v1h-2zM49 51h3v1h-3zM2 52h1v1h-1zM19 52h3v1h-3zM29 52h1v1h-1zM32 52h2v1h-2zM47 52h1v1h-1zM1 53h1v1h-1zM4 53h1v1h-1zM20 53h1v1h-1zM30 53h2v1h-2zM48 53h1v1h-1zM4 54h1v1h-1zM11 54h2v1h-2zM31 54h2v1h-2zM49 54h3v1h-3zM56 54h1v1h-1zM58 54h1v1h-1zM11 55h2v1h-2zM40 55h2v1h-2zM55 55h1v1h-1zM58 55h1v1h-1zM0 56h2v1h-2zM12 56h3v1h-3zM32 56h2v1h-2zM39 56h1v1h-1zM49 56h1v1h-1zM60 56h2v1h-2zM63 56h1v1h-1zM0 57h1v1h-1zM6 57h2v1h-2zM13 57h1v1h-1zM49 57h1v1h-1zM61 57h1v1h-1zM63 57h1v1h-1zM5 58h1v1h-1zM7 58h1v1h-1zM11 58h2v1h-2zM16 58h1v1h-1zM23 58h1v1h-1zM36 58h1v1h-1zM40 58h1v1h-1zM49 58h3v1h-3zM60 58h1v1h-1zM4 59h4v1h-4zM10 59h3v1h-3zM17 59h1v1h-1zM22 59h2v1h-2zM48 59h5v1h-5zM54 59h3v1h-3zM60 59h1v1h-1zM4 60h3v1h-3zM8 60h2v1h-2zM12 60h2v1h-2zM18 60h2v1h-2zM21 60h3v1h-3zM36 60h1v1h-1zM38 60h1v1h-1zM42 60h2v1h-2zM45 60h1v1h-1zM50 60h1v1h-1zM53 60h1v1h-1zM55 60h2v1h-2zM6 61h4v1h-4zM13 61h3v1h-3zM22 61h1v1h-1zM41 61h1v1h-1zM45 61h1v1h-1zM51 61h1v1h-1zM53 61h1v1h-1zM55 61h2v1h-2zM60 61h1v1h-1zM7 62h3v1h-3zM13 62h4v1h-4zM20 62h2v1h-2zM33 62h1v1h-1zM41 62h1v1h-1zM44 62h2v1h-2zM47 62h1v1h-1zM50 62h3v1h-3zM55 62h1v1h-1zM57 62h1v1h-1zM61 62h1v1h-1zM10 63h1v1h-1zM15 63h1v1h-1zM17 63h4v1h-4zM31 63h1v1h-1zM42 63h1v1h-1zM44 63h1v1h-1zM46 63h1v1h-1zM49 63h2v1h-2zM53 63h1v1h-1zM60 63h3v1h-3z"/><path fill="#78005a" d="M12 0h3v1h-3zM47 0h1v1h-1zM5 1h2v1h-2zM13 1h1v1h-1zM19 1h1v1h-1zM27 1h2v1h-2zM4 2h3v1h-3zM18 2h1v1h-1zM26 2h3v1h-3zM1 3h1v1h-1zM3 3h5v1h-5zM26 3h3v1h-3zM0 4h8v1h-8zM9 4h2v1h-2zM28 4h1v1h-1zM0 5h5v1h-5zM6 5h1v1h-1zM8 5h2v1h-2zM26 5h3v1h-3zM62 5h2v1h-2zM0 6h5v1h-5zM8 6h2v1h-2zM27 6h2v1h-2zM62 6h2v1h-2zM7 7h3v1h-3zM27 7h3v1h-3zM53 7h1v1h-1zM8 8h2v1h-2zM28 8h1v1h-1zM53 8h1v1h-1zM0 9h2v1h-2zM35 9h2v1h-2zM53 9h2v1h-2zM0 10h3v1h-3zM53 10h2v1h-2zM0 11h3v1h-3zM54 11h3v1h-3zM63 11h1v1h-1zM0 12h2v1h-2zM18 13h3v1h-3zM17 14h4v1h-4zM22 14h3v1h-3zM15 15h2v1h-2zM29 15h1v1h-1zM47 15h1v1h-1zM29 16h2v1h-2zM45 16h4v1h-4zM20 17h1v1h-1zM44 17h6v1h-6zM56 17h1v1h-1zM19 18h2v1h-2zM44 18h7v1h-7zM53 18h1v1h-1zM55 18h1v1h-1zM19 19h1v1h-1zM44 19h8v1h-8zM43 20h8v1h-8zM62 20h1v1h-1zM15 21h1v1h-1zM28 21h1v1h-1zM47 21h1v1h-1zM49 21h1v1h-1zM61 21h2v1h-2zM15 22h1v1h-1zM61 22h2v1h-2zM13 23h5v1h-5zM13 24h5v1h-5zM13 25h6v1h-6zM0 26h1v1h-1zM13 26h4v1h-4zM18 26h1v1h-1zM30 26h2v1h-2zM14 27h3v1h-3zM31 27h1v1h-1zM14 28h3v1h-3zM31 28h2v1h-2zM37 28h2v1h-2zM49 28h1v1h-1zM14 29h2v1h-2zM32 29h1v1h-1zM49 29h2v1h-2zM0 30h1v1h-1zM14 30h2v1h-2zM50 30h1v1h-1zM0 31h2v1h-2zM49 31h2v1h-2zM63 31h1v1h-1zM26 33h2v1h-2zM30 33h2v1h-2zM27 34h6v1h-6zM39 34h1v1h-1zM58 34h1v1h-1zM63 34h1v1h-1zM19 35h1v1h-1zM27 35h5v1h-5zM58 35h2v1h-2zM61 35h3v1h-3zM0 36h1v1h-1zM3 36h1v1h-1zM6 36h2v1h-2zM19 36h1v1h-1zM58 36h1v1h-1zM61 36h3v1h-3zM3 37h5v1h-5zM18 37h1v1h-1zM20 37h1v1h-1zM59 37h2v1h-2zM62 37h2v1h-2zM4 38h1v1h-1zM59 38h1v1h-1zM15 39h1v1h-1zM31 39h1v1h-1zM48 39h2v1h-2zM3 40h1v1h-1zM30 40h3v1h-3zM48 40h3v1h-3zM31 41h2v1h-2zM49 41h1v1h-1zM12 42h2v1h-2zM24 42h1v1h-1zM32 42h2v1h-2zM48 42h1v1h-1zM11 43h2v1h-2zM25 43h1v1h-1zM32 43h2v1h-2zM47 43h3v1h-3zM33 44h2v1h-2zM48 44h1v1h-1zM62 44h1v1h-1zM18 45h1v1h-1zM62 45h1v1h-1zM9 47h2v1h-2zM53 47h2v1h-2zM8 48h3v1h-3zM53 48h3v1h-3zM7 49h4v1h-4zM53 49h3v1h-3zM8 50h2v1h-2zM45 50h1v1h-1zM30 52h2v1h-2zM35 52h1v1h-1zM49 52h3v1h-3zM32 53h1v1h-1zM49 53h3v1h-3zM57 54h1v1h-1zM38 55h2v1h-2zM56 55h2v1h-2zM40 56h2v1h-2zM55 56h5v1h-5zM12 57h1v1h-1zM14 57h2v1h-2zM55 57h6v1h-6zM6 58h1v1h-1zM13 58h3v1h-3zM55 58h5v1h-5zM13 59h4v1h-4zM57 59h3v1h-3zM10 60h2v1h-2zM14 60h4v1h-4zM20 60h1v1h-1zM44 60h1v1h-1zM48 60h2v1h-2zM57 60h3v1h-3zM10 61h3v1h-3zM16 61h6v1h-6zM42 61h3v1h-3zM48 61h3v1h-3zM54 61h1v1h-1zM57 61h3v1h-3zM10 62h3v1h-3zM17 62h3v1h-3zM42 62h2v1h-2zM48 62h2v1h-2zM53 62h2v1h-2zM58 62h3v1h-3zM11 63h4v1h-4zM16 63h1v1h-1zM47 63h2v1h-2zM51 63h1v1h-1z"/></pattern>
<pattern id="tmx" width="64" height="64" patternUnits="userSpaceOnUse"><rect width="64" height="64" fill="rgb(148, 0, 211)"/><path fill="#ffff00" d="M0 1h4v1h-4zM16 1h1v1h-1zM0 2h4v1h-4zM46 2h1v1h-1zM52 3h1v1h-1zM19 4h2v1h-2zM51 4h1v1h-1zM5 7h1v1h-1zM28 7h1v1h-1zM5 8h2v1h-2zM5 9h1v1h-1zM28 9h1v1h-1zM17 10h2v1h-2zM28 10h2v1h-2zM0 11h2v1h-2zM17 11h1v1h-1zM29 11h1v1h-1zM0 12h3v1h-3zM1 13h2v1h-2zM19 14h1v1h-1zM48 16h1v1h-1zM55 16h1v1h-1zM60 16h1v1h-1zM0 17h2v1h-2zM42 17h2v1h-2zM55 17h1v1h-1zM60 17h3v1h-3zM0 18h1v1h-1zM4 18h1v1h-1zM41 18h3v1h-3zM60 18h4v1h-4zM3 19h2v1h-2zM61 19h2v1h-2zM29 20h1v1h-1zM30 21h1v1h-1zM29 22h1v1h-1zM29 23h1v1h-1zM28 24h1v1h-1zM36 24h3v1h-3zM27 25h2v1h-2zM30 25h1v1h-1zM36 25h3v1h-3zM26 31h1v1h-1zM26 32h2v1h-2zM35 32h1v1h-1zM13 33h2v1h-2zM26 33h3v1h-3zM36 33h1v1h-1zM26 34h4v1h-4zM40 37h3v1h-3zM41 38h2v1h-2zM57 38h1v1h-1zM30 39h1v1h-1zM42 39h1v1h-1zM29 40h1v1h-1zM29 41h1v1h-1zM55 42h2v1h-2zM55 43h1v1h-1zM29 44h1v1h-1zM31 45h2v1h-2zM0 46h1v1h-1zM26 46h2v1h-2zM0 47h1v1h-1zM26 47h1v1h-1zM62 48h1v1h-1zM49 51h2v1h-2zM15 57h1v1h-1zM15 58h1v1h-1zM16 59h1v1h-1zM52 59h2v1h-2zM62 59h1v1h-1zM53 60h1v1h-1zM60 60h4v1h-4zM18 61h2v1h-2z"/><path fill="#ff8000" d="M40 0h1v1h-1zM42 2h1v1h-1zM44 2h2v1h-2zM60 2h1v1h-1zM62 2h1v1h-1zM18 3h2v1h-2zM51 3h1v1h-1zM61 3h1v1h-1zM18 4h1v1h-1zM50 4h1v1h-1zM10 7h1v1h-1zM34 7h1v1h-1zM4 8h1v1h-1zM28 8h1v1h-1zM16 9h2v1h-2zM3 11h1v1h-1zM18 11h1v1h-1zM59 11h1v1h-1zM3 12h1v1h-1zM18 12h1v1h-1zM29 12h1v1h-1zM58 12h1v1h-1zM19 13h1v1h-1zM55 15h1v1h-1zM59 15h1v1h-1zM1 16h2v1h-2zM54 16h1v1h-1zM59 16h1v1h-1zM2 17h1v1h-1zM48 17h1v1h-1zM54 17h1v1h-1zM63 17h1v1h-1zM1 18h1v1h-1zM3 18h1v1h-1zM29 21h1v1h-1zM30 22h1v1h-1zM27 23h2v1h-2zM27 24h1v1h-1zM29 24h2v1h-2zM29 25h1v1h-1zM37 26h1v1h-1zM27 31h1v1h-1zM13 32h1v1h-1zM28 32h1v1h-1zM36 32h1v1h-1zM12 33h1v1h-1zM30 35h1v1h-1zM55 35h1v1h-1zM29 36h1v1h-1zM7 39h1v1h-1zM6 40h1v1h-1zM28 40h1v1h-1zM28 41h1v1h-1zM54 41h2v1h-2zM57 43h1v1h-1zM31 44h3v1h-3zM29 45h2v1h-2zM34 45h1v1h-1zM25 46h1v1h-1zM25 47h1v1h-1zM27 47h1v1h-1zM63 47h1v1h-1zM63 48h1v1h-1zM21 50h1v1h-1zM49 50h1v1h-1zM51 50h1v1h-1zM51 51h1v1h-1zM28 53h1v1h-1zM16 58h1v1h-1zM61 59h1v1h-1zM18 60h1v1h-1zM52 60h1v1h-1z"/><path fill="#ff0000" d="M0 0h1v1h-1zM11 0h2v1h-2zM14 0h3v1h-3zM41 0h1v1h-1zM11 1h3v1h-3zM15 1h1v1h-1zM18 1h1v1h-1zM23 1h3v1h-3zM40 1h7v1h-7zM56 1h2v1h-2zM60 1h2v1h-2zM63 1h1v1h-1zM4 2h1v1h-1zM12 2h1v1h-1zM15 2h3v1h-3zM19 2h1v1h-1zM23 2h3v1h-3zM40 2h2v1h-2zM43 2h1v1h-1zM61 2h1v1h-1zM63 2h1v1h-1zM1 3h1v1h-1zM12 3h1v1h-1zM16 3h2v1h-2zM20 3h1v1h-1zM42 3h1v1h-1zM50 3h1v1h-1zM16 4h1v1h-1zM21 4h1v1h-1zM49 4h1v1h-1zM52 4h1v1h-1zM61 4h1v1h-1zM10 5h2v1h-2zM16 5h1v1h-1zM19 5h1v1h-1zM50 5h1v1h-1zM9 6h2v1h-2zM16 6h1v1h-1zM49 6h1v1h-1zM6 7h1v1h-1zM27 7h1v1h-1zM32 7h2v1h-2zM47 7h1v1h-1zM29 8h1v1h-1zM32 8h2v1h-2zM3 9h2v1h-2zM6 9h1v1h-1zM18 9h1v1h-1zM27 9h1v1h-1zM29 9h7v1h-7zM52 9h2v1h-2zM3 10h2v1h-2zM16 10h1v1h-1zM27 10h1v1h-1zM30 10h1v1h-1zM34 10h1v1h-1zM51 10h4v1h-4zM56 10h1v1h-1zM2 11h1v1h-1zM19 11h1v1h-1zM28 11h1v1h-1zM30 11h1v1h-1zM35 11h1v1h-1zM52 11h2v1h-2zM63 11h1v1h-1zM17 12h1v1h-1zM28 12h1v1h-1zM30 12h1v1h-1zM51 12h1v1h-1zM59 12h1v1h-1zM0 13h1v1h-1zM18 13h1v1h-1zM29 13h2v1h-2zM59 13h2v1h-2zM1 14h2v1h-2zM29 14h1v1h-1zM57 14h3v1h-3zM1 15h1v1h-1zM7 15h1v1h-1zM23 15h1v1h-1zM47 15h2v1h-2zM54 15h1v1h-1zM56 15h1v1h-1zM58 15h1v1h-1zM60 15h1v1h-1zM47 16h1v1h-1zM53 16h1v1h-1zM56 16h1v1h-1zM58 16h1v1h-1zM61 16h1v1h-1zM3 17h3v1h-3zM13 17h1v1h-1zM41 17h1v1h-1zM56 17h1v1h-1zM59 17h1v1h-1zM2 18h1v1h-1zM13 18h1v1h-1zM40 18h1v1h-1zM48 18h1v1h-1zM54 18h2v1h-2zM29 19h2v1h-2zM42 19h2v1h-2zM60 19h1v1h-1zM63 19h1v1h-1zM3 20h1v1h-1zM30 20h1v1h-1zM61 20h3v1h-3zM35 21h1v1h-1zM28 22h1v1h-1zM35 22h1v1h-1zM30 23h2v1h-2zM37 23h2v1h-2zM63 23h1v1h-1zM0 24h1v1h-1zM31 24h2v1h-2zM35 24h1v1h-1zM40 24h1v1h-1zM61 24h2v1h-2zM31 25h1v1h-1zM35 25h1v1h-1zM39 25h2v1h-2zM28 26h1v1h-1zM30 26h1v1h-1zM38 26h4v1h-4zM30 27h1v1h-1zM39 27h2v1h-2zM52 27h1v1h-1zM2 28h1v1h-1zM26 29h1v1h-1zM63 29h1v1h-1zM25 30h3v1h-3zM13 31h1v1h-1zM28 31h1v1h-1zM35 31h2v1h-2zM12 32h1v1h-1zM14 32h2v1h-2zM25 32h1v1h-1zM34 32h1v1h-1zM15 33h2v1h-2zM25 33h1v1h-1zM29 33h1v1h-1zM34 33h2v1h-2zM55 33h2v1h-2zM58 33h1v1h-1zM8 34h1v1h-1zM10 34h1v1h-1zM12 34h2v1h-2zM19 34h1v1h-1zM30 34h1v1h-1zM36 34h1v1h-1zM44 34h1v1h-1zM55 34h1v1h-1zM9 35h1v1h-1zM23 35h2v1h-2zM29 35h1v1h-1zM22 36h1v1h-1zM40 36h3v1h-3zM7 37h1v1h-1zM9 37h1v1h-1zM29 37h2v1h-2zM34 37h1v1h-1zM49 37h1v1h-1zM58 37h1v1h-1zM7 38h2v1h-2zM10 38h2v1h-2zM29 38h2v1h-2zM56 38h1v1h-1zM58 38h1v1h-1zM6 39h1v1h-1zM8 39h1v1h-1zM29 39h1v1h-1zM41 39h1v1h-1zM51 39h2v1h-2zM56 39h2v1h-2zM7 40h1v1h-1zM27 40h1v1h-1zM30 40h1v1h-1zM42 40h1v1h-1zM54 40h2v1h-2zM57 40h1v1h-1zM2 41h2v1h-2zM5 41h2v1h-2zM56 41h1v1h-1zM26 42h3v1h-3zM54 42h1v1h-1zM57 42h2v1h-2zM6 43h1v1h-1zM8 43h2v1h-2zM26 43h1v1h-1zM28 43h3v1h-3zM56 43h1v1h-1zM58 43h2v1h-2zM7 44h3v1h-3zM28 44h1v1h-1zM30 44h1v1h-1zM10 45h1v1h-1zM33 45h1v1h-1zM35 45h1v1h-1zM1 46h1v1h-1zM5 46h1v1h-1zM12 46h1v1h-1zM41 46h1v1h-1zM63 46h1v1h-1zM1 47h1v1h-1zM44 47h1v1h-1zM62 47h1v1h-1zM0 48h1v1h-1zM49 48h3v1h-3zM21 49h2v1h-2zM50 49h2v1h-2zM9 50h1v1h-1zM50 50h1v1h-1zM20 51h3v1h-3zM46 51h3v1h-3zM22 52h1v1h-1zM32 52h1v1h-1zM44 52h3v1h-3zM51 52h2v1h-2zM0 53h1v1h-1zM19 53h1v1h-1zM27 53h1v1h-1zM29 53h1v1h-1zM32 53h2v1h-2zM44 53h3v1h-3zM52 53h2v1h-2zM28 54h1v1h-1zM33 54h1v1h-1zM44 54h1v1h-1zM4 55h1v1h-1zM16 57h1v1h-1zM0 58h1v1h-1zM20 58h1v1h-1zM0 59h1v1h-1zM15 59h1v1h-1zM17 59h1v1h-1zM19 59h2v1h-2zM55 59h3v1h-3zM60 59h1v1h-1zM63 59h1v1h-1zM16 60h2v1h-2zM19 60h1v1h-1zM51 60h1v1h-1zM56 60h1v1h-1zM58 60h2v1h-2zM17 61h1v1h-1zM48 61h1v1h-1zM52 61h1v1h-1zM62 61h2v1h-2zM17 62h3v1h-3zM43 62h2v1h-2zM48 62h2v1h-2zM43 63h2v1h-2zM48 63h2v1h-2z"/><path fill="#ba55d3" d="M1 0h3v1h-3zM10 0h1v1h-1zM13 0h1v1h-1zM17 0h5v1h-5zM23 0h4v1h-4zM31 0h1v1h-1zM39 0h1v1h-1zM42 0h5v1h-5zM49 0h1v1h-1zM56 0h2v1h-2zM59 0h4v1h-4zM4 1h1v1h-1zM10 1h1v1h-1zM14 1h1v1h-1zM17 1h1v1h-1zM19 1h2v1h-2zM22 1h1v1h-1zM26 1h1v1h-1zM32 1h1v1h-1zM39 1h1v1h-1zM47 1h1v1h-1zM55 1h1v1h-1zM58 1h2v1h-2zM62 1h1v1h-1zM5 2h3v1h-3zM11 2h1v1h-1zM13 2h2v1h-2zM18 2h1v1h-1zM21 2h2v1h-2zM31 2h3v1h-3zM38 2h2v1h-2zM47 2h1v1h-1zM50 2h10v1h-10zM0 3h1v1h-1zM2 3h7v1h-7zM11 3h1v1h-1zM13 3h3v1h-3zM21 3h5v1h-5zM32 3h2v1h-2zM40 3h2v1h-2zM43 3h7v1h-7zM53 3h2v1h-2zM60 3h1v1h-1zM62 3h2v1h-2zM1 4h1v1h-1zM5 4h3v1h-3zM11 4h5v1h-5zM17 4h1v1h-1zM22 4h3v1h-3zM33 4h1v1h-1zM48 4h1v1h-1zM53 4h1v1h-1zM60 4h1v1h-1zM62 4h2v1h-2zM7 5h1v1h-1zM9 5h1v1h-1zM13 5h3v1h-3zM17 5h2v1h-2zM20 5h3v1h-3zM24 5h1v1h-1zM27 5h2v1h-2zM33 5h1v1h-1zM48 5h2v1h-2zM51 5h1v1h-1zM61 5h2v1h-2zM8 6h1v1h-1zM11 6h1v1h-1zM14 6h2v1h-2zM26 6h3v1h-3zM33 6h2v1h-2zM47 6h2v1h-2zM50 6h1v1h-1zM63 6h1v1h-1zM4 7h1v1h-1zM7 7h1v1h-1zM9 7h1v1h-1zM11 7h1v1h-1zM16 7h1v1h-1zM29 7h1v1h-1zM35 7h2v1h-2zM46 7h1v1h-1zM48 7h1v1h-1zM3 8h1v1h-1zM7 8h1v1h-1zM10 8h2v1h-2zM16 8h2v1h-2zM27 8h1v1h-1zM30 8h2v1h-2zM34 8h2v1h-2zM47 8h1v1h-1zM52 8h2v1h-2zM2 9h1v1h-1zM11 9h1v1h-1zM15 9h1v1h-1zM19 9h2v1h-2zM51 9h1v1h-1zM54 9h3v1h-3zM0 10h3v1h-3zM5 10h1v1h-1zM15 10h1v1h-1zM19 10h1v1h-1zM23 10h1v1h-1zM31 10h3v1h-3zM35 10h2v1h-2zM55 10h1v1h-1zM57 10h3v1h-3zM4 11h1v1h-1zM16 11h1v1h-1zM23 11h1v1h-1zM27 11h1v1h-1zM31 11h4v1h-4zM36 11h1v1h-1zM50 11h2v1h-2zM54 11h1v1h-1zM57 11h2v1h-2zM60 11h1v1h-1zM16 12h1v1h-1zM19 12h1v1h-1zM23 12h1v1h-1zM31 12h1v1h-1zM34 12h1v1h-1zM50 12h1v1h-1zM52 12h2v1h-2zM60 12h1v1h-1zM63 12h1v1h-1zM3 13h1v1h-1zM17 13h1v1h-1zM20 13h2v1h-2zM23 13h1v1h-1zM28 13h1v1h-1zM31 13h1v1h-1zM51 13h1v1h-1zM57 13h2v1h-2zM61 13h1v1h-1zM3 14h1v1h-1zM7 14h2v1h-2zM15 14h4v1h-4zM20 14h1v1h-1zM23 14h1v1h-1zM30 14h1v1h-1zM54 14h3v1h-3zM60 14h1v1h-1zM0 15h1v1h-1zM2 15h2v1h-2zM5 15h2v1h-2zM8 15h1v1h-1zM18 15h5v1h-5zM29 15h2v1h-2zM49 15h1v1h-1zM53 15h1v1h-1zM57 15h1v1h-1zM0 16h1v1h-1zM3 16h2v1h-2zM6 16h1v1h-1zM14 16h1v1h-1zM20 16h5v1h-5zM29 16h1v1h-1zM41 16h4v1h-4zM46 16h1v1h-1zM49 16h1v1h-1zM57 16h1v1h-1zM12 17h1v1h-1zM14 17h1v1h-1zM40 17h1v1h-1zM44 17h1v1h-1zM47 17h1v1h-1zM49 17h1v1h-1zM53 17h1v1h-1zM57 17h2v1h-2zM5 18h1v1h-1zM12 18h1v1h-1zM14 18h1v1h-1zM29 18h2v1h-2zM44 18h1v1h-1zM47 18h1v1h-1zM53 18h1v1h-1zM56 18h1v1h-1zM59 18h1v1h-1zM2 19h1v1h-1zM5 19h1v1h-1zM12 19h1v1h-1zM19 19h2v1h-2zM41 19h1v1h-1zM44 19h1v1h-1zM47 19h2v1h-2zM53 19h3v1h-3zM2 20h1v1h-1zM4 20h1v1h-1zM9 20h1v1h-1zM19 20h1v1h-1zM28 20h1v1h-1zM31 20h1v1h-1zM35 20h1v1h-1zM44 20h1v1h-1zM60 20h1v1h-1zM2 21h2v1h-2zM9 21h3v1h-3zM28 21h1v1h-1zM31 21h1v1h-1zM34 21h1v1h-1zM36 21h1v1h-1zM60 21h1v1h-1zM63 21h1v1h-1zM0 22h1v1h-1zM10 22h1v1h-1zM27 22h1v1h-1zM31 22h1v1h-1zM33 22h2v1h-2zM36 22h2v1h-2zM61 22h3v1h-3zM0 23h1v1h-1zM26 23h1v1h-1zM32 23h5v1h-5zM61 23h2v1h-2zM23 24h1v1h-1zM26 24h1v1h-1zM39 24h1v1h-1zM41 24h1v1h-1zM43 24h1v1h-1zM60 24h1v1h-1zM63 24h1v1h-1zM0 25h1v1h-1zM25 25h1v1h-1zM32 25h1v1h-1zM41 25h3v1h-3zM61 25h3v1h-3zM1 26h2v1h-2zM15 26h1v1h-1zM26 26h2v1h-2zM29 26h1v1h-1zM31 26h1v1h-1zM36 26h1v1h-1zM42 26h2v1h-2zM49 26h1v1h-1zM52 26h3v1h-3zM56 26h1v1h-1zM61 26h1v1h-1zM0 27h4v1h-4zM7 27h1v1h-1zM14 27h1v1h-1zM27 27h3v1h-3zM31 27h1v1h-1zM38 27h1v1h-1zM41 27h2v1h-2zM53 27h2v1h-2zM63 27h1v1h-1zM0 28h2v1h-2zM5 28h2v1h-2zM13 28h3v1h-3zM19 28h1v1h-1zM24 28h1v1h-1zM27 28h1v1h-1zM29 28h1v1h-1zM31 28h1v1h-1zM40 28h2v1h-2zM52 28h1v1h-1zM63 28h1v1h-1zM0 29h1v1h-1zM13 29h2v1h-2zM25 29h1v1h-1zM27 29h2v1h-2zM46 29h1v1h-1zM62 29h1v1h-1zM12 30h1v1h-1zM14 30h1v1h-1zM28 30h1v1h-1zM42 30h5v1h-5zM61 30h3v1h-3zM10 31h3v1h-3zM14 31h1v1h-1zM25 31h1v1h-1zM34 31h1v1h-1zM41 31h3v1h-3zM45 31h2v1h-2zM62 31h1v1h-1zM10 32h2v1h-2zM16 32h1v1h-1zM29 32h1v1h-1zM33 32h1v1h-1zM37 32h1v1h-1zM45 32h3v1h-3zM49 32h1v1h-1zM57 32h4v1h-4zM7 33h5v1h-5zM17 33h3v1h-3zM24 33h1v1h-1zM30 33h1v1h-1zM37 33h1v1h-1zM44 33h3v1h-3zM50 33h1v1h-1zM54 33h1v1h-1zM57 33h1v1h-1zM59 33h2v1h-2zM7 34h1v1h-1zM9 34h1v1h-1zM11 34h1v1h-1zM14 34h1v1h-1zM16 34h3v1h-3zM20 34h1v1h-1zM23 34h3v1h-3zM31 34h1v1h-1zM35 34h1v1h-1zM37 34h1v1h-1zM45 34h2v1h-2zM53 34h2v1h-2zM56 34h2v1h-2zM59 34h1v1h-1zM61 34h1v1h-1zM2 35h1v1h-1zM7 35h2v1h-2zM10 35h1v1h-1zM13 35h1v1h-1zM18 35h3v1h-3zM22 35h1v1h-1zM25 35h4v1h-4zM36 35h1v1h-1zM42 35h1v1h-1zM44 35h2v1h-2zM47 35h1v1h-1zM54 35h1v1h-1zM56 35h1v1h-1zM61 35h1v1h-1zM2 36h1v1h-1zM7 36h4v1h-4zM18 36h2v1h-2zM23 36h1v1h-1zM28 36h1v1h-1zM30 36h2v1h-2zM35 36h1v1h-1zM43 36h1v1h-1zM48 36h2v1h-2zM55 36h2v1h-2zM60 36h1v1h-1zM2 37h1v1h-1zM8 37h1v1h-1zM10 37h2v1h-2zM22 37h3v1h-3zM31 37h3v1h-3zM35 37h1v1h-1zM43 37h1v1h-1zM47 37h2v1h-2zM50 37h3v1h-3zM56 37h2v1h-2zM60 37h1v1h-1zM2 38h1v1h-1zM6 38h1v1h-1zM9 38h1v1h-1zM12 38h1v1h-1zM24 38h2v1h-2zM31 38h5v1h-5zM40 38h1v1h-1zM48 38h5v1h-5zM55 38h1v1h-1zM59 38h1v1h-1zM1 39h5v1h-5zM9 39h2v1h-2zM16 39h1v1h-1zM25 39h2v1h-2zM28 39h1v1h-1zM31 39h1v1h-1zM43 39h1v1h-1zM53 39h2v1h-2zM58 39h1v1h-1zM61 39h1v1h-1zM2 40h4v1h-4zM15 40h3v1h-3zM25 40h1v1h-1zM31 40h1v1h-1zM41 40h1v1h-1zM43 40h1v1h-1zM50 40h1v1h-1zM52 40h2v1h-2zM56 40h1v1h-1zM62 40h2v1h-2zM1 41h1v1h-1zM4 41h1v1h-1zM7 41h1v1h-1zM16 41h4v1h-4zM26 41h2v1h-2zM30 41h2v1h-2zM42 41h2v1h-2zM45 41h1v1h-1zM53 41h1v1h-1zM57 41h1v1h-1zM1 42h7v1h-7zM24 42h2v1h-2zM29 42h2v1h-2zM45 42h2v1h-2zM53 42h1v1h-1zM2 43h3v1h-3zM7 43h1v1h-1zM10 43h2v1h-2zM25 43h1v1h-1zM27 43h1v1h-1zM31 43h3v1h-3zM46 43h1v1h-1zM53 43h2v1h-2zM5 44h2v1h-2zM10 44h3v1h-3zM25 44h3v1h-3zM34 44h3v1h-3zM45 44h2v1h-2zM54 44h7v1h-7zM0 45h1v1h-1zM4 45h3v1h-3zM8 45h2v1h-2zM11 45h1v1h-1zM21 45h1v1h-1zM23 45h1v1h-1zM25 45h4v1h-4zM36 45h1v1h-1zM41 45h2v1h-2zM45 45h1v1h-1zM54 45h2v1h-2zM63 45h1v1h-1zM2 46h1v1h-1zM4 46h1v1h-1zM9 46h3v1h-3zM13 46h1v1h-1zM21 46h2v1h-2zM24 46h1v1h-1zM28 46h1v1h-1zM30 46h2v1h-2zM33 46h5v1h-5zM39 46h2v1h-2zM42 46h4v1h-4zM54 46h1v1h-1zM2 47h1v1h-1zM10 47h3v1h-3zM21 47h2v1h-2zM24 47h1v1h-1zM34 47h2v1h-2zM39 47h1v1h-1zM43 47h1v1h-1zM45 47h1v1h-1zM49 47h5v1h-5zM55 47h1v1h-1zM10 48h1v1h-1zM21 48h6v1h-6zM44 48h3v1h-3zM52 48h1v1h-1zM55 48h3v1h-3zM61 48h1v1h-1zM0 49h1v1h-1zM9 49h2v1h-2zM20 49h1v1h-1zM23 49h1v1h-1zM45 49h2v1h-2zM49 49h1v1h-1zM52 49h1v1h-1zM56 49h1v1h-1zM61 49h3v1h-3zM8 50h1v1h-1zM10 50h3v1h-3zM20 50h1v1h-1zM22 50h1v1h-1zM37 50h2v1h-2zM45 50h4v1h-4zM52 50h1v1h-1zM8 51h2v1h-2zM15 51h1v1h-1zM19 51h1v1h-1zM23 51h1v1h-1zM37 51h3v1h-3zM44 51h2v1h-2zM52 51h1v1h-1zM0 52h1v1h-1zM2 52h1v1h-1zM7 52h2v1h-2zM18 52h4v1h-4zM23 52h1v1h-1zM27 52h2v1h-2zM33 52h1v1h-1zM43 52h1v1h-1zM47 52h4v1h-4zM53 52h1v1h-1zM1 53h2v1h-2zM4 53h1v1h-1zM7 53h2v1h-2zM18 53h1v1h-1zM20 53h1v1h-1zM23 53h1v1h-1zM34 53h1v1h-1zM42 53h2v1h-2zM47 53h1v1h-1zM54 53h1v1h-1zM57 53h1v1h-1zM63 53h1v1h-1zM0 54h6v1h-6zM10 54h1v1h-1zM27 54h1v1h-1zM29 54h2v1h-2zM32 54h1v1h-1zM34 54h1v1h-1zM41 54h3v1h-3zM45 54h3v1h-3zM55 54h4v1h-4zM63 54h1v1h-1zM0 55h1v1h-1zM2 55h2v1h-2zM5 55h1v1h-1zM10 55h1v1h-1zM32 55h3v1h-3zM39 55h1v1h-1zM44 55h2v1h-2zM57 55h3v1h-3zM0 56h2v1h-2zM4 56h2v1h-2zM10 56h2v1h-2zM15 56h1v1h-1zM33 56h1v1h-1zM37 56h4v1h-4zM59 56h1v1h-1zM0 57h2v1h-2zM4 57h2v1h-2zM14 57h1v1h-1zM20 57h2v1h-2zM31 57h1v1h-1zM37 57h2v1h-2zM57 57h1v1h-1zM1 58h2v1h-2zM4 58h2v1h-2zM14 58h1v1h-1zM17 58h3v1h-3zM21 58h1v1h-1zM26 58h1v1h-1zM36 58h3v1h-3zM51 58h7v1h-7zM60 58h4v1h-4zM1 59h1v1h-1zM14 59h1v1h-1zM18 59h1v1h-1zM21 59h1v1h-1zM27 59h2v1h-2zM33 59h1v1h-1zM37 59h4v1h-4zM48 59h4v1h-4zM54 59h1v1h-1zM58 59h2v1h-2zM0 60h1v1h-1zM20 60h1v1h-1zM29 60h1v1h-1zM32 60h2v1h-2zM37 60h2v1h-2zM49 60h2v1h-2zM54 60h2v1h-2zM57 60h1v1h-1zM0 61h1v1h-1zM10 61h2v1h-2zM16 61h1v1h-1zM20 61h1v1h-1zM28 61h2v1h-2zM32 61h3v1h-3zM44 61h1v1h-1zM49 61h3v1h-3zM53 61h1v1h-1zM59 61h3v1h-3zM9 62h2v1h-2zM16 62h1v1h-1zM32 62h2v1h-2zM50 62h3v1h-3zM61 62h1v1h-1zM10 63h3v1h-3zM15 63h4v1h-4zM39 63h1v1h-1zM41 63h2v1h-2zM47 63h1v1h-1zM50 63h1v1h-1z"/><path fill="#78005a" d="M5 0h2v1h-2zM28 0h1v1h-1zM34 0h3v1h-3zM28 1h1v1h-1zM34 1h3v1h-3zM28 2h2v1h-2zM30 3h1v1h-1zM58 3h1v1h-1zM30 4h2v1h-2zM35 4h3v1h-3zM56 4h3v1h-3zM30 5h2v1h-2zM35 5h1v1h-1zM37 5h5v1h-5zM43 5h3v1h-3zM53 5h1v1h-1zM56 5h3v1h-3zM38 6h7v1h-7zM56 6h3v1h-3zM13 7h1v1h-1zM22 7h3v1h-3zM40 7h5v1h-5zM57 7h3v1h-3zM13 8h2v1h-2zM22 8h3v1h-3zM40 8h4v1h-4zM58 8h2v1h-2zM61 8h2v1h-2zM13 9h1v1h-1zM40 9h5v1h-5zM48 9h2v1h-2zM62 9h1v1h-1zM38 10h7v1h-7zM46 10h3v1h-3zM10 11h1v1h-1zM12 11h2v1h-2zM21 11h1v1h-1zM38 11h6v1h-6zM45 11h3v1h-3zM6 12h1v1h-1zM10 12h6v1h-6zM38 12h4v1h-4zM44 12h4v1h-4zM6 13h2v1h-2zM11 13h2v1h-2zM14 13h1v1h-1zM37 13h4v1h-4zM44 13h5v1h-5zM12 14h1v1h-1zM26 14h1v1h-1zM37 14h3v1h-3zM45 14h2v1h-2zM25 15h3v1h-3zM37 15h3v1h-3zM25 16h2v1h-2zM32 16h2v1h-2zM35 16h1v1h-1zM38 16h1v1h-1zM50 16h1v1h-1zM8 17h3v1h-3zM16 17h1v1h-1zM18 17h1v1h-1zM26 17h1v1h-1zM31 17h4v1h-4zM50 17h2v1h-2zM7 18h4v1h-4zM16 18h1v1h-1zM25 18h2v1h-2zM32 18h3v1h-3zM50 18h2v1h-2zM6 19h2v1h-2zM10 19h1v1h-1zM15 19h3v1h-3zM23 19h3v1h-3zM33 19h2v1h-2zM50 19h2v1h-2zM7 20h1v1h-1zM13 20h5v1h-5zM22 20h4v1h-4zM38 20h2v1h-2zM50 20h1v1h-1zM56 20h3v1h-3zM12 21h5v1h-5zM21 21h5v1h-5zM38 21h2v1h-2zM45 21h3v1h-3zM50 21h3v1h-3zM56 21h3v1h-3zM12 22h5v1h-5zM21 22h1v1h-1zM44 22h9v1h-9zM56 22h4v1h-4zM3 23h1v1h-1zM8 23h2v1h-2zM12 23h5v1h-5zM21 23h2v1h-2zM45 23h4v1h-4zM50 23h3v1h-3zM55 23h5v1h-5zM3 24h1v1h-1zM9 24h4v1h-4zM15 24h2v1h-2zM45 24h4v1h-4zM54 24h1v1h-1zM56 24h3v1h-3zM3 25h3v1h-3zM8 25h5v1h-5zM19 25h1v1h-1zM45 25h3v1h-3zM57 25h2v1h-2zM5 26h1v1h-1zM9 26h4v1h-4zM21 26h1v1h-1zM33 26h2v1h-2zM45 26h3v1h-3zM57 26h1v1h-1zM59 26h1v1h-1zM8 27h5v1h-5zM21 27h1v1h-1zM33 27h4v1h-4zM44 27h3v1h-3zM8 28h4v1h-4zM32 28h6v1h-6zM8 29h3v1h-3zM17 29h2v1h-2zM32 29h2v1h-2zM35 29h3v1h-3zM54 29h1v1h-1zM57 29h1v1h-1zM1 30h4v1h-4zM7 30h1v1h-1zM9 30h1v1h-1zM16 30h4v1h-4zM21 30h1v1h-1zM30 30h3v1h-3zM37 30h2v1h-2zM51 30h5v1h-5zM57 30h1v1h-1zM0 31h3v1h-3zM6 31h2v1h-2zM17 31h6v1h-6zM30 31h3v1h-3zM39 31h1v1h-1zM52 31h3v1h-3zM0 32h2v1h-2zM21 32h2v1h-2zM31 32h1v1h-1zM39 32h1v1h-1zM0 33h2v1h-2zM39 33h2v1h-2zM62 33h2v1h-2zM5 34h1v1h-1zM38 34h3v1h-3zM4 35h2v1h-2zM38 35h2v1h-2zM0 36h1v1h-1zM4 36h2v1h-2zM14 36h2v1h-2zM37 36h2v1h-2zM63 36h1v1h-1zM0 37h1v1h-1zM5 37h1v1h-1zM16 37h1v1h-1zM27 37h1v1h-1zM37 37h2v1h-2zM44 37h3v1h-3zM63 37h1v1h-1zM0 38h1v1h-1zM17 38h4v1h-4zM27 38h1v1h-1zM36 38h3v1h-3zM44 38h3v1h-3zM63 38h1v1h-1zM19 39h1v1h-1zM37 39h3v1h-3zM44 39h3v1h-3zM10 40h1v1h-1zM12 40h1v1h-1zM22 40h1v1h-1zM33 40h2v1h-2zM38 40h2v1h-2zM8 41h4v1h-4zM33 41h3v1h-3zM39 41h1v1h-1zM22 42h1v1h-1zM34 42h4v1h-4zM40 42h1v1h-1zM49 42h3v1h-3zM14 43h2v1h-2zM17 43h3v1h-3zM21 43h1v1h-1zM39 43h1v1h-1zM50 43h1v1h-1zM17 44h2v1h-2zM50 44h1v1h-1zM50 45h2v1h-2zM49 46h1v1h-1zM58 46h4v1h-4zM15 47h4v1h-4zM29 47h2v1h-2zM58 47h3v1h-3zM15 48h4v1h-4zM28 48h7v1h-7zM41 48h1v1h-1zM59 48h1v1h-1zM2 49h5v1h-5zM17 49h2v1h-2zM26 49h7v1h-7zM34 49h3v1h-3zM40 49h3v1h-3zM3 50h4v1h-4zM17 50h2v1h-2zM25 50h6v1h-6zM35 50h1v1h-1zM40 50h3v1h-3zM54 50h2v1h-2zM4 51h3v1h-3zM25 51h6v1h-6zM40 51h3v1h-3zM55 51h1v1h-1zM58 51h5v1h-5zM5 52h1v1h-1zM10 52h4v1h-4zM17 52h1v1h-1zM25 52h2v1h-2zM40 52h2v1h-2zM59 52h4v1h-4zM9 53h6v1h-6zM16 53h1v1h-1zM25 53h1v1h-1zM36 53h1v1h-1zM59 53h4v1h-4zM12 54h5v1h-5zM21 54h2v1h-2zM25 54h1v1h-1zM36 54h1v1h-1zM49 54h1v1h-1zM60 54h3v1h-3zM8 55h1v1h-1zM13 55h1v1h-1zM17 55h2v1h-2zM21 55h1v1h-1zM36 55h1v1h-1zM48 55h2v1h-2zM52 55h3v1h-3zM60 55h3v1h-3zM7 56h3v1h-3zM18 56h1v1h-1zM27 56h3v1h-3zM35 56h1v1h-1zM41 56h2v1h-2zM48 56h1v1h-1zM50 56h1v1h-1zM52 56h4v1h-4zM61 56h2v1h-2zM7 57h3v1h-3zM18 57h1v1h-1zM28 57h1v1h-1zM42 57h5v1h-5zM53 57h2v1h-2zM62 57h1v1h-1zM7 58h5v1h-5zM43 58h3v1h-3zM9 59h4v1h-4zM41 59h3v1h-3zM8 60h1v1h-1zM13 60h2v1h-2zM3 61h1v1h-1zM13 61h2v1h-2zM22 61h2v1h-2zM26 61h1v1h-1zM46 61h1v1h-1zM1 62h4v1h-4zM7 62h1v1h-1zM13 62h2v1h-2zM22 62h3v1h-3zM26 62h1v1h-1zM35 62h2v1h-2zM57 62h1v1h-1zM2 63h2v1h-2zM5 63h3v1h-3zM34 63h3v1h-3zM53 63h1v1h-1zM59 63h1v1h-1z"/></pattern>
<pattern id="tso" width="64" height="64" patternUnits="userSpaceOnUse"><rect width="64" height="64" fill="rgb(120, 0, 90)"/><path fill="#ba55d3" d="M21 0h2v1h-2zM21 1h1v1h-1zM40 5h1v1h-1zM40 6h1v1h-1zM55 7h1v1h-1zM15 8h2v1h-2zM53 8h3v1h-3zM15 9h2v1h-2zM8 10h1v1h-1zM15 10h2v1h-2zM8 11h1v1h-1zM40 12h1v1h-1zM20 13h3v1h-3zM51 13h1v1h-1zM20 14h3v1h-3zM24 14h5v1h-5zM20 15h2v1h-2zM25 15h5v1h-5zM49 15h1v1h-1zM27 16h1v1h-1zM16 17h2v1h-2zM62 17h2v1h-2zM56 18h1v1h-1zM63 18h1v1h-1zM10 19h1v1h-1zM55 19h1v1h-1zM57 19h1v1h-1zM10 20h2v1h-2zM8 21h3v1h-3zM5 26h1v1h-1zM31 26h2v1h-2zM30 27h2v1h-2zM19 28h2v1h-2zM49 28h2v1h-2zM49 29h1v1h-1zM60 30h1v1h-1zM53 35h1v1h-1zM53 36h2v1h-2zM42 37h3v1h-3zM54 37h1v1h-1zM15 38h1v1h-1zM55 38h1v1h-1zM57 38h1v1h-1zM23 39h1v1h-1zM30 40h2v1h-2zM27 41h1v1h-1zM30 41h2v1h-2zM45 43h3v1h-3zM45 44h3v1h-3zM46 45h2v1h-2zM22 46h2v1h-2zM22 47h2v1h-2zM30 47h1v1h-1zM22 48h2v1h-2zM30 48h1v1h-1zM43 48h2v1h-2zM22 49h2v1h-2zM32 49h1v1h-1zM39 49h2v1h-2zM42 49h4v1h-4zM22 50h2v1h-2zM38 50h3v1h-3zM43 50h2v1h-2zM23 51h2v1h-2zM36 51h4v1h-4zM23 52h3v1h-3zM36 52h4v1h-4zM59 52h2v1h-2zM24 53h2v1h-2zM35 53h4v1h-4zM59 53h2v1h-2zM24 54h2v1h-2zM34 54h1v1h-1zM36 54h2v1h-2zM59 54h2v1h-2zM48 55h2v1h-2zM60 55h1v1h-1zM48 56h2v1h-2zM51 56h1v1h-1zM48 57h2v1h-2zM52 57h2v1h-2zM48 58h1v1h-1zM52 58h2v1h-2zM30 59h2v1h-2zM31 60h1v1h-1zM50 60h1v1h-1zM38 61h1v1h-1zM38 62h1v1h-1zM21 63h1v1h-1z"/><path fill="#9400d3" d="M16 0h1v1h-1zM19 0h2v1h-2zM23 0h2v1h-2zM59 0h2v1h-2zM20 1h1v1h-1zM22 1h1v1h-1zM45 1h1v1h-1zM2 2h1v1h-1zM21 2h1v1h-1zM2 3h1v1h-1zM34 3h3v1h-3zM42 3h1v1h-1zM50 3h1v1h-1zM33 4h3v1h-3zM7 5h1v1h-1zM34 5h1v1h-1zM39 5h1v1h-1zM41 5h2v1h-2zM7 6h1v1h-1zM35 6h1v1h-1zM39 6h1v1h-1zM36 7h1v1h-1zM53 7h2v1h-2zM56 7h1v1h-1zM14 8h1v1h-1zM52 8h1v1h-1zM56 8h1v1h-1zM7 9h1v1h-1zM14 9h1v1h-1zM53 9h1v1h-1zM7 10h1v1h-1zM9 10h1v1h-1zM7 11h1v1h-1zM9 11h1v1h-1zM15 11h2v1h-2zM36 11h1v1h-1zM39 11h1v1h-1zM41 11h1v1h-1zM8 12h3v1h-3zM17 12h1v1h-1zM21 12h1v1h-1zM23 12h1v1h-1zM37 12h3v1h-3zM50 12h3v1h-3zM18 13h2v1h-2zM23 13h3v1h-3zM40 13h1v1h-1zM49 13h2v1h-2zM52 13h1v1h-1zM19 14h1v1h-1zM23 14h1v1h-1zM29 14h1v1h-1zM48 14h2v1h-2zM19 15h1v1h-1zM22 15h1v1h-1zM24 15h1v1h-1zM30 15h1v1h-1zM48 15h1v1h-1zM0 16h1v1h-1zM16 16h2v1h-2zM20 16h2v1h-2zM26 16h1v1h-1zM28 16h2v1h-2zM0 17h1v1h-1zM11 17h1v1h-1zM19 17h1v1h-1zM40 17h2v1h-2zM49 17h1v1h-1zM56 17h1v1h-1zM61 17h1v1h-1zM0 18h1v1h-1zM9 18h1v1h-1zM15 18h3v1h-3zM40 18h1v1h-1zM49 18h2v1h-2zM54 18h2v1h-2zM60 18h3v1h-3zM9 19h1v1h-1zM11 19h2v1h-2zM16 19h1v1h-1zM48 19h1v1h-1zM50 19h3v1h-3zM54 19h1v1h-1zM56 19h1v1h-1zM61 19h2v1h-2zM9 20h1v1h-1zM39 20h2v1h-2zM46 20h2v1h-2zM53 20h2v1h-2zM57 20h1v1h-1zM3 21h1v1h-1zM11 21h1v1h-1zM40 21h2v1h-2zM54 21h1v1h-1zM57 21h2v1h-2zM8 22h3v1h-3zM41 22h1v1h-1zM1 23h1v1h-1zM6 23h3v1h-3zM40 23h1v1h-1zM4 24h4v1h-4zM61 24h1v1h-1zM0 25h2v1h-2zM4 25h4v1h-4zM32 25h1v1h-1zM36 25h1v1h-1zM47 25h2v1h-2zM0 26h2v1h-2zM3 26h2v1h-2zM6 26h1v1h-1zM26 26h2v1h-2zM48 26h2v1h-2zM0 27h1v1h-1zM5 27h2v1h-2zM11 27h1v1h-1zM19 27h3v1h-3zM26 27h1v1h-1zM32 27h1v1h-1zM48 27h3v1h-3zM53 27h1v1h-1zM17 28h2v1h-2zM21 28h1v1h-1zM53 28h2v1h-2zM2 29h1v1h-1zM20 29h1v1h-1zM50 29h1v1h-1zM53 29h2v1h-2zM61 29h1v1h-1zM1 30h1v1h-1zM3 30h1v1h-1zM49 30h3v1h-3zM61 30h1v1h-1zM48 31h4v1h-4zM60 31h1v1h-1zM11 32h1v1h-1zM52 32h1v1h-1zM43 34h1v1h-1zM45 34h3v1h-3zM7 35h1v1h-1zM41 35h2v1h-2zM45 35h3v1h-3zM54 35h1v1h-1zM7 36h1v1h-1zM41 36h4v1h-4zM55 36h1v1h-1zM53 37h1v1h-1zM55 37h3v1h-3zM16 38h1v1h-1zM44 38h1v1h-1zM53 38h2v1h-2zM56 38h1v1h-1zM58 38h1v1h-1zM22 39h1v1h-1zM30 39h1v1h-1zM56 39h1v1h-1zM23 40h5v1h-5zM29 40h1v1h-1zM26 41h1v1h-1zM28 41h2v1h-2zM32 41h2v1h-2zM31 42h1v1h-1zM46 42h2v1h-2zM44 43h1v1h-1zM55 43h1v1h-1zM63 43h1v1h-1zM0 44h1v1h-1zM33 44h1v1h-1zM44 44h1v1h-1zM55 44h1v1h-1zM62 44h2v1h-2zM23 45h1v1h-1zM45 45h1v1h-1zM55 45h1v1h-1zM24 46h2v1h-2zM29 46h2v1h-2zM45 46h1v1h-1zM21 47h1v1h-1zM24 47h1v1h-1zM28 47h2v1h-2zM31 47h3v1h-3zM43 47h2v1h-2zM57 47h1v1h-1zM21 48h1v1h-1zM24 48h1v1h-1zM29 48h1v1h-1zM31 48h2v1h-2zM38 48h5v1h-5zM45 48h1v1h-1zM58 48h2v1h-2zM30 49h2v1h-2zM33 49h2v1h-2zM38 49h1v1h-1zM41 49h1v1h-1zM57 49h3v1h-3zM24 50h1v1h-1zM32 50h1v1h-1zM37 50h1v1h-1zM42 50h1v1h-1zM45 50h1v1h-1zM58 50h1v1h-1zM22 51h1v1h-1zM25 51h1v1h-1zM40 51h1v1h-1zM44 51h2v1h-2zM58 51h2v1h-2zM28 52h2v1h-2zM35 52h1v1h-1zM50 52h2v1h-2zM57 52h2v1h-2zM23 53h1v1h-1zM28 53h2v1h-2zM39 53h1v1h-1zM50 53h1v1h-1zM58 53h1v1h-1zM61 53h1v1h-1zM35 54h1v1h-1zM38 54h1v1h-1zM50 54h1v1h-1zM61 54h1v1h-1zM24 55h1v1h-1zM34 55h3v1h-3zM45 55h2v1h-2zM50 55h2v1h-2zM59 55h1v1h-1zM61 55h1v1h-1zM2 56h1v1h-1zM33 56h2v1h-2zM45 56h3v1h-3zM50 56h1v1h-1zM52 56h1v1h-1zM1 57h2v1h-2zM33 57h1v1h-1zM47 57h1v1h-1zM50 57h2v1h-2zM54 57h1v1h-1zM1 58h1v1h-1zM32 58h2v1h-2zM49 58h3v1h-3zM54 58h3v1h-3zM32 59h2v1h-2zM49 59h5v1h-5zM22 60h1v1h-1zM30 60h1v1h-1zM33 60h2v1h-2zM36 60h4v1h-4zM49 60h1v1h-1zM51 60h1v1h-1zM20 61h1v1h-1zM32 61h1v1h-1zM37 61h1v1h-1zM39 61h1v1h-1zM49 61h2v1h-2zM13 62h1v1h-1zM15 62h2v1h-2zM19 62h4v1h-4zM39 62h1v1h-1zM49 62h2v1h-2zM15 63h3v1h-3zM19 63h2v1h-2zM22 63h3v1h-3zM31 63h1v1h-1zM38 63h1v1h-1zM45 63h1v1h-1zM59 63h3v1h-3z"/></pattern>
<pattern id="tbr" width="64" height="64" patternUnits="userSpaceOnUse"><rect width="64" height="64" fill="rgb(148, 0, 211)"/><path fill="#adff2f" d="M6 0h1v1h-1zM6 1h1v1h-1zM48 2h1v1h-1zM16 3h1v1h-1zM16 4h1v1h-1zM58 4h1v1h-1zM58 5h1v1h-1zM9 11h1v1h-1zM9 12h1v1h-1zM10 13h1v1h-1zM8 14h1v1h-1zM10 14h2v1h-2zM35 14h1v1h-1zM9 15h3v1h-3zM35 15h1v1h-1zM10 16h1v1h-1zM34 16h1v1h-1zM33 17h2v1h-2zM42 18h1v1h-1zM42 19h2v1h-2zM42 20h2v1h-2zM29 21h1v1h-1zM43 21h2v1h-2zM48 23h2v1h-2zM49 24h1v1h-1zM11 29h1v1h-1zM44 29h1v1h-1zM10 30h2v1h-2zM44 30h1v1h-1zM18 31h1v1h-1zM17 32h1v1h-1zM13 37h1v1h-1zM13 38h1v1h-1zM13 39h2v1h-2zM14 40h1v1h-1zM23 41h1v1h-1zM61 41h1v1h-1zM24 42h1v1h-1zM23 43h2v1h-2zM23 44h1v1h-1zM6 48h3v1h-3zM6 49h2v1h-2zM27 49h1v1h-1zM22 52h1v1h-1zM22 53h1v1h-1zM33 53h1v1h-1zM4 54h1v1h-1zM3 55h3v1h-3zM3 56h3v1h-3zM3 57h3v1h-3zM26 59h1v1h-1zM46 60h4v1h-4zM60 60h1v1h-1zM46 61h4v1h-4zM49 62h1v1h-1zM7 63h1v1h-1z"/><path fill="#ffff00" d="M5 0h1v1h-1zM7 0h1v1h-1zM5 1h1v1h-1zM7 1h1v1h-1zM33 1h4v1h-4zM49 1h1v1h-1zM6 2h2v1h-2zM16 2h2v1h-2zM32 2h3v1h-3zM38 2h1v1h-1zM49 2h2v1h-2zM8 3h1v1h-1zM17 3h1v1h-1zM49 3h2v1h-2zM57 3h3v1h-3zM17 4h1v1h-1zM45 4h2v1h-2zM57 4h1v1h-1zM59 4h1v1h-1zM17 5h1v1h-1zM44 5h2v1h-2zM57 5h1v1h-1zM59 5h2v1h-2zM6 6h2v1h-2zM44 6h1v1h-1zM61 6h2v1h-2zM7 7h1v1h-1zM23 7h2v1h-2zM23 8h2v1h-2zM24 9h1v1h-1zM26 9h1v1h-1zM29 9h1v1h-1zM55 9h2v1h-2zM8 10h3v1h-3zM25 10h5v1h-5zM40 10h1v1h-1zM7 11h2v1h-2zM10 11h1v1h-1zM25 11h4v1h-4zM57 11h2v1h-2zM7 12h2v1h-2zM10 12h1v1h-1zM25 12h3v1h-3zM57 12h1v1h-1zM0 13h1v1h-1zM7 13h3v1h-3zM11 13h1v1h-1zM0 14h2v1h-2zM7 14h1v1h-1zM9 14h1v1h-1zM36 14h1v1h-1zM0 15h1v1h-1zM7 15h2v1h-2zM34 15h1v1h-1zM36 15h1v1h-1zM44 15h2v1h-2zM62 15h2v1h-2zM0 16h1v1h-1zM9 16h1v1h-1zM11 16h1v1h-1zM17 16h2v1h-2zM33 16h1v1h-1zM35 16h1v1h-1zM61 16h3v1h-3zM0 17h1v1h-1zM9 17h1v1h-1zM16 17h3v1h-3zM43 17h1v1h-1zM50 17h2v1h-2zM62 17h2v1h-2zM0 18h1v1h-1zM33 18h1v1h-1zM41 18h1v1h-1zM43 18h2v1h-2zM50 18h2v1h-2zM53 18h1v1h-1zM29 19h1v1h-1zM41 19h1v1h-1zM44 19h1v1h-1zM51 19h1v1h-1zM53 19h1v1h-1zM27 20h4v1h-4zM44 20h1v1h-1zM53 20h1v1h-1zM28 21h1v1h-1zM30 21h1v1h-1zM42 21h1v1h-1zM13 22h1v1h-1zM40 22h1v1h-1zM43 22h2v1h-2zM48 22h2v1h-2zM63 22h1v1h-1zM13 23h4v1h-4zM33 23h1v1h-1zM39 23h2v1h-2zM47 23h1v1h-1zM50 23h1v1h-1zM55 23h2v1h-2zM47 24h2v1h-2zM50 24h1v1h-1zM55 24h2v1h-2zM31 25h1v1h-1zM49 25h2v1h-2zM55 25h1v1h-1zM0 26h1v1h-1zM4 26h1v1h-1zM29 26h5v1h-5zM63 26h1v1h-1zM3 27h1v1h-1zM5 27h1v1h-1zM25 27h2v1h-2zM29 27h6v1h-6zM10 28h2v1h-2zM26 28h1v1h-1zM31 28h4v1h-4zM44 28h1v1h-1zM10 29h1v1h-1zM12 29h1v1h-1zM20 29h1v1h-1zM35 29h1v1h-1zM43 29h1v1h-1zM45 29h2v1h-2zM12 30h1v1h-1zM19 30h1v1h-1zM42 30h2v1h-2zM45 30h1v1h-1zM4 31h2v1h-2zM9 31h4v1h-4zM16 31h2v1h-2zM19 31h1v1h-1zM43 31h3v1h-3zM11 32h1v1h-1zM18 32h1v1h-1zM38 32h2v1h-2zM42 32h4v1h-4zM17 33h2v1h-2zM43 33h2v1h-2zM46 35h1v1h-1zM6 36h2v1h-2zM13 36h2v1h-2zM36 36h1v1h-1zM5 37h3v1h-3zM12 37h1v1h-1zM14 37h1v1h-1zM57 37h2v1h-2zM6 38h2v1h-2zM12 38h1v1h-1zM14 38h1v1h-1zM58 38h1v1h-1zM6 39h1v1h-1zM12 39h1v1h-1zM15 39h1v1h-1zM21 39h2v1h-2zM38 39h1v1h-1zM50 39h4v1h-4zM13 40h1v1h-1zM15 40h2v1h-2zM21 40h1v1h-1zM23 40h1v1h-1zM38 40h1v1h-1zM49 40h4v1h-4zM14 41h1v1h-1zM21 41h2v1h-2zM24 41h1v1h-1zM38 41h1v1h-1zM60 41h1v1h-1zM62 41h1v1h-1zM22 42h2v1h-2zM39 42h1v1h-1zM61 42h2v1h-2zM22 43h1v1h-1zM30 43h3v1h-3zM38 43h4v1h-4zM22 44h1v1h-1zM24 44h1v1h-1zM30 44h2v1h-2zM33 44h1v1h-1zM38 44h4v1h-4zM51 44h3v1h-3zM4 45h1v1h-1zM20 45h4v1h-4zM32 45h1v1h-1zM34 45h1v1h-1zM39 45h2v1h-2zM51 45h2v1h-2zM33 46h1v1h-1zM39 46h1v1h-1zM6 47h2v1h-2zM9 48h1v1h-1zM13 48h1v1h-1zM26 48h2v1h-2zM8 49h1v1h-1zM12 49h2v1h-2zM26 49h1v1h-1zM28 49h1v1h-1zM7 50h1v1h-1zM12 50h3v1h-3zM52 50h1v1h-1zM13 51h1v1h-1zM41 51h1v1h-1zM21 52h1v1h-1zM32 52h1v1h-1zM4 53h2v1h-2zM21 53h1v1h-1zM23 53h1v1h-1zM31 53h2v1h-2zM3 54h1v1h-1zM5 54h1v1h-1zM11 54h1v1h-1zM21 54h1v1h-1zM32 54h3v1h-3zM9 55h3v1h-3zM21 55h1v1h-1zM38 55h1v1h-1zM47 55h1v1h-1zM10 56h1v1h-1zM48 56h1v1h-1zM10 57h2v1h-2zM4 58h2v1h-2zM10 58h2v1h-2zM25 58h1v1h-1zM41 58h1v1h-1zM5 59h2v1h-2zM24 59h2v1h-2zM27 59h1v1h-1zM30 59h1v1h-1zM41 59h2v1h-2zM47 59h2v1h-2zM55 59h2v1h-2zM60 59h2v1h-2zM12 60h3v1h-3zM26 60h1v1h-1zM30 60h2v1h-2zM41 60h3v1h-3zM45 60h1v1h-1zM55 60h2v1h-2zM59 60h1v1h-1zM61 60h2v1h-2zM6 61h2v1h-2zM11 61h3v1h-3zM42 61h1v1h-1zM45 61h1v1h-1zM50 61h2v1h-2zM60 61h3v1h-3zM5 62h3v1h-3zM12 62h1v1h-1zM47 62h2v1h-2zM50 62h2v1h-2zM5 63h2v1h-2z"/><path fill="#ff8000" d="M13 0h1v1h-1zM36 0h1v1h-1zM4 1h1v1h-1zM32 1h1v1h-1zM47 1h2v1h-2zM14 2h1v1h-1zM31 2h1v1h-1zM35 2h1v1h-1zM58 2h1v1h-1zM7 3h1v1h-1zM15 3h1v1h-1zM33 3h2v1h-2zM15 4h1v1h-1zM60 4h1v1h-1zM16 5h1v1h-1zM43 5h1v1h-1zM62 5h1v1h-1zM3 6h1v1h-1zM45 6h1v1h-1zM0 7h1v1h-1zM62 7h1v1h-1zM1 8h1v1h-1zM6 8h2v1h-2zM22 8h1v1h-1zM25 8h1v1h-1zM46 8h1v1h-1zM52 8h1v1h-1zM7 9h1v1h-1zM9 9h1v1h-1zM46 9h2v1h-2zM52 9h1v1h-1zM11 10h1v1h-1zM41 10h1v1h-1zM47 10h1v1h-1zM40 11h2v1h-2zM59 11h1v1h-1zM24 12h1v1h-1zM1 13h1v1h-1zM27 13h1v1h-1zM35 13h1v1h-1zM45 14h1v1h-1zM63 14h1v1h-1zM8 16h1v1h-1zM10 17h1v1h-1zM15 17h1v1h-1zM42 17h1v1h-1zM44 17h1v1h-1zM9 18h1v1h-1zM16 18h1v1h-1zM52 18h1v1h-1zM63 18h1v1h-1zM9 19h1v1h-1zM11 19h1v1h-1zM30 19h1v1h-1zM52 19h1v1h-1zM26 20h1v1h-1zM45 20h1v1h-1zM52 20h1v1h-1zM54 20h1v1h-1zM26 21h1v1h-1zM45 21h1v1h-1zM54 21h1v1h-1zM63 21h1v1h-1zM14 22h1v1h-1zM32 22h2v1h-2zM31 23h2v1h-2zM38 23h1v1h-1zM48 25h1v1h-1zM25 26h2v1h-2zM1 27h1v1h-1zM4 27h1v1h-1zM24 27h1v1h-1zM63 27h1v1h-1zM25 28h1v1h-1zM27 28h1v1h-1zM35 28h1v1h-1zM42 28h2v1h-2zM45 28h1v1h-1zM34 29h1v1h-1zM42 29h1v1h-1zM4 30h1v1h-1zM15 30h1v1h-1zM18 30h1v1h-1zM20 30h1v1h-1zM3 31h1v1h-1zM42 31h1v1h-1zM46 31h2v1h-2zM10 32h1v1h-1zM16 32h1v1h-1zM40 32h1v1h-1zM46 32h2v1h-2zM11 33h1v1h-1zM16 33h1v1h-1zM45 33h2v1h-2zM7 35h1v1h-1zM39 36h1v1h-1zM46 36h1v1h-1zM25 37h1v1h-1zM59 37h1v1h-1zM15 38h1v1h-1zM30 38h1v1h-1zM38 38h1v1h-1zM52 38h1v1h-1zM57 38h1v1h-1zM59 38h1v1h-1zM5 39h1v1h-1zM16 39h1v1h-1zM20 39h1v1h-1zM23 39h1v1h-1zM39 39h1v1h-1zM5 40h2v1h-2zM12 40h1v1h-1zM22 40h1v1h-1zM39 40h1v1h-1zM61 40h2v1h-2zM13 41h1v1h-1zM15 41h1v1h-1zM39 41h1v1h-1zM49 41h2v1h-2zM38 42h1v1h-1zM15 43h1v1h-1zM42 43h2v1h-2zM15 44h1v1h-1zM21 44h1v1h-1zM32 44h1v1h-1zM34 44h1v1h-1zM3 45h1v1h-1zM5 45h1v1h-1zM33 45h1v1h-1zM41 45h1v1h-1zM53 45h1v1h-1zM6 46h1v1h-1zM20 46h2v1h-2zM51 46h1v1h-1zM9 47h1v1h-1zM20 47h1v1h-1zM28 48h1v1h-1zM14 49h1v1h-1zM52 49h1v1h-1zM57 49h1v1h-1zM6 50h1v1h-1zM26 50h2v1h-2zM57 50h1v1h-1zM12 51h1v1h-1zM22 51h1v1h-1zM4 52h2v1h-2zM23 52h1v1h-1zM31 52h1v1h-1zM42 52h1v1h-1zM52 52h1v1h-1zM3 53h1v1h-1zM12 53h1v1h-1zM12 54h1v1h-1zM22 54h2v1h-2zM20 55h1v1h-1zM32 55h2v1h-2zM39 55h1v1h-1zM11 56h2v1h-2zM39 56h1v1h-1zM12 57h1v1h-1zM3 58h1v1h-1zM6 58h1v1h-1zM12 58h1v1h-1zM26 58h2v1h-2zM42 58h1v1h-1zM56 58h2v1h-2zM29 59h1v1h-1zM31 59h1v1h-1zM49 59h1v1h-1zM6 60h1v1h-1zM27 60h2v1h-2zM50 60h1v1h-1zM57 60h2v1h-2zM41 61h1v1h-1zM43 61h1v1h-1zM58 61h2v1h-2zM13 62h1v1h-1zM43 63h1v1h-1z"/><path fill="#ff0000" d="M4 0h1v1h-1zM8 0h1v1h-1zM12 0h1v1h-1zM20 0h8v1h-8zM31 0h1v1h-1zM33 0h3v1h-3zM37 0h1v1h-1zM46 0h4v1h-4zM0 1h2v1h-2zM8 1h1v1h-1zM12 1h3v1h-3zM21 1h2v1h-2zM25 1h2v1h-2zM30 1h2v1h-2zM37 1h1v1h-1zM50 1h1v1h-1zM1 2h5v1h-5zM8 2h1v1h-1zM13 2h1v1h-1zM18 2h1v1h-1zM28 2h1v1h-1zM36 2h2v1h-2zM39 2h1v1h-1zM46 2h2v1h-2zM51 2h3v1h-3zM59 2h1v1h-1zM3 3h4v1h-4zM9 3h1v1h-1zM18 3h1v1h-1zM21 3h1v1h-1zM31 3h2v1h-2zM36 3h2v1h-2zM46 3h3v1h-3zM4 4h1v1h-1zM7 4h1v1h-1zM14 4h1v1h-1zM18 4h1v1h-1zM21 4h1v1h-1zM30 4h1v1h-1zM43 4h2v1h-2zM49 4h1v1h-1zM56 4h1v1h-1zM5 5h3v1h-3zM15 5h1v1h-1zM21 5h2v1h-2zM29 5h2v1h-2zM46 5h1v1h-1zM61 5h1v1h-1zM0 6h3v1h-3zM5 6h1v1h-1zM15 6h3v1h-3zM21 6h6v1h-6zM29 6h2v1h-2zM38 6h1v1h-1zM40 6h4v1h-4zM46 6h1v1h-1zM57 6h2v1h-2zM60 6h1v1h-1zM63 6h1v1h-1zM1 7h3v1h-3zM6 7h1v1h-1zM8 7h1v1h-1zM14 7h3v1h-3zM22 7h1v1h-1zM25 7h1v1h-1zM29 7h2v1h-2zM39 7h2v1h-2zM45 7h2v1h-2zM56 7h2v1h-2zM61 7h1v1h-1zM63 7h1v1h-1zM0 8h1v1h-1zM8 8h1v1h-1zM14 8h4v1h-4zM26 8h1v1h-1zM29 8h3v1h-3zM45 8h1v1h-1zM51 8h1v1h-1zM55 8h2v1h-2zM63 8h1v1h-1zM1 9h1v1h-1zM6 9h1v1h-1zM8 9h1v1h-1zM11 9h3v1h-3zM15 9h3v1h-3zM22 9h2v1h-2zM25 9h1v1h-1zM27 9h2v1h-2zM30 9h1v1h-1zM40 9h1v1h-1zM51 9h1v1h-1zM53 9h2v1h-2zM57 9h1v1h-1zM60 9h2v1h-2zM6 10h2v1h-2zM12 10h3v1h-3zM17 10h1v1h-1zM22 10h3v1h-3zM30 10h1v1h-1zM39 10h1v1h-1zM42 10h1v1h-1zM45 10h2v1h-2zM48 10h1v1h-1zM50 10h2v1h-2zM53 10h1v1h-1zM56 10h6v1h-6zM6 11h1v1h-1zM11 11h2v1h-2zM15 11h3v1h-3zM23 11h2v1h-2zM29 11h1v1h-1zM34 11h1v1h-1zM42 11h1v1h-1zM44 11h4v1h-4zM49 11h4v1h-4zM55 11h2v1h-2zM60 11h1v1h-1zM0 12h2v1h-2zM23 12h1v1h-1zM28 12h1v1h-1zM41 12h2v1h-2zM45 12h1v1h-1zM50 12h1v1h-1zM56 12h1v1h-1zM58 12h2v1h-2zM2 13h1v1h-1zM24 13h3v1h-3zM36 13h1v1h-1zM41 13h1v1h-1zM48 13h4v1h-4zM56 13h2v1h-2zM63 13h1v1h-1zM2 14h1v1h-1zM6 14h1v1h-1zM12 14h1v1h-1zM17 14h3v1h-3zM34 14h1v1h-1zM43 14h2v1h-2zM46 14h1v1h-1zM50 14h1v1h-1zM62 14h1v1h-1zM6 15h1v1h-1zM17 15h3v1h-3zM43 15h1v1h-1zM46 15h1v1h-1zM1 16h1v1h-1zM7 16h1v1h-1zM16 16h1v1h-1zM19 16h1v1h-1zM32 16h1v1h-1zM36 16h1v1h-1zM43 16h5v1h-5zM50 16h2v1h-2zM1 17h1v1h-1zM8 17h1v1h-1zM11 17h1v1h-1zM14 17h1v1h-1zM19 17h2v1h-2zM32 17h1v1h-1zM35 17h1v1h-1zM41 17h1v1h-1zM45 17h3v1h-3zM49 17h1v1h-1zM52 17h2v1h-2zM61 17h1v1h-1zM10 18h2v1h-2zM15 18h1v1h-1zM17 18h5v1h-5zM29 18h1v1h-1zM32 18h1v1h-1zM34 18h1v1h-1zM45 18h5v1h-5zM8 19h1v1h-1zM10 19h1v1h-1zM12 19h1v1h-1zM16 19h1v1h-1zM20 19h2v1h-2zM27 19h2v1h-2zM31 19h2v1h-2zM50 19h1v1h-1zM54 19h1v1h-1zM8 20h5v1h-5zM20 20h2v1h-2zM24 20h2v1h-2zM31 20h1v1h-1zM41 20h1v1h-1zM46 20h2v1h-2zM51 20h1v1h-1zM0 21h1v1h-1zM8 21h1v1h-1zM12 21h1v1h-1zM14 21h2v1h-2zM21 21h5v1h-5zM27 21h1v1h-1zM31 21h3v1h-3zM40 21h2v1h-2zM46 21h5v1h-5zM52 21h2v1h-2zM62 21h1v1h-1zM0 22h1v1h-1zM12 22h1v1h-1zM15 22h2v1h-2zM21 22h3v1h-3zM25 22h1v1h-1zM29 22h3v1h-3zM38 22h2v1h-2zM41 22h2v1h-2zM45 22h1v1h-1zM47 22h1v1h-1zM50 22h1v1h-1zM54 22h3v1h-3zM62 22h1v1h-1zM12 23h1v1h-1zM24 23h1v1h-1zM37 23h1v1h-1zM43 23h2v1h-2zM57 23h2v1h-2zM63 23h1v1h-1zM6 24h1v1h-1zM13 24h5v1h-5zM19 24h1v1h-1zM31 24h4v1h-4zM36 24h6v1h-6zM51 24h1v1h-1zM54 24h1v1h-1zM57 24h1v1h-1zM2 25h5v1h-5zM17 25h1v1h-1zM30 25h1v1h-1zM32 25h2v1h-2zM35 25h3v1h-3zM42 25h1v1h-1zM47 25h1v1h-1zM51 25h1v1h-1zM54 25h1v1h-1zM56 25h2v1h-2zM1 26h1v1h-1zM3 26h1v1h-1zM5 26h2v1h-2zM18 26h1v1h-1zM22 26h3v1h-3zM34 26h1v1h-1zM42 26h1v1h-1zM45 26h1v1h-1zM48 26h3v1h-3zM54 26h2v1h-2zM0 27h1v1h-1zM2 27h1v1h-1zM6 27h1v1h-1zM19 27h1v1h-1zM22 27h2v1h-2zM27 27h2v1h-2zM35 27h1v1h-1zM42 27h3v1h-3zM52 27h2v1h-2zM0 28h1v1h-1zM3 28h3v1h-3zM9 28h1v1h-1zM12 28h1v1h-1zM19 28h4v1h-4zM30 28h1v1h-1zM46 28h1v1h-1zM53 28h1v1h-1zM63 28h1v1h-1zM0 29h1v1h-1zM3 29h2v1h-2zM9 29h1v1h-1zM18 29h2v1h-2zM21 29h1v1h-1zM26 29h2v1h-2zM32 29h2v1h-2zM36 29h1v1h-1zM41 29h1v1h-1zM47 29h1v1h-1zM62 29h2v1h-2zM3 30h1v1h-1zM5 30h5v1h-5zM13 30h1v1h-1zM16 30h2v1h-2zM26 30h1v1h-1zM35 30h1v1h-1zM41 30h1v1h-1zM46 30h1v1h-1zM54 30h1v1h-1zM62 30h2v1h-2zM6 31h3v1h-3zM15 31h1v1h-1zM20 31h1v1h-1zM26 31h1v1h-1zM36 31h2v1h-2zM40 31h2v1h-2zM48 31h3v1h-3zM3 32h1v1h-1zM5 32h3v1h-3zM9 32h1v1h-1zM12 32h1v1h-1zM19 32h2v1h-2zM35 32h3v1h-3zM41 32h1v1h-1zM48 32h3v1h-3zM7 33h4v1h-4zM21 33h1v1h-1zM35 33h8v1h-8zM47 33h1v1h-1zM2 34h1v1h-1zM6 34h5v1h-5zM16 34h2v1h-2zM34 34h3v1h-3zM41 34h6v1h-6zM2 35h2v1h-2zM6 35h1v1h-1zM8 35h1v1h-1zM13 35h1v1h-1zM33 35h4v1h-4zM38 35h1v1h-1zM42 35h2v1h-2zM45 35h1v1h-1zM47 35h3v1h-3zM59 35h1v1h-1zM1 36h2v1h-2zM5 36h1v1h-1zM8 36h2v1h-2zM12 36h1v1h-1zM22 36h1v1h-1zM27 36h1v1h-1zM37 36h2v1h-2zM45 36h1v1h-1zM47 36h1v1h-1zM58 36h3v1h-3zM0 37h2v1h-2zM8 37h4v1h-4zM15 37h1v1h-1zM21 37h2v1h-2zM24 37h1v1h-1zM26 37h2v1h-2zM29 37h1v1h-1zM37 37h3v1h-3zM44 37h1v1h-1zM46 37h1v1h-1zM51 37h1v1h-1zM56 37h1v1h-1zM60 37h1v1h-1zM0 38h1v1h-1zM4 38h2v1h-2zM8 38h4v1h-4zM16 38h1v1h-1zM20 38h6v1h-6zM28 38h2v1h-2zM31 38h1v1h-1zM36 38h2v1h-2zM39 38h2v1h-2zM42 38h1v1h-1zM44 38h2v1h-2zM50 38h2v1h-2zM53 38h1v1h-1zM56 38h1v1h-1zM4 39h1v1h-1zM7 39h1v1h-1zM11 39h1v1h-1zM24 39h1v1h-1zM29 39h3v1h-3zM40 39h1v1h-1zM44 39h2v1h-2zM48 39h2v1h-2zM54 39h3v1h-3zM61 39h3v1h-3zM7 40h1v1h-1zM11 40h1v1h-1zM20 40h1v1h-1zM24 40h1v1h-1zM32 40h1v1h-1zM40 40h1v1h-1zM44 40h2v1h-2zM47 40h2v1h-2zM53 40h1v1h-1zM60 40h1v1h-1zM63 40h1v1h-1zM5 41h3v1h-3zM12 41h1v1h-1zM17 41h1v1h-1zM20 41h1v1h-1zM25 41h1v1h-1zM31 41h2v1h-2zM37 41h1v1h-1zM40 41h1v1h-1zM45 41h4v1h-4zM51 41h1v1h-1zM59 41h1v1h-1zM63 41h1v1h-1zM13 42h3v1h-3zM25 42h1v1h-1zM29 42h4v1h-4zM37 42h1v1h-1zM40 42h3v1h-3zM60 42h1v1h-1zM63 42h1v1h-1zM14 43h1v1h-1zM21 43h1v1h-1zM25 43h1v1h-1zM28 43h2v1h-2zM33 43h1v1h-1zM44 43h1v1h-1zM52 43h2v1h-2zM62 43h1v1h-1zM1 44h5v1h-5zM11 44h2v1h-2zM14 44h1v1h-1zM25 44h1v1h-1zM29 44h1v1h-1zM37 44h1v1h-1zM42 44h1v1h-1zM50 44h1v1h-1zM14 45h2v1h-2zM19 45h1v1h-1zM24 45h1v1h-1zM30 45h2v1h-2zM37 45h2v1h-2zM42 45h1v1h-1zM50 45h1v1h-1zM54 45h2v1h-2zM3 46h3v1h-3zM7 46h1v1h-1zM15 46h1v1h-1zM19 46h1v1h-1zM31 46h2v1h-2zM34 46h3v1h-3zM38 46h1v1h-1zM40 46h2v1h-2zM50 46h1v1h-1zM52 46h1v1h-1zM59 46h2v1h-2zM8 47h1v1h-1zM12 47h2v1h-2zM19 47h1v1h-1zM27 47h1v1h-1zM32 47h3v1h-3zM39 47h3v1h-3zM49 47h3v1h-3zM59 47h2v1h-2zM5 48h1v1h-1zM10 48h3v1h-3zM14 48h1v1h-1zM19 48h1v1h-1zM25 48h1v1h-1zM32 48h3v1h-3zM49 48h1v1h-1zM57 48h1v1h-1zM5 49h1v1h-1zM9 49h1v1h-1zM11 49h1v1h-1zM18 49h2v1h-2zM25 49h1v1h-1zM45 49h1v1h-1zM49 49h1v1h-1zM51 49h1v1h-1zM53 49h1v1h-1zM55 49h2v1h-2zM5 50h1v1h-1zM8 50h1v1h-1zM11 50h1v1h-1zM15 50h1v1h-1zM18 50h3v1h-3zM25 50h1v1h-1zM28 50h1v1h-1zM40 50h1v1h-1zM50 50h1v1h-1zM53 50h1v1h-1zM55 50h2v1h-2zM4 51h2v1h-2zM14 51h1v1h-1zM17 51h2v1h-2zM20 51h2v1h-2zM24 51h3v1h-3zM39 51h2v1h-2zM42 51h1v1h-1zM50 51h6v1h-6zM6 52h1v1h-1zM12 52h2v1h-2zM17 52h1v1h-1zM20 52h1v1h-1zM24 52h2v1h-2zM33 52h1v1h-1zM39 52h3v1h-3zM43 52h2v1h-2zM50 52h2v1h-2zM53 52h2v1h-2zM6 53h1v1h-1zM11 53h1v1h-1zM20 53h1v1h-1zM24 53h1v1h-1zM30 53h1v1h-1zM39 53h2v1h-2zM44 53h3v1h-3zM50 53h4v1h-4zM6 54h1v1h-1zM9 54h2v1h-2zM13 54h1v1h-1zM15 54h3v1h-3zM24 54h1v1h-1zM31 54h1v1h-1zM38 54h3v1h-3zM47 54h1v1h-1zM51 54h1v1h-1zM55 54h1v1h-1zM2 55h1v1h-1zM6 55h1v1h-1zM8 55h1v1h-1zM12 55h2v1h-2zM19 55h1v1h-1zM22 55h1v1h-1zM31 55h1v1h-1zM34 55h1v1h-1zM37 55h1v1h-1zM40 55h1v1h-1zM46 55h1v1h-1zM48 55h2v1h-2zM2 56h1v1h-1zM6 56h1v1h-1zM8 56h2v1h-2zM17 56h1v1h-1zM20 56h3v1h-3zM31 56h1v1h-1zM33 56h2v1h-2zM38 56h1v1h-1zM40 56h1v1h-1zM47 56h1v1h-1zM49 56h3v1h-3zM2 57h1v1h-1zM6 57h1v1h-1zM9 57h1v1h-1zM23 57h2v1h-2zM41 57h2v1h-2zM47 57h4v1h-4zM52 57h1v1h-1zM56 57h1v1h-1zM7 58h3v1h-3zM13 58h2v1h-2zM23 58h2v1h-2zM28 58h5v1h-5zM46 58h5v1h-5zM52 58h1v1h-1zM55 58h1v1h-1zM58 58h3v1h-3zM3 59h2v1h-2zM7 59h1v1h-1zM9 59h7v1h-7zM17 59h1v1h-1zM22 59h2v1h-2zM28 59h1v1h-1zM32 59h1v1h-1zM40 59h1v1h-1zM43 59h1v1h-1zM46 59h1v1h-1zM50 59h1v1h-1zM54 59h1v1h-1zM57 59h3v1h-3zM62 59h1v1h-1zM4 60h2v1h-2zM7 60h1v1h-1zM11 60h1v1h-1zM15 60h1v1h-1zM20 60h6v1h-6zM29 60h1v1h-1zM32 60h1v1h-1zM40 60h1v1h-1zM44 60h1v1h-1zM53 60h2v1h-2zM63 60h1v1h-1zM5 61h1v1h-1zM14 61h2v1h-2zM20 61h2v1h-2zM24 61h1v1h-1zM26 61h2v1h-2zM29 61h3v1h-3zM44 61h1v1h-1zM52 61h1v1h-1zM55 61h3v1h-3zM63 61h1v1h-1zM11 62h1v1h-1zM20 62h2v1h-2zM24 62h2v1h-2zM42 62h5v1h-5zM58 62h1v1h-1zM60 62h3v1h-3zM8 63h1v1h-1zM12 63h2v1h-2zM21 63h2v1h-2zM24 63h3v1h-3zM35 63h1v1h-1zM47 63h5v1h-5z"/><path fill="#ba55d3" d="M0 0h1v1h-1zM11 0h1v1h-1zM28 0h1v1h-1zM32 0h1v1h-1zM44 0h1v1h-1zM50 0h1v1h-1zM2 1h2v1h-2zM20 1h1v1h-1zM23 1h2v1h-2zM27 1h3v1h-3zM38 1h1v1h-1zM51 1h1v1h-1zM58 1h2v1h-2zM12 2h1v1h-1zM15 2h1v1h-1zM19 2h3v1h-3zM25 2h1v1h-1zM27 2h1v1h-1zM30 2h1v1h-1zM45 2h1v1h-1zM57 2h1v1h-1zM2 3h1v1h-1zM13 3h2v1h-2zM19 3h2v1h-2zM29 3h2v1h-2zM35 3h1v1h-1zM38 3h1v1h-1zM45 3h1v1h-1zM51 3h2v1h-2zM56 3h1v1h-1zM2 4h2v1h-2zM5 4h2v1h-2zM8 4h1v1h-1zM19 4h2v1h-2zM22 4h1v1h-1zM29 4h1v1h-1zM33 4h1v1h-1zM36 4h1v1h-1zM38 4h1v1h-1zM47 4h2v1h-2zM50 4h2v1h-2zM2 5h3v1h-3zM8 5h1v1h-1zM14 5h1v1h-1zM18 5h1v1h-1zM26 5h1v1h-1zM28 5h1v1h-1zM32 5h3v1h-3zM39 5h4v1h-4zM56 5h1v1h-1zM63 5h1v1h-1zM4 6h1v1h-1zM8 6h1v1h-1zM14 6h1v1h-1zM27 6h2v1h-2zM37 6h1v1h-1zM39 6h1v1h-1zM59 6h1v1h-1zM4 7h2v1h-2zM21 7h1v1h-1zM26 7h1v1h-1zM28 7h1v1h-1zM31 7h1v1h-1zM38 7h1v1h-1zM44 7h1v1h-1zM51 7h2v1h-2zM55 7h1v1h-1zM59 7h2v1h-2zM5 8h1v1h-1zM12 8h2v1h-2zM21 8h1v1h-1zM27 8h2v1h-2zM39 8h2v1h-2zM47 8h2v1h-2zM50 8h1v1h-1zM53 8h2v1h-2zM57 8h1v1h-1zM59 8h4v1h-4zM0 9h1v1h-1zM5 9h1v1h-1zM10 9h1v1h-1zM14 9h1v1h-1zM18 9h1v1h-1zM39 9h1v1h-1zM45 9h1v1h-1zM48 9h1v1h-1zM50 9h1v1h-1zM59 9h1v1h-1zM62 9h1v1h-1zM15 10h2v1h-2zM34 10h1v1h-1zM49 10h1v1h-1zM52 10h1v1h-1zM54 10h2v1h-2zM62 10h1v1h-1zM0 11h1v1h-1zM13 11h2v1h-2zM22 11h1v1h-1zM33 11h1v1h-1zM35 11h1v1h-1zM39 11h1v1h-1zM43 11h1v1h-1zM48 11h1v1h-1zM53 11h2v1h-2zM61 11h3v1h-3zM6 12h1v1h-1zM11 12h7v1h-7zM34 12h3v1h-3zM40 12h1v1h-1zM46 12h2v1h-2zM49 12h1v1h-1zM51 12h1v1h-1zM55 12h1v1h-1zM60 12h1v1h-1zM62 12h2v1h-2zM3 13h1v1h-1zM6 13h1v1h-1zM12 13h1v1h-1zM17 13h2v1h-2zM28 13h1v1h-1zM34 13h1v1h-1zM42 13h6v1h-6zM55 13h1v1h-1zM58 13h2v1h-2zM25 14h3v1h-3zM37 14h1v1h-1zM41 14h2v1h-2zM47 14h3v1h-3zM56 14h1v1h-1zM1 15h1v1h-1zM12 15h1v1h-1zM16 15h1v1h-1zM33 15h1v1h-1zM37 15h1v1h-1zM41 15h2v1h-2zM47 15h3v1h-3zM61 15h1v1h-1zM12 16h1v1h-1zM15 16h1v1h-1zM20 16h1v1h-1zM41 16h2v1h-2zM48 16h1v1h-1zM2 17h1v1h-1zM12 17h1v1h-1zM21 17h1v1h-1zM29 17h1v1h-1zM54 17h1v1h-1zM60 17h1v1h-1zM1 18h2v1h-2zM8 18h1v1h-1zM12 18h1v1h-1zM14 18h1v1h-1zM28 18h1v1h-1zM30 18h2v1h-2zM35 18h1v1h-1zM40 18h1v1h-1zM54 18h1v1h-1zM62 18h1v1h-1zM0 19h1v1h-1zM15 19h1v1h-1zM17 19h3v1h-3zM22 19h1v1h-1zM33 19h2v1h-2zM40 19h1v1h-1zM45 19h2v1h-2zM48 19h1v1h-1zM4 20h1v1h-1zM7 20h1v1h-1zM13 20h1v1h-1zM22 20h2v1h-2zM40 20h1v1h-1zM50 20h1v1h-1zM55 20h1v1h-1zM62 20h2v1h-2zM7 21h1v1h-1zM9 21h3v1h-3zM13 21h1v1h-1zM16 21h1v1h-1zM20 21h1v1h-1zM39 21h1v1h-1zM51 21h1v1h-1zM55 21h1v1h-1zM61 21h1v1h-1zM6 22h1v1h-1zM8 22h1v1h-1zM11 22h1v1h-1zM17 22h1v1h-1zM20 22h1v1h-1zM24 22h1v1h-1zM26 22h1v1h-1zM28 22h1v1h-1zM34 22h2v1h-2zM37 22h1v1h-1zM46 22h1v1h-1zM51 22h1v1h-1zM53 22h1v1h-1zM57 22h1v1h-1zM5 23h3v1h-3zM17 23h1v1h-1zM20 23h2v1h-2zM25 23h1v1h-1zM30 23h1v1h-1zM34 23h3v1h-3zM41 23h2v1h-2zM45 23h2v1h-2zM51 23h1v1h-1zM54 23h1v1h-1zM4 24h2v1h-2zM7 24h1v1h-1zM18 24h1v1h-1zM25 24h1v1h-1zM35 24h1v1h-1zM42 24h2v1h-2zM46 24h1v1h-1zM58 24h1v1h-1zM63 24h1v1h-1zM0 25h2v1h-2zM14 25h3v1h-3zM18 25h1v1h-1zM20 25h1v1h-1zM22 25h1v1h-1zM24 25h2v1h-2zM29 25h1v1h-1zM34 25h1v1h-1zM38 25h1v1h-1zM43 25h4v1h-4zM53 25h1v1h-1zM2 26h1v1h-1zM17 26h1v1h-1zM20 26h2v1h-2zM27 26h2v1h-2zM35 26h3v1h-3zM43 26h1v1h-1zM47 26h1v1h-1zM51 26h3v1h-3zM56 26h2v1h-2zM62 26h1v1h-1zM7 27h1v1h-1zM9 27h1v1h-1zM11 27h2v1h-2zM18 27h1v1h-1zM20 27h2v1h-2zM45 27h7v1h-7zM54 27h1v1h-1zM1 28h2v1h-2zM6 28h2v1h-2zM13 28h1v1h-1zM18 28h1v1h-1zM23 28h2v1h-2zM28 28h2v1h-2zM41 28h1v1h-1zM47 28h1v1h-1zM52 28h1v1h-1zM1 29h2v1h-2zM5 29h2v1h-2zM13 29h2v1h-2zM16 29h2v1h-2zM22 29h1v1h-1zM25 29h1v1h-1zM31 29h1v1h-1zM52 29h3v1h-3zM2 30h1v1h-1zM14 30h1v1h-1zM21 30h1v1h-1zM27 30h1v1h-1zM32 30h3v1h-3zM36 30h1v1h-1zM47 30h3v1h-3zM53 30h1v1h-1zM55 30h1v1h-1zM61 30h1v1h-1zM13 31h2v1h-2zM25 31h1v1h-1zM27 31h1v1h-1zM34 31h2v1h-2zM38 31h2v1h-2zM54 31h1v1h-1zM62 31h1v1h-1zM4 32h1v1h-1zM8 32h1v1h-1zM34 32h1v1h-1zM51 32h1v1h-1zM59 32h1v1h-1zM2 33h2v1h-2zM5 33h2v1h-2zM12 33h1v1h-1zM15 33h1v1h-1zM19 33h1v1h-1zM34 33h1v1h-1zM48 33h3v1h-3zM59 33h1v1h-1zM3 34h1v1h-1zM11 34h1v1h-1zM14 34h2v1h-2zM21 34h1v1h-1zM28 34h1v1h-1zM33 34h1v1h-1zM38 34h1v1h-1zM47 34h2v1h-2zM1 35h1v1h-1zM12 35h1v1h-1zM14 35h3v1h-3zM21 35h1v1h-1zM27 35h2v1h-2zM30 35h1v1h-1zM32 35h1v1h-1zM37 35h1v1h-1zM39 35h1v1h-1zM41 35h1v1h-1zM44 35h1v1h-1zM60 35h1v1h-1zM0 36h1v1h-1zM3 36h2v1h-2zM11 36h1v1h-1zM15 36h1v1h-1zM21 36h1v1h-1zM24 36h3v1h-3zM28 36h1v1h-1zM33 36h3v1h-3zM40 36h1v1h-1zM42 36h3v1h-3zM48 36h1v1h-1zM57 36h1v1h-1zM2 37h3v1h-3zM20 37h1v1h-1zM23 37h1v1h-1zM28 37h1v1h-1zM30 37h2v1h-2zM36 37h1v1h-1zM40 37h1v1h-1zM43 37h1v1h-1zM45 37h1v1h-1zM50 37h1v1h-1zM55 37h1v1h-1zM61 37h1v1h-1zM63 37h1v1h-1zM1 38h1v1h-1zM19 38h1v1h-1zM26 38h2v1h-2zM32 38h1v1h-1zM41 38h1v1h-1zM43 38h1v1h-1zM46 38h1v1h-1zM49 38h1v1h-1zM54 38h2v1h-2zM60 38h3v1h-3zM0 39h1v1h-1zM8 39h1v1h-1zM10 39h1v1h-1zM17 39h1v1h-1zM19 39h1v1h-1zM32 39h2v1h-2zM37 39h1v1h-1zM43 39h1v1h-1zM57 39h4v1h-4zM0 40h1v1h-1zM4 40h1v1h-1zM10 40h1v1h-1zM17 40h3v1h-3zM25 40h1v1h-1zM29 40h3v1h-3zM33 40h1v1h-1zM37 40h1v1h-1zM41 40h1v1h-1zM46 40h1v1h-1zM54 40h1v1h-1zM59 40h1v1h-1zM0 41h1v1h-1zM8 41h1v1h-1zM11 41h1v1h-1zM16 41h1v1h-1zM18 41h2v1h-2zM30 41h1v1h-1zM41 41h1v1h-1zM44 41h1v1h-1zM52 41h1v1h-1zM0 42h1v1h-1zM6 42h1v1h-1zM8 42h2v1h-2zM11 42h2v1h-2zM16 42h4v1h-4zM21 42h1v1h-1zM26 42h1v1h-1zM33 42h1v1h-1zM43 42h1v1h-1zM49 42h2v1h-2zM53 42h1v1h-1zM59 42h1v1h-1zM1 43h1v1h-1zM4 43h1v1h-1zM8 43h4v1h-4zM13 43h1v1h-1zM16 43h1v1h-1zM26 43h2v1h-2zM37 43h1v1h-1zM46 43h1v1h-1zM51 43h1v1h-1zM61 43h1v1h-1zM10 44h1v1h-1zM13 44h1v1h-1zM16 44h2v1h-2zM20 44h1v1h-1zM36 44h1v1h-1zM43 44h3v1h-3zM54 44h1v1h-1zM1 45h2v1h-2zM6 45h2v1h-2zM11 45h1v1h-1zM13 45h1v1h-1zM16 45h1v1h-1zM25 45h1v1h-1zM35 45h2v1h-2zM56 45h1v1h-1zM13 46h2v1h-2zM18 46h1v1h-1zM22 46h2v1h-2zM25 46h1v1h-1zM30 46h1v1h-1zM37 46h1v1h-1zM42 46h1v1h-1zM49 46h1v1h-1zM55 46h2v1h-2zM5 47h1v1h-1zM10 47h2v1h-2zM14 47h2v1h-2zM21 47h1v1h-1zM28 47h1v1h-1zM35 47h1v1h-1zM37 47h2v1h-2zM43 47h1v1h-1zM48 47h1v1h-1zM15 48h1v1h-1zM20 48h1v1h-1zM40 48h2v1h-2zM44 48h1v1h-1zM51 48h1v1h-1zM56 48h1v1h-1zM2 49h1v1h-1zM17 49h1v1h-1zM20 49h1v1h-1zM33 49h1v1h-1zM41 49h2v1h-2zM44 49h1v1h-1zM46 49h1v1h-1zM50 49h1v1h-1zM54 49h1v1h-1zM58 49h1v1h-1zM1 50h4v1h-4zM16 50h2v1h-2zM21 50h1v1h-1zM32 50h1v1h-1zM41 50h2v1h-2zM45 50h1v1h-1zM47 50h1v1h-1zM49 50h1v1h-1zM51 50h1v1h-1zM54 50h1v1h-1zM58 50h1v1h-1zM62 50h1v1h-1zM6 51h2v1h-2zM11 51h1v1h-1zM15 51h1v1h-1zM19 51h1v1h-1zM23 51h1v1h-1zM31 51h3v1h-3zM38 51h1v1h-1zM44 51h2v1h-2zM48 51h1v1h-1zM56 51h1v1h-1zM0 52h2v1h-2zM3 52h1v1h-1zM11 52h1v1h-1zM30 52h1v1h-1zM38 52h1v1h-1zM45 52h1v1h-1zM48 52h2v1h-2zM55 52h1v1h-1zM0 53h1v1h-1zM13 53h1v1h-1zM16 53h1v1h-1zM25 53h1v1h-1zM34 53h1v1h-1zM38 53h1v1h-1zM41 53h3v1h-3zM47 53h1v1h-1zM49 53h1v1h-1zM54 53h3v1h-3zM63 53h1v1h-1zM0 54h1v1h-1zM2 54h1v1h-1zM8 54h1v1h-1zM14 54h1v1h-1zM20 54h1v1h-1zM35 54h1v1h-1zM37 54h1v1h-1zM41 54h1v1h-1zM45 54h2v1h-2zM48 54h3v1h-3zM56 54h1v1h-1zM63 54h1v1h-1zM0 55h1v1h-1zM7 55h1v1h-1zM15 55h4v1h-4zM23 55h2v1h-2zM35 55h1v1h-1zM50 55h2v1h-2zM55 55h2v1h-2zM13 56h1v1h-1zM16 56h1v1h-1zM18 56h2v1h-2zM23 56h1v1h-1zM30 56h1v1h-1zM32 56h1v1h-1zM41 56h2v1h-2zM46 56h1v1h-1zM55 56h3v1h-3zM7 57h1v1h-1zM13 57h2v1h-2zM19 57h1v1h-1zM21 57h2v1h-2zM25 57h4v1h-4zM30 57h1v1h-1zM33 57h1v1h-1zM39 57h1v1h-1zM51 57h1v1h-1zM54 57h2v1h-2zM57 57h4v1h-4zM2 58h1v1h-1zM15 58h2v1h-2zM18 58h2v1h-2zM22 58h1v1h-1zM39 58h2v1h-2zM43 58h1v1h-1zM53 58h2v1h-2zM8 59h1v1h-1zM16 59h1v1h-1zM18 59h3v1h-3zM33 59h1v1h-1zM38 59h1v1h-1zM44 59h2v1h-2zM53 59h1v1h-1zM3 60h1v1h-1zM8 60h1v1h-1zM10 60h1v1h-1zM16 60h4v1h-4zM33 60h1v1h-1zM35 60h3v1h-3zM51 60h1v1h-1zM3 61h1v1h-1zM8 61h3v1h-3zM17 61h1v1h-1zM19 61h1v1h-1zM22 61h2v1h-2zM25 61h1v1h-1zM28 61h1v1h-1zM36 61h1v1h-1zM53 61h2v1h-2zM4 62h1v1h-1zM8 62h1v1h-1zM14 62h1v1h-1zM16 62h1v1h-1zM19 62h1v1h-1zM22 62h1v1h-1zM26 62h2v1h-2zM29 62h3v1h-3zM56 62h2v1h-2zM59 62h1v1h-1zM63 62h1v1h-1zM0 63h1v1h-1zM4 63h1v1h-1zM20 63h1v1h-1zM23 63h1v1h-1zM27 63h1v1h-1zM34 63h1v1h-1zM36 63h1v1h-1zM44 63h3v1h-3zM58 63h1v1h-1zM63 63h1v1h-1z"/><path fill="#78005a" d="M10 0h1v1h-1zM16 0h3v1h-3zM39 0h2v1h-2zM52 0h5v1h-5zM61 0h1v1h-1zM10 1h1v1h-1zM42 1h1v1h-1zM55 1h2v1h-2zM60 1h3v1h-3zM10 2h1v1h-1zM24 2h1v1h-1zM41 2h3v1h-3zM60 2h4v1h-4zM0 3h1v1h-1zM23 3h3v1h-3zM41 3h3v1h-3zM55 3h1v1h-1zM61 3h3v1h-3zM0 4h2v1h-2zM11 4h2v1h-2zM24 4h2v1h-2zM35 4h1v1h-1zM41 4h1v1h-1zM52 4h4v1h-4zM62 4h2v1h-2zM10 5h3v1h-3zM47 5h2v1h-2zM50 5h6v1h-6zM10 6h4v1h-4zM35 6h2v1h-2zM48 6h1v1h-1zM9 7h4v1h-4zM19 7h1v1h-1zM33 7h5v1h-5zM20 8h1v1h-1zM33 8h5v1h-5zM43 8h1v1h-1zM2 9h3v1h-3zM20 9h1v1h-1zM32 9h3v1h-3zM36 9h2v1h-2zM43 9h1v1h-1zM2 10h3v1h-3zM19 10h2v1h-2zM32 10h1v1h-1zM2 11h3v1h-3zM19 11h2v1h-2zM31 11h1v1h-1zM37 11h1v1h-1zM3 12h1v1h-1zM19 12h3v1h-3zM30 12h2v1h-2zM37 12h2v1h-2zM20 13h3v1h-3zM29 13h5v1h-5zM39 13h1v1h-1zM4 14h1v1h-1zM13 14h3v1h-3zM21 14h3v1h-3zM29 14h4v1h-4zM38 14h2v1h-2zM53 14h1v1h-1zM58 14h3v1h-3zM2 15h3v1h-3zM13 15h2v1h-2zM21 15h3v1h-3zM29 15h3v1h-3zM38 15h2v1h-2zM57 15h4v1h-4zM3 16h4v1h-4zM21 16h7v1h-7zM30 16h1v1h-1zM38 16h1v1h-1zM55 16h5v1h-5zM3 17h4v1h-4zM23 17h5v1h-5zM37 17h3v1h-3zM55 17h5v1h-5zM4 18h4v1h-4zM23 18h4v1h-4zM36 18h4v1h-4zM55 18h4v1h-4zM5 19h2v1h-2zM35 19h5v1h-5zM56 19h2v1h-2zM60 19h1v1h-1zM5 20h2v1h-2zM18 20h1v1h-1zM35 20h4v1h-4zM56 20h3v1h-3zM60 20h1v1h-1zM5 21h1v1h-1zM18 21h1v1h-1zM36 21h2v1h-2zM57 21h3v1h-3zM19 22h1v1h-1zM59 22h1v1h-1zM28 23h1v1h-1zM9 24h2v1h-2zM22 24h2v1h-2zM27 24h3v1h-3zM8 25h4v1h-4zM39 25h1v1h-1zM59 25h3v1h-3zM9 26h2v1h-2zM39 26h2v1h-2zM58 26h4v1h-4zM14 27h2v1h-2zM38 27h2v1h-2zM58 27h4v1h-4zM37 28h3v1h-3zM49 28h1v1h-1zM56 28h6v1h-6zM23 29h1v1h-1zM38 29h2v1h-2zM59 29h2v1h-2zM1 30h1v1h-1zM22 30h3v1h-3zM29 30h2v1h-2zM38 30h2v1h-2zM0 31h2v1h-2zM22 31h2v1h-2zM29 31h4v1h-4zM0 32h2v1h-2zM28 32h6v1h-6zM56 32h2v1h-2zM61 32h1v1h-1zM63 32h1v1h-1zM0 33h1v1h-1zM24 33h2v1h-2zM27 33h6v1h-6zM52 33h2v1h-2zM55 33h3v1h-3zM62 33h2v1h-2zM0 34h1v1h-1zM19 34h1v1h-1zM23 34h3v1h-3zM30 34h1v1h-1zM52 34h6v1h-6zM62 34h2v1h-2zM18 35h2v1h-2zM52 35h4v1h-4zM62 35h2v1h-2zM18 36h2v1h-2zM53 36h2v1h-2zM61 36h1v1h-1zM17 37h3v1h-3zM48 37h1v1h-1zM34 38h1v1h-1zM47 38h1v1h-1zM2 39h1v1h-1zM34 39h2v1h-2zM1 40h3v1h-3zM27 40h1v1h-1zM34 40h3v1h-3zM57 40h1v1h-1zM1 41h3v1h-3zM27 41h2v1h-2zM35 41h1v1h-1zM55 41h1v1h-1zM1 42h4v1h-4zM35 42h1v1h-1zM56 42h1v1h-1zM35 43h1v1h-1zM56 43h1v1h-1zM58 43h1v1h-1zM48 44h1v1h-1zM60 44h1v1h-1zM0 45h1v1h-1zM28 45h1v1h-1zM48 45h1v1h-1zM61 45h3v1h-3zM0 46h2v1h-2zM28 46h2v1h-2zM45 46h2v1h-2zM62 46h2v1h-2zM0 47h2v1h-2zM3 47h1v1h-1zM22 47h2v1h-2zM45 47h1v1h-1zM47 47h1v1h-1zM62 47h2v1h-2zM0 48h2v1h-2zM22 48h2v1h-2zM30 48h1v1h-1zM37 48h2v1h-2zM62 48h2v1h-2zM1 49h1v1h-1zM22 49h3v1h-3zM31 49h1v1h-1zM36 49h3v1h-3zM60 49h2v1h-2zM10 50h1v1h-1zM22 50h2v1h-2zM34 50h5v1h-5zM60 50h2v1h-2zM9 51h2v1h-2zM29 51h1v1h-1zM34 51h4v1h-4zM59 51h3v1h-3zM9 52h2v1h-2zM27 52h3v1h-3zM35 52h3v1h-3zM57 52h6v1h-6zM9 53h1v1h-1zM28 53h1v1h-1zM58 53h5v1h-5zM26 54h2v1h-2zM43 54h1v1h-1zM58 54h4v1h-4zM25 55h6v1h-6zM44 55h1v1h-1zM59 55h3v1h-3zM1 56h1v1h-1zM26 56h1v1h-1zM59 56h1v1h-1zM61 56h2v1h-2zM0 57h1v1h-1zM35 57h2v1h-2zM63 57h1v1h-1zM0 58h1v1h-1zM63 58h1v1h-1zM37 61h3v1h-3zM2 62h1v1h-1zM9 62h1v1h-1zM33 62h1v1h-1zM37 62h4v1h-4zM53 62h2v1h-2zM2 63h2v1h-2zM10 63h1v1h-1zM15 63h4v1h-4zM31 63h1v1h-1zM38 63h3v1h-3zM52 63h3v1h-3z"/></pattern>
<pattern id="tmp" width="64" height="64" patternUnits="userSpaceOnUse"><rect width="64" height="64" fill="rgb(120, 0, 90)"/><path fill="#ffff00" d="M40 0h2v1h-2zM34 2h1v1h-1zM4 3h3v1h-3zM4 4h2v1h-2zM32 15h2v1h-2zM35 17h1v1h-1zM45 23h1v1h-1zM36 24h1v1h-1zM49 24h1v1h-1zM49 25h1v1h-1zM57 25h3v1h-3zM58 26h3v1h-3zM34 34h2v1h-2zM35 35h1v1h-1zM41 35h1v1h-1zM25 40h3v1h-3zM16 41h2v1h-2zM26 41h1v1h-1zM17 42h2v1h-2zM60 45h1v1h-1zM59 46h2v1h-2zM60 47h1v1h-1zM38 48h1v1h-1zM46 48h1v1h-1zM4 57h1v1h-1zM41 63h1v1h-1z"/><path fill="#ff0000" d="M39 0h1v1h-1zM33 1h2v1h-2zM39 1h2v1h-2zM4 2h3v1h-3zM33 2h1v1h-1zM33 3h2v1h-2zM10 4h3v1h-3zM10 5h3v1h-3zM9 6h3v1h-3zM9 7h1v1h-1zM37 9h1v1h-1zM30 10h1v1h-1zM29 11h2v1h-2zM1 12h1v1h-1zM30 12h1v1h-1zM44 12h1v1h-1zM58 12h1v1h-1zM1 13h1v1h-1zM31 13h1v1h-1zM44 13h1v1h-1zM31 14h3v1h-3zM35 14h1v1h-1zM23 15h1v1h-1zM31 15h1v1h-1zM35 15h1v1h-1zM5 16h1v1h-1zM23 16h1v1h-1zM31 16h3v1h-3zM35 16h1v1h-1zM4 17h1v1h-1zM23 17h1v1h-1zM32 17h1v1h-1zM34 17h1v1h-1zM36 17h1v1h-1zM35 18h2v1h-2zM40 18h2v1h-2zM40 19h2v1h-2zM45 22h1v1h-1zM49 22h2v1h-2zM35 23h2v1h-2zM44 23h1v1h-1zM46 23h1v1h-1zM48 23h3v1h-3zM56 23h1v1h-1zM10 24h2v1h-2zM35 24h1v1h-1zM37 24h1v1h-1zM48 24h1v1h-1zM50 24h1v1h-1zM57 24h2v1h-2zM9 25h4v1h-4zM21 25h1v1h-1zM37 25h1v1h-1zM50 25h1v1h-1zM56 25h1v1h-1zM60 25h1v1h-1zM10 26h3v1h-3zM20 26h1v1h-1zM49 26h2v1h-2zM57 26h1v1h-1zM61 26h1v1h-1zM12 27h1v1h-1zM49 27h2v1h-2zM16 29h1v1h-1zM16 30h1v1h-1zM36 30h2v1h-2zM21 31h1v1h-1zM36 31h2v1h-2zM2 33h1v1h-1zM34 33h3v1h-3zM1 34h1v1h-1zM10 34h2v1h-2zM36 34h1v1h-1zM34 35h1v1h-1zM40 35h1v1h-1zM3 37h2v1h-2zM27 39h1v1h-1zM11 41h1v1h-1zM18 41h1v1h-1zM27 41h1v1h-1zM15 42h2v1h-2zM17 43h2v1h-2zM40 43h1v1h-1zM41 44h1v1h-1zM60 44h1v1h-1zM40 45h2v1h-2zM59 45h1v1h-1zM20 47h1v1h-1zM46 47h1v1h-1zM39 48h1v1h-1zM47 48h1v1h-1zM60 48h1v1h-1zM38 49h2v1h-2zM46 49h1v1h-1zM59 49h2v1h-2zM5 56h1v1h-1zM52 56h2v1h-2zM0 57h3v1h-3zM5 57h1v1h-1zM20 57h1v1h-1zM41 57h1v1h-1zM50 57h3v1h-3zM4 58h1v1h-1zM21 58h1v1h-1zM40 58h2v1h-2zM49 58h3v1h-3zM51 59h1v1h-1zM9 60h1v1h-1zM8 61h2v1h-2zM9 62h1v1h-1zM21 62h1v1h-1zM40 63h1v1h-1z"/><path fill="#ba55d3" d="M38 0h1v1h-1zM5 1h2v1h-2zM41 1h1v1h-1zM0 2h1v1h-1zM3 2h1v1h-1zM35 2h1v1h-1zM45 2h2v1h-2zM55 2h1v1h-1zM0 3h2v1h-2zM3 3h1v1h-1zM10 3h3v1h-3zM17 3h1v1h-1zM35 3h1v1h-1zM62 3h2v1h-2zM6 4h1v1h-1zM9 4h1v1h-1zM13 4h1v1h-1zM19 4h2v1h-2zM48 4h2v1h-2zM54 4h1v1h-1zM60 4h4v1h-4zM5 5h1v1h-1zM9 5h1v1h-1zM13 5h1v1h-1zM20 5h1v1h-1zM48 5h3v1h-3zM60 5h1v1h-1zM12 6h3v1h-3zM31 6h2v1h-2zM10 7h4v1h-4zM31 7h1v1h-1zM2 8h1v1h-1zM10 8h3v1h-3zM31 8h2v1h-2zM37 8h3v1h-3zM11 9h2v1h-2zM30 9h2v1h-2zM36 9h1v1h-1zM38 9h1v1h-1zM62 9h1v1h-1zM1 10h1v1h-1zM21 10h1v1h-1zM28 10h2v1h-2zM31 10h1v1h-1zM36 10h2v1h-2zM61 10h2v1h-2zM1 11h1v1h-1zM21 11h1v1h-1zM28 11h1v1h-1zM31 11h1v1h-1zM44 11h1v1h-1zM57 11h2v1h-2zM2 12h1v1h-1zM22 12h1v1h-1zM29 12h1v1h-1zM31 12h1v1h-1zM43 12h1v1h-1zM52 12h1v1h-1zM57 12h1v1h-1zM59 12h1v1h-1zM0 13h1v1h-1zM2 13h1v1h-1zM22 13h2v1h-2zM30 13h1v1h-1zM32 13h2v1h-2zM35 13h1v1h-1zM43 13h1v1h-1zM45 13h1v1h-1zM56 13h3v1h-3zM0 14h3v1h-3zM17 14h2v1h-2zM22 14h2v1h-2zM30 14h1v1h-1zM34 14h1v1h-1zM56 14h4v1h-4zM4 15h2v1h-2zM21 15h2v1h-2zM30 15h1v1h-1zM34 15h1v1h-1zM54 15h2v1h-2zM61 15h2v1h-2zM3 16h2v1h-2zM6 16h1v1h-1zM22 16h1v1h-1zM24 16h1v1h-1zM29 16h2v1h-2zM34 16h1v1h-1zM36 16h1v1h-1zM40 16h2v1h-2zM54 16h1v1h-1zM62 16h1v1h-1zM1 17h3v1h-3zM5 17h4v1h-4zM22 17h1v1h-1zM31 17h1v1h-1zM39 17h3v1h-3zM50 17h1v1h-1zM57 17h1v1h-1zM61 17h2v1h-2zM2 18h3v1h-3zM6 18h2v1h-2zM23 18h2v1h-2zM34 18h1v1h-1zM37 18h3v1h-3zM59 18h3v1h-3zM3 19h1v1h-1zM23 19h2v1h-2zM34 19h4v1h-4zM39 19h1v1h-1zM42 19h1v1h-1zM59 19h3v1h-3zM63 19h1v1h-1zM23 20h1v1h-1zM39 20h3v1h-3zM58 20h1v1h-1zM60 20h3v1h-3zM23 21h1v1h-1zM48 21h2v1h-2zM62 21h2v1h-2zM30 22h1v1h-1zM36 22h1v1h-1zM44 22h1v1h-1zM46 22h3v1h-3zM51 22h1v1h-1zM56 22h2v1h-2zM62 22h1v1h-1zM9 23h3v1h-3zM30 23h1v1h-1zM37 23h1v1h-1zM43 23h1v1h-1zM47 23h1v1h-1zM57 23h1v1h-1zM9 24h1v1h-1zM12 24h1v1h-1zM21 24h1v1h-1zM38 24h1v1h-1zM44 24h4v1h-4zM51 24h1v1h-1zM56 24h1v1h-1zM59 24h1v1h-1zM63 24h1v1h-1zM13 25h1v1h-1zM20 25h1v1h-1zM22 25h1v1h-1zM35 25h2v1h-2zM42 25h1v1h-1zM44 25h1v1h-1zM48 25h1v1h-1zM51 25h1v1h-1zM61 25h1v1h-1zM9 26h1v1h-1zM13 26h1v1h-1zM18 26h2v1h-2zM21 26h1v1h-1zM29 26h1v1h-1zM48 26h1v1h-1zM51 26h1v1h-1zM56 26h1v1h-1zM62 26h1v1h-1zM9 27h3v1h-3zM13 27h1v1h-1zM18 27h1v1h-1zM44 27h1v1h-1zM48 27h1v1h-1zM60 27h3v1h-3zM12 28h1v1h-1zM16 28h1v1h-1zM43 28h2v1h-2zM48 28h3v1h-3zM15 29h1v1h-1zM17 29h1v1h-1zM36 29h2v1h-2zM43 29h1v1h-1zM3 30h2v1h-2zM15 30h1v1h-1zM17 30h1v1h-1zM21 30h1v1h-1zM42 30h1v1h-1zM2 31h4v1h-4zM16 31h1v1h-1zM19 31h2v1h-2zM1 32h2v1h-2zM19 32h3v1h-3zM35 32h2v1h-2zM0 33h2v1h-2zM10 33h2v1h-2zM0 34h1v1h-1zM2 34h1v1h-1zM12 34h1v1h-1zM33 34h1v1h-1zM37 34h1v1h-1zM40 34h2v1h-2zM1 35h2v1h-2zM9 35h2v1h-2zM33 35h1v1h-1zM36 35h2v1h-2zM39 35h1v1h-1zM2 36h2v1h-2zM5 36h1v1h-1zM35 36h1v1h-1zM40 36h3v1h-3zM51 36h3v1h-3zM2 37h1v1h-1zM5 37h1v1h-1zM40 37h1v1h-1zM53 37h1v1h-1zM60 37h2v1h-2zM2 38h1v1h-1zM6 38h1v1h-1zM29 38h2v1h-2zM61 38h1v1h-1zM25 39h2v1h-2zM28 39h1v1h-1zM11 40h2v1h-2zM20 40h1v1h-1zM28 40h1v1h-1zM10 41h1v1h-1zM12 41h4v1h-4zM19 41h2v1h-2zM25 41h1v1h-1zM28 41h1v1h-1zM11 42h1v1h-1zM14 42h1v1h-1zM19 42h2v1h-2zM26 42h2v1h-2zM57 42h2v1h-2zM19 43h1v1h-1zM41 43h3v1h-3zM58 43h2v1h-2zM18 44h2v1h-2zM40 44h1v1h-1zM42 44h1v1h-1zM58 44h2v1h-2zM61 44h1v1h-1zM18 45h3v1h-3zM23 45h2v1h-2zM29 45h1v1h-1zM42 45h1v1h-1zM57 45h2v1h-2zM61 45h1v1h-1zM19 46h3v1h-3zM24 46h1v1h-1zM40 46h1v1h-1zM44 46h4v1h-4zM58 46h1v1h-1zM61 46h1v1h-1zM19 47h1v1h-1zM39 47h1v1h-1zM45 47h1v1h-1zM47 47h1v1h-1zM59 47h1v1h-1zM61 47h1v1h-1zM4 48h1v1h-1zM19 48h2v1h-2zM37 48h1v1h-1zM45 48h1v1h-1zM59 48h1v1h-1zM5 49h1v1h-1zM18 49h1v1h-1zM20 49h1v1h-1zM37 49h1v1h-1zM47 49h1v1h-1zM7 50h2v1h-2zM18 50h2v1h-2zM23 50h1v1h-1zM38 50h3v1h-3zM58 50h3v1h-3zM23 51h2v1h-2zM40 51h2v1h-2zM46 51h1v1h-1zM24 52h2v1h-2zM45 52h2v1h-2zM18 53h1v1h-1zM45 53h1v1h-1zM53 53h1v1h-1zM52 54h3v1h-3zM5 55h1v1h-1zM51 55h4v1h-4zM0 56h5v1h-5zM6 56h1v1h-1zM40 56h3v1h-3zM49 56h3v1h-3zM3 57h1v1h-1zM6 57h1v1h-1zM21 57h3v1h-3zM40 57h1v1h-1zM42 57h1v1h-1zM49 57h1v1h-1zM53 57h1v1h-1zM61 57h1v1h-1zM63 57h1v1h-1zM0 58h2v1h-2zM3 58h1v1h-1zM5 58h1v1h-1zM20 58h1v1h-1zM22 58h1v1h-1zM52 58h2v1h-2zM60 58h4v1h-4zM4 59h2v1h-2zM9 59h1v1h-1zM11 59h1v1h-1zM39 59h1v1h-1zM50 59h1v1h-1zM61 59h2v1h-2zM7 60h2v1h-2zM10 60h1v1h-1zM38 60h1v1h-1zM7 61h1v1h-1zM11 61h1v1h-1zM21 61h2v1h-2zM54 61h1v1h-1zM8 62h1v1h-1zM10 62h1v1h-1zM20 62h1v1h-1zM22 62h1v1h-1zM8 63h1v1h-1zM39 63h1v1h-1zM47 63h1v1h-1z"/><path fill="#9400d3" d="M6 0h5v1h-5zM16 0h3v1h-3zM33 0h1v1h-1zM42 0h1v1h-1zM47 0h1v1h-1zM54 0h1v1h-1zM62 0h1v1h-1zM0 1h5v1h-5zM7 1h1v1h-1zM15 1h4v1h-4zM32 1h1v1h-1zM38 1h1v1h-1zM42 1h1v1h-1zM45 1h1v1h-1zM47 1h1v1h-1zM55 1h2v1h-2zM1 2h2v1h-2zM7 2h1v1h-1zM10 2h2v1h-2zM16 2h4v1h-4zM22 2h1v1h-1zM32 2h1v1h-1zM39 2h3v1h-3zM43 2h2v1h-2zM47 2h1v1h-1zM56 2h1v1h-1zM62 2h2v1h-2zM2 3h1v1h-1zM7 3h1v1h-1zM9 3h1v1h-1zM13 3h4v1h-4zM18 3h4v1h-4zM32 3h1v1h-1zM36 3h1v1h-1zM43 3h5v1h-5zM55 3h2v1h-2zM60 3h2v1h-2zM0 4h2v1h-2zM3 4h1v1h-1zM14 4h4v1h-4zM21 4h2v1h-2zM32 4h3v1h-3zM43 4h3v1h-3zM47 4h1v1h-1zM50 4h1v1h-1zM55 4h2v1h-2zM58 4h2v1h-2zM0 5h1v1h-1zM4 5h1v1h-1zM6 5h1v1h-1zM14 5h2v1h-2zM18 5h2v1h-2zM21 5h1v1h-1zM28 5h5v1h-5zM43 5h1v1h-1zM54 5h2v1h-2zM59 5h1v1h-1zM61 5h1v1h-1zM63 5h1v1h-1zM0 6h3v1h-3zM6 6h3v1h-3zM15 6h1v1h-1zM18 6h1v1h-1zM24 6h1v1h-1zM30 6h1v1h-1zM33 6h1v1h-1zM42 6h1v1h-1zM49 6h1v1h-1zM59 6h3v1h-3zM0 7h3v1h-3zM7 7h2v1h-2zM14 7h2v1h-2zM18 7h1v1h-1zM30 7h1v1h-1zM32 7h2v1h-2zM38 7h5v1h-5zM49 7h1v1h-1zM60 7h4v1h-4zM3 8h1v1h-1zM9 8h1v1h-1zM13 8h3v1h-3zM30 8h1v1h-1zM35 8h2v1h-2zM40 8h2v1h-2zM47 8h1v1h-1zM61 8h3v1h-3zM0 9h1v1h-1zM2 9h3v1h-3zM10 9h1v1h-1zM13 9h3v1h-3zM19 9h1v1h-1zM28 9h2v1h-2zM32 9h1v1h-1zM35 9h1v1h-1zM39 9h1v1h-1zM46 9h3v1h-3zM61 9h1v1h-1zM63 9h1v1h-1zM0 10h1v1h-1zM2 10h3v1h-3zM11 10h10v1h-10zM22 10h1v1h-1zM32 10h1v1h-1zM35 10h1v1h-1zM38 10h1v1h-1zM46 10h1v1h-1zM56 10h2v1h-2zM60 10h1v1h-1zM63 10h1v1h-1zM0 11h1v1h-1zM2 11h4v1h-4zM12 11h1v1h-1zM15 11h1v1h-1zM17 11h4v1h-4zM22 11h1v1h-1zM35 11h1v1h-1zM38 11h1v1h-1zM43 11h1v1h-1zM45 11h1v1h-1zM52 11h1v1h-1zM56 11h1v1h-1zM59 11h3v1h-3zM0 12h1v1h-1zM3 12h1v1h-1zM7 12h5v1h-5zM20 12h2v1h-2zM23 12h1v1h-1zM28 12h1v1h-1zM32 12h1v1h-1zM34 12h1v1h-1zM45 12h1v1h-1zM51 12h1v1h-1zM53 12h1v1h-1zM56 12h1v1h-1zM60 12h2v1h-2zM63 12h1v1h-1zM3 13h1v1h-1zM8 13h3v1h-3zM17 13h1v1h-1zM20 13h2v1h-2zM29 13h1v1h-1zM34 13h1v1h-1zM36 13h1v1h-1zM40 13h3v1h-3zM51 13h4v1h-4zM59 13h2v1h-2zM62 13h2v1h-2zM3 14h2v1h-2zM8 14h3v1h-3zM12 14h1v1h-1zM16 14h1v1h-1zM21 14h1v1h-1zM24 14h1v1h-1zM29 14h1v1h-1zM36 14h1v1h-1zM40 14h1v1h-1zM42 14h4v1h-4zM52 14h4v1h-4zM60 14h4v1h-4zM0 15h4v1h-4zM6 15h6v1h-6zM16 15h2v1h-2zM24 15h1v1h-1zM29 15h1v1h-1zM36 15h1v1h-1zM39 15h3v1h-3zM43 15h4v1h-4zM53 15h1v1h-1zM56 15h2v1h-2zM59 15h2v1h-2zM63 15h1v1h-1zM1 16h2v1h-2zM7 16h2v1h-2zM21 16h1v1h-1zM28 16h1v1h-1zM37 16h3v1h-3zM45 16h3v1h-3zM49 16h5v1h-5zM55 16h1v1h-1zM59 16h1v1h-1zM61 16h1v1h-1zM63 16h1v1h-1zM0 17h1v1h-1zM9 17h1v1h-1zM21 17h1v1h-1zM24 17h2v1h-2zM30 17h1v1h-1zM33 17h1v1h-1zM37 17h2v1h-2zM42 17h1v1h-1zM46 17h4v1h-4zM51 17h1v1h-1zM53 17h1v1h-1zM55 17h2v1h-2zM59 17h2v1h-2zM63 17h1v1h-1zM0 18h2v1h-2zM5 18h1v1h-1zM8 18h2v1h-2zM22 18h1v1h-1zM25 18h1v1h-1zM31 18h3v1h-3zM42 18h1v1h-1zM47 18h2v1h-2zM50 18h2v1h-2zM57 18h2v1h-2zM62 18h2v1h-2zM0 19h1v1h-1zM2 19h1v1h-1zM4 19h1v1h-1zM22 19h1v1h-1zM25 19h1v1h-1zM33 19h1v1h-1zM38 19h1v1h-1zM56 19h3v1h-3zM62 19h1v1h-1zM15 20h1v1h-1zM24 20h2v1h-2zM33 20h6v1h-6zM42 20h1v1h-1zM48 20h1v1h-1zM51 20h1v1h-1zM57 20h1v1h-1zM59 20h1v1h-1zM63 20h1v1h-1zM9 21h1v1h-1zM22 21h1v1h-1zM24 21h1v1h-1zM27 21h4v1h-4zM32 21h10v1h-10zM44 21h4v1h-4zM50 21h3v1h-3zM56 21h6v1h-6zM0 22h1v1h-1zM8 22h3v1h-3zM19 22h1v1h-1zM23 22h2v1h-2zM28 22h2v1h-2zM31 22h1v1h-1zM34 22h2v1h-2zM37 22h2v1h-2zM55 22h1v1h-1zM58 22h1v1h-1zM61 22h1v1h-1zM63 22h1v1h-1zM0 23h1v1h-1zM12 23h1v1h-1zM20 23h1v1h-1zM22 23h2v1h-2zM28 23h2v1h-2zM31 23h1v1h-1zM33 23h2v1h-2zM38 23h1v1h-1zM51 23h2v1h-2zM55 23h1v1h-1zM58 23h2v1h-2zM61 23h3v1h-3zM0 24h1v1h-1zM8 24h1v1h-1zM13 24h1v1h-1zM20 24h1v1h-1zM28 24h4v1h-4zM34 24h1v1h-1zM39 24h1v1h-1zM43 24h1v1h-1zM55 24h1v1h-1zM60 24h3v1h-3zM8 25h1v1h-1zM29 25h3v1h-3zM38 25h1v1h-1zM40 25h2v1h-2zM43 25h1v1h-1zM45 25h3v1h-3zM55 25h1v1h-1zM62 25h2v1h-2zM8 26h1v1h-1zM14 26h1v1h-1zM17 26h1v1h-1zM22 26h1v1h-1zM30 26h1v1h-1zM36 26h2v1h-2zM39 26h1v1h-1zM42 26h4v1h-4zM47 26h1v1h-1zM55 26h1v1h-1zM63 26h1v1h-1zM16 27h2v1h-2zM19 27h3v1h-3zM29 27h1v1h-1zM42 27h2v1h-2zM45 27h3v1h-3zM51 27h1v1h-1zM56 27h4v1h-4zM5 28h1v1h-1zM11 28h1v1h-1zM13 28h3v1h-3zM17 28h1v1h-1zM28 28h1v1h-1zM42 28h1v1h-1zM45 28h3v1h-3zM60 28h3v1h-3zM2 29h5v1h-5zM8 29h1v1h-1zM13 29h2v1h-2zM18 29h1v1h-1zM20 29h1v1h-1zM28 29h1v1h-1zM38 29h1v1h-1zM42 29h1v1h-1zM44 29h3v1h-3zM49 29h2v1h-2zM1 30h2v1h-2zM5 30h1v1h-1zM14 30h1v1h-1zM18 30h3v1h-3zM22 30h1v1h-1zM35 30h1v1h-1zM38 30h1v1h-1zM43 30h4v1h-4zM54 30h3v1h-3zM0 31h2v1h-2zM7 31h3v1h-3zM15 31h1v1h-1zM17 31h1v1h-1zM22 31h1v1h-1zM29 31h1v1h-1zM32 31h1v1h-1zM35 31h1v1h-1zM42 31h2v1h-2zM55 31h1v1h-1zM0 32h1v1h-1zM3 32h2v1h-2zM8 32h4v1h-4zM22 32h1v1h-1zM28 32h3v1h-3zM33 32h2v1h-2zM37 32h1v1h-1zM42 32h2v1h-2zM48 32h2v1h-2zM3 33h1v1h-1zM8 33h2v1h-2zM12 33h2v1h-2zM20 33h2v1h-2zM28 33h2v1h-2zM33 33h1v1h-1zM37 33h1v1h-1zM41 33h3v1h-3zM47 33h4v1h-4zM56 33h1v1h-1zM3 34h1v1h-1zM9 34h1v1h-1zM13 34h2v1h-2zM21 34h1v1h-1zM28 34h2v1h-2zM38 34h2v1h-2zM42 34h2v1h-2zM50 34h2v1h-2zM54 34h2v1h-2zM0 35h1v1h-1zM3 35h3v1h-3zM11 35h1v1h-1zM14 35h2v1h-2zM21 35h2v1h-2zM32 35h1v1h-1zM38 35h1v1h-1zM42 35h4v1h-4zM51 35h4v1h-4zM56 35h5v1h-5zM62 35h1v1h-1zM4 36h1v1h-1zM6 36h2v1h-2zM9 36h2v1h-2zM15 36h3v1h-3zM20 36h2v1h-2zM32 36h3v1h-3zM36 36h1v1h-1zM39 36h1v1h-1zM43 36h3v1h-3zM54 36h1v1h-1zM58 36h5v1h-5zM1 37h1v1h-1zM6 37h1v1h-1zM9 37h1v1h-1zM30 37h3v1h-3zM39 37h1v1h-1zM41 37h1v1h-1zM45 37h1v1h-1zM50 37h3v1h-3zM62 37h1v1h-1zM0 38h2v1h-2zM3 38h3v1h-3zM7 38h3v1h-3zM25 38h4v1h-4zM31 38h1v1h-1zM39 38h2v1h-2zM62 38h1v1h-1zM0 39h7v1h-7zM10 39h2v1h-2zM20 39h1v1h-1zM24 39h1v1h-1zM29 39h3v1h-3zM39 39h2v1h-2zM62 39h2v1h-2zM0 40h4v1h-4zM10 40h1v1h-1zM13 40h7v1h-7zM21 40h1v1h-1zM24 40h1v1h-1zM29 40h1v1h-1zM44 40h1v1h-1zM63 40h1v1h-1zM3 41h3v1h-3zM21 41h2v1h-2zM32 41h1v1h-1zM39 41h1v1h-1zM43 41h1v1h-1zM45 41h1v1h-1zM48 41h2v1h-2zM58 41h1v1h-1zM2 42h3v1h-3zM12 42h2v1h-2zM21 42h1v1h-1zM25 42h1v1h-1zM32 42h2v1h-2zM38 42h6v1h-6zM48 42h3v1h-3zM59 42h1v1h-1zM3 43h2v1h-2zM11 43h1v1h-1zM15 43h2v1h-2zM20 43h1v1h-1zM22 43h1v1h-1zM27 43h1v1h-1zM32 43h1v1h-1zM39 43h1v1h-1zM48 43h2v1h-2zM57 43h1v1h-1zM60 43h1v1h-1zM10 44h1v1h-1zM16 44h2v1h-2zM20 44h5v1h-5zM27 44h3v1h-3zM39 44h1v1h-1zM43 44h3v1h-3zM57 44h1v1h-1zM16 45h2v1h-2zM21 45h2v1h-2zM25 45h1v1h-1zM28 45h1v1h-1zM30 45h1v1h-1zM39 45h1v1h-1zM43 45h4v1h-4zM51 45h1v1h-1zM56 45h1v1h-1zM62 45h2v1h-2zM0 46h1v1h-1zM17 46h2v1h-2zM23 46h1v1h-1zM25 46h1v1h-1zM29 46h1v1h-1zM32 46h2v1h-2zM39 46h1v1h-1zM41 46h3v1h-3zM51 46h2v1h-2zM56 46h2v1h-2zM62 46h2v1h-2zM17 47h2v1h-2zM21 47h2v1h-2zM37 47h2v1h-2zM40 47h3v1h-3zM48 47h1v1h-1zM53 47h1v1h-1zM55 47h2v1h-2zM58 47h1v1h-1zM5 48h1v1h-1zM17 48h2v1h-2zM21 48h1v1h-1zM33 48h1v1h-1zM40 48h1v1h-1zM48 48h1v1h-1zM58 48h1v1h-1zM61 48h1v1h-1zM3 49h2v1h-2zM6 49h3v1h-3zM17 49h1v1h-1zM19 49h1v1h-1zM21 49h1v1h-1zM23 49h1v1h-1zM40 49h1v1h-1zM57 49h2v1h-2zM61 49h1v1h-1zM3 50h4v1h-4zM9 50h1v1h-1zM17 50h1v1h-1zM20 50h3v1h-3zM24 50h2v1h-2zM37 50h1v1h-1zM41 50h1v1h-1zM46 50h2v1h-2zM3 51h1v1h-1zM5 51h1v1h-1zM7 51h3v1h-3zM16 51h7v1h-7zM25 51h2v1h-2zM38 51h2v1h-2zM47 51h1v1h-1zM58 51h1v1h-1zM5 52h3v1h-3zM11 52h1v1h-1zM16 52h6v1h-6zM23 52h1v1h-1zM26 52h1v1h-1zM40 52h3v1h-3zM49 52h4v1h-4zM5 53h2v1h-2zM15 53h3v1h-3zM19 53h1v1h-1zM24 53h2v1h-2zM36 53h1v1h-1zM44 53h1v1h-1zM46 53h1v1h-1zM49 53h4v1h-4zM54 53h1v1h-1zM5 54h3v1h-3zM11 54h3v1h-3zM15 54h1v1h-1zM17 54h3v1h-3zM42 54h1v1h-1zM44 54h3v1h-3zM48 54h4v1h-4zM58 54h2v1h-2zM1 55h1v1h-1zM4 55h1v1h-1zM6 55h2v1h-2zM11 55h2v1h-2zM19 55h1v1h-1zM29 55h3v1h-3zM41 55h5v1h-5zM47 55h4v1h-4zM58 55h3v1h-3zM7 56h1v1h-1zM11 56h2v1h-2zM20 56h3v1h-3zM30 56h2v1h-2zM43 56h2v1h-2zM59 56h4v1h-4zM7 57h1v1h-1zM10 57h3v1h-3zM19 57h1v1h-1zM45 57h1v1h-1zM48 57h1v1h-1zM54 57h1v1h-1zM60 57h1v1h-1zM62 57h1v1h-1zM2 58h1v1h-1zM6 58h2v1h-2zM9 58h4v1h-4zM17 58h3v1h-3zM23 58h1v1h-1zM39 58h1v1h-1zM42 58h2v1h-2zM48 58h1v1h-1zM54 58h3v1h-3zM0 59h1v1h-1zM2 59h2v1h-2zM6 59h3v1h-3zM10 59h1v1h-1zM12 59h11v1h-11zM31 59h1v1h-1zM37 59h2v1h-2zM40 59h3v1h-3zM49 59h1v1h-1zM52 59h5v1h-5zM60 59h1v1h-1zM63 59h1v1h-1zM3 60h4v1h-4zM11 60h2v1h-2zM15 60h3v1h-3zM21 60h2v1h-2zM31 60h1v1h-1zM39 60h1v1h-1zM50 60h7v1h-7zM61 60h2v1h-2zM6 61h1v1h-1zM10 61h1v1h-1zM16 61h2v1h-2zM20 61h1v1h-1zM23 61h3v1h-3zM27 61h1v1h-1zM38 61h1v1h-1zM53 61h1v1h-1zM55 61h3v1h-3zM7 62h1v1h-1zM11 62h1v1h-1zM18 62h2v1h-2zM23 62h1v1h-1zM25 62h4v1h-4zM39 62h4v1h-4zM46 62h2v1h-2zM53 62h6v1h-6zM7 63h1v1h-1zM9 63h2v1h-2zM17 63h1v1h-1zM20 63h1v1h-1zM42 63h1v1h-1zM46 63h1v1h-1zM48 63h1v1h-1zM53 63h4v1h-4zM60 63h1v1h-1z"/></pattern>
<pattern id="tfs" width="64" height="64" patternUnits="userSpaceOnUse"><rect width="64" height="64" fill="rgb(0, 0, 140)"/><path fill="#1e90ff" d="M19 0h2v1h-2zM44 0h1v1h-1zM46 0h1v1h-1zM50 0h1v1h-1zM59 0h1v1h-1zM62 0h1v1h-1zM1 1h1v1h-1zM23 1h1v1h-1zM26 1h1v1h-1zM31 1h1v1h-1zM33 1h1v1h-1zM45 1h1v1h-1zM50 1h1v1h-1zM61 1h1v1h-1zM5 2h1v1h-1zM18 2h2v1h-2zM26 2h1v1h-1zM32 2h1v1h-1zM52 2h1v1h-1zM60 2h1v1h-1zM5 3h1v1h-1zM29 3h1v1h-1zM49 3h1v1h-1zM58 3h1v1h-1zM14 4h1v1h-1zM29 4h1v1h-1zM45 4h1v1h-1zM57 4h1v1h-1zM59 4h1v1h-1zM6 5h3v1h-3zM15 5h1v1h-1zM29 5h1v1h-1zM59 5h1v1h-1zM13 6h1v1h-1zM18 6h1v1h-1zM29 6h1v1h-1zM41 6h1v1h-1zM46 6h1v1h-1zM56 6h1v1h-1zM4 7h1v1h-1zM11 7h1v1h-1zM20 7h1v1h-1zM25 7h1v1h-1zM41 7h1v1h-1zM8 8h1v1h-1zM11 8h1v1h-1zM28 8h1v1h-1zM47 8h1v1h-1zM57 8h1v1h-1zM10 9h1v1h-1zM14 9h1v1h-1zM17 9h1v1h-1zM26 9h2v1h-2zM29 9h1v1h-1zM51 9h1v1h-1zM2 10h3v1h-3zM13 10h1v1h-1zM26 10h1v1h-1zM17 11h1v1h-1zM31 11h3v1h-3zM38 11h1v1h-1zM44 11h1v1h-1zM13 12h1v1h-1zM16 12h1v1h-1zM34 12h1v1h-1zM54 12h2v1h-2zM62 12h1v1h-1zM12 13h1v1h-1zM17 13h1v1h-1zM31 13h1v1h-1zM35 13h1v1h-1zM39 13h1v1h-1zM52 13h1v1h-1zM62 13h1v1h-1zM4 14h1v1h-1zM9 14h6v1h-6zM17 14h2v1h-2zM32 14h1v1h-1zM34 14h1v1h-1zM37 14h1v1h-1zM51 14h1v1h-1zM7 15h1v1h-1zM9 15h1v1h-1zM13 15h1v1h-1zM24 15h1v1h-1zM38 15h1v1h-1zM48 15h1v1h-1zM22 16h2v1h-2zM33 16h1v1h-1zM37 16h1v1h-1zM32 17h2v1h-2zM40 17h1v1h-1zM61 17h1v1h-1zM2 18h1v1h-1zM7 18h1v1h-1zM18 18h1v1h-1zM30 18h1v1h-1zM59 18h1v1h-1zM0 19h1v1h-1zM10 19h1v1h-1zM30 19h2v1h-2zM55 19h1v1h-1zM61 19h1v1h-1zM63 19h1v1h-1zM7 20h1v1h-1zM19 20h1v1h-1zM24 20h2v1h-2zM32 20h1v1h-1zM36 20h1v1h-1zM38 20h1v1h-1zM48 20h1v1h-1zM2 21h1v1h-1zM18 21h1v1h-1zM29 21h3v1h-3zM35 21h1v1h-1zM42 21h1v1h-1zM54 21h1v1h-1zM4 22h1v1h-1zM16 22h1v1h-1zM40 22h1v1h-1zM15 23h2v1h-2zM40 23h1v1h-1zM47 23h1v1h-1zM16 24h1v1h-1zM28 24h1v1h-1zM52 24h1v1h-1zM58 24h1v1h-1zM9 25h1v1h-1zM14 25h1v1h-1zM18 25h1v1h-1zM30 25h1v1h-1zM38 25h1v1h-1zM52 25h1v1h-1zM54 25h1v1h-1zM58 25h1v1h-1zM22 26h1v1h-1zM29 26h1v1h-1zM41 26h2v1h-2zM45 26h1v1h-1zM52 26h1v1h-1zM57 26h1v1h-1zM59 26h1v1h-1zM5 27h3v1h-3zM31 27h1v1h-1zM42 27h1v1h-1zM45 27h1v1h-1zM58 27h1v1h-1zM6 28h1v1h-1zM22 28h1v1h-1zM45 28h1v1h-1zM3 29h1v1h-1zM23 29h2v1h-2zM26 29h2v1h-2zM44 29h1v1h-1zM46 29h1v1h-1zM6 30h1v1h-1zM28 30h1v1h-1zM46 30h1v1h-1zM16 31h1v1h-1zM20 31h1v1h-1zM30 31h1v1h-1zM40 31h2v1h-2zM0 32h1v1h-1zM2 32h1v1h-1zM21 32h1v1h-1zM47 32h1v1h-1zM51 32h1v1h-1zM59 32h1v1h-1zM12 33h1v1h-1zM27 33h1v1h-1zM32 33h1v1h-1zM34 33h1v1h-1zM52 33h2v1h-2zM4 34h3v1h-3zM11 34h2v1h-2zM18 34h1v1h-1zM24 34h1v1h-1zM34 34h1v1h-1zM38 34h1v1h-1zM47 34h1v1h-1zM63 34h1v1h-1zM3 35h1v1h-1zM35 35h1v1h-1zM37 35h1v1h-1zM42 35h1v1h-1zM13 36h1v1h-1zM15 36h1v1h-1zM22 36h1v1h-1zM24 36h1v1h-1zM26 36h1v1h-1zM28 36h1v1h-1zM35 36h1v1h-1zM37 36h1v1h-1zM46 36h3v1h-3zM5 37h1v1h-1zM24 37h1v1h-1zM30 37h1v1h-1zM46 37h1v1h-1zM48 37h1v1h-1zM24 38h1v1h-1zM34 38h1v1h-1zM60 38h1v1h-1zM18 39h1v1h-1zM35 39h1v1h-1zM38 39h1v1h-1zM37 40h1v1h-1zM46 40h1v1h-1zM53 40h2v1h-2zM28 41h2v1h-2zM53 41h1v1h-1zM60 41h1v1h-1zM62 41h1v1h-1zM6 42h1v1h-1zM9 42h1v1h-1zM11 42h1v1h-1zM26 42h2v1h-2zM41 42h1v1h-1zM61 42h1v1h-1zM10 43h1v1h-1zM28 43h1v1h-1zM33 43h1v1h-1zM35 43h1v1h-1zM1 44h1v1h-1zM3 44h1v1h-1zM34 44h2v1h-2zM7 45h1v1h-1zM12 46h1v1h-1zM16 46h1v1h-1zM26 46h1v1h-1zM39 46h1v1h-1zM0 47h1v1h-1zM5 47h1v1h-1zM7 47h1v1h-1zM33 47h1v1h-1zM38 47h1v1h-1zM0 48h1v1h-1zM9 48h1v1h-1zM20 48h1v1h-1zM30 48h1v1h-1zM34 48h1v1h-1zM45 48h1v1h-1zM50 48h1v1h-1zM52 48h1v1h-1zM57 48h1v1h-1zM8 49h1v1h-1zM18 49h1v1h-1zM20 49h1v1h-1zM32 49h1v1h-1zM57 49h1v1h-1zM24 50h1v1h-1zM27 50h2v1h-2zM31 50h1v1h-1zM46 50h1v1h-1zM59 50h2v1h-2zM5 51h2v1h-2zM12 51h1v1h-1zM40 51h1v1h-1zM43 51h1v1h-1zM60 51h1v1h-1zM9 52h5v1h-5zM27 52h2v1h-2zM31 52h1v1h-1zM34 52h1v1h-1zM51 52h2v1h-2zM61 52h1v1h-1zM9 53h1v1h-1zM28 53h1v1h-1zM30 53h1v1h-1zM26 54h1v1h-1zM36 54h1v1h-1zM60 54h1v1h-1zM1 55h1v1h-1zM37 55h1v1h-1zM56 55h1v1h-1zM58 55h2v1h-2zM1 56h1v1h-1zM33 56h1v1h-1zM62 56h1v1h-1zM1 57h1v1h-1zM4 57h1v1h-1zM14 58h1v1h-1zM31 58h1v1h-1zM19 59h1v1h-1zM39 59h1v1h-1zM3 60h1v1h-1zM5 60h1v1h-1zM15 60h2v1h-2zM22 60h1v1h-1zM29 60h2v1h-2zM38 60h2v1h-2zM42 60h1v1h-1zM62 60h1v1h-1zM0 61h1v1h-1zM30 61h1v1h-1zM17 62h1v1h-1zM19 62h1v1h-1zM27 62h1v1h-1zM30 62h1v1h-1zM46 62h1v1h-1zM0 63h1v1h-1zM17 63h2v1h-2zM30 63h1v1h-1zM46 63h1v1h-1z"/><path fill="#20faa0" d="M17 0h1v1h-1zM22 0h1v1h-1zM35 0h1v1h-1zM44 1h1v1h-1zM48 1h1v1h-1zM52 1h1v1h-1zM3 2h1v1h-1zM21 2h1v1h-1zM9 3h1v1h-1zM14 3h2v1h-2zM30 3h1v1h-1zM45 3h1v1h-1zM60 3h1v1h-1zM5 4h1v1h-1zM9 4h1v1h-1zM15 4h3v1h-3zM46 4h2v1h-2zM5 5h1v1h-1zM26 5h1v1h-1zM43 5h1v1h-1zM54 5h1v1h-1zM9 6h2v1h-2zM17 6h1v1h-1zM20 6h1v1h-1zM37 6h1v1h-1zM60 6h1v1h-1zM2 7h1v1h-1zM5 7h1v1h-1zM8 7h2v1h-2zM12 7h1v1h-1zM17 7h1v1h-1zM19 7h1v1h-1zM22 7h2v1h-2zM26 7h1v1h-1zM57 7h1v1h-1zM61 7h1v1h-1zM0 8h1v1h-1zM9 8h2v1h-2zM18 8h1v1h-1zM61 8h1v1h-1zM0 9h1v1h-1zM12 9h1v1h-1zM38 9h2v1h-2zM47 9h1v1h-1zM50 9h1v1h-1zM60 9h1v1h-1zM1 10h1v1h-1zM5 10h2v1h-2zM18 10h2v1h-2zM30 10h1v1h-1zM39 10h1v1h-1zM62 10h2v1h-2zM7 11h1v1h-1zM13 11h1v1h-1zM23 11h1v1h-1zM28 11h2v1h-2zM46 11h2v1h-2zM51 11h1v1h-1zM60 11h1v1h-1zM63 11h1v1h-1zM3 12h1v1h-1zM6 12h4v1h-4zM35 12h1v1h-1zM46 12h1v1h-1zM59 12h1v1h-1zM4 13h1v1h-1zM7 13h3v1h-3zM19 13h1v1h-1zM23 13h1v1h-1zM42 13h1v1h-1zM61 13h1v1h-1zM7 14h1v1h-1zM19 14h1v1h-1zM35 14h1v1h-1zM49 14h2v1h-2zM4 15h1v1h-1zM8 15h1v1h-1zM20 15h1v1h-1zM33 15h2v1h-2zM57 15h1v1h-1zM10 16h1v1h-1zM14 16h1v1h-1zM30 16h1v1h-1zM32 16h1v1h-1zM38 16h1v1h-1zM49 16h1v1h-1zM3 17h1v1h-1zM37 17h1v1h-1zM45 17h1v1h-1zM13 18h1v1h-1zM31 18h1v1h-1zM37 18h1v1h-1zM45 18h1v1h-1zM60 18h1v1h-1zM18 19h1v1h-1zM36 19h1v1h-1zM44 19h1v1h-1zM46 19h1v1h-1zM57 19h2v1h-2zM62 19h1v1h-1zM37 20h1v1h-1zM43 20h1v1h-1zM61 20h1v1h-1zM8 21h1v1h-1zM48 21h1v1h-1zM7 22h1v1h-1zM19 22h1v1h-1zM35 22h1v1h-1zM37 22h1v1h-1zM39 23h1v1h-1zM52 23h1v1h-1zM59 23h1v1h-1zM61 23h2v1h-2zM8 24h2v1h-2zM13 24h1v1h-1zM17 24h1v1h-1zM20 24h1v1h-1zM29 24h2v1h-2zM45 24h1v1h-1zM62 24h1v1h-1zM29 25h1v1h-1zM42 25h1v1h-1zM5 26h2v1h-2zM24 26h1v1h-1zM46 26h1v1h-1zM53 26h1v1h-1zM56 26h1v1h-1zM61 26h2v1h-2zM4 27h1v1h-1zM29 27h1v1h-1zM53 27h1v1h-1zM5 28h1v1h-1zM57 28h1v1h-1zM6 29h1v1h-1zM15 29h2v1h-2zM31 29h1v1h-1zM0 30h2v1h-2zM9 30h1v1h-1zM47 30h1v1h-1zM27 31h1v1h-1zM47 31h1v1h-1zM49 31h1v1h-1zM58 31h1v1h-1zM63 31h1v1h-1zM1 32h1v1h-1zM20 32h1v1h-1zM27 32h1v1h-1zM32 32h1v1h-1zM62 32h1v1h-1zM3 33h1v1h-1zM7 33h1v1h-1zM11 33h1v1h-1zM23 33h2v1h-2zM31 33h1v1h-1zM37 33h1v1h-1zM47 33h1v1h-1zM55 33h1v1h-1zM61 33h2v1h-2zM3 34h1v1h-1zM19 34h1v1h-1zM27 34h1v1h-1zM31 34h1v1h-1zM33 34h1v1h-1zM41 34h1v1h-1zM55 34h1v1h-1zM5 35h1v1h-1zM12 35h1v1h-1zM34 35h1v1h-1zM47 35h1v1h-1zM58 35h1v1h-1zM50 36h1v1h-1zM14 37h1v1h-1zM21 37h2v1h-2zM3 38h1v1h-1zM5 38h1v1h-1zM10 38h1v1h-1zM26 38h1v1h-1zM33 38h1v1h-1zM39 38h1v1h-1zM47 38h1v1h-1zM5 39h1v1h-1zM34 39h1v1h-1zM39 39h1v1h-1zM45 39h1v1h-1zM60 39h1v1h-1zM63 39h1v1h-1zM0 40h1v1h-1zM3 40h1v1h-1zM35 40h1v1h-1zM52 40h1v1h-1zM0 41h1v1h-1zM7 41h1v1h-1zM12 41h1v1h-1zM17 41h1v1h-1zM22 41h1v1h-1zM27 41h1v1h-1zM35 41h1v1h-1zM37 41h1v1h-1zM39 41h1v1h-1zM52 41h1v1h-1zM63 41h1v1h-1zM8 42h1v1h-1zM17 42h1v1h-1zM35 42h1v1h-1zM53 42h1v1h-1zM60 42h1v1h-1zM7 43h1v1h-1zM11 43h1v1h-1zM32 43h1v1h-1zM34 43h1v1h-1zM59 43h2v1h-2zM9 44h1v1h-1zM28 44h1v1h-1zM37 44h1v1h-1zM46 44h1v1h-1zM52 44h1v1h-1zM9 45h1v1h-1zM15 45h1v1h-1zM20 45h1v1h-1zM27 45h1v1h-1zM31 45h1v1h-1zM38 45h1v1h-1zM52 45h1v1h-1zM7 46h1v1h-1zM34 46h1v1h-1zM46 46h1v1h-1zM52 46h1v1h-1zM11 47h1v1h-1zM37 47h1v1h-1zM45 47h1v1h-1zM50 47h1v1h-1zM52 47h2v1h-2zM4 48h1v1h-1zM10 48h1v1h-1zM51 48h1v1h-1zM17 49h1v1h-1zM21 49h1v1h-1zM28 49h1v1h-1zM35 49h1v1h-1zM50 49h1v1h-1zM59 49h1v1h-1zM6 50h1v1h-1zM18 50h1v1h-1zM39 50h3v1h-3zM47 50h1v1h-1zM57 50h1v1h-1zM11 51h1v1h-1zM13 51h1v1h-1zM35 51h2v1h-2zM41 51h1v1h-1zM46 51h1v1h-1zM51 51h1v1h-1zM5 52h2v1h-2zM33 52h1v1h-1zM44 52h1v1h-1zM56 52h1v1h-1zM59 52h1v1h-1zM10 53h1v1h-1zM19 53h1v1h-1zM27 53h1v1h-1zM35 53h1v1h-1zM37 53h2v1h-2zM55 53h1v1h-1zM1 54h3v1h-3zM38 54h1v1h-1zM53 54h1v1h-1zM55 54h1v1h-1zM7 55h1v1h-1zM25 55h2v1h-2zM36 55h1v1h-1zM61 55h1v1h-1zM63 55h1v1h-1zM36 56h2v1h-2zM57 56h1v1h-1zM2 57h1v1h-1zM17 57h1v1h-1zM30 57h1v1h-1zM34 57h1v1h-1zM36 57h1v1h-1zM55 57h1v1h-1zM57 57h2v1h-2zM4 58h1v1h-1zM15 58h1v1h-1zM19 58h1v1h-1zM36 58h1v1h-1zM57 58h1v1h-1zM60 58h1v1h-1zM26 59h1v1h-1zM31 59h1v1h-1zM36 59h1v1h-1zM40 59h2v1h-2zM49 59h3v1h-3zM56 59h1v1h-1zM0 60h1v1h-1zM24 60h1v1h-1zM41 60h1v1h-1zM43 60h2v1h-2zM2 61h1v1h-1zM43 61h1v1h-1zM46 61h1v1h-1zM13 62h1v1h-1zM38 62h1v1h-1zM43 62h1v1h-1zM1 63h1v1h-1zM6 63h1v1h-1zM28 63h2v1h-2zM37 63h1v1h-1z"/><path fill="#00ff00" d="M21 0h1v1h-1zM24 0h1v1h-1zM36 0h1v1h-1zM51 0h2v1h-2zM58 0h1v1h-1zM63 0h1v1h-1zM5 1h1v1h-1zM11 1h1v1h-1zM25 1h1v1h-1zM57 2h1v1h-1zM16 3h1v1h-1zM26 3h1v1h-1zM51 3h1v1h-1zM4 4h1v1h-1zM6 4h1v1h-1zM49 4h1v1h-1zM18 5h2v1h-2zM5 6h2v1h-2zM8 6h1v1h-1zM15 6h2v1h-2zM24 6h2v1h-2zM39 6h1v1h-1zM55 6h1v1h-1zM1 7h1v1h-1zM10 7h1v1h-1zM16 7h1v1h-1zM18 7h1v1h-1zM29 7h1v1h-1zM40 7h1v1h-1zM12 8h1v1h-1zM15 8h1v1h-1zM17 8h1v1h-1zM19 8h1v1h-1zM29 8h1v1h-1zM37 8h1v1h-1zM39 8h1v1h-1zM49 8h2v1h-2zM53 8h1v1h-1zM16 9h1v1h-1zM20 9h3v1h-3zM28 9h1v1h-1zM30 9h1v1h-1zM49 9h1v1h-1zM61 9h1v1h-1zM14 10h2v1h-2zM17 10h1v1h-1zM27 10h1v1h-1zM31 10h1v1h-1zM37 10h1v1h-1zM60 10h1v1h-1zM2 11h3v1h-3zM16 11h1v1h-1zM20 11h1v1h-1zM30 11h1v1h-1zM37 11h1v1h-1zM61 11h1v1h-1zM2 12h1v1h-1zM23 12h1v1h-1zM43 12h1v1h-1zM50 12h1v1h-1zM61 12h1v1h-1zM5 13h1v1h-1zM22 13h1v1h-1zM28 13h2v1h-2zM45 13h3v1h-3zM51 13h1v1h-1zM56 13h1v1h-1zM63 13h1v1h-1zM5 14h2v1h-2zM31 14h1v1h-1zM42 14h1v1h-1zM52 14h1v1h-1zM57 14h1v1h-1zM6 15h1v1h-1zM12 15h1v1h-1zM21 15h1v1h-1zM31 15h1v1h-1zM35 15h1v1h-1zM50 15h1v1h-1zM3 16h1v1h-1zM6 16h4v1h-4zM12 16h2v1h-2zM20 16h2v1h-2zM34 16h1v1h-1zM43 16h2v1h-2zM50 16h1v1h-1zM53 16h1v1h-1zM7 17h1v1h-1zM11 17h1v1h-1zM15 17h1v1h-1zM20 17h1v1h-1zM25 17h2v1h-2zM29 17h2v1h-2zM51 17h1v1h-1zM9 18h2v1h-2zM12 18h1v1h-1zM29 18h1v1h-1zM32 18h2v1h-2zM58 18h1v1h-1zM2 19h1v1h-1zM22 19h1v1h-1zM26 19h1v1h-1zM33 19h2v1h-2zM47 19h1v1h-1zM54 19h1v1h-1zM6 20h1v1h-1zM9 20h1v1h-1zM22 20h1v1h-1zM44 20h1v1h-1zM49 20h1v1h-1zM1 21h1v1h-1zM6 21h1v1h-1zM37 21h1v1h-1zM39 21h1v1h-1zM43 21h1v1h-1zM50 21h1v1h-1zM61 21h1v1h-1zM18 22h1v1h-1zM28 22h1v1h-1zM39 22h1v1h-1zM54 22h1v1h-1zM1 23h1v1h-1zM9 23h1v1h-1zM17 23h1v1h-1zM28 23h2v1h-2zM36 23h3v1h-3zM53 23h1v1h-1zM60 23h1v1h-1zM2 24h1v1h-1zM10 24h1v1h-1zM18 24h2v1h-2zM31 24h2v1h-2zM34 24h1v1h-1zM46 24h1v1h-1zM49 24h1v1h-1zM51 24h1v1h-1zM13 25h1v1h-1zM15 25h2v1h-2zM28 25h1v1h-1zM34 25h1v1h-1zM36 25h1v1h-1zM41 25h1v1h-1zM48 25h1v1h-1zM51 25h1v1h-1zM61 25h3v1h-3zM9 26h1v1h-1zM34 26h1v1h-1zM38 26h1v1h-1zM40 26h1v1h-1zM48 26h1v1h-1zM55 26h1v1h-1zM60 26h1v1h-1zM22 27h2v1h-2zM32 27h1v1h-1zM40 27h1v1h-1zM48 27h1v1h-1zM52 27h1v1h-1zM54 27h3v1h-3zM63 27h1v1h-1zM3 28h1v1h-1zM17 28h1v1h-1zM30 28h1v1h-1zM54 28h1v1h-1zM56 28h1v1h-1zM25 29h1v1h-1zM28 29h1v1h-1zM45 29h1v1h-1zM54 29h2v1h-2zM62 29h1v1h-1zM10 30h1v1h-1zM38 30h1v1h-1zM44 30h2v1h-2zM57 30h1v1h-1zM61 30h1v1h-1zM28 31h2v1h-2zM32 31h1v1h-1zM37 31h1v1h-1zM42 31h1v1h-1zM46 31h1v1h-1zM57 31h1v1h-1zM61 31h1v1h-1zM28 32h1v1h-1zM31 32h1v1h-1zM36 32h1v1h-1zM38 32h1v1h-1zM52 32h1v1h-1zM56 32h2v1h-2zM60 32h1v1h-1zM33 33h1v1h-1zM39 33h1v1h-1zM54 33h1v1h-1zM59 33h1v1h-1zM7 34h1v1h-1zM16 34h2v1h-2zM22 34h2v1h-2zM32 34h1v1h-1zM59 34h1v1h-1zM6 35h1v1h-1zM57 35h1v1h-1zM59 35h1v1h-1zM32 36h1v1h-1zM43 36h1v1h-1zM52 36h1v1h-1zM29 37h1v1h-1zM32 37h1v1h-1zM34 37h1v1h-1zM43 37h1v1h-1zM45 37h1v1h-1zM47 37h1v1h-1zM49 37h1v1h-1zM11 38h1v1h-1zM19 38h1v1h-1zM29 38h1v1h-1zM38 38h1v1h-1zM43 38h1v1h-1zM46 38h1v1h-1zM61 38h2v1h-2zM7 39h1v1h-1zM27 39h1v1h-1zM33 39h1v1h-1zM46 39h1v1h-1zM1 40h1v1h-1zM4 40h1v1h-1zM7 40h1v1h-1zM12 40h1v1h-1zM32 40h3v1h-3zM38 40h1v1h-1zM1 41h1v1h-1zM6 41h1v1h-1zM36 41h1v1h-1zM54 41h1v1h-1zM59 41h1v1h-1zM1 42h1v1h-1zM7 42h1v1h-1zM12 42h1v1h-1zM21 42h1v1h-1zM24 42h2v1h-2zM32 42h1v1h-1zM34 42h1v1h-1zM36 42h1v1h-1zM40 42h1v1h-1zM43 42h1v1h-1zM54 42h1v1h-1zM62 42h2v1h-2zM0 43h3v1h-3zM36 43h3v1h-3zM41 43h1v1h-1zM46 43h1v1h-1zM53 43h1v1h-1zM38 44h1v1h-1zM53 44h1v1h-1zM12 45h1v1h-1zM39 45h2v1h-2zM51 45h1v1h-1zM8 46h1v1h-1zM27 46h1v1h-1zM41 46h1v1h-1zM47 46h2v1h-2zM51 46h1v1h-1zM53 46h1v1h-1zM6 47h1v1h-1zM12 47h1v1h-1zM26 47h1v1h-1zM34 47h1v1h-1zM36 47h1v1h-1zM40 47h1v1h-1zM49 47h1v1h-1zM51 47h1v1h-1zM57 47h1v1h-1zM7 48h1v1h-1zM29 48h1v1h-1zM35 48h2v1h-2zM53 48h1v1h-1zM56 48h1v1h-1zM7 49h1v1h-1zM10 49h1v1h-1zM24 49h1v1h-1zM33 49h2v1h-2zM38 49h2v1h-2zM55 49h2v1h-2zM13 50h1v1h-1zM34 50h1v1h-1zM36 50h1v1h-1zM43 50h1v1h-1zM50 50h1v1h-1zM9 51h2v1h-2zM19 51h1v1h-1zM27 51h1v1h-1zM30 51h1v1h-1zM37 51h1v1h-1zM39 51h1v1h-1zM56 51h1v1h-1zM58 51h1v1h-1zM7 52h2v1h-2zM19 52h1v1h-1zM22 52h1v1h-1zM32 52h1v1h-1zM36 52h2v1h-2zM45 52h1v1h-1zM5 53h3v1h-3zM20 53h1v1h-1zM26 53h1v1h-1zM45 53h1v1h-1zM50 53h2v1h-2zM56 53h1v1h-1zM4 54h2v1h-2zM7 54h3v1h-3zM16 54h1v1h-1zM24 54h1v1h-1zM28 54h1v1h-1zM46 54h1v1h-1zM52 54h1v1h-1zM56 54h1v1h-1zM59 54h1v1h-1zM0 55h1v1h-1zM8 55h1v1h-1zM27 55h1v1h-1zM53 55h3v1h-3zM57 55h1v1h-1zM60 55h1v1h-1zM6 56h1v1h-1zM8 56h1v1h-1zM10 56h1v1h-1zM34 56h1v1h-1zM55 56h2v1h-2zM58 56h2v1h-2zM61 56h1v1h-1zM5 57h1v1h-1zM15 57h2v1h-2zM38 57h1v1h-1zM56 57h1v1h-1zM59 57h1v1h-1zM61 57h1v1h-1zM56 58h1v1h-1zM59 58h1v1h-1zM14 59h1v1h-1zM23 59h1v1h-1zM30 59h1v1h-1zM42 59h1v1h-1zM57 59h1v1h-1zM60 59h1v1h-1zM1 60h1v1h-1zM4 60h1v1h-1zM14 60h1v1h-1zM45 60h1v1h-1zM52 60h1v1h-1zM55 60h2v1h-2zM3 61h1v1h-1zM13 61h1v1h-1zM15 61h2v1h-2zM23 61h1v1h-1zM29 61h1v1h-1zM39 61h1v1h-1zM41 61h1v1h-1zM44 61h1v1h-1zM55 61h1v1h-1zM0 62h1v1h-1zM22 62h1v1h-1zM26 62h1v1h-1zM29 62h1v1h-1zM41 62h2v1h-2zM53 62h1v1h-1zM60 62h1v1h-1zM11 63h2v1h-2zM19 63h1v1h-1zM26 63h1v1h-1zM47 63h1v1h-1zM58 63h1v1h-1zM60 63h1v1h-1z"/><path fill="#7fff00" d="M0 0h1v1h-1zM5 0h2v1h-2zM23 0h1v1h-1zM25 0h1v1h-1zM37 0h2v1h-2zM43 0h1v1h-1zM47 0h1v1h-1zM0 1h1v1h-1zM8 1h2v1h-2zM16 1h2v1h-2zM49 1h1v1h-1zM53 1h1v1h-1zM0 2h2v1h-2zM8 2h1v1h-1zM13 2h1v1h-1zM15 2h1v1h-1zM20 2h1v1h-1zM23 2h1v1h-1zM53 2h1v1h-1zM54 3h1v1h-1zM56 3h2v1h-2zM48 4h1v1h-1zM54 4h1v1h-1zM60 4h1v1h-1zM17 5h1v1h-1zM20 5h1v1h-1zM41 5h1v1h-1zM60 5h1v1h-1zM4 6h1v1h-1zM21 6h1v1h-1zM23 6h1v1h-1zM38 6h1v1h-1zM47 6h1v1h-1zM15 7h1v1h-1zM47 7h2v1h-2zM56 7h1v1h-1zM14 8h1v1h-1zM20 8h2v1h-2zM31 8h1v1h-1zM54 8h1v1h-1zM18 9h1v1h-1zM63 9h1v1h-1zM0 10h1v1h-1zM38 10h1v1h-1zM22 11h1v1h-1zM34 11h1v1h-1zM36 11h1v1h-1zM50 11h1v1h-1zM20 12h1v1h-1zM44 12h1v1h-1zM60 12h1v1h-1zM63 12h1v1h-1zM1 13h1v1h-1zM6 13h1v1h-1zM20 13h2v1h-2zM30 13h1v1h-1zM50 13h1v1h-1zM55 13h1v1h-1zM57 13h2v1h-2zM60 13h1v1h-1zM21 14h1v1h-1zM26 14h2v1h-2zM46 14h1v1h-1zM58 14h1v1h-1zM5 15h1v1h-1zM11 15h1v1h-1zM36 15h1v1h-1zM29 16h1v1h-1zM36 16h1v1h-1zM57 16h1v1h-1zM6 17h1v1h-1zM8 17h1v1h-1zM12 17h2v1h-2zM22 17h1v1h-1zM34 17h1v1h-1zM36 17h1v1h-1zM52 17h1v1h-1zM57 17h1v1h-1zM11 18h1v1h-1zM14 18h1v1h-1zM16 18h2v1h-2zM19 18h1v1h-1zM22 18h1v1h-1zM34 18h2v1h-2zM51 18h1v1h-1zM57 18h1v1h-1zM6 19h1v1h-1zM32 19h1v1h-1zM50 19h2v1h-2zM15 20h2v1h-2zM21 20h1v1h-1zM26 20h1v1h-1zM35 20h1v1h-1zM54 20h1v1h-1zM62 20h2v1h-2zM0 21h1v1h-1zM3 21h1v1h-1zM26 21h1v1h-1zM32 21h1v1h-1zM38 21h1v1h-1zM49 21h1v1h-1zM51 21h1v1h-1zM8 22h1v1h-1zM15 22h1v1h-1zM29 22h2v1h-2zM33 22h1v1h-1zM36 22h1v1h-1zM51 22h1v1h-1zM61 22h1v1h-1zM10 23h1v1h-1zM19 23h1v1h-1zM27 23h1v1h-1zM35 23h1v1h-1zM48 23h1v1h-1zM12 24h1v1h-1zM25 24h1v1h-1zM36 24h1v1h-1zM25 25h1v1h-1zM39 26h1v1h-1zM47 26h1v1h-1zM51 26h1v1h-1zM54 26h1v1h-1zM63 26h1v1h-1zM3 27h1v1h-1zM8 27h1v1h-1zM49 27h1v1h-1zM2 28h1v1h-1zM46 28h1v1h-1zM53 28h1v1h-1zM55 28h1v1h-1zM47 29h1v1h-1zM32 30h1v1h-1zM39 30h1v1h-1zM7 31h4v1h-4zM35 31h2v1h-2zM39 31h1v1h-1zM50 31h2v1h-2zM13 32h1v1h-1zM30 32h1v1h-1zM33 32h3v1h-3zM37 32h1v1h-1zM40 32h1v1h-1zM46 32h1v1h-1zM55 32h1v1h-1zM58 32h1v1h-1zM61 32h1v1h-1zM2 33h1v1h-1zM21 33h2v1h-2zM30 33h1v1h-1zM0 34h1v1h-1zM8 34h1v1h-1zM20 34h2v1h-2zM62 34h1v1h-1zM27 35h2v1h-2zM33 35h1v1h-1zM43 35h1v1h-1zM56 35h1v1h-1zM63 35h1v1h-1zM27 36h1v1h-1zM34 36h1v1h-1zM51 36h1v1h-1zM20 37h1v1h-1zM25 37h2v1h-2zM33 37h1v1h-1zM50 37h1v1h-1zM8 38h2v1h-2zM12 38h1v1h-1zM44 38h2v1h-2zM48 38h1v1h-1zM50 38h1v1h-1zM59 38h1v1h-1zM12 39h1v1h-1zM47 39h1v1h-1zM49 39h1v1h-1zM52 39h1v1h-1zM59 39h1v1h-1zM5 40h2v1h-2zM27 40h1v1h-1zM29 40h1v1h-1zM47 40h1v1h-1zM2 41h2v1h-2zM32 41h1v1h-1zM45 41h1v1h-1zM2 42h1v1h-1zM5 42h1v1h-1zM23 42h1v1h-1zM33 42h1v1h-1zM39 42h1v1h-1zM59 42h1v1h-1zM3 43h1v1h-1zM8 43h2v1h-2zM16 43h1v1h-1zM26 43h1v1h-1zM54 43h1v1h-1zM61 43h1v1h-1zM8 44h1v1h-1zM15 44h1v1h-1zM27 44h1v1h-1zM41 44h1v1h-1zM61 44h1v1h-1zM63 44h1v1h-1zM8 45h1v1h-1zM26 45h1v1h-1zM28 45h1v1h-1zM30 45h1v1h-1zM41 45h1v1h-1zM44 45h2v1h-2zM31 46h1v1h-1zM42 46h1v1h-1zM20 47h1v1h-1zM39 47h1v1h-1zM56 47h1v1h-1zM16 48h1v1h-1zM27 48h1v1h-1zM38 48h1v1h-1zM54 48h1v1h-1zM59 48h1v1h-1zM1 49h1v1h-1zM3 49h2v1h-2zM6 49h1v1h-1zM9 49h1v1h-1zM11 49h1v1h-1zM16 49h1v1h-1zM26 49h2v1h-2zM36 49h1v1h-1zM4 50h2v1h-2zM10 50h1v1h-1zM12 50h1v1h-1zM25 50h1v1h-1zM32 50h1v1h-1zM37 50h2v1h-2zM42 50h1v1h-1zM8 51h1v1h-1zM14 51h1v1h-1zM24 51h1v1h-1zM31 51h1v1h-1zM33 51h1v1h-1zM38 51h1v1h-1zM42 51h1v1h-1zM61 51h1v1h-1zM15 52h1v1h-1zM38 52h2v1h-2zM43 52h1v1h-1zM8 53h1v1h-1zM11 53h1v1h-1zM13 53h1v1h-1zM16 53h1v1h-1zM21 53h1v1h-1zM25 53h1v1h-1zM39 53h1v1h-1zM59 53h1v1h-1zM18 54h1v1h-1zM25 54h1v1h-1zM27 54h1v1h-1zM35 54h1v1h-1zM47 54h1v1h-1zM49 54h1v1h-1zM62 54h2v1h-2zM9 55h1v1h-1zM24 55h1v1h-1zM28 55h1v1h-1zM38 55h1v1h-1zM62 55h1v1h-1zM7 56h1v1h-1zM11 56h1v1h-1zM25 56h1v1h-1zM28 56h1v1h-1zM38 56h1v1h-1zM53 56h2v1h-2zM10 57h1v1h-1zM14 57h1v1h-1zM35 57h1v1h-1zM39 57h1v1h-1zM53 57h1v1h-1zM28 58h2v1h-2zM37 58h2v1h-2zM52 58h1v1h-1zM3 59h1v1h-1zM20 59h1v1h-1zM24 59h2v1h-2zM37 59h2v1h-2zM58 59h1v1h-1zM20 60h1v1h-1zM40 60h1v1h-1zM46 60h1v1h-1zM50 60h2v1h-2zM60 60h1v1h-1zM6 61h1v1h-1zM12 61h1v1h-1zM14 61h1v1h-1zM21 61h1v1h-1zM40 61h1v1h-1zM47 61h1v1h-1zM54 61h1v1h-1zM60 61h1v1h-1zM11 62h1v1h-1zM16 62h1v1h-1zM28 62h1v1h-1zM44 62h1v1h-1zM47 62h1v1h-1zM51 62h1v1h-1zM24 63h2v1h-2zM38 63h1v1h-1zM43 63h2v1h-2zM51 63h1v1h-1zM53 63h1v1h-1zM59 63h1v1h-1z"/><path fill="#adff2f" d="M7 0h1v1h-1zM9 0h4v1h-4zM49 0h1v1h-1zM55 0h1v1h-1zM57 0h1v1h-1zM6 1h2v1h-2zM24 1h1v1h-1zM36 1h2v1h-2zM57 1h1v1h-1zM62 1h2v1h-2zM2 2h1v1h-1zM14 2h1v1h-1zM16 2h2v1h-2zM33 2h1v1h-1zM36 2h1v1h-1zM61 2h1v1h-1zM63 2h1v1h-1zM3 3h1v1h-1zM6 3h1v1h-1zM17 3h2v1h-2zM22 3h1v1h-1zM31 3h1v1h-1zM34 3h1v1h-1zM55 3h1v1h-1zM7 4h2v1h-2zM26 4h1v1h-1zM30 4h1v1h-1zM40 4h1v1h-1zM50 4h1v1h-1zM3 5h2v1h-2zM16 5h1v1h-1zM25 5h1v1h-1zM40 5h1v1h-1zM42 5h1v1h-1zM47 5h1v1h-1zM14 6h1v1h-1zM22 6h1v1h-1zM36 6h1v1h-1zM40 6h1v1h-1zM48 6h1v1h-1zM61 6h1v1h-1zM36 7h1v1h-1zM50 7h1v1h-1zM55 7h1v1h-1zM13 8h1v1h-1zM30 8h1v1h-1zM36 8h1v1h-1zM48 8h1v1h-1zM56 8h1v1h-1zM62 8h2v1h-2zM13 9h1v1h-1zM31 9h1v1h-1zM48 9h1v1h-1zM62 9h1v1h-1zM20 10h1v1h-1zM22 10h1v1h-1zM28 10h1v1h-1zM47 10h1v1h-1zM0 11h1v1h-1zM5 11h2v1h-2zM1 12h1v1h-1zM4 12h2v1h-2zM21 12h1v1h-1zM47 12h1v1h-1zM48 13h1v1h-1zM53 13h1v1h-1zM59 13h1v1h-1zM20 14h1v1h-1zM36 14h1v1h-1zM47 14h2v1h-2zM56 14h1v1h-1zM60 14h1v1h-1zM43 15h1v1h-1zM47 15h1v1h-1zM53 15h1v1h-1zM56 15h1v1h-1zM58 15h1v1h-1zM60 15h1v1h-1zM4 16h1v1h-1zM11 16h1v1h-1zM24 16h1v1h-1zM28 16h1v1h-1zM45 16h1v1h-1zM48 16h1v1h-1zM56 16h1v1h-1zM58 16h1v1h-1zM10 17h1v1h-1zM14 17h1v1h-1zM21 17h1v1h-1zM28 17h1v1h-1zM50 17h1v1h-1zM53 17h1v1h-1zM58 17h3v1h-3zM3 18h1v1h-1zM20 18h1v1h-1zM27 18h2v1h-2zM36 18h1v1h-1zM46 18h2v1h-2zM52 18h3v1h-3zM1 19h1v1h-1zM11 19h2v1h-2zM14 19h1v1h-1zM17 19h1v1h-1zM19 19h1v1h-1zM29 19h1v1h-1zM35 19h1v1h-1zM49 19h1v1h-1zM52 19h2v1h-2zM1 20h1v1h-1zM10 20h1v1h-1zM20 20h1v1h-1zM28 20h2v1h-2zM50 20h4v1h-4zM15 21h1v1h-1zM28 21h1v1h-1zM33 21h1v1h-1zM0 22h1v1h-1zM27 22h1v1h-1zM32 22h1v1h-1zM38 22h1v1h-1zM48 22h1v1h-1zM52 22h2v1h-2zM62 22h1v1h-1zM8 23h1v1h-1zM14 23h1v1h-1zM25 23h1v1h-1zM32 23h2v1h-2zM51 23h1v1h-1zM63 23h1v1h-1zM27 24h1v1h-1zM47 24h2v1h-2zM59 24h1v1h-1zM63 24h1v1h-1zM2 25h2v1h-2zM12 25h1v1h-1zM17 25h1v1h-1zM27 25h1v1h-1zM46 25h1v1h-1zM49 25h2v1h-2zM59 25h1v1h-1zM2 26h1v1h-1zM17 26h1v1h-1zM25 26h1v1h-1zM28 26h1v1h-1zM35 26h3v1h-3zM49 26h2v1h-2zM1 27h2v1h-2zM9 27h1v1h-1zM17 27h1v1h-1zM33 27h1v1h-1zM47 27h1v1h-1zM50 27h2v1h-2zM0 28h1v1h-1zM7 28h2v1h-2zM25 28h1v1h-1zM27 28h1v1h-1zM29 28h1v1h-1zM31 28h1v1h-1zM39 28h1v1h-1zM48 28h2v1h-2zM52 28h1v1h-1zM0 29h1v1h-1zM2 29h1v1h-1zM9 29h2v1h-2zM36 29h1v1h-1zM38 29h1v1h-1zM48 29h1v1h-1zM50 29h1v1h-1zM53 29h1v1h-1zM56 29h1v1h-1zM7 30h1v1h-1zM37 30h1v1h-1zM54 30h1v1h-1zM62 30h2v1h-2zM38 31h1v1h-1zM43 31h1v1h-1zM62 31h1v1h-1zM7 32h1v1h-1zM9 32h2v1h-2zM29 32h1v1h-1zM39 32h1v1h-1zM41 32h1v1h-1zM1 33h1v1h-1zM8 33h1v1h-1zM10 33h1v1h-1zM20 33h1v1h-1zM38 33h1v1h-1zM60 33h1v1h-1zM10 34h1v1h-1zM28 34h1v1h-1zM30 34h1v1h-1zM61 34h1v1h-1zM7 35h1v1h-1zM11 35h1v1h-1zM16 35h1v1h-1zM22 35h1v1h-1zM29 35h2v1h-2zM32 35h1v1h-1zM46 35h1v1h-1zM54 35h2v1h-2zM62 35h1v1h-1zM6 36h1v1h-1zM12 36h1v1h-1zM16 36h1v1h-1zM20 36h2v1h-2zM30 36h2v1h-2zM33 36h1v1h-1zM44 36h1v1h-1zM53 36h1v1h-1zM63 36h1v1h-1zM6 37h1v1h-1zM27 37h1v1h-1zM44 37h1v1h-1zM51 37h2v1h-2zM6 38h1v1h-1zM15 38h1v1h-1zM28 38h1v1h-1zM49 38h1v1h-1zM52 38h1v1h-1zM2 39h1v1h-1zM6 39h1v1h-1zM29 39h1v1h-1zM53 39h2v1h-2zM2 40h1v1h-1zM17 40h1v1h-1zM28 40h1v1h-1zM48 40h1v1h-1zM59 40h1v1h-1zM33 41h2v1h-2zM38 41h1v1h-1zM46 41h3v1h-3zM0 42h1v1h-1zM3 42h2v1h-2zM13 42h1v1h-1zM22 42h1v1h-1zM37 42h1v1h-1zM44 42h1v1h-1zM46 42h1v1h-1zM52 42h1v1h-1zM25 43h1v1h-1zM27 43h1v1h-1zM45 43h1v1h-1zM52 43h1v1h-1zM58 43h1v1h-1zM63 43h1v1h-1zM0 44h1v1h-1zM21 44h1v1h-1zM39 44h2v1h-2zM45 44h1v1h-1zM51 44h1v1h-1zM54 44h1v1h-1zM59 44h1v1h-1zM29 45h1v1h-1zM42 45h1v1h-1zM46 45h2v1h-2zM53 45h1v1h-1zM56 45h1v1h-1zM63 45h1v1h-1zM13 46h1v1h-1zM20 46h1v1h-1zM30 46h1v1h-1zM45 46h1v1h-1zM49 46h1v1h-1zM54 46h1v1h-1zM16 47h1v1h-1zM29 47h1v1h-1zM54 47h1v1h-1zM58 47h1v1h-1zM63 47h1v1h-1zM5 48h2v1h-2zM11 48h2v1h-2zM21 48h1v1h-1zM25 48h2v1h-2zM28 48h1v1h-1zM39 48h1v1h-1zM55 48h1v1h-1zM60 48h1v1h-1zM0 49h1v1h-1zM15 49h1v1h-1zM22 49h2v1h-2zM25 49h1v1h-1zM40 49h1v1h-1zM44 49h1v1h-1zM54 49h1v1h-1zM60 49h1v1h-1zM63 49h1v1h-1zM7 50h1v1h-1zM9 50h1v1h-1zM15 50h1v1h-1zM17 50h1v1h-1zM26 50h1v1h-1zM33 50h1v1h-1zM61 50h1v1h-1zM7 51h1v1h-1zM15 51h1v1h-1zM18 51h1v1h-1zM23 51h1v1h-1zM32 51h1v1h-1zM4 52h1v1h-1zM14 52h1v1h-1zM26 52h1v1h-1zM40 52h3v1h-3zM46 52h1v1h-1zM1 53h4v1h-4zM12 53h1v1h-1zM14 53h2v1h-2zM17 53h1v1h-1zM44 53h1v1h-1zM46 53h2v1h-2zM49 53h1v1h-1zM62 53h1v1h-1zM0 54h1v1h-1zM10 54h1v1h-1zM12 54h1v1h-1zM17 54h1v1h-1zM50 54h2v1h-2zM57 54h2v1h-2zM61 54h1v1h-1zM16 55h2v1h-2zM35 55h1v1h-1zM45 55h1v1h-1zM52 55h1v1h-1zM9 56h1v1h-1zM12 56h1v1h-1zM16 56h2v1h-2zM27 56h1v1h-1zM29 56h1v1h-1zM35 56h1v1h-1zM60 56h1v1h-1zM11 57h1v1h-1zM18 57h1v1h-1zM29 57h1v1h-1zM37 57h1v1h-1zM13 58h1v1h-1zM20 58h2v1h-2zM23 58h1v1h-1zM26 58h1v1h-1zM39 58h1v1h-1zM51 58h1v1h-1zM4 59h2v1h-2zM13 59h1v1h-1zM22 59h1v1h-1zM29 59h1v1h-1zM43 59h1v1h-1zM47 59h2v1h-2zM52 59h2v1h-2zM59 59h1v1h-1zM13 60h1v1h-1zM21 60h1v1h-1zM47 60h1v1h-1zM54 60h1v1h-1zM57 60h1v1h-1zM20 61h1v1h-1zM22 61h1v1h-1zM25 61h1v1h-1zM52 61h1v1h-1zM1 62h2v1h-2zM7 62h1v1h-1zM20 62h1v1h-1zM23 62h1v1h-1zM58 62h2v1h-2zM7 63h1v1h-1zM10 63h1v1h-1zM20 63h4v1h-4zM42 63h1v1h-1zM52 63h1v1h-1zM54 63h1v1h-1zM57 63h1v1h-1z"/><path fill="#ffff00" d="M8 0h1v1h-1zM16 0h1v1h-1zM42 0h1v1h-1zM48 0h1v1h-1zM53 0h2v1h-2zM56 0h1v1h-1zM12 1h1v1h-1zM14 1h2v1h-2zM34 1h2v1h-2zM38 1h1v1h-1zM43 1h1v1h-1zM54 1h2v1h-2zM6 2h2v1h-2zM24 2h2v1h-2zM34 2h2v1h-2zM37 2h2v1h-2zM55 2h2v1h-2zM62 2h1v1h-1zM0 3h1v1h-1zM7 3h2v1h-2zM19 3h1v1h-1zM21 3h1v1h-1zM23 3h1v1h-1zM32 3h1v1h-1zM35 3h1v1h-1zM37 3h1v1h-1zM40 3h1v1h-1zM52 3h2v1h-2zM61 3h1v1h-1zM3 4h1v1h-1zM18 4h1v1h-1zM31 4h1v1h-1zM39 4h1v1h-1zM44 4h1v1h-1zM53 4h1v1h-1zM30 5h1v1h-1zM37 5h3v1h-3zM48 5h2v1h-2zM0 6h2v1h-2zM3 6h1v1h-1zM49 6h1v1h-1zM54 6h1v1h-1zM0 7h1v1h-1zM13 7h2v1h-2zM30 7h1v1h-1zM32 7h1v1h-1zM49 7h1v1h-1zM51 7h4v1h-4zM32 8h1v1h-1zM35 8h1v1h-1zM55 8h1v1h-1zM32 9h1v1h-1zM36 9h2v1h-2zM21 10h1v1h-1zM29 10h1v1h-1zM33 10h1v1h-1zM36 10h1v1h-1zM48 10h2v1h-2zM61 10h1v1h-1zM1 11h1v1h-1zM21 11h1v1h-1zM48 11h1v1h-1zM0 12h1v1h-1zM22 12h1v1h-1zM48 12h2v1h-2zM0 13h1v1h-1zM49 13h1v1h-1zM54 13h1v1h-1zM28 14h1v1h-1zM30 14h1v1h-1zM45 14h1v1h-1zM53 14h1v1h-1zM59 14h1v1h-1zM25 15h6v1h-6zM45 15h2v1h-2zM59 15h1v1h-1zM5 16h1v1h-1zM35 16h1v1h-1zM47 16h1v1h-1zM54 16h1v1h-1zM60 16h1v1h-1zM4 17h1v1h-1zM9 17h1v1h-1zM27 17h1v1h-1zM35 17h1v1h-1zM46 17h1v1h-1zM49 17h1v1h-1zM54 17h1v1h-1zM6 18h1v1h-1zM15 18h1v1h-1zM21 18h1v1h-1zM48 18h3v1h-3zM55 18h2v1h-2zM3 19h1v1h-1zM13 19h1v1h-1zM16 19h1v1h-1zM20 19h2v1h-2zM27 19h2v1h-2zM48 19h1v1h-1zM0 20h1v1h-1zM2 20h2v1h-2zM11 20h1v1h-1zM13 20h2v1h-2zM27 20h1v1h-1zM33 20h2v1h-2zM4 21h1v1h-1zM9 21h1v1h-1zM11 21h1v1h-1zM14 21h1v1h-1zM27 21h1v1h-1zM34 21h1v1h-1zM52 21h2v1h-2zM62 21h1v1h-1zM9 22h2v1h-2zM26 22h1v1h-1zM31 22h1v1h-1zM34 22h1v1h-1zM49 22h1v1h-1zM11 23h1v1h-1zM13 23h1v1h-1zM18 23h1v1h-1zM26 23h1v1h-1zM30 23h2v1h-2zM49 23h1v1h-1zM1 24h1v1h-1zM11 24h1v1h-1zM35 24h1v1h-1zM50 24h1v1h-1zM60 24h2v1h-2zM0 25h1v1h-1zM10 25h2v1h-2zM26 25h1v1h-1zM35 25h1v1h-1zM47 25h1v1h-1zM0 26h2v1h-2zM14 26h1v1h-1zM27 26h1v1h-1zM0 27h1v1h-1zM24 27h2v1h-2zM27 27h2v1h-2zM38 27h2v1h-2zM46 27h1v1h-1zM1 28h1v1h-1zM9 28h1v1h-1zM15 28h2v1h-2zM23 28h2v1h-2zM26 28h1v1h-1zM28 28h1v1h-1zM37 28h1v1h-1zM47 28h1v1h-1zM50 28h1v1h-1zM63 28h1v1h-1zM1 29h1v1h-1zM7 29h2v1h-2zM11 29h1v1h-1zM14 29h1v1h-1zM37 29h1v1h-1zM39 29h1v1h-1zM63 29h1v1h-1zM8 30h1v1h-1zM11 30h1v1h-1zM14 30h1v1h-1zM33 30h1v1h-1zM35 30h2v1h-2zM48 30h3v1h-3zM52 30h2v1h-2zM55 30h1v1h-1zM33 31h2v1h-2zM44 31h2v1h-2zM52 31h1v1h-1zM56 31h1v1h-1zM8 32h1v1h-1zM12 32h1v1h-1zM45 32h1v1h-1zM53 32h2v1h-2zM28 33h2v1h-2zM40 33h2v1h-2zM2 34h1v1h-1zM9 34h1v1h-1zM42 34h5v1h-5zM60 34h1v1h-1zM0 35h1v1h-1zM8 35h1v1h-1zM17 35h3v1h-3zM21 35h1v1h-1zM31 35h1v1h-1zM45 35h1v1h-1zM7 36h1v1h-1zM11 36h1v1h-1zM19 36h1v1h-1zM29 36h1v1h-1zM45 36h1v1h-1zM58 36h2v1h-2zM10 37h4v1h-4zM16 37h1v1h-1zM19 37h1v1h-1zM54 37h1v1h-1zM58 37h6v1h-6zM2 38h1v1h-1zM7 38h1v1h-1zM14 38h1v1h-1zM16 38h1v1h-1zM18 38h1v1h-1zM27 38h1v1h-1zM51 38h1v1h-1zM53 38h1v1h-1zM55 38h1v1h-1zM58 38h1v1h-1zM63 38h1v1h-1zM0 39h2v1h-2zM17 39h1v1h-1zM28 39h1v1h-1zM48 39h1v1h-1zM51 39h1v1h-1zM13 40h1v1h-1zM16 40h1v1h-1zM51 40h1v1h-1zM58 40h1v1h-1zM4 41h2v1h-2zM13 41h1v1h-1zM16 41h1v1h-1zM51 41h1v1h-1zM55 41h1v1h-1zM58 41h1v1h-1zM15 42h2v1h-2zM38 42h1v1h-1zM45 42h1v1h-1zM47 42h2v1h-2zM58 42h1v1h-1zM12 43h1v1h-1zM21 43h1v1h-1zM39 43h2v1h-2zM42 43h1v1h-1zM47 43h1v1h-1zM55 43h1v1h-1zM12 44h1v1h-1zM25 44h2v1h-2zM43 44h2v1h-2zM47 44h2v1h-2zM55 44h2v1h-2zM58 44h1v1h-1zM60 44h1v1h-1zM62 44h1v1h-1zM13 45h2v1h-2zM25 45h1v1h-1zM43 45h1v1h-1zM48 45h1v1h-1zM50 45h1v1h-1zM54 45h1v1h-1zM57 45h1v1h-1zM15 46h1v1h-1zM25 46h1v1h-1zM44 46h1v1h-1zM50 46h1v1h-1zM55 46h3v1h-3zM63 46h1v1h-1zM13 47h1v1h-1zM15 47h1v1h-1zM25 47h1v1h-1zM27 47h2v1h-2zM30 47h1v1h-1zM41 47h1v1h-1zM37 48h1v1h-1zM40 48h1v1h-1zM63 48h1v1h-1zM2 49h1v1h-1zM5 49h1v1h-1zM12 49h1v1h-1zM14 49h1v1h-1zM37 49h1v1h-1zM41 49h1v1h-1zM62 49h1v1h-1zM0 50h1v1h-1zM8 50h1v1h-1zM14 50h1v1h-1zM16 50h1v1h-1zM48 50h2v1h-2zM63 50h1v1h-1zM25 51h2v1h-2zM50 51h1v1h-1zM57 51h1v1h-1zM62 51h2v1h-2zM18 52h1v1h-1zM23 52h1v1h-1zM47 52h1v1h-1zM50 52h1v1h-1zM62 52h1v1h-1zM18 53h1v1h-1zM22 53h1v1h-1zM43 53h1v1h-1zM48 53h1v1h-1zM57 53h1v1h-1zM11 54h1v1h-1zM15 54h1v1h-1zM19 54h2v1h-2zM39 54h1v1h-1zM45 54h1v1h-1zM10 55h1v1h-1zM12 55h1v1h-1zM46 55h1v1h-1zM19 56h1v1h-1zM24 56h1v1h-1zM26 56h1v1h-1zM39 56h1v1h-1zM6 57h1v1h-1zM9 57h1v1h-1zM12 57h2v1h-2zM19 57h1v1h-1zM26 57h2v1h-2zM54 57h1v1h-1zM5 58h1v1h-1zM24 58h2v1h-2zM27 58h1v1h-1zM40 58h1v1h-1zM49 58h2v1h-2zM53 58h1v1h-1zM55 58h1v1h-1zM21 59h1v1h-1zM44 59h1v1h-1zM46 59h1v1h-1zM55 59h1v1h-1zM6 60h1v1h-1zM48 60h2v1h-2zM53 60h1v1h-1zM1 61h1v1h-1zM11 61h1v1h-1zM24 61h1v1h-1zM50 61h2v1h-2zM53 61h1v1h-1zM56 61h3v1h-3zM14 62h1v1h-1zM21 62h1v1h-1zM24 62h2v1h-2zM39 62h2v1h-2zM50 62h1v1h-1zM52 62h1v1h-1zM54 62h4v1h-4zM13 63h1v1h-1zM16 63h1v1h-1zM48 63h3v1h-3zM56 63h1v1h-1z"/><path fill="#ff0000" d="M14 0h1v1h-1zM39 0h1v1h-1zM41 0h1v1h-1zM13 1h1v1h-1zM56 1h1v1h-1zM39 2h1v1h-1zM44 2h1v1h-1zM1 3h1v1h-1zM25 3h1v1h-1zM33 3h1v1h-1zM36 3h1v1h-1zM38 3h2v1h-2zM19 4h2v1h-2zM25 4h1v1h-1zM32 4h1v1h-1zM34 4h1v1h-1zM61 4h1v1h-1zM0 5h3v1h-3zM21 5h1v1h-1zM23 5h1v1h-1zM50 5h1v1h-1zM61 5h1v1h-1zM63 5h1v1h-1zM2 6h1v1h-1zM30 6h1v1h-1zM33 6h1v1h-1zM35 6h1v1h-1zM50 6h1v1h-1zM63 6h1v1h-1zM31 7h1v1h-1zM35 7h1v1h-1zM62 7h1v1h-1zM32 10h1v1h-1zM35 10h1v1h-1zM50 10h1v1h-1zM35 11h1v1h-1zM49 11h1v1h-1zM43 13h2v1h-2zM29 14h1v1h-1zM43 14h1v1h-1zM55 14h1v1h-1zM44 15h1v1h-1zM54 15h2v1h-2zM25 16h3v1h-3zM46 16h1v1h-1zM55 16h1v1h-1zM59 16h1v1h-1zM47 17h2v1h-2zM55 17h2v1h-2zM15 19h1v1h-1zM5 21h1v1h-1zM10 21h1v1h-1zM63 21h1v1h-1zM11 22h1v1h-1zM14 22h1v1h-1zM50 22h1v1h-1zM63 22h1v1h-1zM0 23h1v1h-1zM34 23h1v1h-1zM50 23h1v1h-1zM0 24h1v1h-1zM26 24h1v1h-1zM1 25h1v1h-1zM60 25h1v1h-1zM10 26h1v1h-1zM13 26h1v1h-1zM16 26h1v1h-1zM26 26h1v1h-1zM26 27h1v1h-1zM35 27h3v1h-3zM10 28h1v1h-1zM36 28h1v1h-1zM38 28h1v1h-1zM51 28h1v1h-1zM32 29h1v1h-1zM35 29h1v1h-1zM49 29h1v1h-1zM51 29h2v1h-2zM12 30h1v1h-1zM34 30h1v1h-1zM51 30h1v1h-1zM11 31h1v1h-1zM13 31h1v1h-1zM53 31h1v1h-1zM55 31h1v1h-1zM11 32h1v1h-1zM45 33h2v1h-2zM1 34h1v1h-1zM29 34h1v1h-1zM2 35h1v1h-1zM20 35h1v1h-1zM44 35h1v1h-1zM60 35h2v1h-2zM2 36h1v1h-1zM54 36h1v1h-1zM57 36h1v1h-1zM62 36h1v1h-1zM7 37h1v1h-1zM9 37h1v1h-1zM28 37h1v1h-1zM53 37h1v1h-1zM13 38h1v1h-1zM54 38h1v1h-1zM13 39h1v1h-1zM16 39h1v1h-1zM50 39h1v1h-1zM55 39h1v1h-1zM57 39h1v1h-1zM49 40h2v1h-2zM55 40h1v1h-1zM15 41h1v1h-1zM49 41h2v1h-2zM14 42h1v1h-1zM49 42h1v1h-1zM51 42h1v1h-1zM55 42h1v1h-1zM14 43h2v1h-2zM22 43h1v1h-1zM24 43h1v1h-1zM43 43h2v1h-2zM48 43h1v1h-1zM51 43h1v1h-1zM57 43h1v1h-1zM62 43h1v1h-1zM13 44h2v1h-2zM24 44h1v1h-1zM42 44h1v1h-1zM57 44h1v1h-1zM49 45h1v1h-1zM55 45h1v1h-1zM58 45h1v1h-1zM61 45h2v1h-2zM28 46h2v1h-2zM43 46h1v1h-1zM58 46h1v1h-1zM42 47h1v1h-1zM55 47h1v1h-1zM59 47h1v1h-1zM13 48h1v1h-1zM13 49h1v1h-1zM43 49h1v1h-1zM61 49h1v1h-1zM1 50h2v1h-2zM11 50h1v1h-1zM62 50h1v1h-1zM16 51h2v1h-2zM47 51h1v1h-1zM16 52h2v1h-2zM24 52h2v1h-2zM57 52h2v1h-2zM63 52h1v1h-1zM40 53h1v1h-1zM42 53h1v1h-1zM58 53h1v1h-1zM63 53h1v1h-1zM13 54h2v1h-2zM44 54h1v1h-1zM48 54h1v1h-1zM11 55h1v1h-1zM18 55h2v1h-2zM47 55h1v1h-1zM51 55h1v1h-1zM13 56h1v1h-1zM15 56h1v1h-1zM18 56h1v1h-1zM20 56h1v1h-1zM52 56h1v1h-1zM7 57h1v1h-1zM20 57h1v1h-1zM24 57h2v1h-2zM28 57h1v1h-1zM40 57h1v1h-1zM51 57h2v1h-2zM11 58h2v1h-2zM22 58h1v1h-1zM41 58h1v1h-1zM47 58h2v1h-2zM54 58h1v1h-1zM6 59h1v1h-1zM45 59h1v1h-1zM54 59h1v1h-1zM58 60h2v1h-2zM59 61h1v1h-1zM10 62h1v1h-1zM15 62h1v1h-1zM8 63h2v1h-2zM41 63h1v1h-1zM55 63h1v1h-1z"/><path fill="#ba55d3" d="M13 0h1v1h-1zM15 0h1v1h-1zM39 1h1v1h-1zM42 1h1v1h-1zM40 2h1v1h-1zM54 2h1v1h-1zM2 3h1v1h-1zM20 3h1v1h-1zM24 3h1v1h-1zM44 3h1v1h-1zM62 3h2v1h-2zM0 4h1v1h-1zM2 4h1v1h-1zM23 4h1v1h-1zM33 4h1v1h-1zM35 4h1v1h-1zM38 4h1v1h-1zM41 4h1v1h-1zM43 4h1v1h-1zM51 4h2v1h-2zM62 4h2v1h-2zM22 5h1v1h-1zM24 5h1v1h-1zM31 5h4v1h-4zM36 5h1v1h-1zM53 5h1v1h-1zM62 5h1v1h-1zM31 6h1v1h-1zM53 6h1v1h-1zM34 7h1v1h-1zM63 7h1v1h-1zM35 9h1v1h-1zM34 10h1v1h-1zM44 14h1v1h-1zM54 14h1v1h-1zM5 17h1v1h-1zM4 18h2v1h-2zM4 19h2v1h-2zM4 20h2v1h-2zM12 20h1v1h-1zM12 21h2v1h-2zM12 22h2v1h-2zM12 23h1v1h-1zM11 26h2v1h-2zM15 26h1v1h-1zM10 27h1v1h-1zM16 27h1v1h-1zM34 27h1v1h-1zM11 28h1v1h-1zM32 28h4v1h-4zM12 29h1v1h-1zM33 29h2v1h-2zM56 30h1v1h-1zM12 31h1v1h-1zM54 31h1v1h-1zM44 32h1v1h-1zM9 33h1v1h-1zM43 33h2v1h-2zM1 35h1v1h-1zM10 35h1v1h-1zM0 36h1v1h-1zM8 36h1v1h-1zM17 36h1v1h-1zM55 36h2v1h-2zM60 36h2v1h-2zM0 37h1v1h-1zM2 37h1v1h-1zM8 37h1v1h-1zM55 37h1v1h-1zM0 38h1v1h-1zM17 38h1v1h-1zM57 38h1v1h-1zM14 39h2v1h-2zM56 39h1v1h-1zM58 39h1v1h-1zM15 40h1v1h-1zM56 40h2v1h-2zM56 41h1v1h-1zM56 42h2v1h-2zM13 43h1v1h-1zM23 43h1v1h-1zM50 43h1v1h-1zM49 44h2v1h-2zM21 45h1v1h-1zM59 45h2v1h-2zM14 46h1v1h-1zM21 46h1v1h-1zM60 46h1v1h-1zM62 46h1v1h-1zM14 47h1v1h-1zM21 47h1v1h-1zM43 47h2v1h-2zM60 47h1v1h-1zM62 47h1v1h-1zM14 48h2v1h-2zM22 48h3v1h-3zM41 48h1v1h-1zM44 48h1v1h-1zM61 48h2v1h-2zM42 49h1v1h-1zM0 51h2v1h-2zM4 51h1v1h-1zM0 52h4v1h-4zM48 52h2v1h-2zM0 53h1v1h-1zM23 53h2v1h-2zM41 53h1v1h-1zM21 54h3v1h-3zM13 55h1v1h-1zM15 55h1v1h-1zM20 55h1v1h-1zM23 55h1v1h-1zM39 55h1v1h-1zM48 55h2v1h-2zM14 56h1v1h-1zM21 56h1v1h-1zM23 56h1v1h-1zM45 56h3v1h-3zM51 56h1v1h-1zM8 57h1v1h-1zM21 57h1v1h-1zM48 57h2v1h-2zM6 58h1v1h-1zM9 58h2v1h-2zM42 58h1v1h-1zM11 59h1v1h-1zM12 60h1v1h-1zM7 61h1v1h-1zM48 61h2v1h-2zM8 62h2v1h-2zM48 62h2v1h-2zM15 63h1v1h-1zM39 63h1v1h-1z"/><path fill="#9400d3" d="M40 0h1v1h-1zM40 1h2v1h-2zM41 2h3v1h-3zM41 3h3v1h-3zM1 4h1v1h-1zM21 4h2v1h-2zM24 4h1v1h-1zM36 4h2v1h-2zM42 4h1v1h-1zM35 5h1v1h-1zM51 5h2v1h-2zM32 6h1v1h-1zM34 6h1v1h-1zM51 6h2v1h-2zM62 6h1v1h-1zM33 7h1v1h-1zM33 8h2v1h-2zM33 9h2v1h-2zM11 27h5v1h-5zM12 28h3v1h-3zM13 29h1v1h-1zM13 30h1v1h-1zM42 32h2v1h-2zM42 33h1v1h-1zM9 35h1v1h-1zM1 36h1v1h-1zM9 36h2v1h-2zM18 36h1v1h-1zM1 37h1v1h-1zM17 37h2v1h-2zM56 37h2v1h-2zM1 38h1v1h-1zM56 38h1v1h-1zM14 40h1v1h-1zM14 41h1v1h-1zM57 41h1v1h-1zM50 42h1v1h-1zM49 43h1v1h-1zM56 43h1v1h-1zM22 44h2v1h-2zM22 45h3v1h-3zM22 46h3v1h-3zM59 46h1v1h-1zM61 46h1v1h-1zM22 47h3v1h-3zM61 47h1v1h-1zM42 48h2v1h-2zM3 50h1v1h-1zM2 51h2v1h-2zM48 51h2v1h-2zM40 54h4v1h-4zM14 55h1v1h-1zM21 55h2v1h-2zM40 55h5v1h-5zM50 55h1v1h-1zM22 56h1v1h-1zM40 56h5v1h-5zM48 56h3v1h-3zM22 57h2v1h-2zM41 57h7v1h-7zM50 57h1v1h-1zM7 58h2v1h-2zM43 58h4v1h-4zM7 59h4v1h-4zM12 59h1v1h-1zM7 60h5v1h-5zM8 61h3v1h-3zM14 63h1v1h-1zM40 63h1v1h-1z"/></pattern>
<pattern id="tpo" width="64" height="64" patternUnits="userSpaceOnUse"><rect width="64" height="64" fill="rgb(32, 250, 160)"/><path fill="#00008c" d="M28 0h4v1h-4zM59 0h2v1h-2zM6 1h2v1h-2zM28 1h5v1h-5zM43 1h2v1h-2zM59 1h2v1h-2zM6 2h2v1h-2zM28 2h5v1h-5zM44 2h1v1h-1zM59 2h2v1h-2zM27 3h7v1h-7zM59 3h2v1h-2zM28 4h6v1h-6zM29 5h3v1h-3zM45 5h3v1h-3zM23 6h2v1h-2zM45 6h2v1h-2zM24 7h1v1h-1zM45 7h2v1h-2zM2 8h2v1h-2zM8 8h1v1h-1zM2 9h2v1h-2zM9 9h1v1h-1zM9 10h1v1h-1zM11 10h1v1h-1zM10 11h1v1h-1zM19 11h2v1h-2zM63 11h1v1h-1zM16 12h6v1h-6zM62 12h2v1h-2zM0 13h1v1h-1zM16 13h5v1h-5zM37 13h1v1h-1zM62 13h2v1h-2zM0 14h1v1h-1zM16 14h5v1h-5zM36 14h2v1h-2zM18 15h3v1h-3zM19 16h1v1h-1zM3 17h1v1h-1zM19 17h1v1h-1zM3 18h1v1h-1zM27 18h1v1h-1zM48 18h1v1h-1zM27 19h2v1h-2zM7 20h2v1h-2zM27 20h1v1h-1zM7 21h2v1h-2zM13 21h1v1h-1zM7 22h1v1h-1zM55 22h1v1h-1zM55 23h2v1h-2zM56 24h1v1h-1zM8 25h1v1h-1zM12 25h1v1h-1zM40 25h1v1h-1zM55 25h2v1h-2zM8 26h2v1h-2zM14 26h1v1h-1zM55 26h1v1h-1zM6 27h4v1h-4zM4 28h6v1h-6zM2 29h8v1h-8zM45 29h1v1h-1zM2 30h4v1h-4zM60 30h1v1h-1zM16 31h2v1h-2zM22 31h1v1h-1zM59 31h3v1h-3zM39 32h1v1h-1zM52 32h1v1h-1zM59 32h3v1h-3zM0 33h1v1h-1zM50 33h1v1h-1zM59 33h3v1h-3zM0 34h2v1h-2zM5 34h3v1h-3zM29 34h1v1h-1zM50 34h1v1h-1zM59 34h2v1h-2zM0 35h1v1h-1zM5 35h3v1h-3zM59 35h2v1h-2zM0 36h1v1h-1zM5 36h3v1h-3zM13 36h2v1h-2zM59 36h2v1h-2zM5 37h2v1h-2zM12 37h3v1h-3zM47 37h2v1h-2zM59 37h2v1h-2zM6 38h1v1h-1zM12 38h3v1h-3zM5 39h2v1h-2zM11 39h4v1h-4zM23 39h1v1h-1zM5 40h2v1h-2zM11 40h4v1h-4zM23 40h1v1h-1zM5 41h2v1h-2zM11 41h3v1h-3zM30 41h3v1h-3zM39 41h1v1h-1zM1 42h3v1h-3zM12 42h1v1h-1zM31 42h2v1h-2zM38 42h1v1h-1zM46 42h3v1h-3zM54 42h3v1h-3zM2 43h1v1h-1zM11 43h3v1h-3zM16 43h1v1h-1zM19 43h4v1h-4zM46 43h4v1h-4zM54 43h4v1h-4zM10 44h6v1h-6zM20 44h3v1h-3zM48 44h1v1h-1zM55 44h2v1h-2zM10 45h3v1h-3zM19 45h4v1h-4zM0 46h2v1h-2zM5 46h1v1h-1zM11 46h1v1h-1zM32 46h1v1h-1zM0 47h7v1h-7zM50 47h1v1h-1zM63 47h1v1h-1zM0 48h6v1h-6zM1 49h1v1h-1zM4 49h1v1h-1zM1 50h1v1h-1zM11 51h1v1h-1zM1 52h2v1h-2zM11 52h2v1h-2zM26 52h1v1h-1zM38 52h1v1h-1zM40 52h2v1h-2zM52 52h2v1h-2zM9 53h4v1h-4zM41 53h1v1h-1zM51 53h4v1h-4zM8 54h6v1h-6zM51 54h3v1h-3zM6 55h5v1h-5zM15 55h1v1h-1zM30 55h1v1h-1zM50 55h3v1h-3zM0 56h2v1h-2zM6 56h1v1h-1zM9 56h1v1h-1zM14 56h3v1h-3zM30 56h3v1h-3zM49 56h3v1h-3zM63 56h1v1h-1zM0 57h3v1h-3zM30 57h2v1h-2zM39 57h2v1h-2zM51 57h1v1h-1zM0 58h3v1h-3zM51 58h1v1h-1zM1 59h3v1h-3zM43 59h3v1h-3zM51 59h1v1h-1zM2 60h4v1h-4zM28 60h4v1h-4zM41 60h1v1h-1zM3 61h3v1h-3zM28 61h4v1h-4zM49 61h2v1h-2zM4 62h2v1h-2zM28 62h6v1h-6zM49 62h4v1h-4zM60 62h1v1h-1zM4 63h2v1h-2zM28 63h1v1h-1zM30 63h4v1h-4zM49 63h4v1h-4zM59 63h2v1h-2z"/><path fill="#1e90ff" d="M4 0h4v1h-4zM15 0h1v1h-1zM20 0h1v1h-1zM32 0h2v1h-2zM43 0h1v1h-1zM51 0h2v1h-2zM58 0h1v1h-1zM61 0h1v1h-1zM5 1h1v1h-1zM8 1h1v1h-1zM33 1h1v1h-1zM42 1h1v1h-1zM52 1h1v1h-1zM58 1h1v1h-1zM61 1h1v1h-1zM14 2h1v1h-1zM18 2h2v1h-2zM27 2h1v1h-1zM42 2h2v1h-2zM45 2h1v1h-1zM6 3h2v1h-2zM17 3h2v1h-2zM26 3h1v1h-1zM34 3h1v1h-1zM44 3h3v1h-3zM11 4h1v1h-1zM13 4h1v1h-1zM24 4h1v1h-1zM27 4h1v1h-1zM34 4h1v1h-1zM45 4h2v1h-2zM59 4h2v1h-2zM11 5h1v1h-1zM23 5h1v1h-1zM25 5h1v1h-1zM28 5h1v1h-1zM32 5h2v1h-2zM44 5h1v1h-1zM48 5h1v1h-1zM0 6h1v1h-1zM21 6h2v1h-2zM25 6h1v1h-1zM47 6h2v1h-2zM0 7h4v1h-4zM13 7h1v1h-1zM21 7h3v1h-3zM25 7h1v1h-1zM1 8h1v1h-1zM13 8h2v1h-2zM22 8h2v1h-2zM37 8h1v1h-1zM49 8h2v1h-2zM0 9h2v1h-2zM8 9h1v1h-1zM10 9h1v1h-1zM30 9h2v1h-2zM37 9h1v1h-1zM62 9h1v1h-1zM2 10h2v1h-2zM8 10h1v1h-1zM21 10h1v1h-1zM27 10h1v1h-1zM31 10h2v1h-2zM61 10h1v1h-1zM63 10h1v1h-1zM9 11h1v1h-1zM11 11h1v1h-1zM17 11h2v1h-2zM21 11h1v1h-1zM26 11h2v1h-2zM32 11h1v1h-1zM55 11h2v1h-2zM60 11h1v1h-1zM62 11h1v1h-1zM0 12h2v1h-2zM10 12h1v1h-1zM44 12h1v1h-1zM55 12h2v1h-2zM60 12h2v1h-2zM8 13h1v1h-1zM10 13h1v1h-1zM15 13h1v1h-1zM21 13h1v1h-1zM36 13h1v1h-1zM38 13h1v1h-1zM55 13h1v1h-1zM61 13h1v1h-1zM1 14h1v1h-1zM9 14h3v1h-3zM21 14h1v1h-1zM38 14h1v1h-1zM40 14h1v1h-1zM9 15h2v1h-2zM17 15h1v1h-1zM32 15h1v1h-1zM37 15h2v1h-2zM10 16h1v1h-1zM18 16h1v1h-1zM20 16h1v1h-1zM31 16h1v1h-1zM37 16h1v1h-1zM2 17h1v1h-1zM18 17h1v1h-1zM47 17h1v1h-1zM1 18h2v1h-2zM4 18h1v1h-1zM18 18h2v1h-2zM28 18h1v1h-1zM37 18h2v1h-2zM44 18h2v1h-2zM47 18h1v1h-1zM49 18h1v1h-1zM53 18h1v1h-1zM63 18h1v1h-1zM0 19h2v1h-2zM8 19h2v1h-2zM37 19h1v1h-1zM48 19h1v1h-1zM0 20h1v1h-1zM9 20h1v1h-1zM14 20h1v1h-1zM20 20h2v1h-2zM28 20h1v1h-1zM37 20h1v1h-1zM0 21h2v1h-2zM20 21h2v1h-2zM56 21h1v1h-1zM61 21h2v1h-2zM8 22h1v1h-1zM13 22h1v1h-1zM21 22h2v1h-2zM54 22h1v1h-1zM56 22h1v1h-1zM61 22h1v1h-1zM7 23h2v1h-2zM22 23h1v1h-1zM48 23h1v1h-1zM8 24h1v1h-1zM13 24h1v1h-1zM22 24h2v1h-2zM39 24h2v1h-2zM55 24h1v1h-1zM10 25h1v1h-1zM13 25h1v1h-1zM23 25h1v1h-1zM29 25h1v1h-1zM39 25h1v1h-1zM6 26h2v1h-2zM10 26h4v1h-4zM15 26h1v1h-1zM27 26h2v1h-2zM34 26h1v1h-1zM40 26h1v1h-1zM54 26h1v1h-1zM56 26h1v1h-1zM62 26h1v1h-1zM4 27h2v1h-2zM10 27h1v1h-1zM13 27h1v1h-1zM20 27h1v1h-1zM27 27h1v1h-1zM54 27h1v1h-1zM62 27h2v1h-2zM3 28h1v1h-1zM10 28h1v1h-1zM17 28h2v1h-2zM10 29h1v1h-1zM12 29h1v1h-1zM17 29h3v1h-3zM27 29h1v1h-1zM29 29h1v1h-1zM46 29h1v1h-1zM48 29h2v1h-2zM51 29h2v1h-2zM8 30h2v1h-2zM18 30h1v1h-1zM22 30h1v1h-1zM28 30h3v1h-3zM49 30h1v1h-1zM51 30h2v1h-2zM58 30h2v1h-2zM61 30h1v1h-1zM2 31h3v1h-3zM18 31h1v1h-1zM35 31h2v1h-2zM52 31h1v1h-1zM58 31h1v1h-1zM62 31h1v1h-1zM16 32h1v1h-1zM20 32h2v1h-2zM34 32h3v1h-3zM38 32h1v1h-1zM40 32h2v1h-2zM49 32h3v1h-3zM58 32h1v1h-1zM62 32h1v1h-1zM1 33h1v1h-1zM5 33h2v1h-2zM17 33h2v1h-2zM29 33h1v1h-1zM40 33h2v1h-2zM49 33h1v1h-1zM51 33h1v1h-1zM63 33h1v1h-1zM19 34h2v1h-2zM28 34h1v1h-1zM30 34h1v1h-1zM41 34h1v1h-1zM49 34h1v1h-1zM51 34h1v1h-1zM58 34h1v1h-1zM61 34h3v1h-3zM1 35h1v1h-1zM8 35h1v1h-1zM17 35h3v1h-3zM30 35h1v1h-1zM42 35h2v1h-2zM49 35h2v1h-2zM61 35h1v1h-1zM63 35h1v1h-1zM1 36h1v1h-1zM8 36h1v1h-1zM12 36h1v1h-1zM15 36h4v1h-4zM33 36h2v1h-2zM42 36h1v1h-1zM46 36h2v1h-2zM61 36h1v1h-1zM63 36h1v1h-1zM0 37h2v1h-2zM7 37h1v1h-1zM15 37h4v1h-4zM34 37h1v1h-1zM41 37h2v1h-2zM49 37h1v1h-1zM61 37h1v1h-1zM0 38h2v1h-2zM5 38h1v1h-1zM7 38h1v1h-1zM10 38h1v1h-1zM15 38h4v1h-4zM22 38h2v1h-2zM43 38h1v1h-1zM47 38h2v1h-2zM59 38h2v1h-2zM10 39h1v1h-1zM15 39h1v1h-1zM17 39h2v1h-2zM22 39h1v1h-1zM24 39h1v1h-1zM38 39h1v1h-1zM4 40h1v1h-1zM15 40h1v1h-1zM17 40h3v1h-3zM31 40h2v1h-2zM38 40h2v1h-2zM48 40h1v1h-1zM1 41h1v1h-1zM3 41h2v1h-2zM14 41h1v1h-1zM18 41h2v1h-2zM23 41h1v1h-1zM33 41h1v1h-1zM38 41h1v1h-1zM46 41h4v1h-4zM54 41h2v1h-2zM4 42h2v1h-2zM11 42h1v1h-1zM13 42h4v1h-4zM18 42h2v1h-2zM21 42h2v1h-2zM28 42h1v1h-1zM30 42h1v1h-1zM33 42h1v1h-1zM39 42h1v1h-1zM45 42h1v1h-1zM49 42h1v1h-1zM53 42h1v1h-1zM57 42h1v1h-1zM1 43h1v1h-1zM3 43h1v1h-1zM8 43h3v1h-3zM14 43h2v1h-2zM17 43h1v1h-1zM23 43h1v1h-1zM27 43h6v1h-6zM38 43h2v1h-2zM9 44h1v1h-1zM16 44h4v1h-4zM23 44h1v1h-1zM28 44h1v1h-1zM47 44h1v1h-1zM49 44h1v1h-1zM54 44h1v1h-1zM57 44h2v1h-2zM13 45h1v1h-1zM18 45h1v1h-1zM31 45h5v1h-5zM57 45h1v1h-1zM3 46h1v1h-1zM6 46h1v1h-1zM10 46h1v1h-1zM12 46h1v1h-1zM20 46h2v1h-2zM23 46h2v1h-2zM31 46h1v1h-1zM33 46h2v1h-2zM63 46h1v1h-1zM11 47h1v1h-1zM25 47h2v1h-2zM51 47h1v1h-1zM53 47h2v1h-2zM6 48h1v1h-1zM11 48h2v1h-2zM24 48h3v1h-3zM45 48h1v1h-1zM51 48h1v1h-1zM0 49h1v1h-1zM2 49h2v1h-2zM5 49h1v1h-1zM11 49h3v1h-3zM25 49h1v1h-1zM45 49h1v1h-1zM11 50h2v1h-2zM25 50h1v1h-1zM52 50h1v1h-1zM2 51h1v1h-1zM12 51h1v1h-1zM15 51h1v1h-1zM17 51h2v1h-2zM26 51h1v1h-1zM51 51h2v1h-2zM57 51h1v1h-1zM10 52h1v1h-1zM27 52h1v1h-1zM37 52h1v1h-1zM39 52h1v1h-1zM51 52h1v1h-1zM54 52h3v1h-3zM0 53h3v1h-3zM8 53h1v1h-1zM13 53h1v1h-1zM37 53h1v1h-1zM39 53h2v1h-2zM55 53h1v1h-1zM31 54h1v1h-1zM36 54h1v1h-1zM40 54h2v1h-2zM54 54h1v1h-1zM0 55h2v1h-2zM5 55h1v1h-1zM11 55h4v1h-4zM29 55h1v1h-1zM31 55h2v1h-2zM34 55h1v1h-1zM40 55h2v1h-2zM48 55h2v1h-2zM53 55h1v1h-1zM2 56h1v1h-1zM4 56h2v1h-2zM8 56h1v1h-1zM10 56h1v1h-1zM29 56h1v1h-1zM39 56h1v1h-1zM48 56h1v1h-1zM52 56h1v1h-1zM3 57h3v1h-3zM9 57h1v1h-1zM14 57h2v1h-2zM32 57h1v1h-1zM49 57h2v1h-2zM52 57h1v1h-1zM63 57h1v1h-1zM3 58h3v1h-3zM14 58h1v1h-1zM30 58h2v1h-2zM40 58h1v1h-1zM43 58h2v1h-2zM50 58h1v1h-1zM52 58h1v1h-1zM5 59h1v1h-1zM29 59h3v1h-3zM40 59h3v1h-3zM50 59h1v1h-1zM52 59h2v1h-2zM1 60h1v1h-1zM27 60h1v1h-1zM40 60h1v1h-1zM42 60h2v1h-2zM49 60h3v1h-3zM2 61h1v1h-1zM6 61h1v1h-1zM11 61h1v1h-1zM27 61h1v1h-1zM32 61h3v1h-3zM42 61h1v1h-1zM48 61h1v1h-1zM51 61h2v1h-2zM56 61h1v1h-1zM60 61h3v1h-3zM3 62h1v1h-1zM10 62h3v1h-3zM15 62h1v1h-1zM21 62h1v1h-1zM34 62h1v1h-1zM39 62h2v1h-2zM48 62h1v1h-1zM53 62h2v1h-2zM59 62h1v1h-1zM61 62h2v1h-2zM3 63h1v1h-1zM6 63h1v1h-1zM10 63h2v1h-2zM20 63h2v1h-2zM29 63h1v1h-1zM40 63h1v1h-1zM53 63h1v1h-1zM58 63h1v1h-1zM61 63h1v1h-1z"/><path fill="#228b22" d="M2 0h1v1h-1zM12 0h3v1h-3zM18 0h1v1h-1zM34 0h1v1h-1zM39 0h1v1h-1zM49 0h1v1h-1zM54 0h1v1h-1zM56 0h1v1h-1zM0 1h2v1h-2zM4 1h1v1h-1zM10 1h1v1h-1zM14 1h2v1h-2zM17 1h1v1h-1zM20 1h1v1h-1zM34 1h1v1h-1zM41 1h1v1h-1zM54 1h1v1h-1zM57 1h1v1h-1zM0 2h1v1h-1zM4 2h1v1h-1zM12 2h1v1h-1zM34 2h1v1h-1zM41 2h1v1h-1zM46 2h1v1h-1zM50 2h2v1h-2zM53 2h1v1h-1zM62 2h1v1h-1zM10 3h3v1h-3zM23 3h1v1h-1zM35 3h1v1h-1zM42 3h1v1h-1zM47 3h1v1h-1zM50 3h1v1h-1zM58 3h1v1h-1zM61 3h3v1h-3zM0 4h1v1h-1zM19 4h1v1h-1zM22 4h1v1h-1zM43 4h1v1h-1zM48 4h1v1h-1zM57 4h1v1h-1zM63 4h1v1h-1zM9 5h1v1h-1zM15 5h3v1h-3zM20 5h2v1h-2zM34 5h1v1h-1zM42 5h1v1h-1zM49 5h1v1h-1zM57 5h2v1h-2zM60 5h1v1h-1zM63 5h1v1h-1zM3 6h2v1h-2zM9 6h2v1h-2zM15 6h1v1h-1zM20 6h1v1h-1zM26 6h1v1h-1zM28 6h1v1h-1zM32 6h1v1h-1zM38 6h1v1h-1zM49 6h2v1h-2zM56 6h2v1h-2zM5 7h1v1h-1zM8 7h4v1h-4zM19 7h2v1h-2zM27 7h2v1h-2zM31 7h1v1h-1zM37 7h3v1h-3zM42 7h2v1h-2zM50 7h1v1h-1zM54 7h1v1h-1zM56 7h3v1h-3zM63 7h1v1h-1zM11 8h1v1h-1zM18 8h3v1h-3zM29 8h1v1h-1zM31 8h1v1h-1zM36 8h1v1h-1zM40 8h1v1h-1zM52 8h1v1h-1zM5 9h1v1h-1zM13 9h6v1h-6zM22 9h1v1h-1zM26 9h1v1h-1zM33 9h2v1h-2zM36 9h1v1h-1zM48 9h1v1h-1zM50 9h1v1h-1zM5 10h1v1h-1zM7 10h1v1h-1zM15 10h1v1h-1zM17 10h1v1h-1zM22 10h1v1h-1zM30 10h1v1h-1zM34 10h4v1h-4zM56 10h3v1h-3zM4 11h1v1h-1zM7 11h1v1h-1zM12 11h1v1h-1zM15 11h1v1h-1zM29 11h2v1h-2zM37 11h3v1h-3zM43 11h1v1h-1zM45 11h1v1h-1zM53 11h1v1h-1zM57 11h3v1h-3zM3 12h2v1h-2zM12 12h1v1h-1zM23 12h1v1h-1zM25 12h1v1h-1zM28 12h1v1h-1zM31 12h3v1h-3zM36 12h1v1h-1zM39 12h2v1h-2zM42 12h1v1h-1zM46 12h1v1h-1zM49 12h2v1h-2zM52 12h2v1h-2zM57 12h1v1h-1zM4 13h1v1h-1zM11 13h1v1h-1zM22 13h1v1h-1zM26 13h2v1h-2zM31 13h1v1h-1zM33 13h1v1h-1zM35 13h1v1h-1zM39 13h5v1h-5zM45 13h1v1h-1zM47 13h2v1h-2zM50 13h1v1h-1zM53 13h1v1h-1zM2 14h1v1h-1zM7 14h1v1h-1zM14 14h1v1h-1zM22 14h1v1h-1zM28 14h3v1h-3zM32 14h1v1h-1zM34 14h1v1h-1zM41 14h2v1h-2zM44 14h1v1h-1zM49 14h1v1h-1zM54 14h1v1h-1zM59 14h1v1h-1zM61 14h1v1h-1zM2 15h1v1h-1zM8 15h1v1h-1zM15 15h1v1h-1zM26 15h3v1h-3zM33 15h2v1h-2zM41 15h1v1h-1zM45 15h3v1h-3zM51 15h1v1h-1zM55 15h2v1h-2zM59 15h2v1h-2zM1 16h1v1h-1zM4 16h1v1h-1zM9 16h1v1h-1zM11 16h1v1h-1zM14 16h3v1h-3zM29 16h1v1h-1zM33 16h1v1h-1zM39 16h3v1h-3zM45 16h3v1h-3zM49 16h1v1h-1zM55 16h1v1h-1zM60 16h1v1h-1zM0 17h2v1h-2zM15 17h2v1h-2zM26 17h1v1h-1zM29 17h1v1h-1zM33 17h1v1h-1zM36 17h1v1h-1zM39 17h4v1h-4zM54 17h2v1h-2zM60 17h1v1h-1zM62 17h1v1h-1zM5 18h1v1h-1zM8 18h1v1h-1zM15 18h2v1h-2zM29 18h1v1h-1zM32 18h2v1h-2zM36 18h1v1h-1zM51 18h1v1h-1zM56 18h1v1h-1zM61 18h1v1h-1zM5 19h2v1h-2zM14 19h4v1h-4zM21 19h1v1h-1zM25 19h1v1h-1zM32 19h1v1h-1zM35 19h1v1h-1zM39 19h1v1h-1zM41 19h1v1h-1zM43 19h2v1h-2zM46 19h1v1h-1zM50 19h2v1h-2zM53 19h3v1h-3zM17 20h3v1h-3zM29 20h1v1h-1zM32 20h2v1h-2zM38 20h4v1h-4zM47 20h1v1h-1zM53 20h3v1h-3zM3 21h1v1h-1zM6 21h1v1h-1zM10 21h1v1h-1zM22 21h1v1h-1zM30 21h1v1h-1zM32 21h1v1h-1zM34 21h4v1h-4zM40 21h1v1h-1zM54 21h1v1h-1zM2 22h1v1h-1zM9 22h3v1h-3zM15 22h1v1h-1zM20 22h1v1h-1zM25 22h7v1h-7zM34 22h1v1h-1zM36 22h2v1h-2zM47 22h1v1h-1zM59 22h2v1h-2zM0 23h2v1h-2zM6 23h1v1h-1zM9 23h1v1h-1zM24 23h1v1h-1zM29 23h1v1h-1zM31 23h1v1h-1zM33 23h2v1h-2zM36 23h2v1h-2zM43 23h2v1h-2zM47 23h1v1h-1zM60 23h1v1h-1zM63 23h1v1h-1zM11 24h1v1h-1zM15 24h1v1h-1zM21 24h1v1h-1zM31 24h1v1h-1zM33 24h1v1h-1zM36 24h2v1h-2zM45 24h1v1h-1zM47 24h1v1h-1zM57 24h1v1h-1zM61 24h2v1h-2zM1 25h1v1h-1zM5 25h1v1h-1zM21 25h1v1h-1zM24 25h1v1h-1zM38 25h1v1h-1zM43 25h2v1h-2zM47 25h2v1h-2zM62 25h2v1h-2zM0 26h1v1h-1zM16 26h1v1h-1zM20 26h2v1h-2zM23 26h1v1h-1zM26 26h1v1h-1zM32 26h1v1h-1zM38 26h2v1h-2zM53 26h1v1h-1zM61 26h1v1h-1zM2 27h1v1h-1zM21 27h1v1h-1zM23 27h1v1h-1zM30 27h1v1h-1zM36 27h1v1h-1zM40 27h1v1h-1zM50 27h1v1h-1zM56 27h3v1h-3zM61 27h1v1h-1zM1 28h1v1h-1zM14 28h1v1h-1zM22 28h2v1h-2zM35 28h2v1h-2zM48 28h1v1h-1zM52 28h2v1h-2zM55 28h1v1h-1zM13 29h3v1h-3zM25 29h1v1h-1zM54 29h2v1h-2zM57 29h1v1h-1zM63 29h1v1h-1zM0 30h1v1h-1zM23 30h1v1h-1zM35 30h2v1h-2zM46 30h1v1h-1zM57 30h1v1h-1zM1 31h1v1h-1zM12 31h1v1h-1zM30 31h1v1h-1zM38 31h2v1h-2zM43 31h4v1h-4zM48 31h1v1h-1zM63 31h1v1h-1zM0 32h3v1h-3zM28 32h1v1h-1zM30 32h3v1h-3zM43 32h2v1h-2zM54 32h2v1h-2zM2 33h1v1h-1zM7 33h1v1h-1zM10 33h1v1h-1zM15 33h2v1h-2zM22 33h1v1h-1zM27 33h1v1h-1zM31 33h3v1h-3zM36 33h2v1h-2zM43 33h2v1h-2zM46 33h1v1h-1zM52 33h1v1h-1zM57 33h1v1h-1zM2 34h1v1h-1zM9 34h1v1h-1zM15 34h2v1h-2zM22 34h1v1h-1zM25 34h1v1h-1zM34 34h1v1h-1zM36 34h1v1h-1zM40 34h1v1h-1zM43 34h4v1h-4zM52 34h1v1h-1zM2 35h1v1h-1zM9 35h2v1h-2zM12 35h1v1h-1zM22 35h2v1h-2zM25 35h3v1h-3zM36 35h5v1h-5zM45 35h1v1h-1zM55 35h2v1h-2zM2 36h1v1h-1zM10 36h2v1h-2zM21 36h1v1h-1zM29 36h1v1h-1zM35 36h3v1h-3zM51 36h1v1h-1zM55 36h1v1h-1zM3 37h1v1h-1zM19 37h1v1h-1zM24 37h2v1h-2zM37 37h1v1h-1zM51 37h1v1h-1zM54 37h1v1h-1zM57 37h1v1h-1zM62 37h2v1h-2zM2 38h1v1h-1zM8 38h2v1h-2zM20 38h2v1h-2zM34 38h2v1h-2zM40 38h1v1h-1zM46 38h1v1h-1zM50 38h1v1h-1zM53 38h2v1h-2zM57 38h1v1h-1zM62 38h2v1h-2zM2 39h1v1h-1zM7 39h1v1h-1zM9 39h1v1h-1zM19 39h3v1h-3zM31 39h1v1h-1zM36 39h2v1h-2zM40 39h1v1h-1zM42 39h1v1h-1zM47 39h1v1h-1zM50 39h1v1h-1zM53 39h1v1h-1zM57 39h1v1h-1zM62 39h2v1h-2zM0 40h4v1h-4zM20 40h1v1h-1zM40 40h1v1h-1zM42 40h1v1h-1zM45 40h1v1h-1zM50 40h1v1h-1zM53 40h2v1h-2zM56 40h2v1h-2zM62 40h2v1h-2zM8 41h3v1h-3zM21 41h1v1h-1zM24 41h1v1h-1zM37 41h1v1h-1zM52 41h1v1h-1zM61 41h3v1h-3zM24 42h1v1h-1zM27 42h1v1h-1zM59 42h1v1h-1zM61 42h2v1h-2zM7 43h1v1h-1zM24 43h1v1h-1zM26 43h1v1h-1zM35 43h1v1h-1zM40 43h1v1h-1zM44 43h1v1h-1zM51 43h1v1h-1zM60 43h1v1h-1zM62 43h2v1h-2zM0 44h1v1h-1zM4 44h1v1h-1zM7 44h1v1h-1zM24 44h1v1h-1zM36 44h2v1h-2zM39 44h1v1h-1zM50 44h1v1h-1zM62 44h1v1h-1zM0 45h6v1h-6zM8 45h1v1h-1zM15 45h2v1h-2zM24 45h2v1h-2zM28 45h1v1h-1zM37 45h1v1h-1zM51 45h1v1h-1zM53 45h2v1h-2zM59 45h2v1h-2zM7 46h1v1h-1zM9 46h1v1h-1zM13 46h1v1h-1zM18 46h1v1h-1zM22 46h1v1h-1zM27 46h4v1h-4zM46 46h3v1h-3zM53 46h1v1h-1zM56 46h3v1h-3zM13 47h2v1h-2zM22 47h1v1h-1zM28 47h1v1h-1zM31 47h1v1h-1zM36 47h1v1h-1zM45 47h4v1h-4zM55 47h1v1h-1zM60 47h1v1h-1zM62 47h1v1h-1zM10 48h1v1h-1zM22 48h1v1h-1zM28 48h1v1h-1zM34 48h4v1h-4zM44 48h1v1h-1zM46 48h1v1h-1zM49 48h1v1h-1zM58 48h1v1h-1zM15 49h1v1h-1zM22 49h1v1h-1zM27 49h3v1h-3zM31 49h1v1h-1zM37 49h1v1h-1zM46 49h1v1h-1zM50 49h1v1h-1zM53 49h1v1h-1zM55 49h1v1h-1zM57 49h1v1h-1zM59 49h1v1h-1zM3 50h2v1h-2zM13 50h1v1h-1zM16 50h3v1h-3zM20 50h2v1h-2zM29 50h2v1h-2zM36 50h1v1h-1zM45 50h1v1h-1zM50 50h1v1h-1zM53 50h7v1h-7zM4 51h1v1h-1zM6 51h1v1h-1zM14 51h1v1h-1zM21 51h1v1h-1zM37 51h1v1h-1zM39 51h1v1h-1zM41 51h2v1h-2zM54 51h1v1h-1zM56 51h1v1h-1zM58 51h1v1h-1zM63 51h1v1h-1zM6 52h1v1h-1zM15 52h1v1h-1zM18 52h1v1h-1zM21 52h3v1h-3zM58 52h1v1h-1zM63 52h1v1h-1zM5 53h2v1h-2zM28 53h1v1h-1zM49 53h1v1h-1zM58 53h6v1h-6zM2 54h1v1h-1zM15 54h1v1h-1zM25 54h1v1h-1zM27 54h1v1h-1zM34 54h1v1h-1zM42 54h1v1h-1zM55 54h2v1h-2zM58 54h2v1h-2zM63 54h1v1h-1zM3 55h1v1h-1zM23 55h5v1h-5zM33 55h1v1h-1zM36 55h1v1h-1zM38 55h1v1h-1zM42 55h1v1h-1zM46 55h1v1h-1zM54 55h1v1h-1zM58 55h2v1h-2zM63 55h1v1h-1zM20 56h2v1h-2zM28 56h1v1h-1zM41 56h1v1h-1zM45 56h1v1h-1zM58 56h2v1h-2zM7 57h1v1h-1zM11 57h2v1h-2zM22 57h1v1h-1zM33 57h2v1h-2zM41 57h1v1h-1zM43 57h3v1h-3zM58 57h1v1h-1zM62 57h1v1h-1zM11 58h2v1h-2zM16 58h3v1h-3zM23 58h1v1h-1zM29 58h1v1h-1zM34 58h1v1h-1zM60 58h1v1h-1zM62 58h1v1h-1zM7 59h1v1h-1zM9 59h3v1h-3zM13 59h1v1h-1zM17 59h4v1h-4zM24 59h1v1h-1zM28 59h1v1h-1zM33 59h2v1h-2zM39 59h1v1h-1zM48 59h1v1h-1zM60 59h1v1h-1zM62 59h2v1h-2zM0 60h1v1h-1zM10 60h1v1h-1zM17 60h1v1h-1zM24 60h1v1h-1zM33 60h1v1h-1zM46 60h2v1h-2zM54 60h1v1h-1zM60 60h1v1h-1zM63 60h1v1h-1zM0 61h1v1h-1zM9 61h1v1h-1zM16 61h2v1h-2zM23 61h1v1h-1zM25 61h2v1h-2zM38 61h1v1h-1zM45 61h1v1h-1zM57 61h1v1h-1zM63 61h1v1h-1zM0 62h1v1h-1zM7 62h1v1h-1zM13 62h1v1h-1zM35 62h1v1h-1zM43 62h2v1h-2zM46 62h1v1h-1zM7 63h2v1h-2zM13 63h1v1h-1zM16 63h1v1h-1zM19 63h1v1h-1zM38 63h1v1h-1zM41 63h3v1h-3zM47 63h1v1h-1zM63 63h1v1h-1z"/><path fill="#00ff00" d="M17 0h1v1h-1zM22 0h1v1h-1zM26 0h1v1h-1zM38 0h1v1h-1zM45 0h1v1h-1zM55 0h1v1h-1zM62 0h1v1h-1zM2 1h2v1h-2zM9 1h1v1h-1zM11 1h1v1h-1zM26 1h1v1h-1zM40 1h1v1h-1zM46 1h1v1h-1zM50 1h1v1h-1zM55 1h2v1h-2zM62 1h2v1h-2zM11 2h1v1h-1zM20 2h1v1h-1zM35 2h1v1h-1zM47 2h1v1h-1zM49 2h1v1h-1zM54 2h1v1h-1zM57 2h1v1h-1zM63 2h1v1h-1zM1 3h1v1h-1zM4 3h1v1h-1zM22 3h1v1h-1zM41 3h1v1h-1zM49 3h1v1h-1zM51 3h2v1h-2zM1 4h1v1h-1zM15 4h1v1h-1zM20 4h1v1h-1zM42 4h1v1h-1zM49 4h1v1h-1zM62 4h1v1h-1zM2 5h2v1h-2zM5 5h2v1h-2zM8 5h1v1h-1zM18 5h2v1h-2zM35 5h1v1h-1zM50 5h1v1h-1zM55 5h2v1h-2zM61 5h1v1h-1zM8 6h1v1h-1zM33 6h1v1h-1zM39 6h4v1h-4zM51 6h1v1h-1zM53 6h3v1h-3zM59 6h1v1h-1zM62 6h2v1h-2zM7 7h1v1h-1zM29 7h1v1h-1zM32 7h1v1h-1zM36 7h1v1h-1zM40 7h2v1h-2zM51 7h3v1h-3zM55 7h1v1h-1zM62 7h1v1h-1zM5 8h1v1h-1zM16 8h2v1h-2zM32 8h2v1h-2zM35 8h1v1h-1zM42 8h3v1h-3zM53 8h3v1h-3zM57 8h1v1h-1zM61 8h1v1h-1zM23 9h1v1h-1zM40 9h2v1h-2zM46 9h2v1h-2zM53 9h4v1h-4zM6 10h1v1h-1zM25 10h1v1h-1zM39 10h1v1h-1zM43 10h3v1h-3zM47 10h4v1h-4zM53 10h1v1h-1zM59 10h2v1h-2zM23 11h2v1h-2zM34 11h1v1h-1zM36 11h1v1h-1zM41 11h2v1h-2zM46 11h1v1h-1zM48 11h1v1h-1zM24 12h1v1h-1zM29 12h2v1h-2zM34 12h1v1h-1zM41 12h1v1h-1zM48 12h1v1h-1zM51 12h1v1h-1zM3 13h1v1h-1zM5 13h1v1h-1zM12 13h1v1h-1zM28 13h3v1h-3zM46 13h1v1h-1zM57 13h3v1h-3zM5 14h2v1h-2zM26 14h1v1h-1zM43 14h1v1h-1zM45 14h2v1h-2zM48 14h1v1h-1zM57 14h1v1h-1zM60 14h1v1h-1zM5 15h3v1h-3zM12 15h1v1h-1zM22 15h1v1h-1zM29 15h1v1h-1zM35 15h1v1h-1zM42 15h1v1h-1zM44 15h1v1h-1zM49 15h1v1h-1zM52 15h1v1h-1zM54 15h1v1h-1zM57 15h2v1h-2zM61 15h1v1h-1zM63 15h1v1h-1zM0 16h1v1h-1zM5 16h1v1h-1zM8 16h1v1h-1zM12 16h2v1h-2zM21 16h1v1h-1zM25 16h1v1h-1zM28 16h1v1h-1zM34 16h1v1h-1zM36 16h1v1h-1zM42 16h1v1h-1zM44 16h1v1h-1zM50 16h2v1h-2zM54 16h1v1h-1zM59 16h1v1h-1zM5 17h1v1h-1zM8 17h2v1h-2zM11 17h1v1h-1zM14 17h1v1h-1zM25 17h1v1h-1zM30 17h2v1h-2zM34 17h1v1h-1zM43 17h1v1h-1zM52 17h1v1h-1zM56 17h1v1h-1zM61 17h1v1h-1zM63 17h1v1h-1zM7 18h1v1h-1zM11 18h1v1h-1zM25 18h1v1h-1zM30 18h1v1h-1zM34 18h1v1h-1zM60 18h1v1h-1zM11 19h2v1h-2zM30 19h1v1h-1zM33 19h2v1h-2zM57 19h1v1h-1zM60 19h1v1h-1zM4 20h2v1h-2zM11 20h2v1h-2zM16 20h1v1h-1zM22 20h1v1h-1zM30 20h2v1h-2zM34 20h2v1h-2zM42 20h1v1h-1zM44 20h3v1h-3zM48 20h1v1h-1zM52 20h1v1h-1zM57 20h2v1h-2zM15 21h1v1h-1zM19 21h1v1h-1zM23 21h1v1h-1zM25 21h1v1h-1zM31 21h1v1h-1zM38 21h1v1h-1zM41 21h1v1h-1zM47 21h2v1h-2zM58 21h1v1h-1zM6 22h1v1h-1zM24 22h1v1h-1zM35 22h1v1h-1zM38 22h4v1h-4zM43 22h1v1h-1zM48 22h1v1h-1zM53 22h1v1h-1zM58 22h1v1h-1zM2 23h1v1h-1zM10 23h2v1h-2zM15 23h1v1h-1zM20 23h1v1h-1zM25 23h4v1h-4zM35 23h1v1h-1zM42 23h1v1h-1zM45 23h1v1h-1zM49 23h1v1h-1zM53 23h1v1h-1zM58 23h1v1h-1zM0 24h1v1h-1zM2 24h1v1h-1zM6 24h1v1h-1zM20 24h1v1h-1zM25 24h4v1h-4zM32 24h1v1h-1zM34 24h2v1h-2zM46 24h1v1h-1zM49 24h1v1h-1zM63 24h1v1h-1zM0 25h1v1h-1zM3 25h2v1h-2zM15 25h1v1h-1zM20 25h1v1h-1zM26 25h1v1h-1zM31 25h3v1h-3zM35 25h3v1h-3zM42 25h1v1h-1zM45 25h2v1h-2zM49 25h1v1h-1zM61 25h1v1h-1zM1 26h3v1h-3zM18 26h2v1h-2zM24 26h2v1h-2zM31 26h1v1h-1zM36 26h2v1h-2zM41 26h1v1h-1zM45 26h3v1h-3zM49 26h2v1h-2zM52 26h1v1h-1zM58 26h1v1h-1zM60 26h1v1h-1zM1 27h1v1h-1zM25 27h1v1h-1zM31 27h1v1h-1zM33 27h1v1h-1zM39 27h1v1h-1zM46 27h2v1h-2zM49 27h1v1h-1zM51 27h1v1h-1zM59 27h1v1h-1zM24 28h2v1h-2zM30 28h1v1h-1zM34 28h1v1h-1zM44 28h1v1h-1zM56 28h4v1h-4zM62 28h1v1h-1zM22 29h3v1h-3zM31 29h1v1h-1zM56 29h1v1h-1zM60 29h1v1h-1zM62 29h1v1h-1zM24 30h1v1h-1zM26 30h1v1h-1zM32 30h3v1h-3zM37 30h1v1h-1zM40 30h4v1h-4zM55 30h2v1h-2zM63 30h1v1h-1zM6 31h3v1h-3zM11 31h1v1h-1zM27 31h1v1h-1zM47 31h1v1h-1zM55 31h3v1h-3zM7 32h1v1h-1zM10 32h5v1h-5zM23 32h2v1h-2zM27 32h1v1h-1zM45 32h1v1h-1zM47 32h1v1h-1zM56 32h2v1h-2zM3 33h1v1h-1zM8 33h1v1h-1zM11 33h1v1h-1zM38 33h1v1h-1zM47 33h1v1h-1zM53 33h4v1h-4zM14 34h1v1h-1zM23 34h1v1h-1zM26 34h1v1h-1zM37 34h1v1h-1zM39 34h1v1h-1zM55 34h3v1h-3zM24 35h1v1h-1zM52 35h1v1h-1zM54 35h1v1h-1zM57 35h1v1h-1zM3 36h1v1h-1zM26 36h3v1h-3zM52 36h1v1h-1zM54 36h1v1h-1zM2 37h1v1h-1zM26 37h1v1h-1zM30 37h2v1h-2zM53 37h1v1h-1zM55 37h1v1h-1zM31 38h3v1h-3zM45 38h1v1h-1zM51 38h2v1h-2zM55 38h2v1h-2zM25 39h1v1h-1zM32 39h2v1h-2zM35 39h1v1h-1zM45 39h2v1h-2zM52 39h1v1h-1zM55 39h2v1h-2zM8 40h2v1h-2zM21 40h1v1h-1zM25 40h1v1h-1zM36 40h1v1h-1zM41 40h1v1h-1zM51 40h2v1h-2zM59 40h1v1h-1zM28 41h1v1h-1zM34 41h1v1h-1zM36 41h1v1h-1zM41 41h2v1h-2zM57 41h4v1h-4zM26 42h1v1h-1zM35 42h1v1h-1zM41 42h2v1h-2zM60 42h1v1h-1zM5 43h2v1h-2zM36 43h1v1h-1zM43 43h1v1h-1zM59 43h1v1h-1zM61 43h1v1h-1zM5 44h1v1h-1zM26 44h1v1h-1zM45 44h1v1h-1zM51 44h2v1h-2zM59 44h3v1h-3zM63 44h1v1h-1zM7 45h1v1h-1zM46 45h1v1h-1zM52 45h1v1h-1zM58 45h1v1h-1zM8 46h1v1h-1zM17 46h1v1h-1zM37 46h1v1h-1zM45 46h1v1h-1zM61 46h1v1h-1zM8 47h2v1h-2zM19 47h3v1h-3zM30 47h1v1h-1zM37 47h2v1h-2zM44 47h1v1h-1zM8 48h2v1h-2zM15 48h1v1h-1zM18 48h1v1h-1zM20 48h1v1h-1zM29 48h1v1h-1zM31 48h3v1h-3zM38 48h1v1h-1zM55 48h1v1h-1zM57 48h1v1h-1zM62 48h1v1h-1zM7 49h1v1h-1zM9 49h1v1h-1zM17 49h5v1h-5zM30 49h1v1h-1zM35 49h2v1h-2zM54 49h1v1h-1zM6 50h1v1h-1zM31 50h1v1h-1zM35 50h1v1h-1zM37 50h1v1h-1zM44 50h1v1h-1zM62 50h1v1h-1zM5 51h1v1h-1zM7 51h1v1h-1zM29 51h2v1h-2zM35 51h1v1h-1zM43 51h4v1h-4zM49 51h2v1h-2zM59 51h1v1h-1zM5 52h1v1h-1zM14 52h1v1h-1zM28 52h1v1h-1zM31 52h3v1h-3zM35 52h1v1h-1zM43 52h1v1h-1zM47 52h1v1h-1zM49 52h1v1h-1zM60 52h3v1h-3zM4 53h1v1h-1zM7 53h1v1h-1zM16 53h1v1h-1zM24 53h1v1h-1zM32 53h1v1h-1zM34 53h2v1h-2zM43 53h1v1h-1zM46 53h3v1h-3zM3 54h1v1h-1zM16 54h1v1h-1zM33 54h1v1h-1zM57 54h1v1h-1zM61 54h1v1h-1zM17 55h1v1h-1zM21 55h2v1h-2zM37 55h1v1h-1zM45 55h1v1h-1zM57 55h1v1h-1zM61 55h2v1h-2zM19 56h1v1h-1zM22 56h1v1h-1zM24 56h1v1h-1zM36 56h1v1h-1zM43 56h2v1h-2zM46 56h1v1h-1zM54 56h1v1h-1zM60 56h1v1h-1zM62 56h1v1h-1zM24 57h1v1h-1zM35 57h1v1h-1zM42 57h1v1h-1zM46 57h2v1h-2zM60 57h2v1h-2zM7 58h1v1h-1zM19 58h1v1h-1zM24 58h1v1h-1zM28 58h1v1h-1zM35 58h2v1h-2zM38 58h1v1h-1zM46 58h1v1h-1zM48 58h1v1h-1zM58 58h2v1h-2zM8 59h1v1h-1zM25 59h2v1h-2zM35 59h1v1h-1zM47 59h1v1h-1zM54 59h1v1h-1zM56 59h2v1h-2zM7 60h3v1h-3zM18 60h1v1h-1zM25 60h1v1h-1zM34 60h2v1h-2zM58 60h2v1h-2zM35 61h1v1h-1zM46 61h1v1h-1zM8 62h2v1h-2zM23 62h1v1h-1zM37 62h1v1h-1zM42 62h1v1h-1zM45 62h1v1h-1zM17 63h1v1h-1zM26 63h1v1h-1zM35 63h1v1h-1zM37 63h1v1h-1zM45 63h1v1h-1z"/><path fill="#adff2f" d="M35 0h2v1h-2zM1 2h3v1h-3zM10 2h1v1h-1zM25 2h1v1h-1zM55 2h1v1h-1zM2 3h2v1h-2zM20 3h1v1h-1zM36 3h1v1h-1zM2 4h4v1h-4zM21 4h1v1h-1zM41 4h1v1h-1zM50 4h2v1h-2zM53 4h1v1h-1zM4 5h1v1h-1zM7 5h1v1h-1zM36 5h1v1h-1zM52 5h3v1h-3zM62 5h1v1h-1zM16 6h2v1h-2zM19 6h1v1h-1zM52 6h1v1h-1zM18 7h1v1h-1zM6 8h1v1h-1zM34 8h1v1h-1zM41 8h1v1h-1zM6 9h1v1h-1zM25 9h1v1h-1zM45 9h1v1h-1zM51 9h2v1h-2zM57 9h1v1h-1zM13 10h2v1h-2zM40 10h1v1h-1zM46 10h1v1h-1zM52 10h1v1h-1zM40 11h1v1h-1zM49 11h2v1h-2zM52 11h1v1h-1zM14 12h1v1h-1zM35 12h1v1h-1zM14 13h1v1h-1zM12 14h1v1h-1zM47 14h1v1h-1zM3 15h2v1h-2zM14 15h1v1h-1zM25 15h1v1h-1zM7 16h1v1h-1zM43 16h1v1h-1zM56 16h1v1h-1zM61 16h1v1h-1zM63 16h1v1h-1zM6 17h2v1h-2zM51 17h1v1h-1zM13 18h1v1h-1zM31 18h1v1h-1zM35 18h1v1h-1zM31 19h1v1h-1zM58 19h1v1h-1zM25 20h1v1h-1zM43 20h1v1h-1zM16 21h2v1h-2zM24 21h1v1h-1zM39 21h1v1h-1zM53 21h1v1h-1zM59 21h1v1h-1zM3 22h1v1h-1zM16 22h1v1h-1zM42 22h1v1h-1zM44 22h1v1h-1zM52 22h1v1h-1zM46 23h1v1h-1zM59 23h1v1h-1zM1 24h1v1h-1zM58 24h3v1h-3zM2 25h1v1h-1zM25 25h1v1h-1zM50 25h1v1h-1zM53 25h1v1h-1zM60 25h1v1h-1zM48 26h1v1h-1zM59 26h1v1h-1zM37 27h1v1h-1zM45 27h1v1h-1zM48 27h1v1h-1zM31 28h1v1h-1zM35 29h1v1h-1zM61 29h1v1h-1zM9 31h1v1h-1zM24 31h1v1h-1zM9 32h1v1h-1zM46 32h1v1h-1zM9 33h1v1h-1zM14 33h1v1h-1zM23 33h1v1h-1zM25 33h1v1h-1zM3 34h1v1h-1zM10 34h1v1h-1zM13 34h1v1h-1zM24 34h1v1h-1zM38 34h1v1h-1zM3 35h1v1h-1zM11 35h1v1h-1zM53 36h1v1h-1zM56 36h1v1h-1zM32 37h1v1h-1zM52 37h1v1h-1zM56 37h1v1h-1zM3 38h1v1h-1zM3 39h1v1h-1zM51 39h1v1h-1zM34 40h2v1h-2zM58 40h1v1h-1zM35 41h1v1h-1zM25 42h1v1h-1zM36 42h1v1h-1zM42 43h1v1h-1zM25 44h1v1h-1zM40 44h1v1h-1zM44 44h1v1h-1zM45 45h1v1h-1zM15 47h1v1h-1zM18 47h1v1h-1zM29 47h1v1h-1zM56 47h2v1h-2zM61 47h1v1h-1zM19 48h1v1h-1zM30 48h1v1h-1zM39 48h1v1h-1zM47 48h1v1h-1zM8 49h1v1h-1zM16 49h1v1h-1zM32 49h1v1h-1zM49 49h1v1h-1zM62 49h1v1h-1zM7 50h1v1h-1zM9 50h1v1h-1zM32 50h1v1h-1zM38 50h1v1h-1zM46 50h2v1h-2zM8 51h1v1h-1zM48 51h1v1h-1zM61 51h1v1h-1zM7 52h1v1h-1zM34 52h1v1h-1zM44 52h3v1h-3zM48 52h1v1h-1zM15 53h1v1h-1zM19 53h3v1h-3zM23 53h1v1h-1zM29 53h2v1h-2zM33 53h1v1h-1zM17 54h1v1h-1zM24 54h1v1h-1zM43 54h1v1h-1zM45 54h2v1h-2zM26 56h2v1h-2zM37 56h1v1h-1zM61 56h1v1h-1zM28 57h1v1h-1zM54 57h1v1h-1zM57 57h1v1h-1zM59 57h1v1h-1zM25 58h1v1h-1zM27 58h1v1h-1zM37 58h1v1h-1zM47 58h1v1h-1zM54 58h1v1h-1zM36 59h1v1h-1zM55 59h1v1h-1zM59 59h1v1h-1zM19 60h1v1h-1zM38 60h1v1h-1zM8 61h1v1h-1zM19 61h1v1h-1zM17 62h1v1h-1zM19 62h1v1h-1zM18 63h1v1h-1z"/><path fill="#ffff00" d="M23 0h3v1h-3zM37 0h1v1h-1zM46 0h3v1h-3zM21 1h5v1h-5zM35 1h5v1h-5zM47 1h3v1h-3zM21 2h4v1h-4zM36 2h5v1h-5zM48 2h1v1h-1zM56 2h1v1h-1zM21 3h1v1h-1zM37 3h4v1h-4zM48 3h1v1h-1zM53 3h5v1h-5zM36 4h5v1h-5zM52 4h1v1h-1zM54 4h3v1h-3zM37 5h5v1h-5zM51 5h1v1h-1zM5 6h3v1h-3zM18 6h1v1h-1zM34 6h4v1h-4zM60 6h2v1h-2zM6 7h1v1h-1zM16 7h2v1h-2zM33 7h3v1h-3zM59 7h3v1h-3zM56 8h1v1h-1zM58 8h3v1h-3zM24 9h1v1h-1zM42 9h3v1h-3zM58 9h3v1h-3zM23 10h2v1h-2zM41 10h2v1h-2zM51 10h1v1h-1zM13 11h2v1h-2zM35 11h1v1h-1zM47 11h1v1h-1zM51 11h1v1h-1zM13 12h1v1h-1zM47 12h1v1h-1zM13 13h1v1h-1zM23 13h3v1h-3zM3 14h2v1h-2zM13 14h1v1h-1zM23 14h3v1h-3zM58 14h1v1h-1zM13 15h1v1h-1zM23 15h2v1h-2zM43 15h1v1h-1zM53 15h1v1h-1zM62 15h1v1h-1zM6 16h1v1h-1zM22 16h3v1h-3zM35 16h1v1h-1zM52 16h2v1h-2zM57 16h2v1h-2zM62 16h1v1h-1zM12 17h2v1h-2zM21 17h4v1h-4zM35 17h1v1h-1zM57 17h3v1h-3zM6 18h1v1h-1zM12 18h1v1h-1zM21 18h4v1h-4zM57 18h3v1h-3zM22 19h3v1h-3zM59 19h1v1h-1zM23 20h2v1h-2zM49 20h3v1h-3zM59 20h1v1h-1zM4 21h2v1h-2zM18 21h1v1h-1zM42 21h5v1h-5zM49 21h4v1h-4zM4 22h2v1h-2zM17 22h3v1h-3zM45 22h2v1h-2zM49 22h3v1h-3zM3 23h3v1h-3zM16 23h4v1h-4zM50 23h3v1h-3zM3 24h3v1h-3zM16 24h4v1h-4zM50 24h4v1h-4zM16 25h4v1h-4zM51 25h2v1h-2zM58 25h2v1h-2zM17 26h1v1h-1zM42 26h3v1h-3zM51 26h1v1h-1zM24 27h1v1h-1zM32 27h1v1h-1zM38 27h1v1h-1zM41 27h4v1h-4zM60 27h1v1h-1zM32 28h2v1h-2zM37 28h7v1h-7zM60 28h2v1h-2zM32 29h3v1h-3zM36 29h8v1h-8zM25 30h1v1h-1zM38 30h2v1h-2zM25 31h2v1h-2zM8 32h1v1h-1zM25 32h2v1h-2zM12 33h2v1h-2zM24 33h1v1h-1zM26 33h1v1h-1zM11 34h2v1h-2zM53 34h2v1h-2zM53 35h1v1h-1zM57 36h1v1h-1zM27 37h3v1h-3zM26 38h5v1h-5zM26 39h5v1h-5zM34 39h1v1h-1zM26 40h4v1h-4zM25 41h3v1h-3zM25 43h1v1h-1zM41 43h1v1h-1zM6 44h1v1h-1zM41 44h3v1h-3zM38 45h7v1h-7zM15 46h2v1h-2zM38 46h7v1h-7zM16 47h2v1h-2zM39 47h5v1h-5zM16 48h2v1h-2zM21 48h1v1h-1zM40 48h4v1h-4zM48 48h1v1h-1zM56 48h1v1h-1zM60 48h2v1h-2zM33 49h2v1h-2zM38 49h6v1h-6zM47 49h2v1h-2zM56 49h1v1h-1zM60 49h2v1h-2zM8 50h1v1h-1zM33 50h2v1h-2zM39 50h5v1h-5zM48 50h2v1h-2zM60 50h2v1h-2zM31 51h4v1h-4zM47 51h1v1h-1zM60 51h1v1h-1zM62 51h1v1h-1zM4 52h1v1h-1zM29 52h2v1h-2zM59 52h1v1h-1zM17 53h2v1h-2zM22 53h1v1h-1zM44 53h2v1h-2zM18 54h6v1h-6zM44 54h1v1h-1zM62 54h1v1h-1zM18 55h3v1h-3zM43 55h2v1h-2zM55 55h2v1h-2zM25 56h1v1h-1zM42 56h1v1h-1zM55 56h3v1h-3zM25 57h3v1h-3zM36 57h2v1h-2zM55 57h2v1h-2zM26 58h1v1h-1zM55 58h3v1h-3zM37 59h2v1h-2zM58 59h1v1h-1zM36 60h2v1h-2zM18 61h1v1h-1zM24 61h1v1h-1zM36 61h2v1h-2zM18 62h1v1h-1zM24 62h2v1h-2zM36 62h1v1h-1zM23 63h3v1h-3zM36 63h1v1h-1zM46 63h1v1h-1z"/></pattern><clipPath id="fr"><rect x="90.0" y="130.4" width="1283.5" height="1348.5"/></clipPath></defs>
<rect x="90.0" y="130.4" width="1283.5" height="1348.5" fill="#00008c"/>
<g clip-path="url(#fr)">
<defs><path id="outerP" d="M733,201 L737,203 L739,205 L741,208 L744,210 L747,211 L750,212 L752,214 L755,215 L758,217 L761,217 L764,218 L767,219 L770,219 L773,220 L777,221 L780,223 L783,224 L785,226 L786,228 L788,229 L791,229 L795,229 L798,229 L801,228 L804,227 L807,225 L810,224 L813,223 L816,222 L819,222 L823,222 L826,221 L829,220 L832,219 L835,218 L838,218 L841,218 L845,218 L848,218 L851,218 L854,217 L857,216 L860,214 L864,213 L866,212 L869,211 L872,209 L877,208 L881,210 L884,212 L887,213 L890,214 L893,216 L895,218 L896,222 L897,225 L898,229 L900,232 L902,233 L906,235 L911,235 L914,235 L918,235 L921,235 L924,236 L927,236 L930,237 L934,237 L937,238 L940,238 L943,239 L947,240 L950,240 L953,240 L957,240 L960,241 L963,242 L966,243 L969,244 L972,244 L976,245 L979,246 L982,246 L985,247 L988,248 L991,249 L994,251 L997,252 L1000,253 L1004,255 L1000,257 L998,259 L995,262 L992,263 L989,264 L985,264 L983,264 L983,266 L984,269 L983,272 L983,275 L982,278 L981,282 L980,284 L977,284 L974,285 L971,286 L968,288 L965,290 L962,291 L959,293 L956,295 L956,298 L956,301 L954,304 L953,307 L950,310 L949,313 L948,317 L952,319 L956,319 L959,319 L963,319 L966,320 L968,319 L971,319 L975,320 L978,320 L981,320 L985,320 L988,321 L991,321 L990,318 L988,316 L986,319 L984,322 L983,325 L982,328 L980,331 L977,332 L974,333 L971,333 L967,335 L963,338 L967,342 L970,344 L974,345 L976,345 L975,346 L973,349 L971,351 L968,353 L965,354 L963,355 L964,357 L965,360 L966,363 L966,366 L969,367 L972,369 L975,371 L978,372 L981,372 L982,369 L984,366 L987,364 L990,362 L993,360 L997,360 L1001,359 L1004,358 L1007,356 L1009,354 L1013,353 L1016,353 L1019,354 L1022,356 L1025,357 L1027,358 L1024,356 L1021,356 L1018,357 L1016,359 L1014,361 L1011,363 L1009,365 L1006,367 L1006,370 L1006,373 L1006,377 L1007,380 L1007,383 L1008,387 L1010,390 L1012,392 L1015,394 L1017,396 L1020,398 L1022,401 L1024,402 L1025,402 L1029,402 L1032,403 L1035,405 L1038,405 L1041,406 L1044,406 L1048,406 L1051,407 L1055,407 L1058,408 L1061,407 L1064,405 L1067,403 L1070,401 L1072,399 L1073,402 L1073,405 L1073,407 L1071,405 L1068,405 L1065,406 L1062,408 L1059,410 L1057,413 L1054,416 L1051,418 L1048,420 L1047,420 L1046,422 L1044,425 L1043,428 L1041,431 L1040,433 L1041,435 L1042,438 L1044,441 L1046,444 L1048,447 L1050,450 L1055,449 L1058,447 L1060,445 L1063,442 L1066,445 L1067,448 L1068,450 L1070,453 L1071,456 L1073,458 L1073,461 L1074,464 L1074,468 L1074,471 L1073,475 L1072,478 L1072,479 L1070,480 L1068,483 L1066,486 L1064,489 L1062,493 L1066,496 L1069,497 L1072,499 L1076,500 L1077,503 L1079,506 L1079,509 L1080,512 L1080,516 L1081,520 L1084,522 L1087,523 L1090,524 L1093,524 L1096,525 L1099,526 L1102,528 L1105,529 L1107,531 L1111,531 L1114,530 L1117,529 L1120,529 L1123,529 L1128,529 L1130,533 L1131,536 L1133,539 L1134,541 L1136,544 L1138,546 L1139,549 L1140,552 L1142,551 L1145,551 L1148,551 L1151,550 L1155,550 L1158,550 L1161,550 L1161,553 L1161,556 L1160,560 L1159,563 L1158,566 L1158,570 L1161,573 L1164,575 L1168,577 L1172,582 L1171,587 L1169,590 L1168,593 L1166,595 L1164,597 L1162,597 L1162,599 L1162,603 L1163,607 L1165,611 L1167,613 L1169,615 L1172,618 L1175,620 L1178,623 L1178,627 L1177,630 L1176,633 L1174,636 L1173,638 L1173,641 L1174,644 L1174,648 L1174,651 L1174,655 L1175,659 L1175,660 L1174,661 L1174,665 L1175,668 L1177,672 L1178,676 L1178,680 L1178,683 L1178,686 L1177,689 L1175,690 L1176,691 L1178,694 L1180,696 L1182,699 L1184,701 L1185,704 L1187,707 L1188,710 L1190,713 L1190,716 L1191,720 L1193,723 L1194,726 L1196,729 L1198,732 L1197,737 L1196,740 L1194,743 L1192,745 L1188,746 L1184,746 L1181,748 L1178,751 L1182,754 L1185,755 L1188,756 L1191,758 L1193,760 L1196,763 L1198,764 L1197,767 L1197,770 L1197,773 L1197,776 L1198,778 L1200,781 L1201,784 L1202,788 L1203,790 L1205,793 L1207,795 L1210,796 L1212,798 L1215,800 L1217,802 L1218,805 L1220,808 L1221,811 L1222,815 L1218,815 L1215,816 L1211,816 L1208,816 L1205,816 L1201,816 L1198,817 L1194,819 L1193,823 L1193,827 L1192,830 L1191,833 L1191,836 L1190,840 L1193,843 L1194,846 L1196,849 L1198,852 L1200,855 L1201,857 L1203,860 L1205,862 L1208,865 L1211,868 L1213,871 L1214,874 L1214,877 L1214,880 L1213,884 L1213,887 L1213,890 L1214,893 L1214,896 L1215,900 L1215,903 L1215,906 L1214,909 L1214,912 L1213,915 L1212,918 L1211,922 L1210,925 L1210,928 L1210,931 L1210,934 L1211,937 L1212,940 L1212,944 L1211,947 L1211,950 L1211,953 L1211,956 L1211,960 L1211,963 L1210,966 L1209,970 L1208,973 L1206,976 L1204,978 L1203,981 L1201,985 L1203,988 L1204,992 L1205,995 L1206,999 L1206,1001 L1206,1005 L1207,1008 L1208,1009 L1207,1011 L1206,1014 L1206,1017 L1204,1020 L1202,1022 L1199,1024 L1196,1025 L1194,1027 L1192,1030 L1191,1033 L1189,1036 L1189,1039 L1188,1042 L1187,1044 L1185,1047 L1183,1050 L1182,1052 L1180,1055 L1179,1058 L1178,1061 L1177,1064 L1175,1067 L1173,1069 L1170,1070 L1166,1072 L1163,1073 L1161,1076 L1159,1079 L1158,1082 L1157,1086 L1156,1089 L1155,1093 L1153,1096 L1152,1099 L1150,1102 L1148,1104 L1145,1106 L1142,1108 L1139,1109 L1136,1111 L1133,1113 L1131,1115 L1128,1117 L1126,1119 L1123,1121 L1121,1123 L1119,1125 L1117,1128 L1116,1130 L1114,1132 L1112,1135 L1110,1137 L1109,1140 L1108,1143 L1107,1146 L1106,1149 L1105,1152 L1103,1154 L1102,1156 L1100,1159 L1097,1161 L1094,1163 L1090,1164 L1087,1166 L1085,1168 L1084,1171 L1084,1174 L1084,1178 L1083,1181 L1083,1184 L1083,1187 L1083,1191 L1083,1194 L1082,1197 L1080,1199 L1078,1202 L1077,1205 L1076,1207 L1074,1210 L1070,1211 L1067,1212 L1064,1213 L1062,1215 L1059,1217 L1057,1219 L1054,1221 L1052,1222 L1050,1225 L1048,1227 L1046,1230 L1044,1233 L1042,1235 L1039,1237 L1037,1239 L1034,1240 L1031,1241 L1028,1242 L1025,1242 L1021,1242 L1019,1243 L1018,1245 L1016,1248 L1015,1251 L1013,1254 L1011,1256 L1009,1259 L1008,1262 L1007,1265 L1006,1268 L1007,1271 L1008,1275 L1008,1278 L1008,1282 L1007,1285 L1005,1288 L1004,1291 L1002,1294 L1001,1297 L999,1300 L996,1301 L992,1302 L989,1303 L986,1305 L983,1307 L981,1309 L978,1309 L975,1309 L972,1309 L968,1309 L965,1308 L962,1307 L959,1307 L956,1307 L953,1309 L950,1310 L947,1312 L944,1314 L941,1315 L937,1315 L934,1314 L931,1314 L927,1313 L924,1313 L921,1314 L917,1314 L914,1314 L910,1314 L907,1314 L904,1316 L901,1319 L899,1322 L896,1323 L893,1324 L890,1323 L886,1322 L883,1320 L880,1319 L876,1318 L873,1318 L870,1320 L867,1321 L864,1322 L861,1324 L858,1323 L855,1322 L852,1321 L849,1319 L846,1317 L843,1316 L839,1315 L836,1316 L833,1316 L830,1317 L826,1318 L823,1317 L820,1316 L818,1315 L816,1314 L812,1314 L809,1314 L806,1315 L802,1315 L800,1314 L797,1312 L795,1310 L792,1308 L790,1306 L787,1304 L785,1303 L782,1302 L779,1301 L776,1300 L773,1298 L770,1298 L766,1298 L763,1299 L759,1299 L755,1297 L754,1294 L752,1291 L750,1288 L748,1286 L745,1284 L743,1282 L742,1279 L739,1279 L736,1278 L733,1277 L730,1277 L726,1277 L723,1278 L720,1279 L717,1280 L714,1280 L711,1280 L708,1281 L705,1281 L701,1282 L698,1284 L695,1285 L692,1286 L689,1286 L686,1285 L682,1283 L679,1282 L676,1281 L673,1282 L669,1283 L667,1284 L663,1286 L660,1286 L657,1286 L654,1286 L650,1285 L647,1285 L644,1286 L641,1288 L638,1289 L635,1292 L632,1294 L629,1296 L626,1296 L623,1297 L619,1297 L616,1297 L613,1298 L609,1297 L606,1297 L603,1298 L600,1299 L597,1298 L594,1297 L591,1296 L588,1295 L585,1294 L582,1294 L578,1294 L575,1294 L572,1293 L569,1292 L566,1292 L562,1292 L559,1291 L556,1291 L553,1290 L550,1290 L546,1290 L543,1291 L540,1291 L536,1291 L534,1290 L533,1289 L530,1288 L527,1288 L523,1287 L520,1287 L517,1286 L515,1285 L512,1285 L508,1285 L505,1285 L502,1285 L499,1284 L496,1284 L495,1280 L494,1277 L491,1275 L489,1273 L486,1271 L483,1268 L481,1266 L479,1264 L476,1261 L474,1258 L473,1255 L471,1252 L469,1250 L466,1248 L463,1246 L461,1245 L458,1243 L455,1241 L452,1240 L449,1238 L446,1238 L442,1238 L438,1239 L433,1239 L430,1239 L427,1237 L425,1235 L424,1233 L422,1231 L419,1228 L417,1225 L414,1223 L411,1221 L408,1220 L405,1219 L401,1219 L398,1218 L395,1217 L392,1215 L394,1212 L396,1209 L397,1206 L398,1203 L398,1200 L399,1196 L400,1193 L401,1189 L401,1186 L402,1183 L404,1180 L405,1177 L406,1174 L405,1168 L401,1165 L398,1164 L395,1163 L392,1162 L389,1161 L386,1160 L384,1159 L384,1157 L385,1154 L385,1151 L385,1147 L385,1145 L384,1142 L383,1139 L382,1136 L380,1133 L379,1129 L378,1126 L378,1123 L379,1120 L378,1117 L377,1114 L376,1111 L373,1109 L371,1107 L370,1104 L369,1101 L369,1098 L368,1095 L366,1092 L364,1088 L366,1083 L368,1080 L370,1078 L372,1079 L372,1078 L370,1075 L369,1072 L368,1068 L366,1065 L364,1063 L363,1060 L362,1057 L361,1054 L361,1051 L360,1047 L360,1044 L359,1041 L358,1038 L356,1035 L353,1032 L352,1029 L351,1025 L352,1022 L355,1019 L357,1016 L358,1013 L357,1009 L356,1006 L354,1002 L353,1002 L352,1001 L351,997 L352,993 L352,988 L353,984 L354,981 L353,978 L352,975 L350,972 L348,969 L347,966 L347,963 L346,960 L344,957 L343,952 L345,948 L347,946 L350,944 L353,942 L355,940 L357,938 L359,934 L356,931 L354,928 L351,926 L348,924 L346,922 L344,919 L342,916 L342,912 L343,909 L342,906 L341,902 L340,899 L339,896 L338,892 L337,889 L335,886 L333,884 L331,882 L328,880 L325,878 L323,876 L321,874 L319,871 L319,868 L318,865 L316,862 L316,859 L315,856 L314,852 L314,849 L314,846 L315,843 L316,840 L318,837 L319,834 L320,830 L319,827 L318,824 L318,820 L318,817 L319,814 L321,811 L324,808 L326,805 L327,802 L327,799 L327,796 L326,792 L326,789 L327,786 L328,783 L329,780 L331,777 L333,774 L335,771 L335,770 L335,770 L338,769 L341,767 L344,765 L347,765 L351,765 L354,766 L357,766 L360,767 L365,767 L369,763 L370,760 L371,757 L371,754 L372,750 L374,747 L375,745 L375,742 L374,738 L374,735 L375,732 L375,729 L374,725 L372,722 L371,719 L370,716 L370,713 L372,710 L374,706 L376,703 L376,699 L376,696 L375,693 L374,689 L370,687 L367,686 L363,684 L360,682 L358,680 L356,678 L354,675 L352,673 L350,671 L348,668 L347,665 L346,663 L344,660 L342,658 L339,656 L336,654 L334,652 L331,650 L329,647 L327,644 L327,640 L327,637 L328,633 L328,630 L328,626 L327,623 L325,620 L323,618 L321,615 L319,611 L320,608 L321,605 L323,602 L324,599 L325,596 L326,593 L326,590 L327,587 L327,584 L327,581 L328,578 L329,574 L330,571 L331,569 L332,568 L334,565 L337,561 L335,555 L334,552 L331,548 L327,545 L324,543 L321,541 L319,538 L316,536 L314,533 L314,531 L313,528 L312,525 L311,521 L310,519 L311,516 L312,512 L312,509 L313,506 L314,502 L315,499 L317,497 L320,495 L321,492 L322,489 L323,486 L323,483 L323,480 L324,476 L326,473 L329,472 L332,471 L335,470 L339,470 L342,469 L344,467 L347,465 L349,463 L352,461 L355,460 L358,459 L362,459 L366,458 L368,455 L370,453 L372,450 L373,447 L375,444 L377,442 L379,439 L380,436 L382,433 L383,430 L386,427 L387,424 L389,421 L390,418 L391,414 L391,411 L393,408 L395,406 L398,404 L401,402 L403,399 L403,396 L403,393 L404,390 L405,387 L407,385 L410,382 L412,381 L414,380 L416,378 L419,376 L421,373 L423,370 L425,368 L427,366 L429,365 L432,363 L435,362 L439,361 L442,360 L445,358 L447,356 L450,354 L452,352 L455,350 L458,350 L462,349 L466,348 L469,347 L472,345 L474,343 L477,341 L479,340 L482,339 L485,338 L488,335 L490,333 L493,330 L495,331 L498,333 L500,336 L501,339 L503,342 L505,346 L509,344 L512,342 L515,340 L517,338 L519,335 L522,333 L524,331 L527,329 L529,327 L532,326 L535,325 L538,323 L541,322 L544,320 L546,317 L547,314 L549,311 L552,309 L554,307 L557,306 L561,305 L564,304 L566,302 L568,300 L570,297 L572,295 L575,293 L578,291 L581,288 L583,285 L585,282 L586,279 L589,276 L591,273 L595,272 L599,271 L602,269 L605,267 L607,265 L609,262 L610,259 L612,257 L613,253 L615,250 L617,247 L620,246 L623,244 L626,244 L630,243 L633,242 L636,240 L638,238 L641,236 L644,235 L646,234 L649,232 L652,230 L655,229 L658,227 L661,226 L665,226 L668,225 L672,224 L675,222 L677,220 L679,216 L682,212 L684,210 L687,208 L691,206 L694,206 L698,206 L701,207 L705,208 L708,208 L711,207 L714,207 L717,207 L720,207 L723,206 L726,204 L729,202Z"/><clipPath id="cpo"><use href="#outerP"/></clipPath></defs>
<use href="#outerP" fill="url(#tfy)"/>
<g clip-path="url(#cpo)"><use href="#outerP" fill="none" stroke="url(#tfo)" stroke-width="12" stroke-linejoin="round"/></g>
<path d="M992.2,1302.0 L995.5,1301.1 L999.1,1300.3 L1000.8,1297.1 L1002.3,1294.0 L1003.7,1290.9 L1005.2,1287.9 L1006.7,1284.8 L1007.8,1281.7 L1008.2,1278.4 L1007.9,1275.0 L1007.1,1271.4 L1006.3,1268.1 L1006.7,1264.9 L1007.8,1261.8 L1009.5,1259.1 L1011.5,1256.5 L1013.4,1253.9 L1015.0,1251.1 L1016.4,1248.2 L1017.5,1245.2 L1018.7,1242.5 L1021.5,1241.9 L1024.8,1241.8 L1028.2,1241.9 L1031.3,1241.4 L1034.0,1240.1 L1036.5,1238.5 L1039.1,1237.0 L1041.6,1235.2 L1043.8,1233.0 L1045.8,1230.2 L1047.7,1227.2 L1049.6,1224.6 L1051.6,1222.3 L1054.1,1220.5 L1056.8,1219.0 L1059.3,1217.2 L1061.5,1215.0 L1063.9,1213.0 L1066.8,1211.7 L1070.1,1211.0 L1073.6,1210.2 L1075.6,1207.4 L1076.9,1204.6 L1078.2,1201.9 L1079.9,1199.3 L1081.6,1196.6 L1082.6,1193.7 L1082.8,1190.5 L1082.5,1187.2 L1082.6,1183.9 L1083.2,1180.8 L1083.6,1177.7 L1083.7,1174.4 L1084.0,1171.1 L1085.0,1168.3 L1087.2,1166.0 L1090.3,1164.2 L1093.8,1162.6 L1097.1,1160.9 L1099.8,1158.9 L1101.7,1156.4 L1103.0,1154.0 L1104.5,1151.7 L1106.1,1149.1 L1107.4,1146.3 L1108.1,1143.1 L1108.7,1139.9 L1109.8,1137.0 L1111.6,1134.6 L1113.9,1132.4 L1115.9,1130.1 L1116.9,1127.8 L1118.6,1125.5 L1120.7,1123.0 L1123.2,1120.9 L1125.8,1118.9 L1128.3,1116.9 L1130.7,1114.8 L1133.1,1112.6 L1135.6,1110.6 L1138.5,1109.1 L1141.9,1107.9 L1145.1,1106.0 L1147.8,1104.0 L1150.1,1101.6 L1151.9,1098.8 L1153.4,1095.7 L1154.8,1092.5 L1156.0,1089.2 L1157.2,1085.8 L1157.6,1084.8 L1100.0,1130.0 L1040.0,1190.0 L995.0,1250.0 L991.7,1302.2Z" fill="url(#tfs)"/>
<path d="M334.7,569.0 L334.7,569.1 L335.0,600.0 L335.0,600.0 L335.0,600.0 L350.0,640.0 L350.0,640.0 L372.6,685.2 L372.6,685.2 L372.7,685.3 L375.5,686.8 L375.6,686.8 L375.8,686.9 L375.9,687.0 L376.0,687.1 L376.2,687.2 L376.2,687.3 L376.4,687.4 L376.5,687.5 L376.6,687.7 L376.6,687.7 L376.8,687.9 L376.8,688.0 L376.9,688.2 L376.9,688.3 L377.0,688.5 L377.1,688.6 L377.1,688.7 L378.1,692.4 L378.1,692.4 L378.1,692.5 L378.2,692.6 L378.9,695.6 L378.9,695.6 L378.9,695.8 L378.9,695.9 L378.9,696.0 L378.9,696.1 L379.1,698.1 L379.1,698.2 L379.1,698.2 L379.6,699.3 L379.7,699.4 L379.8,699.6 L379.8,699.8 L379.8,700.0 L379.8,700.2 L379.8,700.4 L379.8,700.6 L379.7,700.8 L373.9,718.3 L373.9,718.4 L373.9,718.4 L373.9,718.5 L373.9,718.6 L373.9,718.6 L375.0,721.3 L375.0,721.3 L376.3,724.2 L376.4,724.3 L376.5,724.5 L376.5,724.6 L377.5,727.6 L377.5,727.7 L377.5,727.8 L377.6,728.0 L377.6,728.0 L377.6,728.2 L377.6,728.3 L377.6,728.4 L377.9,731.5 L377.9,731.6 L377.9,731.8 L377.8,732.0 L377.8,732.2 L377.8,732.3 L377.4,735.0 L377.4,735.2 L377.4,738.1 L377.4,738.2 L377.6,741.2 L377.6,741.3 L378.2,744.0 L378.2,744.1 L378.3,744.3 L378.3,744.5 L378.3,744.6 L378.3,744.8 L378.3,744.9 L378.3,745.1 L378.3,745.2 L378.2,745.4 L378.2,745.5 L378.2,745.7 L378.1,745.7 L378.0,745.9 L378.0,746.0 L377.9,746.2 L377.8,746.3 L377.8,746.4 L376.3,748.7 L376.3,748.7 L376.3,748.7 L375.2,751.2 L375.1,751.4 L374.3,754.2 L374.3,754.3 L373.6,757.6 L373.6,757.6 L373.6,757.7 L373.6,757.7 L372.8,761.0 L372.8,761.1 L372.7,761.2 L372.7,761.4 L372.6,761.5 L372.6,761.6 L371.3,764.5 L371.2,764.6 L371.2,764.7 L371.1,764.9 L371.0,765.0 L370.9,765.1 L370.8,765.3 L370.8,765.3 L367.6,769.0 L367.5,769.1 L367.4,769.2 L367.3,769.3 L367.2,769.4 L367.1,769.5 L367.0,769.6 L366.8,769.7 L366.7,769.7 L366.6,769.8 L366.5,769.9 L366.3,769.9 L366.2,770.0 L366.0,770.0 L366.0,770.0 L365.8,770.1 L365.7,770.1 L365.5,770.1 L365.3,770.1 L365.2,770.1 L360.4,770.1 L360.3,770.1 L360.2,770.1 L360.0,770.1 L360.0,770.1 L359.8,770.1 L359.7,770.1 L359.6,770.0 L356.4,769.2 L356.4,769.2 L353.3,768.5 L353.2,768.5 L351.8,768.3 L351.7,768.3 L351.7,768.3 L350.0,770.0 L350.0,770.0 L350.0,770.0 L352.0,800.0 L352.0,800.0 L352.0,800.0 L360.0,829.9 L360.0,830.1 L368.0,870.0 L368.0,870.0 L375.0,900.0 L375.0,900.0 L384.9,936.8 L385.0,937.0 L385.0,937.2 L387.8,1000.4 L387.8,1000.6 L387.8,1000.8 L387.7,1001.0 L387.7,1001.2 L387.6,1001.4 L387.5,1001.5 L387.4,1001.7 L387.3,1001.8 L387.2,1002.0 L387.0,1002.1 L386.8,1002.2 L386.7,1002.3 L386.5,1002.4 L386.3,1002.4 L386.1,1002.5 L385.9,1002.5 L385.7,1002.5 L385.6,1002.5 L385.4,1002.5 L385.2,1002.4 L385.0,1002.3 L384.8,1002.3 L384.7,1002.2 L384.5,1002.0 L382.1,1000.0 L382.1,1000.0 L382.1,1000.0 L379.0,1031.6 L379.0,1031.6 L379.0,1079.0 L379.0,1079.0 L379.0,1079.0 L391.5,1110.2 L391.6,1110.4 L391.6,1110.6 L391.6,1110.8 L394.8,1151.6 L394.8,1151.6 L394.8,1151.6 L401.2,1161.9 L401.2,1161.9 L401.3,1162.0 L401.6,1162.1 L401.7,1162.1 L401.8,1162.2 L402.0,1162.3 L402.1,1162.3 L402.2,1162.4 L407.0,1165.4 L407.1,1165.5 L407.2,1165.6 L407.4,1165.7 L407.4,1165.8 L407.6,1165.9 L407.6,1166.0 L407.8,1166.1 L407.8,1166.2 L407.9,1166.4 L408.0,1166.5 L408.1,1166.6 L408.1,1166.7 L408.2,1166.9 L408.3,1167.0 L408.3,1167.2 L408.3,1167.3 L408.4,1167.5 L408.4,1167.7 L408.4,1167.8 L409.0,1173.4 L409.0,1173.5 L409.0,1173.7 L409.0,1173.9 L409.0,1174.0 L408.9,1174.2 L408.9,1174.3 L408.9,1174.4 L408.9,1174.4 L410.1,1176.3 L410.2,1176.5 L410.3,1176.6 L410.4,1176.8 L410.4,1177.0 L410.4,1177.2 L410.4,1177.4 L410.4,1177.6 L407.4,1202.1 L407.4,1202.1 L407.4,1202.1 L426.3,1221.1 L426.3,1221.1 L426.4,1221.1 L476.8,1240.0 L477.0,1240.0 L502.1,1246.4 L502.1,1246.4 L502.1,1246.4 L526.6,1215.9 L526.7,1215.7 L526.8,1215.6 L527.0,1215.5 L527.2,1215.4 L527.3,1215.3 L527.5,1215.2 L527.7,1215.2 L527.9,1215.1 L528.1,1215.1 L528.3,1215.1 L528.5,1215.1 L528.7,1215.2 L568.1,1227.3 L568.3,1227.4 L568.5,1227.4 L568.6,1227.5 L568.8,1227.6 L599.8,1252.5 L600.0,1252.6 L600.2,1252.8 L600.3,1253.0 L615.9,1278.0 L615.9,1278.0 L616.0,1278.0 L678.9,1271.6 L679.1,1271.6 L759.8,1268.5 L760.0,1268.5 L760.2,1268.5 L775.8,1271.6 L775.8,1271.6 L807.3,1278.0 L807.5,1278.0 L854.8,1290.6 L854.8,1290.6 L854.8,1290.6 L886.3,1284.3 L886.3,1284.3 L886.3,1284.3 L921.2,1271.0 L921.3,1271.0 L921.3,1271.0 L960.0,1238.7 L960.0,1238.7 L960.0,1238.7 L985.7,1206.6 L985.8,1206.5 L985.9,1206.4 L1011.6,1183.9 L1011.6,1183.9 L1043.9,1158.0 L1043.9,1158.0 L1043.9,1158.0 L1066.5,1125.8 L1066.5,1125.8 L1066.5,1125.8 L1082.5,1081.0 L1082.5,1080.8 L1082.6,1080.6 L1082.7,1080.5 L1082.9,1080.3 L1114.8,1045.0 L1114.8,1045.0 L1114.8,1045.0 L1130.8,1010.4 L1130.9,1010.2 L1131.0,1010.0 L1131.2,1009.9 L1131.3,1009.7 L1145.3,997.4 L1145.3,997.4 L1145.3,997.4 L1154.7,966.2 L1154.8,966.0 L1154.9,965.8 L1155.0,965.6 L1170.3,944.1 L1170.4,943.9 L1170.6,943.8 L1170.7,943.7 L1170.8,943.6 L1171.0,943.5 L1176.8,940.3 L1177.0,940.2 L1177.2,940.1 L1177.4,940.0 L1177.6,940.0 L1177.8,940.0 L1198.5,940.0 L1198.6,940.0 L1198.5,940.0 L1197.8,937.4 L1197.8,937.4 L1196.6,932.9 L1196.6,932.7 L1196.6,932.6 L1196.6,932.4 L1196.6,930.3 L1196.6,930.1 L1196.7,930.0 L1196.7,929.8 L1196.8,929.6 L1196.9,929.4 L1197.0,929.3 L1197.1,929.1 L1197.2,929.0 L1197.4,928.9 L1197.5,928.7 L1197.7,928.6 L1199.0,927.9 L1199.0,927.9 L1199.0,927.9 L1199.0,917.7 L1199.0,917.5 L1199.0,917.3 L1199.1,917.1 L1199.7,915.0 L1199.7,914.9 L1200.4,912.3 L1200.5,912.2 L1201.0,909.7 L1201.0,909.7 L1201.5,907.1 L1201.5,907.1 L1201.8,904.6 L1201.8,904.5 L1201.9,902.6 L1201.9,902.5 L1201.8,900.6 L1201.8,900.5 L1201.6,898.0 L1201.5,897.9 L1201.2,895.3 L1201.2,895.3 L1200.6,892.0 L1200.6,891.9 L1200.1,887.6 L1200.0,887.3 L1200.2,882.7 L1200.2,882.5 L1200.8,878.7 L1201.1,876.3 L1201.1,876.2 L1201.1,876.2 L1199.1,874.4 L1199.1,874.4 L1195.8,871.1 L1195.6,870.9 L1193.1,867.6 L1193.1,867.6 L1191.2,865.1 L1191.1,865.1 L1189.4,862.7 L1189.3,862.5 L1189.2,862.4 L1189.1,862.1 L1189.0,861.9 L1183.3,833.6 L1183.3,833.5 L1183.3,833.3 L1183.3,833.1 L1183.3,832.9 L1183.3,832.8 L1189.6,807.9 L1189.6,807.9 L1189.6,807.9 L1189.6,807.7 L1189.6,807.5 L1189.7,807.3 L1189.8,807.1 L1189.9,807.0 L1190.0,806.8 L1190.1,806.6 L1190.2,806.5 L1190.4,806.3 L1190.6,806.2 L1190.7,806.1 L1193.6,804.8 L1193.8,804.7 L1194.0,804.6 L1197.8,803.6 L1197.8,803.6 L1197.8,803.6 L1195.9,801.9 L1195.7,801.8 L1195.6,801.7 L1192.3,797.7 L1192.2,797.6 L1192.1,797.4 L1189.7,792.9 L1189.7,792.8 L1189.6,792.6 L1188.2,788.5 L1188.1,788.5 L1187.3,785.7 L1187.3,785.6 L1187.0,784.9 L1187.0,784.9 L1186.9,784.9 L1183.7,780.7 L1183.6,780.5 L1183.5,780.4 L1183.4,780.2 L1183.3,780.0 L1183.3,779.8 L1183.3,779.6 L1183.3,779.4 L1183.3,779.3 L1183.9,772.6 L1183.9,772.5 L1183.9,769.5 L1183.9,769.3 L1183.9,769.2 L1183.9,769.1 L1183.9,769.1 L1183.1,768.4 L1183.0,768.3 L1182.3,767.8 L1182.2,767.8 L1182.2,767.8 L1181.1,767.3 L1181.0,767.3 L1180.5,767.2 L1180.3,767.1 L1180.1,767.0 L1180.0,766.9 L1179.8,766.8 L1179.7,766.7 L1179.5,766.5 L1179.4,766.4 L1179.3,766.2 L1179.2,766.1 L1179.2,765.9 L1179.1,765.7 L1176.4,754.0 L1176.4,754.0 L1176.3,753.9 L1176.2,753.9 L1176.1,753.7 L1176.0,753.7 L1175.9,753.5 L1175.8,753.5 L1175.7,753.3 L1175.6,753.3 L1175.5,753.1 L1175.5,753.0 L1175.4,752.9 L1175.3,752.8 L1175.3,752.6 L1175.2,752.5 L1175.2,752.3 L1175.1,752.2 L1175.1,752.0 L1175.1,752.0 L1175.0,751.8 L1175.0,751.7 L1175.0,751.5 L1175.0,751.4 L1175.0,751.2 L1175.1,751.1 L1175.1,750.9 L1175.1,750.8 L1175.1,750.6 L1175.2,750.5 L1175.2,750.4 L1175.3,750.3 L1175.4,750.1 L1175.4,750.0 L1175.4,749.9 L1175.4,749.9 L1172.8,738.6 L1172.8,738.4 L1172.8,738.2 L1172.8,738.0 L1172.8,737.8 L1172.8,737.6 L1172.9,737.4 L1173.0,737.2 L1173.1,737.1 L1173.2,736.9 L1173.3,736.8 L1173.4,736.6 L1173.6,736.5 L1173.8,736.4 L1173.9,736.3 L1174.1,736.2 L1180.8,733.9 L1180.9,733.8 L1181.1,733.8 L1183.8,733.4 L1183.8,733.3 L1183.8,733.3 L1183.0,732.0 L1183.0,732.0 L1181.1,728.5 L1181.1,728.4 L1179.2,724.2 L1179.1,723.9 L1177.8,719.3 L1177.7,719.0 L1177.4,717.0 L1177.4,717.0 L1177.4,716.9 L1176.8,715.7 L1176.8,715.7 L1175.4,712.9 L1175.4,712.9 L1174.2,710.6 L1174.1,710.6 L1172.9,708.7 L1172.9,708.6 L1171.5,706.8 L1171.5,706.8 L1169.5,704.4 L1169.4,704.3 L1166.9,701.1 L1166.8,700.9 L1165.8,699.2 L1165.7,699.0 L1165.6,698.9 L1165.6,698.7 L1165.5,698.5 L1164.3,691.3 L1164.3,691.1 L1164.3,690.9 L1164.3,681.9 L1164.3,681.7 L1164.3,681.6 L1164.4,681.4 L1164.4,681.2 L1164.5,681.0 L1164.6,680.9 L1164.7,680.7 L1164.8,680.6 L1165.0,680.4 L1165.1,680.3 L1165.2,680.3 L1165.2,680.2 L1165.0,678.9 L1164.9,678.8 L1164.4,676.9 L1164.3,676.7 L1164.3,676.5 L1164.3,676.3 L1164.3,650.0 L1164.3,650.0 L1164.3,650.0 L1155.2,654.8 L1155.1,654.9 L1154.9,654.9 L1154.7,655.0 L1154.5,655.0 L1154.3,655.0 L1145.8,655.0 L1145.6,655.0 L1145.4,655.0 L1145.2,654.9 L1145.0,654.9 L1144.8,654.8 L1144.7,654.7 L1144.5,654.6 L1144.4,654.4 L1144.2,654.3 L1144.1,654.1 L1144.0,654.0 L1143.9,653.8 L1143.9,653.6 L1143.8,653.4 L1139.0,632.2 L1139.0,632.2 L1139.0,632.2 L1126.4,613.2 L1126.4,613.2 L1126.4,613.2 L1107.6,594.5 L1107.5,594.4 L1107.4,594.2 L1107.3,594.0 L1094.8,569.0 L1094.8,569.0 L1094.8,569.0 L1063.4,537.6 L1063.2,537.4 L1063.1,537.2 L1044.6,506.4 L1044.5,506.2 L1044.4,506.1 L1044.4,505.9 L1044.3,505.7 L1044.3,505.5 L1044.3,505.3 L1044.3,480.6 L1044.3,480.6 L1044.3,480.6 L1038.0,458.6 L1038.0,458.5 L1038.0,458.4 L1037.7,458.0 L1037.6,457.8 L1037.5,457.6 L1037.5,457.4 L1037.5,457.2 L1037.4,457.0 L1037.5,456.8 L1037.5,456.7 L1037.5,456.5 L1037.6,456.3 L1037.7,456.1 L1037.8,455.9 L1037.9,455.8 L1038.0,455.6 L1038.2,455.5 L1038.3,455.3 L1038.5,455.2 L1038.7,455.2 L1038.9,455.1 L1039.0,455.0 L1039.2,455.0 L1039.4,455.0 L1042.7,455.0 L1042.8,455.0 L1042.8,455.0 L1040.6,451.7 L1040.5,451.6 L1038.8,448.9 L1038.8,448.9 L1036.8,446.2 L1036.8,446.1 L1034.7,442.8 L1034.6,442.6 L1032.9,439.3 L1032.9,439.3 L1029.7,433.2 L1029.6,433.0 L1029.6,432.8 L1029.5,432.6 L1029.5,432.4 L1029.5,432.3 L1029.5,432.1 L1029.5,431.9 L1029.5,431.7 L1029.6,431.5 L1029.7,431.3 L1029.8,431.2 L1029.9,431.0 L1033.7,426.1 L1033.7,426.1 L1033.7,426.0 L1034.9,423.7 L1034.9,423.6 L1036.6,420.5 L1036.6,420.5 L1037.8,418.3 L1037.8,418.3 L1037.9,418.2 L1038.9,414.7 L1038.9,414.7 L1038.9,414.7 L1036.2,414.2 L1036.0,414.2 L1032.2,413.2 L1032.0,413.1 L1028.6,411.8 L1028.6,411.8 L1026.2,411.0 L1026.2,411.0 L1026.1,411.0 L1025.9,410.9 L1025.8,410.9 L1025.8,410.9 L1021.7,412.1 L1021.5,412.1 L1021.3,412.2 L1021.1,412.2 L1021.0,412.2 L1020.8,412.1 L1020.6,412.1 L1020.4,412.0 L1020.2,411.9 L1020.1,411.8 L1019.9,411.7 L1019.8,411.6 L1019.6,411.4 L1015.9,406.9 L1015.8,406.8 L1014.1,405.1 L1014.0,405.1 L1012.0,403.4 L1011.9,403.3 L1009.3,401.5 L1009.2,401.4 L1005.8,398.8 L1005.7,398.7 L1005.6,398.6 L1004.9,397.9 L1004.8,397.7 L1004.7,397.6 L1004.6,397.4 L1004.5,397.2 L1004.5,397.0 L1000.1,379.5 L1000.1,379.5 L1000.1,379.5 L999.9,379.6 L999.7,379.6 L999.5,379.6 L999.4,379.7 L999.2,379.7 L999.0,379.6 L998.8,379.6 L998.6,379.5 L998.4,379.5 L998.3,379.4 L998.1,379.3 L997.9,379.1 L997.8,379.0 L997.7,378.9 L997.6,378.7 L997.5,378.5 L997.4,378.4 L997.4,378.2 L997.3,378.0 L997.3,377.8 L997.3,377.6 L997.0,373.9 L997.0,373.8 L996.9,370.6 L996.9,370.6 L996.8,368.8 L996.8,368.8 L996.8,368.8 L995.3,368.8 L995.3,368.8 L995.2,368.8 L994.0,369.4 L993.9,369.5 L992.2,370.6 L992.2,370.6 L992.1,370.6 L990.8,371.9 L990.8,371.9 L990.8,372.0 L989.9,373.2 L989.9,373.2 L989.9,373.3 L987.4,379.9 L987.3,380.0 L987.2,380.2 L987.1,380.4 L987.0,380.5 L986.8,380.7 L986.7,380.8 L986.5,380.9 L986.3,381.0 L986.1,381.1 L986.0,381.1 L985.8,381.1 L985.6,381.2 L985.4,381.2 L976.9,380.6 L976.7,380.5 L976.6,380.5 L976.1,380.4 L975.9,380.3 L975.7,380.3 L975.6,380.2 L975.4,380.1 L975.3,380.0 L975.1,379.9 L962.7,367.5 L962.6,367.3 L962.4,367.2 L962.3,367.0 L962.3,366.8 L962.2,366.7 L962.1,366.5 L962.1,366.3 L962.1,366.1 L962.1,361.3 L962.1,361.3 L962.1,361.2 L961.0,358.3 L960.9,358.2 L960.9,358.1 L960.9,358.0 L960.1,355.5 L960.0,355.4 L960.0,355.2 L960.0,355.0 L959.9,354.9 L959.9,354.7 L959.9,354.6 L959.9,354.4 L959.9,354.3 L959.9,354.1 L960.0,354.0 L960.0,353.8 L960.0,353.8 L960.1,353.6 L960.1,353.5 L960.2,353.3 L960.2,353.2 L960.3,353.0 L960.4,352.9 L960.5,352.8 L960.5,352.7 L960.7,352.5 L960.7,352.5 L960.9,352.3 L960.9,352.3 L961.1,352.1 L961.2,352.1 L961.3,352.0 L961.4,351.9 L961.6,351.8 L961.7,351.8 L961.9,351.7 L962.1,351.6 L962.1,351.6 L962.1,351.6 L962.1,351.6 L962.1,347.9 L962.1,347.9 L962.1,347.9 L955.5,334.7 L955.4,334.5 L955.4,334.3 L955.3,334.1 L955.3,334.0 L955.3,333.8 L955.3,333.6 L955.3,333.4 L955.4,333.2 L955.4,333.0 L955.5,332.8 L955.6,332.7 L955.7,332.5 L955.9,332.4 L956.0,332.3 L960.7,328.3 L960.8,328.3 L960.7,328.3 L959.1,328.2 L959.1,328.2 L955.4,328.2 L955.3,328.2 L953.3,328.1 L953.1,328.0 L952.9,328.0 L952.7,327.9 L952.6,327.9 L952.4,327.8 L952.2,327.7 L952.1,327.6 L951.9,327.4 L951.8,327.3 L951.7,327.1 L951.6,327.0 L949.7,323.1 L949.6,323.0 L949.6,322.8 L949.5,322.6 L949.5,322.4 L949.5,322.2 L949.5,321.2 L949.5,321.1 L949.5,321.1 L946.7,320.0 L946.6,320.0 L946.4,319.9 L946.3,319.8 L946.2,319.8 L946.0,319.6 L945.9,319.6 L945.8,319.5 L945.7,319.4 L945.5,319.2 L945.5,319.2 L945.4,319.0 L945.3,318.9 L945.2,318.8 L945.1,318.7 L945.0,318.5 L945.0,318.4 L944.9,318.2 L944.9,318.1 L944.8,317.9 L944.8,317.8 L944.8,317.6 L944.8,317.5 L944.7,317.3 L944.7,317.2 L944.7,317.0 L944.8,316.9 L944.8,316.7 L944.8,316.6 L944.8,316.5 L945.8,312.1 L945.8,312.0 L945.9,311.8 L945.9,311.6 L946.0,311.5 L946.1,311.3 L946.1,311.2 L946.2,311.1 L947.9,308.2 L948.0,308.2 L948.1,308.0 L948.1,307.9 L949.5,306.1 L949.5,306.0 L949.5,306.0 L949.5,304.5 L949.5,304.3 L949.5,304.1 L949.6,303.9 L949.7,303.8 L949.7,303.6 L949.8,303.4 L950.0,303.3 L950.1,303.1 L952.8,300.4 L952.8,300.4 L952.9,300.3 L952.9,300.2 L952.9,300.1 L953.0,300.1 L953.4,297.6 L953.5,297.5 L953.5,297.5 L953.4,294.9 L953.4,294.8 L953.4,294.6 L953.4,294.4 L953.5,294.3 L953.5,294.1 L953.5,294.0 L953.6,293.9 L953.6,293.8 L953.7,293.6 L953.7,293.5 L953.8,293.3 L953.9,293.2 L954.0,293.1 L954.0,293.0 L954.1,292.8 L954.2,292.8 L954.3,292.6 L954.4,292.6 L954.6,292.4 L954.7,292.3 L954.8,292.3 L957.2,290.6 L957.3,290.6 L957.4,290.5 L957.4,290.5 L960.3,288.7 L960.3,288.6 L960.4,288.6 L960.4,288.6 L963.4,286.9 L963.4,286.9 L963.5,286.9 L963.5,286.9 L966.5,285.3 L966.5,285.3 L966.5,285.3 L966.5,285.3 L968.4,284.4 L968.4,284.4 L968.4,284.3 L967.3,280.0 L967.3,279.8 L967.2,279.6 L967.2,279.4 L967.2,279.2 L967.3,279.0 L967.3,278.9 L967.4,278.7 L967.5,278.5 L967.6,278.3 L967.7,278.2 L967.9,278.0 L968.0,277.9 L968.2,277.8 L968.4,277.7 L970.4,276.7 L970.6,276.7 L973.2,275.7 L973.3,275.7 L973.3,275.6 L973.4,275.4 L973.4,275.4 L974.1,273.2 L974.1,273.1 L974.4,271.2 L974.5,271.1 L974.5,268.9 L974.5,268.9 L974.5,266.8 L974.5,266.8 L974.5,266.7 L972.3,256.0 L972.3,255.8 L972.2,255.6 L972.3,255.4 L972.3,255.2 L972.3,255.1 L972.4,254.9 L972.5,254.7 L972.6,254.5 L972.7,254.4 L972.8,254.2 L973.0,254.1 L973.1,254.0 L973.3,253.9 L973.5,253.8 L973.6,253.7 L973.6,253.7 L973.6,253.7 L970.9,253.3 L970.9,253.3 L967.2,252.6 L967.1,252.6 L963.3,251.5 L963.2,251.5 L960.0,250.3 L960.0,250.3 L957.7,249.5 L957.7,249.4 L957.6,249.4 L955.8,249.1 L955.7,249.1 L953.1,248.9 L953.0,248.9 L949.5,248.8 L949.4,248.8 L945.6,248.5 L945.4,248.5 L941.7,247.9 L941.6,247.9 L938.2,247.1 L938.2,247.1 L935.3,246.5 L935.2,246.5 L932.5,246.1 L932.5,246.1 L929.2,245.7 L929.2,245.7 L926.0,245.3 L926.0,245.3 L922.7,244.8 L922.7,244.8 L919.6,244.3 L919.5,244.3 L916.9,244.0 L916.8,244.0 L914.7,243.9 L914.5,243.9 L911.6,244.2 L911.5,244.2 L904.9,244.5 L904.7,244.5 L904.5,244.5 L904.3,244.4 L904.1,244.4 L903.9,244.3 L901.8,243.2 L901.6,243.1 L901.4,243.0 L901.2,242.8 L889.9,231.5 L889.8,231.4 L889.7,231.2 L889.6,231.1 L889.5,230.9 L889.4,230.7 L888.6,227.6 L888.5,227.5 L887.8,224.2 L887.8,224.1 L887.3,222.9 L887.3,222.8 L887.3,222.8 L886.9,222.6 L886.8,222.6 L883.7,221.5 L883.5,221.5 L879.7,219.8 L879.5,219.7 L876.4,217.8 L876.3,217.8 L875.9,217.5 L875.8,217.5 L875.8,217.5 L875.5,217.6 L875.4,217.7 L873.2,218.7 L873.1,218.7 L870.1,220.4 L869.9,220.5 L869.7,220.6 L866.5,221.6 L866.5,221.6 L864.0,222.6 L863.9,222.6 L861.2,223.9 L857.8,225.5 L857.5,225.6 L853.1,226.9 L852.9,227.0 L852.7,227.0 L848.1,227.3 L847.8,227.3 L843.9,227.0 L840.9,226.8 L840.9,226.8 L839.1,226.7 L839.0,226.7 L839.0,226.7 L837.4,227.0 L837.3,227.1 L835.0,227.8 L835.0,227.8 L831.8,229.0 L831.6,229.1 L827.8,230.1 L827.6,230.2 L823.8,230.7 L823.7,230.7 L820.2,231.0 L817.5,231.3 L817.4,231.3 L815.4,231.7 L815.2,231.7 L813.4,232.4 L813.3,232.4 L810.9,233.6 L810.9,233.6 L807.6,235.1 L807.5,235.2 L803.7,236.6 L803.5,236.7 L799.4,237.6 L799.1,237.7 L795.0,238.0 L794.8,238.0 L790.8,237.9 L790.7,237.9 L786.9,237.4 L786.8,237.4 L781.1,236.4 L780.9,236.4 L780.7,236.3 L780.6,236.2 L780.4,236.1 L780.2,236.0 L780.1,235.9 L779.9,235.7 L779.8,235.6 L779.7,235.4 L777.9,232.0 L777.9,231.9 L777.8,231.9 L777.4,231.5 L777.3,231.5 L777.3,231.5 L776.0,230.7 L775.9,230.7 L775.9,230.6 L773.6,229.8 L773.6,229.7 L771.1,228.8 L771.0,228.8 L771.0,228.8 L768.2,228.3 L768.0,228.2 L764.9,227.4 L764.9,227.4 L762.3,226.8 L762.2,226.8 L759.2,226.2 L759.0,226.2 L755.1,225.3 L754.9,225.2 L754.7,225.2 L750.9,223.4 L750.6,223.3 L747.8,221.6 L747.8,221.6 L745.7,220.4 L745.6,220.4 L743.0,219.3 L742.9,219.2 L740.0,217.9 L740.0,217.8 L740.0,217.9 L740.0,228.7 L740.0,228.9 L740.0,229.1 L739.9,229.2 L739.8,229.4 L739.8,229.6 L739.7,229.8 L739.5,229.9 L739.4,230.1 L739.2,230.2 L739.1,230.3 L738.9,230.4 L738.7,230.5 L738.5,230.6 L738.3,230.6 L738.1,230.7 L737.9,230.7 L737.7,230.6 L737.6,230.6 L737.4,230.6 L737.2,230.5 L737.0,230.4 L732.7,227.9 L732.7,227.9 L732.7,227.9 L707.5,243.7 L707.5,243.7 L685.4,259.4 L685.3,259.5 L685.2,259.6 L660.1,272.1 L635.4,284.5 L635.2,284.6 L635.0,284.7 L634.8,284.7 L634.6,284.7 L634.4,284.7 L634.2,284.7 L616.0,281.6 L615.9,281.6 L615.9,281.6 L597.0,291.1 L596.8,291.1 L578.0,303.7 L578.0,303.7 L578.0,303.7 L559.1,322.6 L559.0,322.7 L558.8,322.8 L540.0,335.3 L540.0,335.3 L540.0,335.3 L521.1,354.2 L521.1,354.2 L521.1,354.2 L505.3,379.5 L505.3,379.5 L505.3,379.5 L495.8,404.8 L495.8,404.8 L489.6,423.4 L489.5,423.6 L489.4,423.8 L489.4,423.9 L477.0,442.5 L476.9,442.7 L476.8,442.8 L458.1,461.4 L458.0,461.5 L457.8,461.6 L457.7,461.7 L435.9,474.3 L435.8,474.3 L410.7,493.1 L410.5,493.2 L410.3,493.3 L382.1,505.9 L382.1,505.9 L382.1,505.9 L356.9,531.1 L356.9,531.1 L356.9,531.1 L344.2,553.2 L344.2,553.2 L340.4,559.6 L340.3,559.6 L340.3,559.7 L340.4,559.8 L340.4,560.0 L340.4,560.1 L340.5,560.3 L340.5,560.4 L340.5,560.6 L340.5,560.7 L340.5,560.9 L340.4,561.0 L340.4,561.2 L340.4,561.3 L340.3,561.4 L340.3,561.5 L340.2,561.7 L340.2,561.8 L340.1,562.0 L340.1,562.1 L340.0,562.2 L339.9,562.3 L339.8,562.4 L336.6,566.7 L336.6,566.7 L336.5,566.8 L336.5,566.8 L334.7,569.0Z" fill="url(#tfi)" stroke="url(#tfi)" stroke-width="6" stroke-linejoin="round"/>
<path d="M334.7,569.0 L334.7,569.1 L335.0,600.0 L335.0,600.0 L335.0,600.0 L350.0,640.0 L350.0,640.0 L372.6,685.2 L372.6,685.2 L372.7,685.3 L375.5,686.8 L375.6,686.8 L375.8,686.9 L375.9,687.0 L376.0,687.1 L376.2,687.2 L376.2,687.3 L376.4,687.4 L376.5,687.5 L376.6,687.7 L376.6,687.7 L376.8,687.9 L376.8,688.0 L376.9,688.2 L376.9,688.3 L377.0,688.5 L377.1,688.6 L377.1,688.7 L378.1,692.4 L378.1,692.4 L378.1,692.5 L378.2,692.6 L378.9,695.6 L378.9,695.6 L378.9,695.8 L378.9,695.9 L378.9,696.0 L378.9,696.1 L379.1,698.1 L379.1,698.2 L379.1,698.2 L379.6,699.3 L379.7,699.4 L379.8,699.6 L379.8,699.8 L379.8,700.0 L379.8,700.2 L379.8,700.4 L379.8,700.6 L379.7,700.8 L373.9,718.3 L373.9,718.4 L373.9,718.4 L373.9,718.5 L373.9,718.6 L373.9,718.6 L375.0,721.3 L375.0,721.3 L376.3,724.2 L376.4,724.3 L376.5,724.5 L376.5,724.6 L377.5,727.6 L377.5,727.7 L377.5,727.8 L377.6,728.0 L377.6,728.0 L377.6,728.2 L377.6,728.3 L377.6,728.4 L377.9,731.5 L377.9,731.6 L377.9,731.8 L377.8,732.0 L377.8,732.2 L377.8,732.3 L377.4,735.0 L377.4,735.2 L377.4,738.1 L377.4,738.2 L377.6,741.2 L377.6,741.3 L378.2,744.0 L378.2,744.1 L378.3,744.3 L378.3,744.5 L378.3,744.6 L378.3,744.8 L378.3,744.9 L378.3,745.1 L378.3,745.2 L378.2,745.4 L378.2,745.5 L378.2,745.7 L378.1,745.7 L378.0,745.9 L378.0,746.0 L377.9,746.2 L377.8,746.3 L377.8,746.4 L376.3,748.7 L376.3,748.7 L376.3,748.7 L375.2,751.2 L375.1,751.4 L374.3,754.2 L374.3,754.3 L373.6,757.6 L373.6,757.6 L373.6,757.7 L373.6,757.7 L372.8,761.0 L372.8,761.1 L372.7,761.2 L372.7,761.4 L372.6,761.5 L372.6,761.6 L371.3,764.5 L371.2,764.6 L371.2,764.7 L371.1,764.9 L371.0,765.0 L370.9,765.1 L370.8,765.3 L370.8,765.3 L367.6,769.0 L367.5,769.1 L367.4,769.2 L367.3,769.3 L367.2,769.4 L367.1,769.5 L367.0,769.6 L366.8,769.7 L366.7,769.7 L366.6,769.8 L366.5,769.9 L366.3,769.9 L366.2,770.0 L366.0,770.0 L366.0,770.0 L365.8,770.1 L365.7,770.1 L365.5,770.1 L365.3,770.1 L365.2,770.1 L360.4,770.1 L360.3,770.1 L360.2,770.1 L360.0,770.1 L360.0,770.1 L359.8,770.1 L359.7,770.1 L359.6,770.0 L356.4,769.2 L356.4,769.2 L353.3,768.5 L353.2,768.5 L351.8,768.3 L351.7,768.3 L351.7,768.3 L350.0,770.0 L350.0,770.0 L350.0,770.0 L352.0,800.0 L352.0,800.0 L352.0,800.0 L360.0,829.9 L360.0,830.1 L368.0,870.0 L368.0,870.0 L375.0,900.0 L375.0,900.0 L384.9,936.8 L385.0,937.0 L385.0,937.2 L387.8,1000.4 L387.8,1000.6 L387.8,1000.8 L387.7,1001.0 L387.7,1001.2 L387.6,1001.4 L387.5,1001.5 L387.4,1001.7 L387.3,1001.8 L387.2,1002.0 L387.0,1002.1 L386.8,1002.2 L386.7,1002.3 L386.5,1002.4 L386.3,1002.4 L386.1,1002.5 L385.9,1002.5 L385.7,1002.5 L385.6,1002.5 L385.4,1002.5 L385.2,1002.4 L385.0,1002.3 L384.8,1002.3 L384.7,1002.2 L384.5,1002.0 L382.1,1000.0 L382.1,1000.0 L382.1,1000.0 L379.0,1031.6 L379.0,1031.6 L379.0,1079.0 L379.0,1079.0 L379.0,1079.0 L391.5,1110.2 L391.6,1110.4 L391.6,1110.6 L391.6,1110.8 L394.8,1151.6 L394.8,1151.6 L394.8,1151.6 L401.2,1161.9 L401.2,1161.9 L401.3,1162.0 L401.6,1162.1 L401.7,1162.1 L401.8,1162.2 L402.0,1162.3 L402.1,1162.3 L402.2,1162.4 L407.0,1165.4 L407.1,1165.5 L407.2,1165.6 L407.4,1165.7 L407.4,1165.8 L407.6,1165.9 L407.6,1166.0 L407.8,1166.1 L407.8,1166.2 L407.9,1166.4 L408.0,1166.5 L408.1,1166.6 L408.1,1166.7 L408.2,1166.9 L408.3,1167.0 L408.3,1167.2 L408.3,1167.3 L408.4,1167.5 L408.4,1167.7 L408.4,1167.8 L409.0,1173.4 L409.0,1173.5 L409.0,1173.7 L409.0,1173.9 L409.0,1174.0 L408.9,1174.2 L408.9,1174.3 L408.9,1174.4 L408.9,1174.4 L410.1,1176.3 L410.2,1176.5 L410.3,1176.6 L410.4,1176.8 L410.4,1177.0 L410.4,1177.2 L410.4,1177.4 L410.4,1177.6 L407.4,1202.1 L407.4,1202.1 L407.4,1202.1 L426.3,1221.1 L426.3,1221.1 L426.4,1221.1 L476.8,1240.0 L477.0,1240.0 L502.1,1246.4 L502.1,1246.4 L502.1,1246.4 L526.6,1215.9 L526.7,1215.7 L526.8,1215.6 L527.0,1215.5 L527.2,1215.4 L527.3,1215.3 L527.5,1215.2 L527.7,1215.2 L527.9,1215.1 L528.1,1215.1 L528.3,1215.1 L528.5,1215.1 L528.7,1215.2 L568.1,1227.3 L568.3,1227.4 L568.5,1227.4 L568.6,1227.5 L568.8,1227.6 L599.8,1252.5 L600.0,1252.6 L600.2,1252.8 L600.3,1253.0 L615.9,1278.0 L615.9,1278.0 L616.0,1278.0 L678.9,1271.6 L679.1,1271.6 L759.8,1268.5 L760.0,1268.5 L760.2,1268.5 L775.8,1271.6 L775.8,1271.6 L807.3,1278.0 L807.5,1278.0 L854.8,1290.6 L854.8,1290.6 L854.8,1290.6 L886.3,1284.3 L886.3,1284.3 L886.3,1284.3 L921.2,1271.0 L921.3,1271.0 L921.3,1271.0 L960.0,1238.7 L960.0,1238.7 L960.0,1238.7 L985.7,1206.6 L985.8,1206.5 L985.9,1206.4 L1011.6,1183.9 L1011.6,1183.9 L1043.9,1158.0 L1043.9,1158.0 L1043.9,1158.0 L1066.5,1125.8 L1066.5,1125.8 L1066.5,1125.8 L1082.5,1081.0 L1082.5,1080.8 L1082.6,1080.6 L1082.7,1080.5 L1082.9,1080.3 L1114.8,1045.0 L1114.8,1045.0 L1114.8,1045.0 L1130.8,1010.4 L1130.9,1010.2 L1131.0,1010.0 L1131.2,1009.9 L1131.3,1009.7 L1145.3,997.4 L1145.3,997.4 L1145.3,997.4 L1154.7,966.2 L1154.8,966.0 L1154.9,965.8 L1155.0,965.6 L1170.3,944.1 L1170.4,943.9 L1170.6,943.8 L1170.7,943.7 L1170.8,943.6 L1171.0,943.5 L1176.8,940.3 L1177.0,940.2 L1177.2,940.1 L1177.4,940.0 L1177.6,940.0 L1177.8,940.0 L1198.5,940.0 L1198.6,940.0 L1198.5,940.0 L1197.8,937.4 L1197.8,937.4 L1196.6,932.9 L1196.6,932.7 L1196.6,932.6 L1196.6,932.4 L1196.6,930.3 L1196.6,930.1 L1196.7,930.0 L1196.7,929.8 L1196.8,929.6 L1196.9,929.4 L1197.0,929.3 L1197.1,929.1 L1197.2,929.0 L1197.4,928.9 L1197.5,928.7 L1197.7,928.6 L1199.0,927.9 L1199.0,927.9 L1199.0,927.9 L1199.0,917.7 L1199.0,917.5 L1199.0,917.3 L1199.1,917.1 L1199.7,915.0 L1199.7,914.9 L1200.4,912.3 L1200.5,912.2 L1201.0,909.7 L1201.0,909.7 L1201.5,907.1 L1201.5,907.1 L1201.8,904.6 L1201.8,904.5 L1201.9,902.6 L1201.9,902.5 L1201.8,900.6 L1201.8,900.5 L1201.6,898.0 L1201.5,897.9 L1201.2,895.3 L1201.2,895.3 L1200.6,892.0 L1200.6,891.9 L1200.1,887.6 L1200.0,887.3 L1200.2,882.7 L1200.2,882.5 L1200.8,878.7 L1201.1,876.3 L1201.1,876.2 L1201.1,876.2 L1199.1,874.4 L1199.1,874.4 L1195.8,871.1 L1195.6,870.9 L1193.1,867.6 L1193.1,867.6 L1191.2,865.1 L1191.1,865.1 L1189.4,862.7 L1189.3,862.5 L1189.2,862.4 L1189.1,862.1 L1189.0,861.9 L1183.3,833.6 L1183.3,833.5 L1183.3,833.3 L1183.3,833.1 L1183.3,832.9 L1183.3,832.8 L1189.6,807.9 L1189.6,807.9 L1189.6,807.9 L1189.6,807.7 L1189.6,807.5 L1189.7,807.3 L1189.8,807.1 L1189.9,807.0 L1190.0,806.8 L1190.1,806.6 L1190.2,806.5 L1190.4,806.3 L1190.6,806.2 L1190.7,806.1 L1193.6,804.8 L1193.8,804.7 L1194.0,804.6 L1197.8,803.6 L1197.8,803.6 L1197.8,803.6 L1195.9,801.9 L1195.7,801.8 L1195.6,801.7 L1192.3,797.7 L1192.2,797.6 L1192.1,797.4 L1189.7,792.9 L1189.7,792.8 L1189.6,792.6 L1188.2,788.5 L1188.1,788.5 L1187.3,785.7 L1187.3,785.6 L1187.0,784.9 L1187.0,784.9 L1186.9,784.9 L1183.7,780.7 L1183.6,780.5 L1183.5,780.4 L1183.4,780.2 L1183.3,780.0 L1183.3,779.8 L1183.3,779.6 L1183.3,779.4 L1183.3,779.3 L1183.9,772.6 L1183.9,772.5 L1183.9,769.5 L1183.9,769.3 L1183.9,769.2 L1183.9,769.1 L1183.9,769.1 L1183.1,768.4 L1183.0,768.3 L1182.3,767.8 L1182.2,767.8 L1182.2,767.8 L1181.1,767.3 L1181.0,767.3 L1180.5,767.2 L1180.3,767.1 L1180.1,767.0 L1180.0,766.9 L1179.8,766.8 L1179.7,766.7 L1179.5,766.5 L1179.4,766.4 L1179.3,766.2 L1179.2,766.1 L1179.2,765.9 L1179.1,765.7 L1176.4,754.0 L1176.4,754.0 L1176.3,753.9 L1176.2,753.9 L1176.1,753.7 L1176.0,753.7 L1175.9,753.5 L1175.8,753.5 L1175.7,753.3 L1175.6,753.3 L1175.5,753.1 L1175.5,753.0 L1175.4,752.9 L1175.3,752.8 L1175.3,752.6 L1175.2,752.5 L1175.2,752.3 L1175.1,752.2 L1175.1,752.0 L1175.1,752.0 L1175.0,751.8 L1175.0,751.7 L1175.0,751.5 L1175.0,751.4 L1175.0,751.2 L1175.1,751.1 L1175.1,750.9 L1175.1,750.8 L1175.1,750.6 L1175.2,750.5 L1175.2,750.4 L1175.3,750.3 L1175.4,750.1 L1175.4,750.0 L1175.4,749.9 L1175.4,749.9 L1172.8,738.6 L1172.8,738.4 L1172.8,738.2 L1172.8,738.0 L1172.8,737.8 L1172.8,737.6 L1172.9,737.4 L1173.0,737.2 L1173.1,737.1 L1173.2,736.9 L1173.3,736.8 L1173.4,736.6 L1173.6,736.5 L1173.8,736.4 L1173.9,736.3 L1174.1,736.2 L1180.8,733.9 L1180.9,733.8 L1181.1,733.8 L1183.8,733.4 L1183.8,733.3 L1183.8,733.3 L1183.0,732.0 L1183.0,732.0 L1181.1,728.5 L1181.1,728.4 L1179.2,724.2 L1179.1,723.9 L1177.8,719.3 L1177.7,719.0 L1177.4,717.0 L1177.4,717.0 L1177.4,716.9 L1176.8,715.7 L1176.8,715.7 L1175.4,712.9 L1175.4,712.9 L1174.2,710.6 L1174.1,710.6 L1172.9,708.7 L1172.9,708.6 L1171.5,706.8 L1171.5,706.8 L1169.5,704.4 L1169.4,704.3 L1166.9,701.1 L1166.8,700.9 L1165.8,699.2 L1165.7,699.0 L1165.6,698.9 L1165.6,698.7 L1165.5,698.5 L1164.3,691.3 L1164.3,691.1 L1164.3,690.9 L1164.3,681.9 L1164.3,681.7 L1164.3,681.6 L1164.4,681.4 L1164.4,681.2 L1164.5,681.0 L1164.6,680.9 L1164.7,680.7 L1164.8,680.6 L1165.0,680.4 L1165.1,680.3 L1165.2,680.3 L1165.2,680.2 L1165.0,678.9 L1164.9,678.8 L1164.4,676.9 L1164.3,676.7 L1164.3,676.5 L1164.3,676.3 L1164.3,650.0 L1164.3,650.0 L1164.3,650.0 L1155.2,654.8 L1155.1,654.9 L1154.9,654.9 L1154.7,655.0 L1154.5,655.0 L1154.3,655.0 L1145.8,655.0 L1145.6,655.0 L1145.4,655.0 L1145.2,654.9 L1145.0,654.9 L1144.8,654.8 L1144.7,654.7 L1144.5,654.6 L1144.4,654.4 L1144.2,654.3 L1144.1,654.1 L1144.0,654.0 L1143.9,653.8 L1143.9,653.6 L1143.8,653.4 L1139.0,632.2 L1139.0,632.2 L1139.0,632.2 L1126.4,613.2 L1126.4,613.2 L1126.4,613.2 L1107.6,594.5 L1107.5,594.4 L1107.4,594.2 L1107.3,594.0 L1094.8,569.0 L1094.8,569.0 L1094.8,569.0 L1063.4,537.6 L1063.2,537.4 L1063.1,537.2 L1044.6,506.4 L1044.5,506.2 L1044.4,506.1 L1044.4,505.9 L1044.3,505.7 L1044.3,505.5 L1044.3,505.3 L1044.3,480.6 L1044.3,480.6 L1044.3,480.6 L1038.0,458.6 L1038.0,458.5 L1038.0,458.4 L1037.7,458.0 L1037.6,457.8 L1037.5,457.6 L1037.5,457.4 L1037.5,457.2 L1037.4,457.0 L1037.5,456.8 L1037.5,456.7 L1037.5,456.5 L1037.6,456.3 L1037.7,456.1 L1037.8,455.9 L1037.9,455.8 L1038.0,455.6 L1038.2,455.5 L1038.3,455.3 L1038.5,455.2 L1038.7,455.2 L1038.9,455.1 L1039.0,455.0 L1039.2,455.0 L1039.4,455.0 L1042.7,455.0 L1042.8,455.0 L1042.8,455.0 L1040.6,451.7 L1040.5,451.6 L1038.8,448.9 L1038.8,448.9 L1036.8,446.2 L1036.8,446.1 L1034.7,442.8 L1034.6,442.6 L1032.9,439.3 L1032.9,439.3 L1029.7,433.2 L1029.6,433.0 L1029.6,432.8 L1029.5,432.6 L1029.5,432.4 L1029.5,432.3 L1029.5,432.1 L1029.5,431.9 L1029.5,431.7 L1029.6,431.5 L1029.7,431.3 L1029.8,431.2 L1029.9,431.0 L1033.7,426.1 L1033.7,426.1 L1033.7,426.0 L1034.9,423.7 L1034.9,423.6 L1036.6,420.5 L1036.6,420.5 L1037.8,418.3 L1037.8,418.3 L1037.9,418.2 L1038.9,414.7 L1038.9,414.7 L1038.9,414.7 L1036.2,414.2 L1036.0,414.2 L1032.2,413.2 L1032.0,413.1 L1028.6,411.8 L1028.6,411.8 L1026.2,411.0 L1026.2,411.0 L1026.1,411.0 L1025.9,410.9 L1025.8,410.9 L1025.8,410.9 L1021.7,412.1 L1021.5,412.1 L1021.3,412.2 L1021.1,412.2 L1021.0,412.2 L1020.8,412.1 L1020.6,412.1 L1020.4,412.0 L1020.2,411.9 L1020.1,411.8 L1019.9,411.7 L1019.8,411.6 L1019.6,411.4 L1015.9,406.9 L1015.8,406.8 L1014.1,405.1 L1014.0,405.1 L1012.0,403.4 L1011.9,403.3 L1009.3,401.5 L1009.2,401.4 L1005.8,398.8 L1005.7,398.7 L1005.6,398.6 L1004.9,397.9 L1004.8,397.7 L1004.7,397.6 L1004.6,397.4 L1004.5,397.2 L1004.5,397.0 L1000.1,379.5 L1000.1,379.5 L1000.1,379.5 L999.9,379.6 L999.7,379.6 L999.5,379.6 L999.4,379.7 L999.2,379.7 L999.0,379.6 L998.8,379.6 L998.6,379.5 L998.4,379.5 L998.3,379.4 L998.1,379.3 L997.9,379.1 L997.8,379.0 L997.7,378.9 L997.6,378.7 L997.5,378.5 L997.4,378.4 L997.4,378.2 L997.3,378.0 L997.3,377.8 L997.3,377.6 L997.0,373.9 L997.0,373.8 L996.9,370.6 L996.9,370.6 L996.8,368.8 L996.8,368.8 L996.8,368.8 L995.3,368.8 L995.3,368.8 L995.2,368.8 L994.0,369.4 L993.9,369.5 L992.2,370.6 L992.2,370.6 L992.1,370.6 L990.8,371.9 L990.8,371.9 L990.8,372.0 L989.9,373.2 L989.9,373.2 L989.9,373.3 L987.4,379.9 L987.3,380.0 L987.2,380.2 L987.1,380.4 L987.0,380.5 L986.8,380.7 L986.7,380.8 L986.5,380.9 L986.3,381.0 L986.1,381.1 L986.0,381.1 L985.8,381.1 L985.6,381.2 L985.4,381.2 L976.9,380.6 L976.7,380.5 L976.6,380.5 L976.1,380.4 L975.9,380.3 L975.7,380.3 L975.6,380.2 L975.4,380.1 L975.3,380.0 L975.1,379.9 L962.7,367.5 L962.6,367.3 L962.4,367.2 L962.3,367.0 L962.3,366.8 L962.2,366.7 L962.1,366.5 L962.1,366.3 L962.1,366.1 L962.1,361.3 L962.1,361.3 L962.1,361.2 L961.0,358.3 L960.9,358.2 L960.9,358.1 L960.9,358.0 L960.1,355.5 L960.0,355.4 L960.0,355.2 L960.0,355.0 L959.9,354.9 L959.9,354.7 L959.9,354.6 L959.9,354.4 L959.9,354.3 L959.9,354.1 L960.0,354.0 L960.0,353.8 L960.0,353.8 L960.1,353.6 L960.1,353.5 L960.2,353.3 L960.2,353.2 L960.3,353.0 L960.4,352.9 L960.5,352.8 L960.5,352.7 L960.7,352.5 L960.7,352.5 L960.9,352.3 L960.9,352.3 L961.1,352.1 L961.2,352.1 L961.3,352.0 L961.4,351.9 L961.6,351.8 L961.7,351.8 L961.9,351.7 L962.1,351.6 L962.1,351.6 L962.1,351.6 L962.1,351.6 L962.1,347.9 L962.1,347.9 L962.1,347.9 L955.5,334.7 L955.4,334.5 L955.4,334.3 L955.3,334.1 L955.3,334.0 L955.3,333.8 L955.3,333.6 L955.3,333.4 L955.4,333.2 L955.4,333.0 L955.5,332.8 L955.6,332.7 L955.7,332.5 L955.9,332.4 L956.0,332.3 L960.7,328.3 L960.8,328.3 L960.7,328.3 L959.1,328.2 L959.1,328.2 L955.4,328.2 L955.3,328.2 L953.3,328.1 L953.1,328.0 L952.9,328.0 L952.7,327.9 L952.6,327.9 L952.4,327.8 L952.2,327.7 L952.1,327.6 L951.9,327.4 L951.8,327.3 L951.7,327.1 L951.6,327.0 L949.7,323.1 L949.6,323.0 L949.6,322.8 L949.5,322.6 L949.5,322.4 L949.5,322.2 L949.5,321.2 L949.5,321.1 L949.5,321.1 L946.7,320.0 L946.6,320.0 L946.4,319.9 L946.3,319.8 L946.2,319.8 L946.0,319.6 L945.9,319.6 L945.8,319.5 L945.7,319.4 L945.5,319.2 L945.5,319.2 L945.4,319.0 L945.3,318.9 L945.2,318.8 L945.1,318.7 L945.0,318.5 L945.0,318.4 L944.9,318.2 L944.9,318.1 L944.8,317.9 L944.8,317.8 L944.8,317.6 L944.8,317.5 L944.7,317.3 L944.7,317.2 L944.7,317.0 L944.8,316.9 L944.8,316.7 L944.8,316.6 L944.8,316.5 L945.8,312.1 L945.8,312.0 L945.9,311.8 L945.9,311.6 L946.0,311.5 L946.1,311.3 L946.1,311.2 L946.2,311.1 L947.9,308.2 L948.0,308.2 L948.1,308.0 L948.1,307.9 L949.5,306.1 L949.5,306.0 L949.5,306.0 L949.5,304.5 L949.5,304.3 L949.5,304.1 L949.6,303.9 L949.7,303.8 L949.7,303.6 L949.8,303.4 L950.0,303.3 L950.1,303.1 L952.8,300.4 L952.8,300.4 L952.9,300.3 L952.9,300.2 L952.9,300.1 L953.0,300.1 L953.4,297.6 L953.5,297.5 L953.5,297.5 L953.4,294.9 L953.4,294.8 L953.4,294.6 L953.4,294.4 L953.5,294.3 L953.5,294.1 L953.5,294.0 L953.6,293.9 L953.6,293.8 L953.7,293.6 L953.7,293.5 L953.8,293.3 L953.9,293.2 L954.0,293.1 L954.0,293.0 L954.1,292.8 L954.2,292.8 L954.3,292.6 L954.4,292.6 L954.6,292.4 L954.7,292.3 L954.8,292.3 L957.2,290.6 L957.3,290.6 L957.4,290.5 L957.4,290.5 L960.3,288.7 L960.3,288.6 L960.4,288.6 L960.4,288.6 L963.4,286.9 L963.4,286.9 L963.5,286.9 L963.5,286.9 L966.5,285.3 L966.5,285.3 L966.5,285.3 L966.5,285.3 L968.4,284.4 L968.4,284.4 L968.4,284.3 L967.3,280.0 L967.3,279.8 L967.2,279.6 L967.2,279.4 L967.2,279.2 L967.3,279.0 L967.3,278.9 L967.4,278.7 L967.5,278.5 L967.6,278.3 L967.7,278.2 L967.9,278.0 L968.0,277.9 L968.2,277.8 L968.4,277.7 L970.4,276.7 L970.6,276.7 L973.2,275.7 L973.3,275.7 L973.3,275.6 L973.4,275.4 L973.4,275.4 L974.1,273.2 L974.1,273.1 L974.4,271.2 L974.5,271.1 L974.5,268.9 L974.5,268.9 L974.5,266.8 L974.5,266.8 L974.5,266.7 L972.3,256.0 L972.3,255.8 L972.2,255.6 L972.3,255.4 L972.3,255.2 L972.3,255.1 L972.4,254.9 L972.5,254.7 L972.6,254.5 L972.7,254.4 L972.8,254.2 L973.0,254.1 L973.1,254.0 L973.3,253.9 L973.5,253.8 L973.6,253.7 L973.6,253.7 L973.6,253.7 L970.9,253.3 L970.9,253.3 L967.2,252.6 L967.1,252.6 L963.3,251.5 L963.2,251.5 L960.0,250.3 L960.0,250.3 L957.7,249.5 L957.7,249.4 L957.6,249.4 L955.8,249.1 L955.7,249.1 L953.1,248.9 L953.0,248.9 L949.5,248.8 L949.4,248.8 L945.6,248.5 L945.4,248.5 L941.7,247.9 L941.6,247.9 L938.2,247.1 L938.2,247.1 L935.3,246.5 L935.2,246.5 L932.5,246.1 L932.5,246.1 L929.2,245.7 L929.2,245.7 L926.0,245.3 L926.0,245.3 L922.7,244.8 L922.7,244.8 L919.6,244.3 L919.5,244.3 L916.9,244.0 L916.8,244.0 L914.7,243.9 L914.5,243.9 L911.6,244.2 L911.5,244.2 L904.9,244.5 L904.7,244.5 L904.5,244.5 L904.3,244.4 L904.1,244.4 L903.9,244.3 L901.8,243.2 L901.6,243.1 L901.4,243.0 L901.2,242.8 L889.9,231.5 L889.8,231.4 L889.7,231.2 L889.6,231.1 L889.5,230.9 L889.4,230.7 L888.6,227.6 L888.5,227.5 L887.8,224.2 L887.8,224.1 L887.3,222.9 L887.3,222.8 L887.3,222.8 L886.9,222.6 L886.8,222.6 L883.7,221.5 L883.5,221.5 L879.7,219.8 L879.5,219.7 L876.4,217.8 L876.3,217.8 L875.9,217.5 L875.8,217.5 L875.8,217.5 L875.5,217.6 L875.4,217.7 L873.2,218.7 L873.1,218.7 L870.1,220.4 L869.9,220.5 L869.7,220.6 L866.5,221.6 L866.5,221.6 L864.0,222.6 L863.9,222.6 L861.2,223.9 L857.8,225.5 L857.5,225.6 L853.1,226.9 L852.9,227.0 L852.7,227.0 L848.1,227.3 L847.8,227.3 L843.9,227.0 L840.9,226.8 L840.9,226.8 L839.1,226.7 L839.0,226.7 L839.0,226.7 L837.4,227.0 L837.3,227.1 L835.0,227.8 L835.0,227.8 L831.8,229.0 L831.6,229.1 L827.8,230.1 L827.6,230.2 L823.8,230.7 L823.7,230.7 L820.2,231.0 L817.5,231.3 L817.4,231.3 L815.4,231.7 L815.2,231.7 L813.4,232.4 L813.3,232.4 L810.9,233.6 L810.9,233.6 L807.6,235.1 L807.5,235.2 L803.7,236.6 L803.5,236.7 L799.4,237.6 L799.1,237.7 L795.0,238.0 L794.8,238.0 L790.8,237.9 L790.7,237.9 L786.9,237.4 L786.8,237.4 L781.1,236.4 L780.9,236.4 L780.7,236.3 L780.6,236.2 L780.4,236.1 L780.2,236.0 L780.1,235.9 L779.9,235.7 L779.8,235.6 L779.7,235.4 L777.9,232.0 L777.9,231.9 L777.8,231.9 L777.4,231.5 L777.3,231.5 L777.3,231.5 L776.0,230.7 L775.9,230.7 L775.9,230.6 L773.6,229.8 L773.6,229.7 L771.1,228.8 L771.0,228.8 L771.0,228.8 L768.2,228.3 L768.0,228.2 L764.9,227.4 L764.9,227.4 L762.3,226.8 L762.2,226.8 L759.2,226.2 L759.0,226.2 L755.1,225.3 L754.9,225.2 L754.7,225.2 L750.9,223.4 L750.6,223.3 L747.8,221.6 L747.8,221.6 L745.7,220.4 L745.6,220.4 L743.0,219.3 L742.9,219.2 L740.0,217.9 L740.0,217.8 L740.0,217.9 L740.0,228.7 L740.0,228.9 L740.0,229.1 L739.9,229.2 L739.8,229.4 L739.8,229.6 L739.7,229.8 L739.5,229.9 L739.4,230.1 L739.2,230.2 L739.1,230.3 L738.9,230.4 L738.7,230.5 L738.5,230.6 L738.3,230.6 L738.1,230.7 L737.9,230.7 L737.7,230.6 L737.6,230.6 L737.4,230.6 L737.2,230.5 L737.0,230.4 L732.7,227.9 L732.7,227.9 L732.7,227.9 L707.5,243.7 L707.5,243.7 L685.4,259.4 L685.3,259.5 L685.2,259.6 L660.1,272.1 L635.4,284.5 L635.2,284.6 L635.0,284.7 L634.8,284.7 L634.6,284.7 L634.4,284.7 L634.2,284.7 L616.0,281.6 L615.9,281.6 L615.9,281.6 L597.0,291.1 L596.8,291.1 L578.0,303.7 L578.0,303.7 L578.0,303.7 L559.1,322.6 L559.0,322.7 L558.8,322.8 L540.0,335.3 L540.0,335.3 L540.0,335.3 L521.1,354.2 L521.1,354.2 L521.1,354.2 L505.3,379.5 L505.3,379.5 L505.3,379.5 L495.8,404.8 L495.8,404.8 L489.6,423.4 L489.5,423.6 L489.4,423.8 L489.4,423.9 L477.0,442.5 L476.9,442.7 L476.8,442.8 L458.1,461.4 L458.0,461.5 L457.8,461.6 L457.7,461.7 L435.9,474.3 L435.8,474.3 L410.7,493.1 L410.5,493.2 L410.3,493.3 L382.1,505.9 L382.1,505.9 L382.1,505.9 L356.9,531.1 L356.9,531.1 L356.9,531.1 L344.2,553.2 L344.2,553.2 L340.4,559.6 L340.3,559.6 L340.3,559.7 L340.4,559.8 L340.4,560.0 L340.4,560.1 L340.5,560.3 L340.5,560.4 L340.5,560.6 L340.5,560.7 L340.5,560.9 L340.4,561.0 L340.4,561.2 L340.4,561.3 L340.3,561.4 L340.3,561.5 L340.2,561.7 L340.2,561.8 L340.1,562.0 L340.1,562.1 L340.0,562.2 L339.9,562.3 L339.8,562.4 L336.6,566.7 L336.6,566.7 L336.5,566.8 L336.5,566.8 L334.7,569.0Z" fill="url(#tmx)"/>
<path d="M735.9,246.9 L754.8,240.5 L760.0,243.7 L807.4,237.4 L854.8,234.2 L892.7,237.4 L902.1,262.6 L936.9,259.5 L959.0,272.1 L962.1,294.2 L946.4,313.2 L955.8,338.5 L949.5,354.2 L924.2,338.5 L899.0,322.7 L873.7,329.0 L854.8,335.3 L823.2,329.0 L791.6,325.8 L760.0,322.7 L742.2,310.0 L735.9,284.8Z" fill="url(#tso)"/>
<path d="M343.0,623.8 L501.3,708.1 L519.2,700.5 L539.6,695.3 L565.2,692.8 L606.0,667.3 L621.3,606.0 L611.1,580.4 L628.5,553.2 L620.0,500.0 L610.0,440.0 L562.0,426.0 L522.0,440.0 L502.0,446.0 L481.0,481.0 L441.0,493.0 L391.0,511.0 L370.0,530.0 L356.9,578.5 L350.5,610.1Z" fill="url(#tso)"/>
<path d="M886.3,474.3 L933.7,464.8 L981.1,474.3 L1019.0,499.5 L1044.3,521.6 L1075.9,578.5 L1041.1,575.3 L981.1,553.2 L930.6,524.8 L892.7,531.1Z" fill="url(#tmp)"/>
<path d="M760.0,1148.5 L788.4,1157.9 L823.2,1170.6 L864.2,1180.0 L905.3,1173.7 L949.5,1164.2 L981.1,1161.1 L1006.4,1151.6 L981.1,1189.5 L949.5,1221.1 L917.9,1259.0 L854.8,1278.0 L807.4,1268.5 L760.0,1265.3Z" fill="url(#tso)"/>
<path d="M615.9,1094.8 L679.0,1101.1 L770.0,1110.5 L770.0,1265.3 L679.0,1271.6 L615.9,1252.7 L600.1,1189.5 L615.9,1142.1Z" fill="url(#tmp)"/>
<path d="M388.4,1063.2 L426.3,1050.5 L439.0,1094.8 L432.7,1157.9 L451.6,1221.1 L410.5,1217.9 L404.2,1176.9 L391.6,1126.3Z" fill="url(#tso)"/>
<path d="M394.8,912.2 L442.1,918.5 L476.9,965.9 L489.5,1013.2 L457.9,1019.6 L420.0,997.4 L391.6,959.5Z" fill="url(#tmp)"/>
<path d="M481.0,481.0 L502.0,446.0 L522.0,440.0 L562.0,426.0 L610.0,440.0 L620.0,500.0 L603.0,524.0 L584.0,493.0 L552.0,468.0 L502.0,468.0Z" fill="url(#tmp)"/>
<path d="M760.0,322.0 L855.0,335.0 L899.0,322.0 L949.0,354.0 L975.0,385.0 L1000.0,400.0 L1025.0,436.0 L1044.0,480.0 L1044.0,520.0 L1019.0,499.5 L981.0,474.0 L933.7,464.8 L886.0,474.0 L860.0,500.0 L800.0,490.0 L760.0,483.0Z" fill="url(#tmp)"/>
<path d="M417.0,610.0 L470.0,600.0 L540.0,615.0 L563.0,640.0 L560.0,665.0 L500.0,667.0 L440.0,650.0Z" fill="url(#tmx)"/>
<path d="M960.0,400.0 L1000.0,385.0 L1030.0,410.0 L1035.0,450.0 L1000.0,465.0 L965.0,455.0Z" fill="url(#tbr)"/>
<path d="M527.4,357.4 L568.5,347.9 L615.9,360.6 L641.1,379.5 L634.8,411.1 L603.2,404.8 L571.6,398.5 L540.0,411.1 L521.1,392.1Z" fill="url(#tbr)"/>
<path d="M647.4,306.9 L694.8,310.0 L742.2,338.5 L770.0,347.9 L770.0,395.3 L735.9,385.8 L698.0,366.9 L663.2,332.1Z" fill="url(#tbr)"/>
<path d="M760.0,354.2 L823.2,366.9 L917.9,411.1 L955.8,430.0 L949.5,449.0 L902.1,436.4 L839.0,411.1 L760.0,398.5Z" fill="url(#tbr)"/>
<path d="M420.0,1019.0 L464.2,1047.4 L495.8,1079.0 L521.1,1126.3 L502.1,1176.9 L521.1,1221.1 L483.2,1214.8 L451.6,1157.9 L445.3,1094.8 L426.3,1047.4Z" fill="url(#tbr)"/>
<path d="M505.3,1056.9 L552.7,1079.0 L546.4,1101.1 L514.8,1088.4Z" fill="url(#tbr)"/>
<path d="M760.0,1228.0 L800.0,1222.0 L860.0,1232.0 L905.0,1238.0 L902.0,1258.0 L860.0,1262.0 L800.0,1258.0 L760.0,1255.0Z" fill="url(#tbr)"/>
<path d="M1150.0,900.0 L1178.0,900.0 L1176.0,935.0 L1165.0,960.0 L1150.0,962.0 L1148.0,930.0Z" fill="url(#tfy)"/>
<path d="M648.9,1041.3 L671.0,1030.2 L701.3,1039.3 L721.5,1049.4 L741.6,1053.4 L771.9,1055.4 L777.9,1065.5 L781.9,1081.6 L761.8,1081.6 L741.6,1073.5 L721.5,1061.5 L701.3,1053.4 L681.1,1051.4 L661.0,1053.4 L644.8,1055.4Z" fill="url(#tpo)"/>
<path d="M1116.9,757.4 L1139.0,770.0 L1158.0,801.6 L1167.5,826.9 L1173.8,871.1 L1164.3,871.1 L1154.8,826.9 L1145.3,798.5 L1123.2,773.2Z" fill="#00008c" opacity="0.6"/>
<path d="M1123.2,969.0 L1142.2,965.9 L1145.3,981.6 L1129.5,988.0Z" fill="#00008c" opacity="0.6"/>
<path d="M732.7,475.9 L760.0,483.7 L791.6,490.1 L797.9,502.7 L823.2,493.2 L832.6,505.9 L845.3,515.3 L864.2,509.0 L873.7,524.8 L892.7,531.1 L908.5,524.8 L927.4,534.3 L930.6,524.8 L949.5,537.4 L955.8,556.4 L981.1,553.2 L1006.4,553.2 L1025.3,562.7 L1041.1,575.3 L1060.1,572.2 L1075.9,578.5 L1075.9,606.9 L1072.7,613.2 L1079.0,632.2 L1082.2,660.0 L1091.6,697.4 L1088.5,729.0 L1085.3,744.8 L1107.4,757.4 L1123.2,776.3 L1139.0,795.3 L1148.5,820.6 L1145.3,839.5 L1151.7,871.1 L1170.6,877.4 L1173.8,890.1 L1164.3,915.3 L1154.8,928.0 L1148.5,940.6 L1139.0,953.2 L1126.4,969.0 L1123.2,981.6 L1132.7,997.4 L1123.2,1006.9 L1101.1,1013.2 L1094.8,1029.0 L1088.5,1041.7 L1082.2,1060.6 L1075.9,1079.6 L1063.2,1089.0 L1050.6,1101.7 L1044.3,1120.0 L1038.0,1126.3 L1025.3,1139.0 L1006.4,1151.6 L981.1,1161.1 L962.1,1161.1 L949.5,1164.2 L930.6,1164.2 L924.2,1170.6 L905.3,1173.7 L886.3,1180.0 L864.2,1180.0 L842.1,1170.6 L823.2,1170.6 L804.2,1164.2 L788.4,1157.9 L785.3,1145.3 L782.1,1135.8 L791.6,1126.3 L801.1,1107.4 L804.2,1088.4 L801.1,1069.5 L792.0,1047.3 L784.0,1045.3 L771.9,1055.4 L751.7,1053.4 L731.5,1051.4 L717.4,1047.3 L701.3,1039.3 L681.1,1033.2 L671.0,1031.2 L661.0,1035.2 L652.9,1039.3 L644.8,1047.3 L632.7,1039.3 L620.6,1037.3 L610.6,1041.3 L600.5,1047.3 L590.4,1043.3 L576.3,1041.3 L564.2,1039.3 L552.1,1033.2 L540.0,1029.0 L527.4,1022.7 L514.8,1013.2 L502.1,1013.2 L495.8,1006.9 L489.5,991.1 L483.2,978.5 L480.0,965.9 L476.9,953.2 L475.8,940.0 L473.2,917.5 L468.1,897.1 L457.9,892.0 L445.1,902.2 L427.3,904.8 L417.0,899.7 L411.9,881.8 L414.5,863.9 L422.1,846.0 L423.4,833.3 L424.7,815.4 L432.4,802.6 L447.7,795.0 L442.6,779.6 L429.8,779.6 L437.5,764.3 L447.7,754.1 L440.0,743.9 L422.1,749.0 L406.8,741.3 L391.5,743.9 L381.3,738.8 L376.2,723.4 L373.6,710.7 L374.3,702.6 L375.4,689.4 L371.3,685.3 L363.2,682.3 L359.1,675.2 L351.0,672.1 L346.9,665.0 L340.8,656.9 L334.7,647.7 L330.7,641.6 L331.7,631.5 L328.6,621.3 L325.6,611.1 L325.6,601.0 L325.1,590.8 L326.6,577.6 L338.8,576.6 L338.8,606.1 L340.8,611.1 L344.9,621.3 L346.9,626.4 L355.0,628.4 L365.2,628.4 L373.3,631.5 L381.5,637.6 L387.6,641.6 L399.8,648.7 L406.9,654.8 L412.0,658.9 L422.1,662.0 L430.2,665.0 L440.0,668.0 L442.6,674.9 L463.0,687.7 L478.3,697.9 L493.7,705.6 L501.3,708.1 L519.2,700.5 L539.6,695.3 L565.2,692.8 L575.4,687.7 L585.6,682.6 L595.8,672.4 L606.0,667.3 L608.6,649.4 L613.7,634.1 L618.8,618.7 L621.3,606.0 L613.7,593.2 L611.1,580.4 L621.3,572.8 L626.4,560.0 L628.5,553.2 L634.8,543.8 L647.4,531.1 L656.9,518.5 L663.2,505.9 L675.9,498.0 L691.7,490.1 L707.5,486.9 L720.1,480.6Z" fill="#b4b4b4"/>
<path d="M346.9,629.4 L357.1,627.4 L361.1,637.6 L369.3,631.5 L381.5,638.6 L391.6,642.6 L403.8,652.8 L412.0,660.9 L422.1,663.0 L440.0,669.1 L442.6,674.9 L463.0,687.7 L478.3,697.9 L493.7,705.6 L501.3,708.1 L493.7,713.2 L478.3,703.0 L457.9,692.8 L447.7,682.6 L440.0,680.0 L430.2,673.1 L424.1,669.1 L417.0,665.0 L408.9,664.0 L401.8,667.0 L391.6,665.0 L387.6,670.1 L384.5,675.2 L378.4,672.1 L371.3,667.0 L365.2,662.0 L359.1,654.8 L354.0,646.7 L355.0,640.6 L353.0,635.5Z" fill="#828282"/>
<path d="M376.2,710.7 L404.3,706.8 L432.4,710.7 L445.1,715.8 L450.2,733.7 L452.8,759.2 L442.6,764.3 L429.8,759.2 L417.0,749.0 L406.8,741.3 L391.5,743.9 L381.3,738.8 L377.5,723.4Z" fill="#828282"/>
<path d="M498.8,710.7 L514.1,700.5 L539.6,696.6 L565.2,694.1 L575.4,690.2 L585.6,682.6 L598.4,672.4 L608.6,667.3 L613.7,672.4 L636.7,680.0 L644.3,690.2 L634.1,703.0 L629.0,713.2 L634.1,738.8 L626.4,746.4 L621.3,754.1 L613.7,764.3 L611.1,779.6 L588.1,772.0 L577.9,789.8 L562.6,795.0 L549.8,805.2 L542.2,812.8 L532.0,812.8 L521.7,802.6 L519.2,789.8 L506.4,787.3 L493.7,784.7 L498.8,772.0 L509.0,759.2 L509.0,743.9 L503.9,728.5Z" fill="#828282"/>
<path d="M626.4,560.0 L659.6,560.0 L649.4,575.3 L631.6,585.5 L621.3,606.0 L613.7,593.2 L611.1,580.4 L621.3,572.8Z" fill="#828282"/>
<path d="M732.7,475.9 L720.1,480.6 L707.5,486.9 L691.7,490.1 L675.9,498.0 L663.2,505.9 L656.9,518.5 L647.4,531.1 L634.8,543.8 L628.5,553.2 L626.4,560.0 L621.3,572.8 L611.1,580.4 L613.7,593.2 L621.3,606.0 L618.8,618.7 L613.7,634.1 L608.6,649.4 L606.0,667.3 L619.0,638.5 L619.0,616.4 L622.2,597.5 L634.8,584.8 L650.6,569.0 L653.8,550.1 L660.1,534.3 L666.4,515.3 L675.9,515.3 L688.5,509.0 L698.0,493.2 L716.9,488.5 L732.7,482.2Z" fill="#828282"/>
<path d="M732.7,475.9 L760.0,483.7 L791.6,490.1 L797.9,502.7 L823.2,493.2 L832.6,505.9 L845.3,515.3 L864.2,509.0 L873.7,524.8 L892.7,531.1 L908.5,524.8 L927.4,534.3 L930.6,524.8 L949.5,537.4 L955.8,556.4 L936.9,537.4 L908.5,534.3 L873.7,531.1 L848.4,518.5 L823.2,502.7 L801.1,505.9 L779.0,493.2 L760.0,490.1 L732.7,482.2Z" fill="#828282"/>
<path d="M422.1,833.3 L432.4,835.8 L434.9,853.7 L432.4,871.6 L437.5,889.5 L427.3,902.2 L417.0,897.1 L411.9,881.8 L414.5,863.9 L422.1,846.0Z" fill="#828282"/>
<path d="M689.2,908.2 L701.3,912.3 L707.3,920.3 L711.4,928.4 L721.5,932.4 L731.5,938.5 L743.6,944.5 L753.7,952.6 L761.8,960.6 L771.9,966.7 L777.9,976.8 L786.0,986.9 L792.0,996.9 L794.0,1011.0 L792.0,1021.1 L781.9,1029.2 L777.9,1041.3 L788.0,1053.4 L771.9,1055.4 L751.7,1053.4 L731.5,1051.4 L717.4,1047.3 L701.3,1039.3 L681.1,1033.2 L671.0,1031.2 L661.0,1035.2 L652.9,1039.3 L644.8,1047.3 L642.8,1021.1 L642.8,1001.0 L652.9,984.8 L665.0,976.8 L669.0,960.6 L677.1,950.6 L689.2,944.5 L697.3,932.4 L689.2,920.3Z" fill="#828282"/>
<path d="M1028.5,719.5 L1044.3,717.9 L1063.2,711.6 L1075.9,706.9 L1091.6,710.0 L1094.8,729.0 L1079.0,738.4 L1066.4,732.1 L1056.9,725.8 L1038.0,729.0Z" fill="#828282"/>
<path d="M1127.0,770.0 L1140.0,790.0 L1150.0,815.0 L1155.0,840.0 L1148.0,842.0 L1135.0,815.0 L1124.0,790.0Z" fill="#828282"/>
<path d="M1148.5,871.1 L1173.8,877.4 L1170.6,896.4 L1161.1,918.5 L1151.7,934.3 L1145.3,918.5 L1148.5,890.0Z" fill="#828282"/>
<path d="M572.8,692.8 L585.6,692.8 L600.9,713.2 L606.0,731.1 L598.4,741.3 L590.7,738.8 L580.5,718.3 L572.8,703.0Z" fill="#b4b4b4"/>
<path d="M542.2,759.2 L549.8,759.2 L560.0,774.5 L554.9,779.6 L547.3,772.0Z" fill="#b4b4b4"/>
<path d="M665.0,1005.0 L673.1,1001.0 L679.1,1011.0 L677.1,1021.1 L671.0,1025.2 L665.0,1017.1Z" fill="#b4b4b4"/>
<path d="M681.1,972.7 L689.2,976.8 L687.2,984.8 L681.1,980.8Z" fill="#b4b4b4"/>
<path d="M92.5,586.9 L108.3,586.9 L128.7,577.9 L149.0,568.8 L153.5,555.3 L155.8,571.1 L151.3,591.4 L160.3,598.2 L149.0,609.5 L133.2,627.6 L124.1,638.9 L110.6,645.6 L97.0,652.4 L92.5,647.9Z" fill="#828282"/>
<path d="M128.7,464.9 L140.0,462.7 L142.2,480.7 L133.2,492.0 L130.9,501.0 L119.6,501.0 L117.4,487.5 L126.4,478.5Z" fill="#828282"/>
<path d="M327.5,322.6 L336.5,315.8 L347.8,314.0 L356.8,316.9 L354.6,322.6 L341.0,320.3Z" fill="#828282"/>
<path d="M1295.5,132.7 L1371.5,132.7 L1371.5,142.8 L1280.7,188.5 L1279.4,184.5 L1290.2,152.2Z" fill="#828282"/>
<path d="M317.0,617.0 L325.0,620.0 L332.0,634.0 L330.0,642.0 L322.0,640.0 L318.0,630.0Z" fill="#828282"/>
<path d="M345.0,677.0 L352.0,679.0 L363.0,690.0 L360.0,695.0 L350.0,690.0Z" fill="#828282"/>
<path d="M301.0,567.0 L307.0,568.0 L309.0,585.0 L305.0,600.0 L300.0,598.0 L302.0,580.0Z" fill="#828282"/>
<path d="M97.0,603.0 L110.0,600.0 L118.0,610.0 L115.0,625.0 L105.0,628.0 L98.0,618.0Z" fill="#00008c"/>
<g stroke="#000" stroke-width="1.8" fill="none">
<circle cx="731.95" cy="837.0" r="87.93"/>
<circle cx="731.95" cy="837.0" r="176.20"/>
<circle cx="731.95" cy="837.0" r="265.15"/>
<circle cx="731.95" cy="837.0" r="355.12"/>
<circle cx="731.95" cy="837.0" r="446.49"/>
<circle cx="731.95" cy="837.0" r="539.65"/>
<circle cx="731.95" cy="837.0" r="635.01"/>
<circle cx="731.95" cy="837.0" r="733.04"/>
<circle cx="731.95" cy="837.0" r="834.23"/>
<circle cx="731.95" cy="837.0" r="939.14"/>
<line x1="731.95" y1="837.00" x2="731.95" y2="-563.00"/>
<line x1="754.71" y1="752.06" x2="1094.30" y2="-515.30"/>
<line x1="775.92" y1="760.85" x2="1431.95" y2="-375.44"/>
<line x1="794.13" y1="774.82" x2="1721.90" y2="-152.95"/>
<line x1="808.10" y1="793.03" x2="1944.39" y2="137.00"/>
<line x1="816.89" y1="814.24" x2="2084.25" y2="474.65"/>
<line x1="731.95" y1="837.00" x2="2131.95" y2="837.00"/>
<line x1="816.89" y1="859.76" x2="2084.25" y2="1199.35"/>
<line x1="808.10" y1="880.97" x2="1944.39" y2="1537.00"/>
<line x1="794.13" y1="899.18" x2="1721.90" y2="1826.95"/>
<line x1="775.92" y1="913.15" x2="1431.95" y2="2049.44"/>
<line x1="754.71" y1="921.94" x2="1094.30" y2="2189.30"/>
<line x1="731.95" y1="837.00" x2="731.95" y2="2237.00"/>
<line x1="709.19" y1="921.94" x2="369.60" y2="2189.30"/>
<line x1="687.98" y1="913.15" x2="31.95" y2="2049.44"/>
<line x1="669.77" y1="899.18" x2="-258.00" y2="1826.95"/>
<line x1="655.80" y1="880.97" x2="-480.49" y2="1537.00"/>
<line x1="647.01" y1="859.76" x2="-620.35" y2="1199.35"/>
<line x1="731.95" y1="837.00" x2="-668.05" y2="837.00"/>
<line x1="647.01" y1="814.24" x2="-620.35" y2="474.65"/>
<line x1="655.80" y1="793.03" x2="-480.49" y2="137.00"/>
<line x1="669.77" y1="774.82" x2="-258.00" y2="-152.95"/>
<line x1="687.98" y1="760.85" x2="31.95" y2="-375.44"/>
<line x1="709.19" y1="752.06" x2="369.60" y2="-515.30"/>
</g>
</g>
<rect x="90.0" y="130.4" width="1283.5" height="1348.5" fill="none" stroke="#000" stroke-width="4.6"/>
<g stroke="#000" stroke-width="2">
<line x1="323.99" y1="130.40" x2="316.49" y2="117.41"/>
<line x1="542.62" y1="130.40" x2="538.73" y2="115.91"/>
<line x1="731.95" y1="130.40" x2="731.95" y2="115.40"/>
<line x1="921.28" y1="130.40" x2="925.17" y2="115.91"/>
<line x1="1139.91" y1="130.40" x2="1147.41" y2="117.41"/>
<line x1="361.35" y1="1478.90" x2="353.85" y2="1491.89"/>
<line x1="559.95" y1="1478.90" x2="556.07" y2="1493.39"/>
<line x1="731.95" y1="1478.90" x2="731.95" y2="1493.90"/>
<line x1="903.95" y1="1478.90" x2="907.83" y2="1493.39"/>
<line x1="1102.55" y1="1478.90" x2="1110.05" y2="1491.89"/>
<line x1="1373.85" y1="1478.90" x2="1384.46" y2="1489.51"/>
<line x1="90.00" y1="151.51" x2="79.05" y2="161.77"/>
<line x1="90.00" y1="304.24" x2="80.42" y2="315.78"/>
<line x1="90.00" y1="483.10" x2="82.76" y2="496.24"/>
<line x1="90.00" y1="1190.90" x2="82.76" y2="1177.76"/>
<line x1="90.00" y1="1369.76" x2="80.42" y2="1358.22"/>
<line x1="1373.50" y1="151.14" x2="1384.45" y2="161.39"/>
<line x1="1373.50" y1="303.76" x2="1383.09" y2="315.29"/>
<line x1="1373.50" y1="482.38" x2="1380.76" y2="495.51"/>
<line x1="1373.50" y1="1191.62" x2="1380.76" y2="1178.49"/>
<line x1="1373.50" y1="1370.24" x2="1383.09" y2="1358.71"/>
</g>
<g font-size="45" fill="#000">
<text x="0" y="16.20" transform="translate(308.59,103.73) rotate(60.00) scale(1,1.07)" text-anchor="end">30<tspan font-size="32" dy="-9">°</tspan><tspan dy="9">W</tspan></text>
<text x="0" y="16.20" transform="translate(534.65,100.65) rotate(75.00) scale(1,1.07)" text-anchor="end">15<tspan font-size="32" dy="-9">°</tspan><tspan dy="9">W</tspan></text>
<text x="0" y="16.20" transform="translate(731.95,99.60) rotate(-90.00) scale(1,1.07)" text-anchor="start">0<tspan font-size="32" dy="-9">°</tspan></text>
<text x="0" y="16.20" transform="translate(929.25,100.65) rotate(-75.00) scale(1,1.07)" text-anchor="start">15<tspan font-size="32" dy="-9">°</tspan><tspan dy="9">E</tspan></text>
<text x="0" y="16.20" transform="translate(1155.31,103.73) rotate(-60.00) scale(1,1.07)" text-anchor="start">30<tspan font-size="32" dy="-9">°</tspan><tspan dy="9">E</tspan></text>
<text x="0" y="16.20" transform="translate(345.95,1505.57) rotate(-60.00) scale(1,1.07)" text-anchor="end">150<tspan font-size="32" dy="-9">°</tspan><tspan dy="9">W</tspan></text>
<text x="0" y="16.20" transform="translate(551.98,1508.65) rotate(-75.00) scale(1,1.07)" text-anchor="end">165<tspan font-size="32" dy="-9">°</tspan><tspan dy="9">W</tspan></text>
<text x="0" y="16.20" transform="translate(731.95,1509.70) rotate(-90.00) scale(1,1.07)" text-anchor="end">180<tspan font-size="32" dy="-9">°</tspan></text>
<text x="0" y="16.20" transform="translate(911.92,1508.65) rotate(75.00) scale(1,1.07)" text-anchor="start">165<tspan font-size="32" dy="-9">°</tspan><tspan dy="9">E</tspan></text>
<text x="0" y="16.20" transform="translate(1117.95,1505.57) rotate(60.00) scale(1,1.07)" text-anchor="start">150<tspan font-size="32" dy="-9">°</tspan><tspan dy="9">E</tspan></text>
<text x="0" y="16.20" transform="translate(1395.63,1500.68) rotate(45.00) scale(1,1.07)" text-anchor="start">135<tspan font-size="32" dy="-9">°</tspan><tspan dy="9">E</tspan></text>
<text x="0" y="16.20" transform="translate(67.52,172.57) rotate(-43.12) scale(1,1.07)" text-anchor="end">40<tspan font-size="32" dy="-9">°</tspan><tspan dy="9">S</tspan></text>
<text x="0" y="16.20" transform="translate(70.33,327.94) rotate(-50.31) scale(1,1.07)" text-anchor="end">45<tspan font-size="32" dy="-9">°</tspan><tspan dy="9">S</tspan></text>
<text x="0" y="16.20" transform="translate(75.13,510.08) rotate(-61.13) scale(1,1.07)" text-anchor="end">50<tspan font-size="32" dy="-9">°</tspan><tspan dy="9">S</tspan></text>
<text x="0" y="16.20" transform="translate(75.13,1163.92) rotate(61.13) scale(1,1.07)" text-anchor="end">50<tspan font-size="32" dy="-9">°</tspan><tspan dy="9">S</tspan></text>
<text x="0" y="16.20" transform="translate(70.33,1346.06) rotate(50.31) scale(1,1.07)" text-anchor="end">45<tspan font-size="32" dy="-9">°</tspan><tspan dy="9">S</tspan></text>
<text x="0" y="16.20" transform="translate(1395.99,172.18) rotate(43.09) scale(1,1.07)" text-anchor="start">40<tspan font-size="32" dy="-9">°</tspan><tspan dy="9">S</tspan></text>
<text x="0" y="16.20" transform="translate(1393.19,327.44) rotate(50.27) scale(1,1.07)" text-anchor="start">45<tspan font-size="32" dy="-9">°</tspan><tspan dy="9">S</tspan></text>
<text x="0" y="16.20" transform="translate(1388.40,509.34) rotate(61.07) scale(1,1.07)" text-anchor="start">50<tspan font-size="32" dy="-9">°</tspan><tspan dy="9">S</tspan></text>
<text x="0" y="16.20" transform="translate(1388.40,1164.66) rotate(-61.07) scale(1,1.07)" text-anchor="start">50<tspan font-size="32" dy="-9">°</tspan><tspan dy="9">S</tspan></text>
<text x="0" y="16.20" transform="translate(1393.19,1346.56) rotate(-50.27) scale(1,1.07)" text-anchor="start">45<tspan font-size="32" dy="-9">°</tspan><tspan dy="9">S</tspan></text>
</g>
<rect x="764.00" y="1621" width="57.95" height="24" fill="#00008c"/>
<rect x="821.65" y="1621" width="57.95" height="24" fill="#1e90ff"/>
<rect x="879.30" y="1621" width="57.95" height="24" fill="#20f8a0"/>
<rect x="936.95" y="1621" width="57.95" height="24" fill="#228b22"/>
<rect x="994.60" y="1621" width="57.95" height="24" fill="#00ff00"/>
<rect x="1052.25" y="1621" width="57.95" height="24" fill="#80ff00"/>
<rect x="1109.90" y="1621" width="57.95" height="24" fill="#adff2f"/>
<rect x="1167.55" y="1621" width="57.95" height="24" fill="#ffff00"/>
<rect x="1225.20" y="1621" width="29.12" height="24" fill="#ff8000"/>
<rect x="1254.03" y="1621" width="29.12" height="24" fill="#ff0000"/>
<rect x="1282.85" y="1621" width="29.12" height="24" fill="#ba55d3"/>
<rect x="1311.67" y="1621" width="25.09" height="24" fill="#9400d3"/>
<rect x="1336.46" y="1621" width="4.91" height="24" fill="#78005a"/>
<rect x="763.9" y="1619.8" width="577.7" height="26.2" fill="none" stroke="#000" stroke-width="4.2"/>
<line x1="764.00" y1="1646" x2="764.00" y2="1662" stroke="#000" stroke-width="2"/>
<line x1="908.12" y1="1646" x2="908.12" y2="1662" stroke="#000" stroke-width="2"/>
<line x1="1052.25" y1="1646" x2="1052.25" y2="1662" stroke="#000" stroke-width="2"/>
<line x1="1196.38" y1="1646" x2="1196.38" y2="1662" stroke="#000" stroke-width="2"/>
<line x1="1340.50" y1="1646" x2="1340.50" y2="1662" stroke="#000" stroke-width="2"/>
<g fill="#000">
<text x="1354" y="1650" font-size="46">C[%]</text>
<text x="762.6" y="1708.4" font-size="46.5" text-anchor="middle">0</text>
<text x="907.6" y="1708.4" font-size="46.5" text-anchor="middle">25</text>
<text x="1052.3" y="1708.4" font-size="46.5" text-anchor="middle">50</text>
<text x="1196.5" y="1708.4" font-size="46.5" text-anchor="middle">75</text>
<text x="1340.8" y="1708.4" font-size="46.5" text-anchor="middle">100</text>
<text transform="translate(1056.3,1756.8) scale(0.976,1)" font-size="40" text-anchor="middle">Ice Concentration</text>
<text transform="translate(22.3,1661.5) scale(0.949,1)" font-size="70.6">Nov 10 2025</text>
<text transform="translate(24.8,1719.5) scale(0.958,1)" font-size="69.5">Antarctic3125NoLandMask</text>
<text transform="translate(25,1763.3) scale(1.028,1)" font-size="32.5">ASI (from AMSR2) ver. 5.4,&#160; Grid 3.125 km</text>
</g>
</svg>
</body></html>
